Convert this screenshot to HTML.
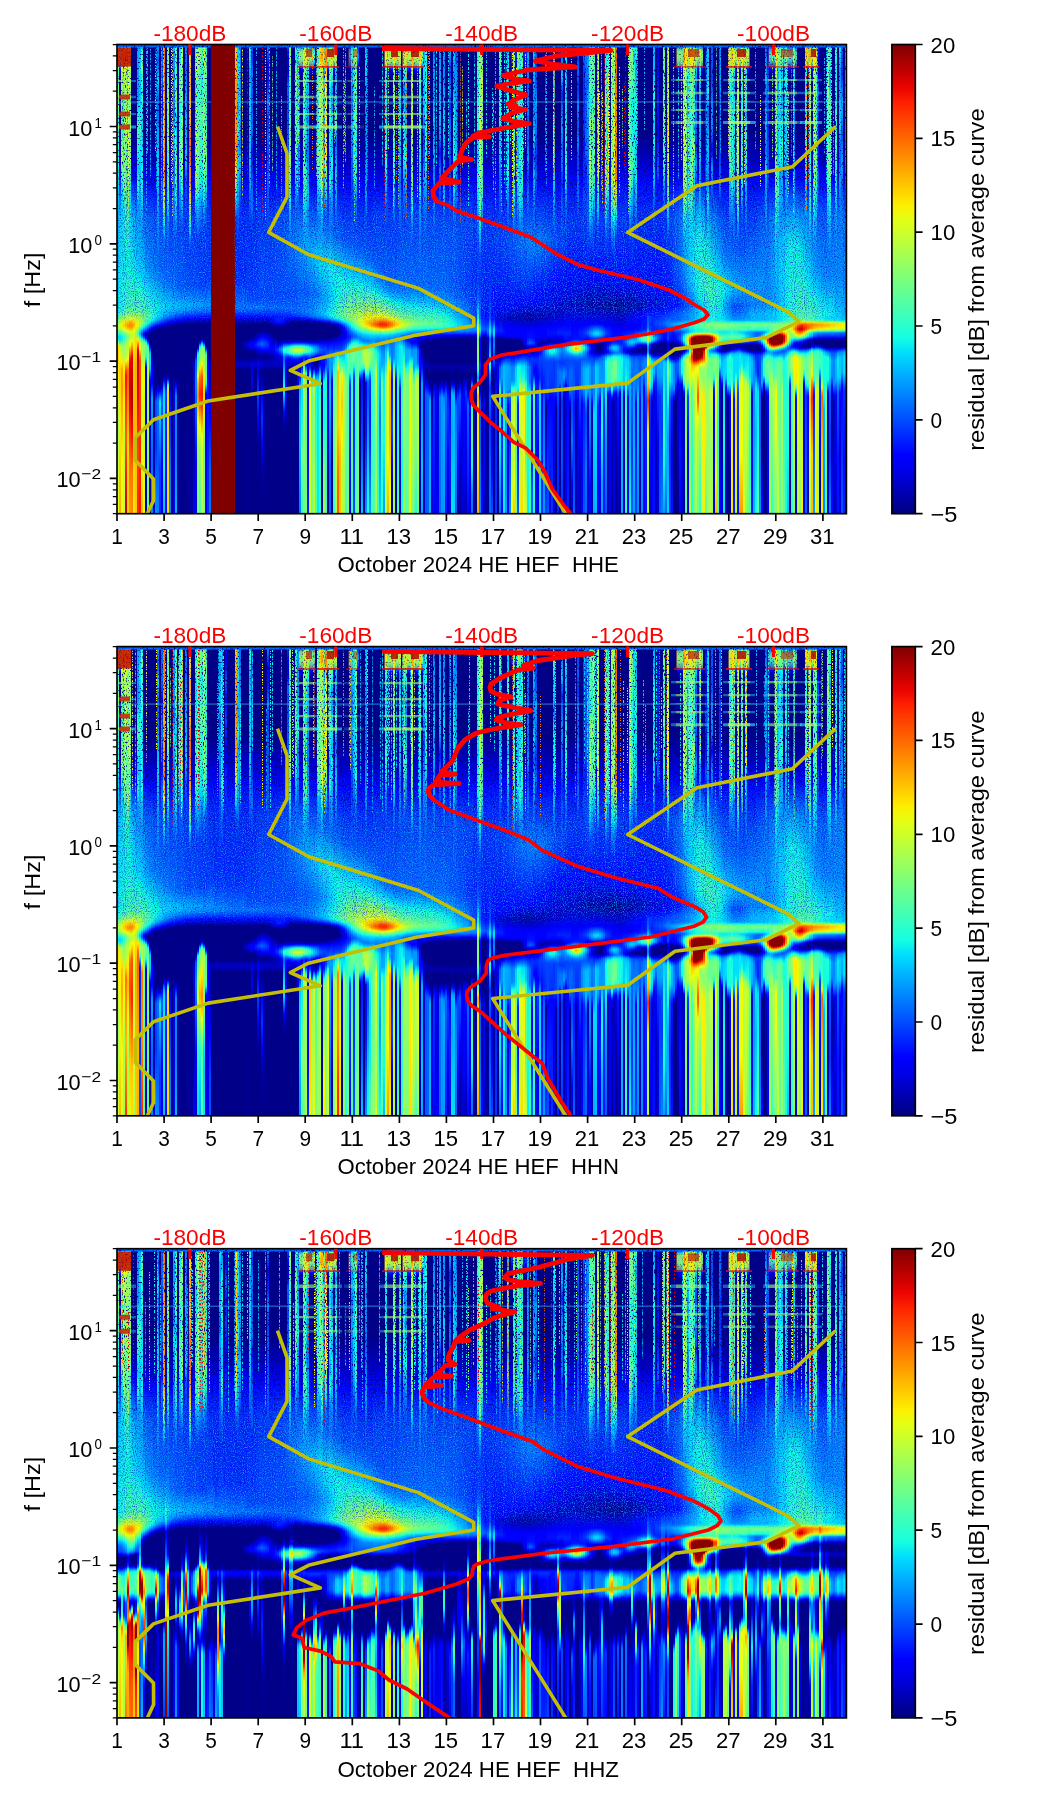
<!DOCTYPE html><html><head><meta charset="utf-8"><title>spectrogram</title><style>html,body{margin:0;padding:0;background:#fff}body{width:1052px;height:1806px;position:relative;overflow:hidden;font-family:"Liberation Sans",sans-serif}.p{position:absolute;left:117px;width:730px;height:469px;display:flex;overflow:hidden}.p i{display:block;flex:1 1 0;height:100%}</style></head><body><div class="p" style="top:45px"><i style="background:linear-gradient(#06f,#06f 2px,#ef1 3px,#fe0 5px,#fc0 10px,#ef0 15px,#6f8 24px,#4fb 32px,#8f6 55px,#4fb 73px,#1fd 122px,#0df 143px,#0bf 174px,#0ee 262px,#2fc 268px,#bf4 280px,#9f6 284px,#2fd 289px,#0df 291px,#0df 294px,#1fd 295px,#df2 300px,#fd0 302px,#fc0 312px,#fe0 328px,#af5 384px,#ef1)"></i><i style="background:linear-gradient(#06f,#06f 2px,#0bf 3px,#2fc 5px,#7f8 8px,#8f6 11px,#7f8 14px,#2fc 17px,#0bf 19px,#00f 25px,#00a 29px,#008 35px,#008 80px,#009 102px,#00f 131px,#0df 175px,#1fd 261px,#3fb 268px,#df1 280px,#af4 284px,#0ee 291px,#0df 294px,#cf2 302px,#fe0 316px,#fc0 324px,#fe0 376px,#fa0)"></i><i style="background:linear-gradient(#06f,#06f 2px,#bf3 3px,#fe0 6px,#fa0 13px,#ef1 21px,#af4 28px,#3fb 70px,#3fb 88px,#8f6 106px,#8f7 118px,#1fd 137px,#0df 142px,#2fc 262px,#4fa 268px,#df1 277px,#fe0 280px,#df1 283px,#2fc 290px,#0ee 293px,#9f6 301px,#af5 308px,#fe0 317px,#fa0 324px,#f90 343px,#ef0 416px,#df2)"></i><i style="background:linear-gradient(#06f,#06f 2px,#df2 3px,#fe0 5px,#fa0 12px,#ef1 21px,#bf4 28px,#bf3 38px,#5fa 56px,#8f7 74px,#8f7 144px,#1fd 164px,#1ee 219px,#3fc 263px,#6f9 269px,#fe0 277px,#fc0 281px,#ef1 284px,#4fb 290px,#2fd 293px,#8f6 300px,#af5 309px,#fe0 323px,#fc0 340px,#fe0 357px,#bf3 394px,#cf3)"></i><i style="background:linear-gradient(#06f,#06f 2px,#fd0 3px,#f90 10px,#ef0 20px,#9f5 31px,#bf3 87px,#5fa 105px,#6f8 141px,#1fd 219px,#4fb 263px,#7f8 269px,#fe0 276px,#fa0 280px,#fd0 284px,#ef1 285px,#7f7 289px,#5fa 292px,#af5 299px,#bf4 311px,#ef1 316px,#f40 326px,#f10 331px,#f60 393px,#f10 434px,#b00)"></i><i style="background:linear-gradient(#06f,#06f 2px,#ef1 3px,#fe0 5px,#fc0 11px,#fe0 16px,#7f8 28px,#af5 45px,#5fa 63px,#af4 99px,#6f9 135px,#bf3 153px,#3fc 179px,#1fd 217px,#4fa 263px,#7f8 268px,#df1 274px,#fd0 276px,#f80 281px,#ef1 286px,#9f5 289px,#8f7 292px,#bf3 298px,#ef1 314px,#f70 325px,#f60 332px,#fd0 402px,#fc0)"></i><i style="background:linear-gradient(#06f,#06f 2px,#ee0 3px,#fe0 4px,#fa0 11px,#df1 20px,#9f5 28px,#7f8 52px,#9f5 70px,#6f9 88px,#9f5 106px,#4fb 124px,#0df 167px,#1fd 223px,#4fa 261px,#7f7 268px,#ef1 274px,#f90 278px,#f80 281px,#df1 287px,#af4 291px,#ef1 300px,#f20 313px,#e00 317px,#c00 342px,#e00 363px,#f60 415px,#f90)"></i><i style="background:linear-gradient(#06f,#06f 2px,#008 3px,#008 7px,#008 88px,#00f 132px,#0cf 174px,#1fd 228px,#5fa 263px,#7f7 268px,#ef1 274px,#f80 280px,#f90 282px,#df1 287px,#bf3 291px,#ef1 296px,#f20 309px,#e00 312px,#a00 351px,#f10 390px,#f70 428px,#f80)"></i><i style="background:linear-gradient(#06f,#06f 2px,#008 3px,#008 88px,#00f 133px,#0bf 174px,#1fd 231px,#5f9 264px,#df1 274px,#fd0 276px,#fa0 280px,#ef0 285px,#bf4 289px,#fe0 296px,#fc0 319px,#fb0 379px,#fe0)"></i><i style="background:linear-gradient(#06f,#06f 2px,#008 3px,#008 13px,#008 89px,#00f 134px,#09f 173px,#0df 217px,#1fd 234px,#5f9 264px,#fe0 277px,#fe0 282px,#8f6 288px,#fd0 296px,#fa0 322px,#fc0)"></i><i style="background:linear-gradient(#06f,#06f 2px,#0af 3px,#09f 52px,#1fd 71px,#4fa 89px,#1fd 105px,#0cf 124px,#1fd 132px,#3fb 142px,#1fd 146px,#09f 161px,#0df 225px,#1fd 236px,#5fa 263px,#df1 278px,#cf2 281px,#4fb 287px,#3fb 289px,#6f9 291px,#df2 294px,#fe0 295px,#f20 303px,#d00 306px,#b00 312px,#e00 352px,#f40 404px,#f20)"></i><i style="background:linear-gradient(#06f,#06f 2px,#0af 3px,#1ee 27px,#0bf 45px,#0df 65px,#4fb 81px,#0df 110px,#09f 177px,#0df 229px,#1fd 239px,#5fa 263px,#bf3 277px,#9f6 281px,#0ee 286px,#0bf 288px,#0df 291px,#1fd 292px,#9f6 296px,#ef1 304px,#f70 311px,#f40 316px,#f10)"></i><i style="background:linear-gradient(#06f,#06f 2px,#2fd 3px,#7f8 21px,#1fe 39px,#3fc 58px,#0df 75px,#1fe 142px,#09f 183px,#0df 233px,#1fd 242px,#4fa 263px,#9f5 275px,#8f7 279px,#2fd 283px,#0bf 285px,#04f 289px,#06f 291px,#0cf 293px,#1fe 294px,#9f6 298px,#9f5 310px,#df1 326px,#cf2 390px,#ef1 418px,#fb0)"></i><i style="background:linear-gradient(#06f,#06f 2px,#008 3px,#008 30px,#008 90px,#00f 137px,#06f 171px,#0df 236px,#1fd 245px,#7f7 274px,#6f9 278px,#2fc 281px,#0cf 283px,#00f 288px,#00f 290px,#03f 292px,#0df 295px,#2fc 296px,#8f7 299px,#8f6 308px,#ef0 325px,#cf2 396px,#ef1)"></i><i style="background:linear-gradient(#06f,#06f 2px,#008 3px,#008 39px,#008 91px,#00f 138px,#06f 170px,#09f 221px,#0df 239px,#1fd 248px,#6f8 273px,#2fc 279px,#0df 281px,#00f 287px,#00a 290px,#00c 292px,#00f 293px,#0ee 297px,#3fc 298px,#6f9 300px,#6f9 306px,#2fc 312px,#0df 314px,#00f 322px,#00c 326px,#00d 379px,#00b 431px,#00b)"></i><i style="background:linear-gradient(#06f,#06f 2px,#008 3px,#008 39px,#008 91px,#00f 138px,#05f 172px,#09f 223px,#0df 242px,#1fd 252px,#5fa 272px,#1fd 278px,#0cf 280px,#01f 285px,#008 290px,#008 293px,#00f 296px,#0cf 300px,#1fd 301px,#4fb 303px,#bf4 324px,#7f7)"></i><i style="background:linear-gradient(#06f,#06f 2px,#008 3px,#008 11px,#008 88px,#00f 139px,#05f 171px,#08f 224px,#1fd 255px,#4fb 271px,#2fd 276px,#0df 278px,#00f 284px,#00e 285px,#008 288px,#008 298px,#008 299px,#00f 302px,#0cf 308px,#0df 319px,#0bf 324px,#00f 335px,#00d 339px,#00e 383px,#008)"></i><i style="background:linear-gradient(#06f,#06f 2px,#008 3px,#008 11px,#008 88px,#00f 139px,#05f 171px,#08f 225px,#1fd 257px,#3fc 270px,#1fd 275px,#00f 283px,#009 286px,#008 288px,#008 310px,#00f 319px,#00f 339px,#08f 350px,#0af 355px,#06f 411px,#08f)"></i><i style="background:linear-gradient(#06f,#06f 2px,#008 3px,#008 11px,#008 88px,#00f 139px,#04f 171px,#07f 224px,#0df 251px,#1fd 259px,#2fd 272px,#0cf 276px,#00f 282px,#008 286px,#008 317px,#00a 322px,#008 367px,#00d)"></i><i style="background:linear-gradient(#06f,#06f 2px,#008 3px,#008 10px,#008 88px,#00f 140px,#04f 170px,#07f 225px,#1fd 260px,#1fd 269px,#0bf 275px,#00f 281px,#008 285px,#008 295px,#008 340px,#00f 349px,#05f 357px,#03f 401px,#09f)"></i><i style="background:linear-gradient(#06f,#06f 2px,#09f 3px,#05f 17px,#0df 35px,#06f 53px,#06f 71px,#0af 89px,#0df 125px,#06f 214px,#08f 234px,#1fd 263px,#0cf 273px,#00e 281px,#008 284px,#008 285px,#008 338px,#00f 346px,#07f 355px,#05f 420px,#08f)"></i><i style="background:linear-gradient(#06f,#06f 2px,#008 3px,#008 10px,#008 88px,#00f 140px,#04f 170px,#06f 227px,#1ee 263px,#0cf 272px,#00f 280px,#008 284px,#008 341px,#00f 346px,#0bf 354px,#0ee 358px,#03f 426px,#02f)"></i><i style="background:linear-gradient(#06f,#06f 35px,#00f 55px,#07f 89px,#02f 107px,#01f 125px,#07f 143px,#04f 169px,#06f 226px,#0ee 263px,#0bf 272px,#00f 279px,#008 283px,#008 337px,#00f 344px,#06f 353px,#00f 418px,#00e)"></i><i style="background:linear-gradient(#06f,#06f 2px,#f70 3px,#f70 6px,#fa0 77px,#f80 131px,#fe0 150px,#bf3 161px,#1fd 180px,#0df 184px,#07f 196px,#05f 207px,#07f 239px,#0ee 262px,#0af 271px,#00e 279px,#008 283px,#008 330px,#00f 336px,#0af 343px,#0df 348px,#1fd 421px,#0bf)"></i><i style="background:linear-gradient(#06f,#06f 2px,#008 3px,#008 7px,#008 88px,#00f 141px,#03f 170px,#06f 232px,#0df 262px,#09f 271px,#00f 278px,#008 282px,#008 331px,#00f 341px,#03f 349px,#00f 406px,#00f)"></i><i style="background:linear-gradient(#06f,#06f 2px,#7f7 3px,#5fa 23px,#5f9 40px,#9f6 59px,#4fa 77px,#8f7 95px,#3fc 113px,#5f9 137px,#2fd 157px,#0df 163px,#07f 184px,#05f 202px,#07f 241px,#0df 262px,#09f 271px,#00f 277px,#008 282px,#008 330px,#00f 334px,#0bf 338px,#1ee 339px,#3fb 340px,#cf3 344px,#fd0 347px,#fd0)"></i><i style="background:linear-gradient(#06f,#06f 2px,#008 3px,#008 6px,#008 88px,#00f 141px,#03f 170px,#06f 237px,#0df 261px,#09f 269px,#00f 277px,#008 281px,#008 338px,#00f 348px,#07f 426px,#08f)"></i><i style="background:linear-gradient(#06f,#06f 2px,#008 3px,#008 7px,#008 88px,#00f 141px,#03f 170px,#06f 239px,#0cf 261px,#09f 269px,#00f 276px,#008 281px,#008)"></i><i style="background:linear-gradient(#06f,#06f 2px,#0cf 3px,#09f 17px,#0af 35px,#07f 70px,#0ee 89px,#07f 124px,#0af 151px,#05f 193px,#05f 219px,#07f 245px,#0cf 261px,#0af 267px,#00f 276px,#008 281px,#008 332px,#00e 347px,#00f)"></i><i style="background:linear-gradient(#06f,#06f 2px,#5fa 3px,#3fc 35px,#8f6 52px,#2fd 67px,#0df 71px,#0df 90px,#4fa 107px,#5f9 124px,#1fd 153px,#0df 162px,#05f 196px,#06f 242px,#0cf 261px,#09f 267px,#00f 275px,#008 280px,#008 334px,#00f 341px,#08f 351px,#08f 410px,#0bf)"></i><i style="background:linear-gradient(#06f,#06f 2px,#008 3px,#008 7px,#008 88px,#00f 141px,#03f 170px,#05f 241px,#0cf 261px,#09f 267px,#00f 275px,#008 280px,#009)"></i><i style="background:linear-gradient(#06f,#06f 2px,#0ee 3px,#1fd 15px,#6f9 29px,#6f8 47px,#1fd 65px,#2fc 83px,#6f9 101px,#1fd 130px,#0df 137px,#08f 155px,#04f 185px,#05f 242px,#0cf 261px,#09f 266px,#00f 275px,#008 280px,#009)"></i><i style="background:linear-gradient(#06f,#06f 2px,#af5 3px,#af4 14px,#7f8 32px,#5f9 68px,#8f6 86px,#6f9 104px,#af5 122px,#1fd 150px,#0df 156px,#06f 174px,#04f 189px,#05f 242px,#0bf 261px,#09f 266px,#00f 274px,#008 280px,#008)"></i><i style="background:linear-gradient(#06f,#06f 2px,#008 3px,#008 7px,#008 88px,#00f 141px,#03f 170px,#05f 241px,#0bf 260px,#09f 265px,#00f 274px,#008 280px,#008)"></i><i style="background:linear-gradient(#06f,#06f 2px,#08f 3px,#06f 26px,#09f 44px,#0cf 111px,#0cf 116px,#05f 135px,#03f 170px,#04f 230px,#05f 245px,#0bf 260px,#09f 265px,#00f 273px,#008 280px,#008)"></i><i style="background:linear-gradient(#06f,#06f 2px,#008 3px,#008 7px,#008 88px,#00f 141px,#03f 170px,#04f 241px,#0bf 260px,#09f 265px,#00f 273px,#008 279px,#00a)"></i><i style="background:linear-gradient(#06f,#06f 2px,#fb0 3px,#fd0 16px,#fa0 34px,#fb0 70px,#f70 88px,#f60 106px,#f90 137px,#fe0 155px,#2fd 181px,#0df 185px,#06f 197px,#03f 210px,#04f 242px,#0bf 261px,#09f 265px,#00f 273px,#008 279px,#008 317px,#009 321px,#008 325px,#009)"></i><i style="background:linear-gradient(#06f,#06f 2px,#008 3px,#008 7px,#008 88px,#00f 141px,#03f 170px,#04f 240px,#0af 260px,#08f 265px,#00f 273px,#008 279px,#008 316px,#00a 320px,#008 326px,#009)"></i><i style="background:linear-gradient(#06f,#06f 2px,#008 3px,#008 7px,#008 88px,#00f 141px,#03f 170px,#04f 240px,#0af 260px,#08f 265px,#00f 273px,#008 279px,#008 313px,#00d 319px,#00e 334px,#00a 401px,#00f)"></i><i style="background:linear-gradient(#06f,#06f 2px,#1fd 3px,#5fa 24px,#0df 42px,#3fb 78px,#4fa 140px,#1fd 154px,#0df 159px,#08f 171px,#03f 195px,#04f 241px,#0af 260px,#08f 265px,#00f 272px,#008 279px,#008 292px,#008 306px,#00f 311px,#05f 316px,#08f 338px,#00f 416px,#00d)"></i><i style="background:linear-gradient(#06f,#06f 2px,#8f7 3px,#af4 13px,#3fc 46px,#7f8 100px,#6f9 135px,#1fd 152px,#0df 159px,#03f 197px,#04f 241px,#0af 260px,#08f 265px,#00f 272px,#008 279px,#008 300px,#00e 303px,#01f 304px,#0df 308px,#2fc 310px,#6f8 321px,#ef0 331px,#fd0 333px,#fa0 340px,#f80 351px,#ef1 377px,#9f6 405px,#7f8)"></i><i style="background:linear-gradient(#06f,#06f 2px,#7f8 3px,#7f7 13px,#3fc 30px,#5fa 66px,#1fd 138px,#0df 146px,#03f 192px,#03f 240px,#0af 260px,#08f 265px,#00f 272px,#008 279px,#008 294px,#00d 297px,#01f 298px,#0cf 301px,#1fd 302px,#6f8 305px,#9f5 315px,#fe0 323px,#f60 333px,#f20 349px,#f50 360px,#ef1 382px,#9f5 403px,#4fb)"></i><i style="background:linear-gradient(#06f,#06f 2px,#5fa 3px,#5f9 11px,#1fd 24px,#1ee 34px,#6f8 72px,#2fd 90px,#3fb 108px,#1fd 122px,#0ee 143px,#07f 162px,#03f 191px,#03f 240px,#0af 260px,#07f 265px,#00f 272px,#008 279px,#008 292px,#008 293px,#00d 295px,#01f 296px,#0df 299px,#2fc 300px,#8f6 303px,#af4 313px,#ef0 319px,#f50 331px,#f10 349px,#f30 360px,#ef1 390px,#af5)"></i><i style="background:linear-gradient(#06f,#06f 2px,#af5 3px,#cf2 12px,#5fa 39px,#8f6 58px,#7f8 76px,#9f5 94px,#7f7 130px,#1fd 153px,#0df 158px,#06f 176px,#03f 195px,#03f 240px,#09f 260px,#07f 265px,#00f 272px,#008 279px,#008 295px,#00d 297px,#01f 298px,#0cf 301px,#2fd 302px,#6f8 304px,#8f6 306px,#fe0 338px,#fd0 350px,#fe0 362px,#8f6 388px,#6f8 407px,#8f7)"></i><i style="background:linear-gradient(#06f,#06f 2px,#1fe 3px,#1fd 5px,#5fa 22px,#1fd 76px,#5f9 112px,#1fd 139px,#06f 165px,#03f 188px,#03f 240px,#09f 260px,#07f 265px,#00f 272px,#008 279px,#008 300px,#00e 303px,#0bf 307px,#2fc 309px,#4fa 311px,#6f9 333px,#1fd 339px,#0cf 341px,#00f 349px,#00d 394px,#00f)"></i><i style="background:linear-gradient(#06f,#06f 2px,#008 3px,#008 6px,#008 88px,#00f 136px,#03f 169px,#03f 235px,#09f 260px,#07f 265px,#00f 272px,#008 278px,#008 286px,#008 310px,#00f 317px,#03f)"></i><i style="background:linear-gradient(#06f,#06f 2px,#008 3px,#008 6px,#008 88px,#00f 136px,#02f 169px,#03f 234px,#09f 260px,#07f 265px,#00f 272px,#008 278px,#008 281px,#008 313px,#00b 319px,#00a 340px,#00f 357px,#00f 373px,#06f 424px,#07f)"></i><i style="background:#800"></i><i style="background:#800"></i><i style="background:#800"></i><i style="background:#800"></i><i style="background:#800"></i><i style="background:#800"></i><i style="background:#800"></i><i style="background:#800"></i><i style="background:#800"></i><i style="background:#800"></i><i style="background:#800"></i><i style="background:#800"></i><i style="background:linear-gradient(#06f,#06f 2px,#fc0 3px,#f90 39px,#f90 108px,#fe0 125px,#1fd 152px,#0df 156px,#05f 170px,#02f 182px,#02f 236px,#07f 263px,#00f 272px,#008 279px,#008 313px,#00c 319px,#008 325px,#008)"></i><i style="background:linear-gradient(#06f,#06f 2px,#0cf 3px,#0ee 29px,#0af 64px,#1fd 84px,#0af 101px,#0df 119px,#0af 151px,#05f 172px,#02f 194px,#02f 237px,#07f 263px,#00f 272px,#008 279px,#008 313px,#00c 319px,#008 325px,#008)"></i><i style="background:linear-gradient(#06f,#08f 24px,#08f 42px,#0bf 60px,#06f 96px,#0cf 114px,#02f 168px,#02f 235px,#07f 263px,#00f 272px,#008 279px,#008 313px,#00c 319px,#008 325px,#008)"></i><i style="background:linear-gradient(#06f,#06f 2px,#008 3px,#008 88px,#00f 137px,#02f 167px,#02f 235px,#07f 263px,#00f 272px,#008 279px,#008 296px,#009 300px,#008 313px,#00c 319px,#008 325px,#008)"></i><i style="background:linear-gradient(#06f,#06f 2px,#008 3px,#008 88px,#00f 137px,#02f 167px,#02f 235px,#07f 263px,#00f 272px,#008 279px,#008 295px,#00b 300px,#008 305px,#008 313px,#00c 319px,#008 325px,#008)"></i><i style="background:linear-gradient(#06f,#06f 2px,#008 3px,#008 88px,#00f 137px,#02f 167px,#02f 235px,#05f 256px,#07f 263px,#00f 272px,#008 279px,#008 294px,#00d 300px,#008 306px,#008 313px,#00c 319px,#008 325px,#009)"></i><i style="background:linear-gradient(#06f,#06f 2px,#008 3px,#008 88px,#00f 137px,#02f 168px,#03f 236px,#04f 256px,#07f 263px,#00f 272px,#008 279px,#008 294px,#00e 300px,#008 306px,#008 313px,#00c 319px,#008 325px,#008)"></i><i style="background:linear-gradient(#06f,#06f 2px,#2fc 3px,#1fd 16px,#09f 30px,#0df 48px,#0cf 116px,#02f 181px,#03f 236px,#04f 255px,#07f 263px,#00f 272px,#008 279px,#008 293px,#00f 299px,#00f 301px,#008 307px,#008 313px,#00c 319px,#008 325px,#008)"></i><i style="background:linear-gradient(#06f,#03f 13px,#08f 31px,#05f 49px,#07f 85px,#01f 104px,#07f 157px,#02f 186px,#02f 233px,#04f 255px,#07f 263px,#00f 272px,#008 279px,#008 292px,#00f 298px,#00f 302px,#008 307px,#008 312px,#00e 319px,#00d 326px,#00f 338px,#009 351px,#008 359px,#008)"></i><i style="background:linear-gradient(#06f,#06f 2px,#008 3px,#008 88px,#00f 140px,#02f 168px,#03f 237px,#04f 255px,#07f 263px,#00f 272px,#008 279px,#008 290px,#00f 298px,#00f 302px,#009 306px,#008 309px,#008 313px,#00d 319px,#008 327px,#008)"></i><i style="background:linear-gradient(#06f,#06f 2px,#008 3px,#008 88px,#00f 136px,#02f 169px,#03f 238px,#04f 255px,#07f 263px,#00f 272px,#008 279px,#008 288px,#00f 297px,#02f 300px,#00f 303px,#00a 306px,#008 310px,#008 313px,#00c 319px,#008 325px,#008)"></i><i style="background:linear-gradient(#06f,#06f 2px,#008 3px,#008 88px,#00f 136px,#03f 169px,#03f 239px,#04f 255px,#07f 263px,#00f 272px,#008 279px,#008 286px,#00f 295px,#04f 299px,#00f 304px,#00b 308px,#009 312px,#00f 318px,#00d 326px,#00f 331px,#04f 350px,#00f 373px,#009 400px,#008)"></i><i style="background:linear-gradient(#06f,#06f 2px,#008 3px,#008 88px,#00f 136px,#03f 169px,#04f 253px,#07f 263px,#00f 272px,#008 279px,#008 286px,#00f 293px,#05f 299px,#00f 304px,#008 312px,#00d 319px,#008 327px,#00b 362px,#008 399px,#008)"></i><i style="background:linear-gradient(#06f,#06f 2px,#008 3px,#008 88px,#00f 136px,#03f 169px,#04f 253px,#07f 263px,#00f 272px,#008 278px,#008 285px,#00f 292px,#06f 299px,#00f 305px,#008 312px,#00d 319px,#008 327px,#00f 351px,#03f 375px,#00f 399px,#009 428px,#008)"></i><i style="background:linear-gradient(#06f,#06f 2px,#008 3px,#008 88px,#00f 136px,#03f 170px,#04f 253px,#06f 263px,#00f 272px,#008 278px,#008 285px,#00f 292px,#05f 299px,#00f 305px,#008 311px,#00c 319px,#008 325px,#00b 375px,#008)"></i><i style="background:linear-gradient(#06f,#06f 2px,#008 3px,#008 88px,#00f 136px,#03f 170px,#04f 253px,#06f 263px,#00f 272px,#008 279px,#008 286px,#00f 293px,#04f 299px,#00f 305px,#008 311px,#00c 319px,#008 325px,#008)"></i><i style="background:linear-gradient(#06f,#07f 4px,#00f 21px,#02f 39px,#08f 57px,#03f 75px,#06f 93px,#04f 111px,#06f 129px,#03f 189px,#04f 253px,#06f 263px,#00f 272px,#008 279px,#008 286px,#00f 294px,#03f 300px,#00f 305px,#008 312px,#00c 319px,#008 325px,#008)"></i><i style="background:linear-gradient(#06f,#06f 2px,#008 3px,#008 88px,#00f 140px,#03f 171px,#04f 254px,#06f 263px,#00f 273px,#008 281px,#008 287px,#00f 297px,#00f 305px,#009 311px,#00c 319px,#008 325px,#008)"></i><i style="background:linear-gradient(#06f,#06f 2px,#008 3px,#008 88px,#00f 136px,#03f 172px,#04f 253px,#06f 263px,#00f 274px,#008 282px,#008 288px,#00f 301px,#00f 306px,#009 312px,#00c 319px,#008 325px,#008)"></i><i style="background:linear-gradient(#06f,#06f 2px,#008 3px,#008 88px,#00f 136px,#03f 172px,#04f 254px,#06f 263px,#00f 272px,#00f 276px,#008 282px,#008 291px,#00f 302px,#00f 307px,#00a 312px,#00c 319px,#008 325px,#008)"></i><i style="background:linear-gradient(#06f,#06f 2px,#008 3px,#008 88px,#00f 140px,#04f 171px,#04f 253px,#06f 263px,#01f 272px,#00f 278px,#008 282px,#008 293px,#01f 302px,#02f 305px,#00f 308px,#00b 313px,#00c 319px,#008 325px,#008)"></i><i style="background:linear-gradient(#06f,#06f 2px,#008 3px,#008 88px,#00f 136px,#04f 172px,#04f 253px,#06f 263px,#01f 272px,#02f 276px,#00f 278px,#008 282px,#008 283px,#008 294px,#00f 301px,#04f 305px,#00f 309px,#00b 313px,#00c 320px,#008 325px,#008)"></i><i style="background:linear-gradient(#06f,#06f 2px,#008 3px,#008 88px,#00f 140px,#04f 173px,#04f 252px,#06f 263px,#01f 272px,#02f 276px,#00f 278px,#008 282px,#008 283px,#008 295px,#00f 300px,#06f 303px,#07f 305px,#00e 311px,#00c 314px,#00c 320px,#008 325px,#008)"></i><i style="background:linear-gradient(#06f,#06f 2px,#008 3px,#008 6px,#008 88px,#00f 135px,#04f 174px,#04f 252px,#06f 263px,#01f 272px,#00f 278px,#008 282px,#008 294px,#009 296px,#00f 299px,#08f 303px,#0af 305px,#00f 312px,#00c 320px,#008 325px,#008)"></i><i style="background:linear-gradient(#06f,#06f 2px,#008 3px,#008 8px,#008 88px,#01f 144px,#05f 175px,#04f 252px,#06f 263px,#00f 276px,#00e 278px,#008 282px,#008 292px,#009 295px,#00f 298px,#0bf 302px,#2fd 304px,#2fd 307px,#08f 311px,#06f 314px,#1fe 342px,#0cf 350px,#00f 367px,#00a 379px,#008 391px,#008)"></i><i style="background:linear-gradient(#06f,#06f 2px,#008 3px,#008 8px,#008 88px,#00f 135px,#05f 176px,#04f 251px,#06f 263px,#00f 274px,#008 281px,#008 293px,#00a 296px,#00f 298px,#1fd 303px,#3fb 305px,#2fd 307px,#0df 308px,#03f 312px,#00f 315px,#00f 322px,#00c 326px,#00e 343px,#008 385px,#008)"></i><i style="background:linear-gradient(#06f,#06f 2px,#03f 3px,#00f 13px,#00d 23px,#00f 29px,#06f 41px,#04f 59px,#07f 131px,#04f 167px,#06f 197px,#04f 252px,#06f 264px,#00f 273px,#008 281px,#008 294px,#00f 298px,#0ee 302px,#5fa 305px,#3fb 307px,#1fe 308px,#0bf 309px,#02f 312px,#00f 314px,#00c 320px,#008 325px,#008)"></i><i style="background:linear-gradient(#06f,#06f 2px,#7f8 3px,#8f6 9px,#2fd 45px,#8f7 116px,#1fd 154px,#0af 170px,#07f 192px,#04f 248px,#06f 264px,#00f 273px,#008 277px,#008 293px,#009 295px,#00d 297px,#00f 298px,#0cf 301px,#2fc 302px,#7f7 305px,#3fc 308px,#0ee 309px,#03f 312px,#00f 314px,#00d 319px,#008 325px,#008)"></i><i style="background:linear-gradient(#06f,#06f 2px,#008 3px,#008 88px,#00f 140px,#05f 172px,#07f 197px,#04f 248px,#06f 264px,#05f 268px,#00f 273px,#008 277px,#008 293px,#009 295px,#00e 297px,#01f 298px,#0ee 301px,#7f8 303px,#9f5 305px,#7f7 307px,#2fd 309px,#0bf 310px,#04f 312px,#00f 315px,#008 325px,#008)"></i><i style="background:linear-gradient(#06f,#06f 2px,#008 3px,#008 88px,#00f 140px,#06f 173px,#07f 197px,#04f 247px,#06f 264px,#04f 269px,#00f 273px,#008 277px,#008 293px,#009 295px,#00e 297px,#01f 298px,#1fd 301px,#8f6 303px,#bf4 305px,#9f6 307px,#3fc 309px,#0df 310px,#03f 313px,#00f 315px,#008 326px,#008)"></i><i style="background:linear-gradient(#06f,#06f 2px,#4fb 3px,#0ee 13px,#8f6 32px,#5fa 50px,#5f9 103px,#1fd 120px,#0df 132px,#06f 167px,#08f 202px,#04f 249px,#06f 265px,#04f 269px,#00f 273px,#008 277px,#008 293px,#009 295px,#00e 297px,#02f 298px,#0bf 300px,#2fc 301px,#9f6 303px,#cf3 305px,#9f5 307px,#3fb 309px,#0df 310px,#03f 313px,#00f 315px,#00a 323px,#008 354px,#008)"></i><i style="background:linear-gradient(#06f,#06f 2px,#09f 3px,#09f 49px,#0df 68px,#1fe 85px,#07f 104px,#0af 122px,#05f 157px,#08f 198px,#05f 246px,#06f 264px,#05f 269px,#00f 273px,#008 277px,#008 293px,#009 295px,#00e 297px,#02f 298px,#0bf 300px,#2fc 301px,#9f5 303px,#cf2 305px,#af5 307px,#4fb 309px,#0df 310px,#03f 313px,#00f 316px,#00f 335px,#009 353px,#009)"></i><i style="background:linear-gradient(#06f,#06f 2px,#1fe 7px,#3fb 11px,#2fd 14px,#0df 16px,#00f 24px,#00a 29px,#008 35px,#008 80px,#00f 140px,#07f 176px,#09f 200px,#05f 246px,#06f 265px,#04f 270px,#00f 273px,#008 277px,#008 293px,#009 295px,#00e 297px,#02f 298px,#0bf 300px,#2fc 301px,#9f6 303px,#cf3 305px,#9f5 307px,#3fb 309px,#0df 310px,#05f 312px,#00f 314px,#00b 318px,#00b 323px,#00f 331px,#0af 342px,#0cf 360px,#0cf 398px,#07f)"></i><i style="background:linear-gradient(#06f,#06f 2px,#1fe 7px,#3fb 11px,#2fd 14px,#0df 16px,#00f 24px,#00a 29px,#008 35px,#008 80px,#00f 140px,#07f 177px,#09f 201px,#05f 246px,#07f 266px,#05f 270px,#01f 273px,#00f 274px,#008 277px,#008 293px,#009 295px,#00e 297px,#02f 298px,#0bf 300px,#2fd 301px,#8f6 303px,#bf4 305px,#af4 306px,#5fa 308px,#1fe 309px,#0af 310px,#00f 313px,#00c 317px,#00f 321px,#0af 330px,#0df 335px,#0ee 355px,#6f9 410px,#3fb)"></i><i style="background:linear-gradient(#06f,#06f 2px,#7f8 3px,#bf4 13px,#7f7 26px,#7f7 46px,#2fd 64px,#4fa 82px,#5f9 136px,#1fd 160px,#0af 182px,#0af 210px,#05f 243px,#07f 266px,#05f 270px,#00f 274px,#008 277px,#008 293px,#009 295px,#00d 297px,#02f 298px,#0af 300px,#1fe 301px,#4fa 302px,#9f6 305px,#2fc 308px,#0cf 309px,#04f 311px,#02f 313px,#04f 316px,#0df 320px,#1fd 321px,#7f7 325px,#af5 329px,#6f8)"></i><i style="background:linear-gradient(#06f,#06f 2px,#6f9 3px,#bf3 12px,#af5 18px,#2fc 30px,#0df 47px,#0cf 55px,#0ee 91px,#08f 109px,#1fd 125px,#3fb 145px,#1fd 153px,#0df 160px,#0af 178px,#0af 210px,#05f 248px,#07f 266px,#06f 270px,#00f 274px,#008 277px,#008 293px,#009 295px,#00d 297px,#01f 298px,#09f 300px,#0df 301px,#3fc 302px,#7f7 305px,#4fb 307px,#1fd 308px,#0bf 309px,#04f 311px,#00f 313px,#00d 316px,#00f 319px,#02f 321px,#1fd 328px,#7f7 335px,#5f9 376px,#7f7)"></i><i style="background:linear-gradient(#06f,#06f 2px,#3fb 3px,#7f7 9px,#8f7 13px,#1fd 26px,#0bf 40px,#07f 112px,#0cf 148px,#08f 172px,#0bf 209px,#05f 247px,#07f 267px,#05f 271px,#00f 274px,#008 277px,#008 294px,#00a 296px,#00d 297px,#01f 298px,#0cf 301px,#1fd 302px,#5f9 305px,#3fc 307px,#0bf 309px,#03f 312px,#00f 316px,#00f 420px,#02f)"></i><i style="background:linear-gradient(#06f,#06f 2px,#1fe 7px,#3fb 11px,#2fd 14px,#0df 16px,#00f 24px,#00a 29px,#008 35px,#008 80px,#00f 140px,#0bf 208px,#06f 247px,#08f 267px,#06f 271px,#01f 274px,#00e 275px,#008 277px,#008 278px,#008 294px,#00a 296px,#00d 297px,#00f 298px,#0af 301px,#2fd 303px,#3fb 305px,#1fd 307px,#0df 308px,#02f 313px,#00f 320px,#03f 323px,#0cf 327px,#2fc 329px,#bf4 334px,#ef1 338px,#cf2)"></i><i style="background:linear-gradient(#06f,#06f 2px,#1fe 7px,#3fb 11px,#2fd 14px,#0df 16px,#00f 24px,#00a 29px,#008 35px,#008 80px,#00f 141px,#0cf 210px,#06f 248px,#08f 268px,#07f 271px,#00f 275px,#009 277px,#008 278px,#008 295px,#00d 297px,#00f 298px,#0bf 302px,#1fd 305px,#0df 307px,#03f 311px,#00f 313px,#00c 316px,#00b 323px,#00f 328px,#0df 336px,#2fd 338px,#6f9 344px,#8f6 420px,#7f7)"></i><i style="background:linear-gradient(#06f,#06f 2px,#1fe 7px,#3fb 11px,#2fd 14px,#0df 16px,#00f 24px,#00a 29px,#008 35px,#008 79px,#00f 141px,#0cf 212px,#06f 248px,#09f 268px,#06f 272px,#00f 275px,#008 278px,#008 295px,#00f 298px,#09f 302px,#0cf 305px,#0bf 307px,#00f 312px,#00a 315px,#008 319px,#00f 324px,#0df 330px,#2fd 331px,#8f7 335px,#af4 338px,#8f7 383px,#bf3)"></i><i style="background:linear-gradient(#06f,#06f 2px,#008 3px,#008 7px,#008 88px,#00f 141px,#0df 214px,#07f 249px,#0af 268px,#07f 272px,#00f 275px,#00d 276px,#008 278px,#008 294px,#008 295px,#00f 298px,#08f 302px,#0af 305px,#09f 307px,#00f 311px,#009 315px,#008 319px,#009 322px,#00e 326px,#00f 327px,#0cf 335px,#1fd 339px,#5f9)"></i><i style="background:linear-gradient(#06f,#06f 2px,#3fc 3px,#4fb 51px,#0df 70px,#1fd 82px,#5fa 120px,#1fd 137px,#0df 145px,#07f 175px,#0df 213px,#07f 250px,#0af 268px,#08f 272px,#00e 276px,#008 278px,#008 294px,#008 295px,#00f 298px,#06f 302px,#08f 305px,#07f 307px,#00f 311px,#00b 315px,#00a 319px,#00f 325px,#0cf 334px,#0ee 338px,#0ee)"></i><i style="background:linear-gradient(#06f,#06f 2px,#ef1 3px,#fd0 5px,#fa0 12px,#ef0 19px,#8f6 31px,#bf4 62px,#6f9 80px,#6f8 133px,#2fd 142px,#0af 152px,#08f 179px,#0ee 219px,#08f 250px,#0bf 268px,#08f 272px,#00f 276px,#008 278px,#008 294px,#00f 298px,#06f 305px,#00f 311px,#00d 316px,#00f 320px,#0cf 329px,#1fd 332px,#4fb 368px,#1fd)"></i><i style="background:linear-gradient(#06f,#06f 2px,#fc0 3px,#f70 11px,#f90 15px,#ef0 21px,#af4 29px,#bf4 42px,#8f7 60px,#af4 78px,#9f5 96px,#ef1 132px,#2fd 161px,#0df 166px,#09f 187px,#0ee 217px,#09f 251px,#0cf 268px,#09f 272px,#00f 276px,#009 278px,#008 279px,#008 294px,#00f 298px,#05f 305px,#01f 312px,#00f 326px,#00a 340px,#008 361px,#008)"></i><i style="background:linear-gradient(#06f,#06f 2px,#2fc 3px,#6f8 12px,#1fd 20px,#09f 28px,#1fd 45px,#0af 82px,#1fd 118px,#0df 126px,#06f 152px,#05f 173px,#1ee 222px,#0af 251px,#0cf 269px,#0af 272px,#01f 276px,#00d 277px,#008 279px,#008 294px,#00f 298px,#04f 304px,#01f 313px,#00f 321px,#02f 325px,#0cf 334px,#1fd 337px,#1fd 377px,#8f7 430px,#9f5)"></i><i style="background:linear-gradient(#06f,#06f 2px,#f70 3px,#f20 11px,#fc0 26px,#ef0 43px,#df2 52px,#fd0 105px,#fe0 110px,#8f6 124px,#1fd 147px,#0df 151px,#08f 161px,#05f 176px,#1ee 219px,#0af 252px,#0df 268px,#0bf 272px,#00e 277px,#008 279px,#008 293px,#00f 298px,#04f 304px,#03f 319px,#0df 330px,#1fd 333px,#4fb)"></i><i style="background:linear-gradient(#06f,#06f 2px,#0bf 3px,#2fc 5px,#7f8 8px,#8f6 11px,#7f8 14px,#2fc 17px,#0bf 19px,#00f 25px,#00a 29px,#008 35px,#008 80px,#00f 141px,#06f 184px,#1ee 220px,#0bf 252px,#1ee 268px,#0cf 272px,#00f 277px,#008 279px,#008 280px,#008 293px,#00f 298px,#07f 314px,#06f 322px,#00f 332px,#00d 338px,#00e 380px,#009 433px,#008)"></i><i style="background:linear-gradient(#06f,#06f 2px,#7f8 3px,#bf3 11px,#1fd 39px,#0df 45px,#0cf 48px,#0df 53px,#4fa 66px,#1ee 84px,#1ee 102px,#0af 120px,#1fd 131px,#3fb 138px,#1fd 142px,#08f 156px,#07f 185px,#1fe 223px,#0cf 252px,#1fd 270px,#0cf 273px,#00f 277px,#00d 278px,#008 280px,#008 293px,#00f 298px,#09f 313px,#0bf 350px,#06f 421px,#06f)"></i><i style="background:linear-gradient(#06f,#06f 2px,#6f8 3px,#bf4 12px,#2fd 29px,#0df 35px,#0af 44px,#09f 62px,#1fe 80px,#0bf 98px,#1fe 116px,#06f 184px,#1fe 225px,#0df 251px,#2fd 271px,#0bf 274px,#00e 278px,#008 280px,#008 292px,#00f 297px,#09f 315px,#08f 324px,#00f 336px,#008 418px,#008)"></i><i style="background:linear-gradient(#06f,#06f 2px,#0bf 3px,#2fc 5px,#7f8 8px,#8f6 11px,#7f8 14px,#2fc 17px,#0bf 19px,#00f 25px,#00a 29px,#008 35px,#008 80px,#00f 141px,#06f 189px,#1fd 227px,#0ee 253px,#3fb 268px,#2fd 272px,#0cf 274px,#00f 278px,#008 281px,#008 283px,#008 292px,#00f 297px,#03f 305px,#0bf 313px,#2fd 325px,#5fa 334px,#6f9 393px,#3fc)"></i><i style="background:linear-gradient(#06f,#06f 2px,#6f8 3px,#af5 10px,#8f6 14px,#1fd 21px,#0df 23px,#09f 34px,#0df 61px,#1fd 67px,#5fa 77px,#2fd 82px,#0df 86px,#06f 96px,#0df 132px,#05f 181px,#07f 195px,#1fd 229px,#1fd 253px,#4fa 268px,#2fd 273px,#0bf 275px,#01f 278px,#00e 279px,#008 282px,#008 290px,#00f 297px,#04f 305px,#0cf 311px,#1fd 314px,#7f7 336px,#cf3 415px,#bf4)"></i><i style="background:linear-gradient(#06f,#06f 2px,#008 3px,#008 7px,#008 88px,#00f 141px,#06f 192px,#1fd 231px,#2fd 252px,#5fa 268px,#3fc 273px,#0cf 275px,#00f 279px,#009 282px,#008 286px,#008 290px,#00f 296px,#04f 305px,#0cf 310px,#3fc 312px,#fe0 323px,#fb0 327px,#fc0 380px,#f60 435px,#f50)"></i><i style="background:linear-gradient(#06f,#06f 2px,#008 3px,#008 7px,#008 88px,#00f 141px,#06f 193px,#1fd 232px,#2fc 252px,#6f9 268px,#2fc 274px,#0bf 276px,#00f 280px,#00b 283px,#009 288px,#00f 296px,#04f 305px,#0df 312px,#1fd 314px,#cf3 333px,#fe0 375px,#fb0 415px,#fc0)"></i><i style="background:linear-gradient(#06f,#06f 2px,#008 3px,#008 7px,#008 88px,#00f 141px,#05f 194px,#0df 223px,#1fd 234px,#3fc 252px,#7f8 269px,#6f9 272px,#2fd 275px,#0df 276px,#00f 281px,#00b 289px,#00f 295px,#04f 304px,#0df 312px,#2fd 318px,#df2 329px,#fe0 333px,#fc0 359px,#ef0 392px,#bf3 426px,#bf3)"></i><i style="background:linear-gradient(#06f,#06f 2px,#008 3px,#008 7px,#008 88px,#00f 141px,#05f 195px,#0df 225px,#1fd 236px,#3fc 252px,#7f7 269px,#6f9 273px,#1fd 276px,#0df 277px,#05f 280px,#00f 283px,#00d 289px,#00f 294px,#05f 303px,#0cf 311px,#2fd 319px,#af5 333px,#af5)"></i><i style="background:linear-gradient(#06f,#06f 2px,#008 3px,#008 7px,#008 88px,#00f 141px,#05f 196px,#0df 226px,#1fd 237px,#8f6 269px,#7f8 273px,#3fc 276px,#0cf 278px,#03f 283px,#00f 287px,#00f 292px,#04f 299px,#0df 307px,#1fd 310px,#1fd 320px,#8f7 337px,#4fb)"></i><i style="background:linear-gradient(#06f,#06f 2px,#008 3px,#008 7px,#008 88px,#00f 141px,#05f 198px,#0df 228px,#1fd 238px,#9f6 270px,#7f7 274px,#3fc 277px,#0df 279px,#05f 284px,#01f 291px,#03f 296px,#0df 302px,#2fd 304px,#4fb 307px,#5fa 325px,#4fb 368px,#8f6)"></i><i style="background:linear-gradient(#06f,#06f 2px,#02f 3px,#07f 8px,#08f 12px,#00f 21px,#00a 27px,#008 33px,#008 79px,#00f 141px,#05f 199px,#0df 229px,#1fd 238px,#9f5 270px,#8f6 274px,#1fd 279px,#0cf 281px,#06f 286px,#02f 292px,#04f 295px,#0cf 299px,#2fc 301px,#5f9 305px,#5f9 321px,#2fd 328px,#0df 330px,#06f 336px,#03f 341px,#00e)"></i><i style="background:linear-gradient(#06f,#06f 2px,#0cf 3px,#1fd 10px,#0af 25px,#0af 40px,#05f 57px,#0af 76px,#03f 147px,#05f 196px,#0df 230px,#1fd 239px,#af5 271px,#8f6 275px,#1fe 281px,#06f 288px,#04f 292px,#0cf 297px,#2fc 299px,#6f9 303px,#6f9 315px,#2fd 332px,#6f8 393px,#3fc)"></i><i style="background:linear-gradient(#06f,#06f 2px,#0ee 3px,#1fd 6px,#0bf 53px,#0df 71px,#0cf 123px,#05f 152px,#03f 171px,#05f 202px,#0df 231px,#1fd 239px,#af4 272px,#9f6 276px,#2fc 282px,#0cf 285px,#05f 291px,#07f 293px,#0cf 296px,#2fc 298px,#6f9 302px,#6f9 315px,#1fd 322px,#0cf 324px,#05f 330px,#02f 335px,#04f)"></i><i style="background:linear-gradient(#06f,#06f 2px,#8f6 3px,#9f5 8px,#5f9 22px,#6f8 34px,#3fc 52px,#5f9 70px,#1fe 88px,#1ee 106px,#3fb 124px,#1fd 134px,#06f 163px,#04f 183px,#06f 207px,#0ee 234px,#bf3 273px,#9f6 278px,#2fd 284px,#0cf 286px,#06f 291px,#07f 293px,#0cf 296px,#2fc 298px,#6f9 302px,#3fb 330px,#3fc 397px,#6f9)"></i><i style="background:linear-gradient(#06f,#06f 2px,#02f 3px,#07f 8px,#08f 12px,#00f 21px,#00a 27px,#008 33px,#008 79px,#00f 141px,#05f 204px,#0df 232px,#1fd 240px,#cf3 274px,#af5 279px,#2fc 285px,#0df 287px,#07f 292px,#0df 297px,#2fd 299px,#5fa 303px,#6f9 324px,#7f8)"></i><i style="background:linear-gradient(#06f,#06f 2px,#008 3px,#008 7px,#008 88px,#00f 141px,#05f 204px,#0df 233px,#1fd 241px,#df2 276px,#af5 281px,#2fc 286px,#0cf 288px,#07f 293px,#0cf 298px,#2fd 300px,#5fa 304px,#5fa 321px,#2fc 325px,#0df 327px,#00f 334px,#00e 335px,#009 340px,#008)"></i><i style="background:linear-gradient(#06f,#06f 2px,#008 3px,#008 7px,#008 88px,#00f 141px,#05f 205px,#0df 234px,#1fd 241px,#ef1 277px,#bf3 281px,#2fd 287px,#0cf 289px,#07f 295px,#1fd 300px,#6f9 303px,#7f7 306px,#7f8 318px,#1fd 324px,#04f 331px,#01f 336px,#05f 403px,#0cf)"></i><i style="background:linear-gradient(#06f,#06f 2px,#008 3px,#008 7px,#008 88px,#00f 141px,#05f 207px,#0df 237px,#1fd 242px,#fe0 277px,#df1 281px,#2fc 287px,#0df 289px,#07f 295px,#08f 297px,#0ee 300px,#8f6 304px,#bf4 307px,#af5 317px,#1fe 323px,#00f 329px,#00e 330px,#009 333px,#008 335px,#008)"></i><i style="background:linear-gradient(#06f,#06f 2px,#0bf 3px,#0df 24px,#09f 42px,#08f 78px,#06f 96px,#0af 149px,#04f 175px,#04f 193px,#06f 215px,#0df 236px,#1fd 243px,#fe0 274px,#fc0 278px,#fe0 281px,#1fd 288px,#0cf 290px,#07f 296px,#0df 300px,#1fd 301px,#9f5 305px,#bf3 308px,#bf4 322px,#2fd 329px,#0cf 331px,#00f 338px,#01f 390px,#09f)"></i><i style="background:linear-gradient(#06f,#06f 2px,#008 3px,#008 7px,#008 88px,#00f 141px,#05f 210px,#0df 239px,#2fd 244px,#ef1 272px,#fe0 274px,#fb0 278px,#fe0 282px,#2fd 288px,#0cf 290px,#07f 296px,#0cf 300px,#3fc 302px,#8f7 305px,#af5 308px,#af5 321px,#2fd 329px,#0df 331px,#06f 337px,#05f 347px,#1ee 437px,#2fd)"></i><i style="background:linear-gradient(#06f,#06f 2px,#008 3px,#008 7px,#008 88px,#00f 141px,#05f 211px,#0df 239px,#1fd 244px,#fe0 273px,#f90 279px,#ef1 283px,#2fc 288px,#0df 290px,#08f 296px,#09f 298px,#1fe 301px,#7f7 305px,#9f6 308px,#8f6 318px,#1fd 325px,#0cf 327px,#06f 331px,#03f 335px,#01f 373px,#02f 401px,#0af)"></i><i style="background:linear-gradient(#06f,#06f 2px,#008 3px,#008 7px,#008 88px,#00f 141px,#05f 214px,#0df 242px,#2fd 246px,#df1 271px,#fe0 273px,#f80 279px,#f90 281px,#fe0 283px,#3fc 288px,#0df 290px,#08f 296px,#0cf 300px,#2fd 302px,#7f8 307px,#6f8 315px,#2fd 331px,#4fb)"></i><i style="background:linear-gradient(#06f,#06f 2px,#008 3px,#008 7px,#008 88px,#00f 141px,#03f 167px,#05f 215px,#0df 243px,#2fd 247px,#ef1 271px,#fd0 273px,#f60 279px,#f80 281px,#fd0 283px,#ef1 284px,#1fd 289px,#0df 290px,#08f 296px,#1fd 303px,#4fa 307px,#5fa 326px,#4fb 410px,#5f9)"></i><i style="background:linear-gradient(#06f,#06f 2px,#008 3px,#008 7px,#008 88px,#00f 141px,#03f 167px,#05f 218px,#08f 233px,#0ee 245px,#1fd 248px,#ef1 271px,#fd0 273px,#f50 279px,#f60 281px,#ef0 284px,#3fb 288px,#0cf 291px,#07f 297px,#1fd 306px,#3fb 313px,#df2 328px,#8f7 406px,#bf4)"></i><i style="background:linear-gradient(#06f,#06f 2px,#008 3px,#008 7px,#008 88px,#00f 141px,#03f 168px,#05f 220px,#08f 234px,#0df 246px,#1fd 249px,#ef1 271px,#fd0 273px,#f40 279px,#f50 281px,#fe0 284px,#2fd 289px,#0df 290px,#09f 293px,#07f 298px,#1ee 309px,#3fb)"></i><i style="background:linear-gradient(#06f,#06f 2px,#008 3px,#008 7px,#008 88px,#00f 141px,#03f 168px,#05f 222px,#08f 236px,#0df 247px,#1fd 250px,#ef1 271px,#fd0 273px,#f30 278px,#f20 280px,#f60 282px,#fd0 284px,#cf2 285px,#0df 290px,#09f 294px,#07f 299px,#0cf 310px,#07f 375px,#0df)"></i><i style="background:linear-gradient(#06f,#06f 2px,#008 3px,#008 7px,#008 88px,#00f 141px,#03f 168px,#05f 225px,#08f 239px,#0ee 249px,#1fd 251px,#df1 271px,#fd0 273px,#f30 278px,#f20 280px,#f50 282px,#fc0 284px,#df2 285px,#4fb 288px,#0df 290px,#09f 294px,#06f 300px,#09f 309px,#0af 320px,#1fd 329px,#5f9 336px,#6f9 347px,#2fd 423px,#3fc)"></i><i style="background:linear-gradient(#06f,#06f 2px,#008 3px,#008 7px,#008 88px,#00f 141px,#03f 169px,#05f 227px,#08f 240px,#0df 250px,#1fd 252px,#ef0 272px,#fd0 273px,#f30 278px,#f20 280px,#f50 282px,#fc0 284px,#df2 285px,#2fd 289px,#0df 290px,#08f 294px,#06f 299px,#1ee 334px,#1fd 365px,#1fd 397px,#09f)"></i><i style="background:linear-gradient(#06f,#06f 2px,#5fa 3px,#cf3 9px,#ef1 13px,#4fb 25px,#1ee 32px,#0ee 85px,#3fc 104px,#1fd 125px,#0df 133px,#05f 167px,#04f 184px,#06f 231px,#08f 242px,#0df 250px,#1fd 253px,#ef1 272px,#f40 278px,#f20 280px,#f60 282px,#fd0 284px,#cf2 285px,#1fd 289px,#0bf 291px,#07f 298px,#0cf 307px,#0df 316px,#9f6 332px,#cf2 406px,#bf4)"></i><i style="background:linear-gradient(#06f,#06f 2px,#0bf 3px,#2fc 5px,#7f8 8px,#8f6 11px,#7f8 14px,#2fc 17px,#0bf 19px,#00f 25px,#00a 29px,#008 35px,#008 80px,#00f 141px,#03f 169px,#05f 232px,#08f 243px,#0df 252px,#2fd 255px,#df2 272px,#fd0 274px,#f50 278px,#f40 280px,#f70 282px,#fe0 284px,#cf3 285px,#1fd 289px,#0df 290px,#09f 293px,#07f 297px,#0df 305px,#2fd 308px,#cf3 317px,#ef0 322px,#df2 370px,#ef1 414px,#fa0)"></i><i style="background:linear-gradient(#06f,#06f 2px,#0bf 3px,#2fc 5px,#7f8 8px,#8f6 11px,#7f8 14px,#2fc 17px,#0bf 19px,#01f 24px,#00b 28px,#008 37px,#008 84px,#00f 141px,#03f 170px,#05f 233px,#07f 243px,#0cf 252px,#1fd 255px,#9f5 269px,#fe0 274px,#f60 278px,#f60 280px,#f90 282px,#ef0 284px,#3fc 288px,#0cf 290px,#08f 293px,#07f 297px,#09f 309px,#0df 313px,#2fd 315px,#fe0 324px,#fb0 328px,#fa0 383px,#ef1 442px,#df2)"></i><i style="background:linear-gradient(#06f,#06f 2px,#0bf 3px,#2fc 5px,#7f8 8px,#8f6 11px,#7f8 14px,#2fc 17px,#0bf 19px,#00f 25px,#00a 29px,#008 35px,#008 80px,#00f 141px,#03f 170px,#05f 235px,#08f 245px,#0df 254px,#1fd 256px,#9f6 269px,#ef0 274px,#fd0 275px,#f70 279px,#f80 281px,#fd0 283px,#df2 284px,#2fc 288px,#0cf 290px,#07f 295px,#07f 318px,#01f 336px,#04f 383px,#00f 418px,#008 443px,#008)"></i><i style="background:linear-gradient(#06f,#06f 2px,#cf3 3px,#fe0 7px,#fc0 11px,#fe0 16px,#9f6 24px,#7f7 30px,#6f8 89px,#2fc 107px,#3fc 130px,#1fd 141px,#0df 147px,#07f 165px,#04f 187px,#06f 238px,#08f 247px,#0df 255px,#1fd 257px,#9f6 270px,#df1 274px,#fc0 276px,#f90 280px,#ef0 283px,#2fd 288px,#0bf 290px,#07f 295px,#09f 313px,#0df 318px,#1fd 320px,#9f6 327px,#bf4 332px,#af5 361px,#cf2 412px,#9f5)"></i><i style="background:linear-gradient(#06f,#06f 2px,#0bf 3px,#2fc 5px,#7f8 8px,#8f6 11px,#7f8 14px,#2fc 17px,#0bf 19px,#00f 25px,#00a 29px,#008 35px,#008 80px,#00f 141px,#03f 171px,#05f 237px,#08f 246px,#0df 255px,#1fd 258px,#8f7 270px,#fe0 276px,#fb0 279px,#fe0 282px,#3fc 287px,#0cf 289px,#08f 293px,#0bf 300px,#0bf 319px,#00f 337px,#00d 410px,#008)"></i><i style="background:linear-gradient(#06f,#06f 2px,#0bf 3px,#2fc 5px,#7f8 8px,#8f6 11px,#7f8 14px,#2fc 17px,#0bf 19px,#00f 25px,#00a 29px,#008 35px,#008 80px,#00f 141px,#03f 171px,#06f 238px,#08f 247px,#0df 256px,#2fd 259px,#7f7 270px,#fe0 277px,#fc0 279px,#ef1 282px,#2fc 287px,#0bf 289px,#08f 293px,#0cf 300px,#0df 318px,#1fd 323px,#4fa 333px,#2fd 382px,#5fa)"></i><i style="background:linear-gradient(#06f,#06f 2px,#7f7 3px,#bf4 10px,#9f6 14px,#1fd 21px,#0df 23px,#08f 28px,#0df 46px,#0df 82px,#0bf 118px,#07f 136px,#08f 154px,#04f 188px,#06f 240px,#08f 248px,#0df 256px,#1fd 259px,#6f8 270px,#fe0 279px,#cf2 282px,#1fd 287px,#0df 288px,#07f 292px,#0ee 301px,#0ee 327px,#0bf 332px,#01f 344px,#00f 353px,#00c)"></i><i style="background:linear-gradient(#06f,#06f 2px,#008 3px,#008 7px,#008 88px,#00f 141px,#04f 172px,#06f 239px,#08f 248px,#0cf 256px,#1fd 260px,#6f9 270px,#df1 279px,#bf3 282px,#3fc 286px,#0cf 288px,#07f 291px,#06f 293px,#1ee 302px,#4fa 364px,#1fd 425px,#2fc)"></i><i style="background:linear-gradient(#06f,#06f 2px,#6f9 3px,#bf4 11px,#1fd 29px,#0df 34px,#07f 48px,#0df 66px,#1fd 112px,#07f 146px,#04f 180px,#06f 240px,#08f 248px,#0df 257px,#1fd 260px,#6f8 271px,#cf2 279px,#af5 282px,#2fd 286px,#0df 287px,#06f 291px,#04f 294px,#0cf 302px,#1fd 313px,#9f5 326px,#8f7 413px,#9f5)"></i><i style="background:linear-gradient(#06f,#06f 2px,#6f8 3px,#bf3 11px,#1fd 28px,#0df 36px,#08f 60px,#1fe 115px,#05f 161px,#04f 181px,#06f 240px,#08f 248px,#0df 257px,#1fd 261px,#bf3 279px,#9f6 282px,#3fb 285px,#0cf 287px,#05f 291px,#02f 295px,#0af 304px,#0af 316px,#0df 321px,#2fd 324px,#7f8 334px,#5fa)"></i><i style="background:linear-gradient(#06f,#06f 2px,#0bf 3px,#2fc 5px,#7f8 8px,#8f6 11px,#7f8 14px,#2fc 17px,#0bf 19px,#00f 25px,#00a 29px,#008 35px,#008 80px,#00f 141px,#04f 172px,#06f 240px,#08f 248px,#0cf 257px,#1fd 261px,#af4 279px,#8f7 282px,#2fc 285px,#0bf 287px,#04f 291px,#01f 296px,#0af 305px,#0bf 315px,#1fd 322px,#7f7 333px,#7f7)"></i><i style="background:linear-gradient(#06f,#06f 2px,#0bf 3px,#2fc 5px,#7f8 8px,#8f6 11px,#7f8 14px,#2fc 17px,#0bf 19px,#00f 25px,#00a 29px,#008 35px,#008 80px,#00f 141px,#04f 172px,#06f 241px,#08f 249px,#0df 258px,#2fd 262px,#9f5 279px,#7f7 282px,#2fd 285px,#0df 286px,#05f 290px,#00f 296px,#0af 305px,#0bf 312px,#1fd 317px,#af4 325px,#df1 330px,#ef0)"></i><i style="background:linear-gradient(#06f,#06f 2px,#fc0 3px,#f70 8px,#f60 12px,#ef1 23px,#af4 31px,#bf3 85px,#7f8 121px,#8f6 139px,#1fd 163px,#0df 168px,#07f 183px,#05f 200px,#06f 242px,#0df 258px,#1fd 262px,#9f6 279px,#3fc 284px,#0cf 286px,#02f 292px,#00f 298px,#08f 305px,#09f 311px,#1fd 317px,#9f6 327px,#bf3 385px,#7f8)"></i><i style="background:linear-gradient(#06f,#06f 2px,#0bf 3px,#2fc 5px,#7f8 8px,#8f6 11px,#7f8 14px,#2fc 17px,#0bf 19px,#00f 25px,#00a 29px,#008 35px,#008 80px,#00f 141px,#04f 173px,#06f 241px,#0df 258px,#1fd 262px,#8f7 279px,#2fc 284px,#0cf 286px,#01f 292px,#00f 298px,#09f 305px,#0af 323px,#1fd 330px,#8f6 341px,#8f7 418px,#5fa)"></i><i style="background:linear-gradient(#06f,#06f 2px,#0bf 3px,#2fc 5px,#7f8 8px,#8f6 11px,#7f8 14px,#2fc 17px,#0bf 19px,#00f 25px,#00a 29px,#008 35px,#008 80px,#00f 141px,#04f 173px,#06f 241px,#0df 258px,#1fd 262px,#8f7 279px,#2fc 284px,#0bf 286px,#01f 292px,#00f 298px,#09f 305px,#0af 318px,#0cf 322px,#2fc 325px,#af5 332px,#cf3 337px,#2fc)"></i><i style="background:linear-gradient(#06f,#06f 2px,#0bf 3px,#2fc 5px,#7f8 8px,#8f6 11px,#7f8 14px,#2fc 17px,#0bf 19px,#00f 25px,#00a 29px,#008 35px,#008 80px,#00f 141px,#04f 173px,#06f 242px,#0cf 258px,#1fd 262px,#7f7 279px,#2fd 284px,#0bf 286px,#00f 292px,#00c 296px,#00f 300px,#05f 305px,#06f 318px,#0df 324px,#2fc 326px,#af5 335px,#bf3 368px,#bf3 400px,#6f8)"></i><i style="background:linear-gradient(#06f,#06f 2px,#bf3 3px,#fe0 7px,#fb0 12px,#fe0 18px,#7f8 26px,#3fb 34px,#1fd 53px,#4fa 89px,#1ee 107px,#0df 125px,#1fd 145px,#0af 161px,#06f 206px,#06f 243px,#0df 259px,#1fd 263px,#7f8 279px,#2fd 284px,#0df 285px,#04f 289px,#00f 292px,#009 299px,#00f 307px,#00f 321px,#00a 336px,#00e 391px,#00a)"></i><i style="background:linear-gradient(#06f,#06f 2px,#0bf 3px,#2fc 5px,#7f8 8px,#8f6 11px,#7f8 14px,#2fc 17px,#0bf 19px,#00f 25px,#00a 29px,#008 35px,#008 80px,#009 102px,#00f 136px,#04f 174px,#06f 240px,#08f 250px,#1fd 263px,#7f8 279px,#1fd 284px,#0df 285px,#04f 289px,#00f 292px,#008 299px,#008 308px,#00f 316px,#01f 323px,#0af 339px,#0af 367px,#0cf 419px,#0af)"></i><i style="background:linear-gradient(#06f,#06f 2px,#0cf 3px,#0bf 10px,#0ee 28px,#0bf 46px,#0bf 64px,#06f 82px,#04f 99px,#0af 136px,#05f 181px,#06f 238px,#08f 249px,#0df 259px,#1fd 263px,#7f8 279px,#1fd 284px,#0df 285px,#03f 289px,#00f 292px,#008 299px,#008 313px,#00b 320px,#00a)"></i><i style="background:linear-gradient(#06f,#06f 2px,#2fd 3px,#1fd 116px,#09f 148px,#05f 193px,#07f 243px,#09f 252px,#1fd 263px,#7f8 278px,#3fc 283px,#0cf 285px,#00f 291px,#008 297px,#008 300px,#008 314px,#00a 321px,#008 330px,#00f 340px,#05f 349px,#05f)"></i><i style="background:linear-gradient(#06f,#06f 2px,#008 3px,#008 7px,#008 88px,#00f 141px,#04f 173px,#06f 243px,#0df 260px,#1fd 264px,#6f8 279px,#1fe 284px,#05f 288px,#00f 291px,#008 296px,#008 300px,#008 315px,#00b 321px,#008 327px,#008 334px,#00f 342px,#06f 351px,#06f)"></i><i style="background:linear-gradient(#06f,#06f 2px,#008 3px,#008 7px,#008 88px,#00f 141px,#04f 173px,#06f 243px,#09f 253px,#1fd 264px,#6f8 278px,#3fc 283px,#0cf 285px,#00f 291px,#008 296px,#008 316px,#00a 321px,#008 327px,#008 340px,#00f 346px,#08f 353px,#0af 357px,#0bf)"></i><i style="background:linear-gradient(#06f,#06f 2px,#008 3px,#008 7px,#008 88px,#00f 141px,#04f 173px,#06f 243px,#0df 261px,#2fd 265px,#6f8 278px,#3fc 283px,#0cf 285px,#03f 289px,#00f 291px,#008 296px,#008 316px,#00a 322px,#008 327px,#008 341px,#00f 409px,#00c)"></i><i style="background:linear-gradient(#06f,#09f 19px,#09f 55px,#0cf 73px,#09f 91px,#0bf 109px,#08f 127px,#0af 145px,#05f 187px,#06f 239px,#08f 250px,#0df 261px,#1fd 265px,#6f9 278px,#2fc 283px,#0cf 285px,#02f 289px,#00f 291px,#008 295px,#008 317px,#00a 322px,#008 327px,#008 336px,#00f 345px,#03f 356px,#00f)"></i><i style="background:linear-gradient(#06f,#06f 2px,#008 3px,#008 7px,#008 88px,#00f 141px,#04f 173px,#06f 244px,#09f 254px,#1fd 265px,#6f9 278px,#2fc 283px,#0cf 285px,#00f 290px,#00e 291px,#008 295px,#008 317px,#00a 322px,#008 327px,#008 335px,#00f 348px,#00d 406px,#00f)"></i><i style="background:linear-gradient(#06f,#06f 2px,#008 3px,#008 7px,#008 88px,#00f 141px,#04f 173px,#06f 244px,#09f 254px,#1fd 266px,#5f9 279px,#2fc 283px,#0cf 285px,#00f 290px,#00e 291px,#008 295px,#008 317px,#00a 322px,#008 327px,#008 337px,#00d 351px,#00f)"></i><i style="background:linear-gradient(#06f,#06f 2px,#09f 3px,#0bf 72px,#09f 90px,#01f 108px,#07f 126px,#03f 162px,#06f 240px,#08f 253px,#1fd 267px,#5fa 279px,#2fd 283px,#0bf 285px,#00f 290px,#00e 291px,#008 295px,#008 318px,#00a 322px,#008 327px,#008 336px,#00f 344px,#07f 353px,#06f)"></i><i style="background:linear-gradient(#06f,#06f 2px,#008 3px,#008 7px,#008 88px,#00f 141px,#04f 174px,#06f 244px,#08f 254px,#1fd 268px,#5fa 279px,#2fd 283px,#0bf 285px,#00f 290px,#008 295px,#008 318px,#00a 322px,#008 327px,#008 336px,#00f 342px,#09f 352px,#09f)"></i><i style="background:linear-gradient(#06f,#06f 2px,#0af 3px,#08f 27px,#0df 81px,#09f 117px,#09f 135px,#0cf 153px,#06f 168px,#05f 178px,#06f 240px,#08f 253px,#1fd 269px,#4fa 279px,#1fd 283px,#0bf 285px,#00f 290px,#008 294px,#008 303px,#008 318px,#00a 322px,#008 327px,#008 338px,#00f 345px,#08f 353px,#0af 369px,#09f)"></i><i style="background:linear-gradient(#06f,#06f 2px,#008 3px,#008 7px,#008 88px,#00f 141px,#04f 174px,#06f 245px,#08f 255px,#1fd 270px,#4fb 279px,#2fc 282px,#0df 284px,#00f 290px,#008 294px,#008 295px,#008 318px,#00a 322px,#008 327px,#008 334px,#00f 341px,#06f 350px,#01f)"></i><i style="background:linear-gradient(#06f,#06f 2px,#008 3px,#008 7px,#008 88px,#00f 141px,#04f 174px,#06f 245px,#0df 266px,#1fd 272px,#3fc 279px,#2fd 282px,#0df 284px,#00f 290px,#008 294px,#008 318px,#00a 322px,#008 327px,#008 338px,#00f 348px,#02f 354px,#03f 367px,#00f 407px,#00c)"></i><i style="background:linear-gradient(#06f,#06f 2px,#09f 3px,#0af 8px,#02f 27px,#08f 45px,#02f 63px,#07f 81px,#04f 117px,#05f 241px,#07f 254px,#1fd 274px,#1fd 282px,#0df 284px,#00f 290px,#008 294px,#008 318px,#00a 322px,#008 327px,#008 345px,#00f 356px,#02f 398px,#00f)"></i><i style="background:linear-gradient(#06f,#06f 2px,#008 3px,#008 7px,#008 88px,#00f 141px,#04f 174px,#05f 246px,#0df 269px,#2fd 281px,#0cf 284px,#00f 290px,#008 294px,#008 318px,#00a 322px,#008 334px,#00f 340px,#09f 347px,#0bf 351px,#0af 387px,#0ee)"></i><i style="background:linear-gradient(#06f,#06f 2px,#0bf 3px,#0cf 12px,#08f 30px,#0ee 66px,#1fd 141px,#0df 150px,#06f 174px,#05f 242px,#07f 254px,#1fd 280px,#0cf 284px,#00f 290px,#008 294px,#008 318px,#00a 322px,#008 327px,#008 335px,#00f 341px,#09f 348px,#0bf 352px,#0bf 400px,#0df)"></i><i style="background:linear-gradient(#06f,#06f 2px,#09f 3px,#05f 9px,#09f 27px,#0bf 98px,#1ee 116px,#08f 135px,#05f 166px,#05f 242px,#06f 254px,#1ee 280px,#0cf 284px,#00f 290px,#008 294px,#008 318px,#00a 322px,#008 327px,#008 336px,#008 344px,#00f 352px,#06f 361px,#08f 413px,#05f)"></i><i style="background:linear-gradient(#06f,#06f 2px,#008 3px,#008 7px,#008 88px,#00f 141px,#04f 174px,#05f 247px,#0df 281px,#0af 285px,#00f 290px,#008 294px,#008 318px,#00a 322px,#008 327px,#008 337px,#00f 346px,#04f 353px,#04f 371px,#00f 423px,#009)"></i><i style="background:linear-gradient(#06f,#06f 2px,#008 3px,#008 7px,#008 88px,#00f 141px,#04f 174px,#04f 247px,#0df 281px,#0af 285px,#00f 290px,#008 293px,#008 294px,#008 318px,#00a 322px,#008 334px,#00f 342px,#05f 351px,#00f 397px,#00a 437px,#009)"></i><i style="background:linear-gradient(#06f,#06f 2px,#008 3px,#008 7px,#008 88px,#00f 141px,#04f 174px,#04f 247px,#0cf 281px,#0af 285px,#00f 290px,#008 293px,#008 294px,#008 318px,#00a 322px,#008 327px,#008 338px,#00f 350px,#00c)"></i><i style="background:linear-gradient(#06f,#06f 2px,#008 3px,#008 7px,#008 88px,#00f 141px,#04f 175px,#04f 247px,#0bf 282px,#09f 285px,#00f 290px,#008 293px,#008 294px,#008 318px,#00a 322px,#008 331px,#00f 342px,#00f 429px,#00b)"></i><i style="background:linear-gradient(#06f,#06f 2px,#008 3px,#008 7px,#008 88px,#00f 141px,#04f 175px,#03f 247px,#0bf 282px,#09f 285px,#00f 290px,#008 293px,#008 294px,#008 318px,#00a 322px,#008 332px,#00f 341px,#03f 348px,#00f 368px,#00b)"></i><i style="background:linear-gradient(#06f,#06f 2px,#008 3px,#008 7px,#008 88px,#00f 141px,#04f 175px,#03f 248px,#0af 283px,#08f 286px,#00f 290px,#008 293px,#008 318px,#00a 322px,#008 327px,#008 336px,#008 344px,#00f 351px,#06f 360px,#00f)"></i><i style="background:linear-gradient(#06f,#06f 2px,#008 3px,#008 88px,#00f 136px,#04f 175px,#03f 245px,#06f 274px,#0af 283px,#07f 286px,#00f 290px,#008 293px,#008 318px,#00a 322px,#008 327px,#008 341px,#00f 352px,#00f 436px,#00d)"></i><i style="background:linear-gradient(#06f,#06f 2px,#008 3px,#008 25px,#008 90px,#00f 136px,#04f 175px,#02f 245px,#05f 274px,#09f 283px,#07f 286px,#00f 290px,#008 293px,#008 302px,#008 317px,#00a 322px,#008 329px,#00f 335px,#0df 343px,#1fd 345px,#5f9 386px,#1fd 421px,#08f 449px,#06f)"></i><i style="background:linear-gradient(#06f,#06f 2px,#008 3px,#008 88px,#00f 136px,#03f 175px,#02f 245px,#04f 274px,#09f 283px,#07f 286px,#00f 290px,#008 293px,#008 317px,#00a 322px,#008 327px,#009 357px,#009)"></i><i style="background:linear-gradient(#06f,#06f 2px,#008 3px,#008 88px,#00f 136px,#03f 175px,#02f 245px,#04f 274px,#09f 283px,#07f 286px,#00f 290px,#008 294px,#008 316px,#00b 322px,#008 328px,#008)"></i><i style="background:linear-gradient(#06f,#06f 2px,#2fc 3px,#5fa 20px,#1fd 39px,#4fb 74px,#0df 110px,#3fc 133px,#1fd 151px,#0df 158px,#04f 197px,#03f 234px,#05f 250px,#0df 267px,#4fa 275px,#ef0 285px,#df2 288px,#6f8 294px,#9f6 304px,#7f8 320px,#2fd 326px,#0df 328px,#09f 333px,#0cf 337px,#2fd 339px,#fe0 347px,#fa0 351px,#fd0 368px,#fe0 408px,#fa0)"></i><i style="background:linear-gradient(#06f,#06f 2px,#8f7 3px,#9f6 53px,#cf2 71px,#cf3 89px,#9f6 107px,#af4 125px,#7f8 143px,#8f7 161px,#1fd 181px,#0df 187px,#04f 211px,#02f 237px,#06f 272px,#0ee 284px,#0bf 288px,#00f 294px,#00f 314px,#03f 321px,#00f 326px,#00b 339px,#00f 348px,#05f 357px,#08f)"></i><i style="background:linear-gradient(#06f,#06f 2px,#9f6 3px,#8f6 19px,#cf3 37px,#6f9 73px,#4fb 126px,#5fa 144px,#1fd 153px,#0df 158px,#06f 176px,#03f 192px,#01f 272px,#06f 284px,#00f 290px,#008 293px,#008 294px,#008 316px,#00b 321px,#008 327px,#008 345px,#00b 358px,#009 409px,#00f 451px,#00f)"></i><i style="background:linear-gradient(#06f,#06f 2px,#008 3px,#008 88px,#00f 136px,#03f 177px,#01f 272px,#06f 284px,#00f 290px,#008 293px,#008 294px,#008 315px,#00b 321px,#008 327px,#008 343px,#00f 358px,#00f 421px,#00b)"></i><i style="background:linear-gradient(#06f,#06f 2px,#008 3px,#008 88px,#00f 136px,#03f 183px,#00f 272px,#05f 284px,#00f 290px,#008 294px,#008 314px,#00b 321px,#008 327px,#009)"></i><i style="background:linear-gradient(#06f,#06f 2px,#008 3px,#008 88px,#00f 136px,#03f 177px,#01f 271px,#02f 276px,#07f 285px,#06f 288px,#00f 292px,#00b 294px,#00f 316px,#02f 320px,#00f 325px,#00c 329px,#00a 344px,#009)"></i><i style="background:linear-gradient(#06f,#06f 2px,#008 3px,#008 9px,#008 88px,#00f 136px,#03f 175px,#02f 243px,#04f 272px,#1ee 286px,#0cf 290px,#06f 294px,#0df 312px,#1fd 316px,#1fd 323px,#09f 329px,#03f 343px,#06f 356px,#03f 380px,#06f 426px,#06f)"></i><i style="background:linear-gradient(#06f,#06f 2px,#008 3px,#008 6px,#008 88px,#00f 136px,#03f 186px,#00f 274px,#07f 285px,#06f 288px,#00e 293px,#00c 294px,#00b 310px,#00f 319px,#008 328px,#008 332px,#008 339px,#00f 350px,#00d 396px,#00f 427px,#05f)"></i><i style="background:linear-gradient(#06f,#06f 2px,#008 3px,#008 11px,#008 88px,#00f 136px,#03f 187px,#00f 268px,#02f 275px,#0cf 284px,#0ee 287px,#0df 290px,#07f 294px,#08f 301px,#05f 310px,#05f 317px,#00f 324px,#00b 328px,#009 336px,#009)"></i><i style="background:linear-gradient(#06f,#06f 2px,#008 3px,#008 6px,#008 88px,#00f 136px,#04f 190px,#00f 262px,#00d 272px,#00f 279px,#03f 285px,#00f 290px,#008 294px,#008 310px,#00d 319px,#00b 328px,#00f 338px,#02f 361px,#03f)"></i><i style="background:linear-gradient(#06f,#06f 2px,#008 3px,#008 88px,#00f 136px,#04f 192px,#00f 263px,#00d 272px,#00f 280px,#02f 285px,#00f 290px,#008 294px,#008 309px,#00f 320px,#00f 335px,#008 350px,#008)"></i><i style="background:linear-gradient(#06f,#06f 2px,#4fb 3px,#5f9 17px,#1fd 27px,#0bf 35px,#1fd 46px,#3fc 53px,#1fd 76px,#0bf 88px,#0df 107px,#08f 125px,#04f 168px,#00f 261px,#00c 272px,#02f 286px,#00f 290px,#008 295px,#008 309px,#00f 317px,#06f 323px,#07f 332px,#1fd 345px,#0ee 403px,#06f)"></i><i style="background:linear-gradient(#06f,#06f 2px,#008 3px,#008 12px,#008 88px,#00f 136px,#04f 195px,#00f 262px,#00c 273px,#02f 286px,#00f 290px,#008 295px,#008 308px,#00f 314px,#09f 322px,#09f 334px,#01f 353px,#03f 402px,#00f)"></i><i style="background:linear-gradient(#06f,#06f 2px,#008 3px,#008 5px,#008 87px,#00f 136px,#01f 148px,#04f 198px,#00f 262px,#00c 273px,#00f 281px,#01f 287px,#00f 290px,#008 295px,#008 308px,#00f 313px,#0bf 321px,#0bf 337px,#0ee 353px,#2fc 412px,#0ee)"></i><i style="background:linear-gradient(#06f,#06f 2px,#008 3px,#008 87px,#00f 136px,#01f 149px,#04f 198px,#00f 261px,#00b 273px,#00f 282px,#00f 290px,#00f 291px,#008 295px,#008 308px,#00f 312px,#08f 318px,#0af 322px,#08f 416px,#09f)"></i><i style="background:linear-gradient(#06f,#06f 2px,#0df 3px,#0bf 15px,#1fd 27px,#3fc 33px,#1fd 91px,#0af 105px,#1fd 116px,#4fb 123px,#1fd 131px,#0df 137px,#08f 155px,#05f 179px,#00f 259px,#00b 273px,#00f 282px,#00f 291px,#008 295px,#008 308px,#00f 312px,#08f 319px,#0af 322px,#09f 345px,#00f 359px,#00d 391px,#00f)"></i><i style="background:linear-gradient(#06f,#06f 2px,#008 3px,#008 4px,#008 87px,#00f 136px,#01f 147px,#05f 199px,#00f 261px,#00b 273px,#00f 282px,#00f 291px,#008 295px,#008 307px,#00f 312px,#07f 319px,#09f 323px,#09f 343px,#03f 360px,#02f 394px,#09f)"></i><i style="background:linear-gradient(#06f,#06f 2px,#00f 3px,#03f 11px,#00f 19px,#00a 26px,#008 33px,#008 80px,#00f 140px,#05f 198px,#00f 260px,#00a 273px,#00f 283px,#00f 291px,#008 295px,#008 307px,#00f 312px,#07f 321px,#08f 335px,#0cf 340px,#2fd 343px,#8f6 351px,#af5 363px,#af4 419px,#ef1)"></i><i style="background:linear-gradient(#06f,#06f 2px,#6f8 3px,#8f6 31px,#1fd 49px,#2fd 84px,#5fa 103px,#5f9 128px,#1fd 152px,#0df 160px,#06f 188px,#00f 260px,#00a 272px,#00f 283px,#00f 291px,#008 296px,#008 307px,#00f 312px,#08f 322px,#09f 335px,#0cf 340px,#1fd 342px,#bf4 350px,#df1 354px,#cf2 411px,#ef1 435px,#fc0)"></i><i style="background:linear-gradient(#06f,#06f 2px,#00f 3px,#03f 11px,#00f 19px,#00a 26px,#008 33px,#008 80px,#009 102px,#00f 136px,#02f 152px,#06f 199px,#00f 259px,#00a 272px,#00f 283px,#00f 291px,#008 296px,#008 306px,#008 307px,#00f 311px,#0cf 323px,#0df 337px,#2fd 344px,#6f9 353px,#7f8 362px,#4fa 420px,#8f7)"></i><i style="background:linear-gradient(#06f,#06f 2px,#af5 3px,#af4 4px,#9f5 11px,#4fb 22px,#3fc 27px,#4fb 58px,#1fd 73px,#0bf 112px,#1fd 127px,#1fd 139px,#06f 173px,#06f 204px,#00f 257px,#00a 272px,#00f 284px,#00f 291px,#008 296px,#008 307px,#00f 311px,#03f 314px,#0df 320px,#1fd 322px,#1fd 344px,#05f 355px,#02f 360px,#01f 406px,#06f)"></i><i style="background:linear-gradient(#06f,#06f 2px,#4fa 3px,#5fa 11px,#0ee 22px,#0df 29px,#1fe 58px,#0df 94px,#3fc 112px,#1fd 118px,#0bf 130px,#1fd 140px,#3fb 148px,#1fd 154px,#0df 161px,#08f 180px,#00f 259px,#00a 272px,#00f 284px,#00f 291px,#008 296px,#008 306px,#00f 311px,#0df 320px,#1fd 323px,#2fc 331px,#cf3 342px,#ef1 347px,#bf3 402px,#fe0)"></i><i style="background:linear-gradient(#06f,#06f 2px,#4fb 3px,#5f9 11px,#1fd 53px,#3fb 71px,#1fd 89px,#4fa 107px,#4fa 125px,#1fd 146px,#08f 178px,#07f 205px,#00f 258px,#009 272px,#00f 284px,#00f 292px,#00a 296px,#008 306px,#00f 310px,#0df 321px,#2fd 335px,#bf4 345px,#ef1 350px,#cf3 398px,#fd0)"></i><i style="background:linear-gradient(#06f,#06f 2px,#00f 3px,#03f 11px,#00f 19px,#008 30px,#008 47px,#008 92px,#00f 141px,#07f 198px,#00f 258px,#009 272px,#00f 284px,#00f 292px,#00d 299px,#008 303px,#008 306px,#00f 310px,#0df 321px,#1fd 333px,#df2 345px,#fe0 349px,#df2)"></i><i style="background:linear-gradient(#06f,#06f 2px,#00f 3px,#03f 11px,#00f 19px,#00a 26px,#008 33px,#008 80px,#009 102px,#00f 136px,#07f 198px,#00f 257px,#009 272px,#00f 284px,#00f 299px,#008 305px,#008 306px,#00f 310px,#0bf 321px,#0cf 332px,#2fd 339px,#6f8 350px,#4fa 405px,#cf3)"></i><i style="background:linear-gradient(#06f,#06f 2px,#09f 3px,#0bf 13px,#06f 42px,#08f 60px,#06f 96px,#0af 114px,#03f 132px,#07f 149px,#05f 172px,#08f 199px,#00f 257px,#009 272px,#00f 284px,#01f 293px,#04f 298px,#02f 300px,#00f 301px,#00a 303px,#008 305px,#00f 310px,#08f 321px,#09f 335px,#1fd 352px,#2fc 398px,#0ef)"></i><i style="background:linear-gradient(#06f,#06f 2px,#008 3px,#008 5px,#008 88px,#00f 141px,#08f 198px,#00f 256px,#009 272px,#00f 284px,#01f 293px,#06f 298px,#00f 301px,#008 305px,#00f 310px,#06f 322px,#06f 337px,#0cf 345px,#2fd 349px,#3fb 354px,#4fa)"></i><i style="background:linear-gradient(#06f,#06f 2px,#008 3px,#008 6px,#008 88px,#00f 141px,#08f 198px,#00f 256px,#009 272px,#00f 284px,#01f 293px,#05f 298px,#00f 301px,#008 305px,#00f 310px,#03f 313px,#03f 319px,#03f 344px,#00f 364px,#00f 405px,#06f 445px,#07f)"></i><i style="background:linear-gradient(#06f,#06f 2px,#0df 3px,#08f 59px,#09f 76px,#0df 94px,#05f 112px,#0bf 130px,#0bf 141px,#06f 167px,#08f 202px,#02f 231px,#00f 255px,#00a 272px,#00f 284px,#01f 294px,#03f 298px,#01f 300px,#008 305px,#00f 310px,#03f 315px,#00f 328px,#03f 332px,#0cf 339px,#2fc 342px,#5fa 347px,#2fd)"></i><i style="background:linear-gradient(#06f,#07f 5px,#04f 22px,#05f 40px,#0af 59px,#03f 112px,#06f 131px,#02f 149px,#03f 174px,#07f 203px,#00f 248px,#00f 255px,#00a 272px,#00f 284px,#00f 299px,#009 305px,#00f 309px,#03f 315px,#00f 324px,#01f 350px,#00d)"></i><i style="background:linear-gradient(#06f,#06f 2px,#008 3px,#008 88px,#00f 141px,#08f 198px,#00f 246px,#00f 255px,#00a 271px,#00f 284px,#00f 292px,#00c 297px,#00b 305px,#00f 309px,#03f 314px,#00f 334px,#04f 352px,#00f 401px,#00e)"></i><i style="background:linear-gradient(#06f,#06f 2px,#008 3px,#008 56px,#008 93px,#00f 141px,#08f 198px,#00f 252px,#00a 271px,#00f 283px,#00f 292px,#00a 297px,#00f 307px,#04f 313px,#02f 333px,#0df 351px,#0df)"></i><i style="background:linear-gradient(#06f,#06f 2px,#008 3px,#008 6px,#008 88px,#00f 141px,#07f 197px,#00f 243px,#00f 254px,#00a 271px,#00f 283px,#00f 292px,#009 297px,#00f 303px,#04f 311px,#00f 344px,#03f)"></i><i style="background:linear-gradient(#06f,#06f 2px,#008 3px,#008 19px,#008 89px,#00f 141px,#07f 197px,#00f 249px,#00a 271px,#00f 283px,#00f 292px,#009 297px,#00f 301px,#05f 304px,#06f 308px,#04f 316px,#02f 338px,#06f 357px,#09f 428px,#09f)"></i><i style="background:linear-gradient(#06f,#06f 2px,#008 3px,#008 6px,#008 88px,#00f 141px,#07f 197px,#00f 247px,#00b 271px,#00f 283px,#00f 292px,#009 297px,#00f 300px,#09f 304px,#0af 307px,#04f 316px,#03f 346px,#00f 353px,#009 361px,#008 365px,#00f 417px,#04f)"></i><i style="background:linear-gradient(#06f,#06f 2px,#008 3px,#008 88px,#00f 141px,#06f 196px,#00f 246px,#00b 270px,#00f 282px,#01f 289px,#00f 292px,#00a 296px,#00a 297px,#00e 299px,#01f 300px,#0af 303px,#0df 306px,#04f 316px,#04f 344px,#00f 357px,#05f)"></i><i style="background:linear-gradient(#06f,#06f 2px,#008 3px,#008 6px,#008 88px,#00f 141px,#06f 196px,#00f 244px,#00b 270px,#00f 282px,#01f 289px,#00f 292px,#00a 296px,#00a 297px,#00f 299px,#1ee 304px,#2fd 307px,#0cf 309px,#06f 313px,#04f 316px,#03f 341px,#00f 353px,#02f 403px,#00d)"></i><i style="background:linear-gradient(#06f,#06f 2px,#008 3px,#008 6px,#008 88px,#00f 141px,#05f 195px,#00f 243px,#00b 270px,#00f 282px,#01f 288px,#00f 292px,#00a 296px,#00b 297px,#00f 299px,#0df 303px,#2fc 307px,#0df 309px,#06f 313px,#04f 316px,#03f 339px,#00f 354px,#03f)"></i><i style="background:linear-gradient(#06f,#06f 2px,#4fb 3px,#5fa 11px,#0ee 29px,#0df 46px,#07f 65px,#0ee 83px,#1fd 110px,#0cf 151px,#06f 180px,#00f 236px,#00b 269px,#00f 281px,#01f 288px,#00f 292px,#00a 296px,#00f 299px,#1fe 304px,#1fd 307px,#06f 313px,#03f 318px,#03f 343px,#00f 355px,#00d)"></i><i style="background:linear-gradient(#06f,#06f 2px,#008 3px,#008 6px,#008 88px,#00f 141px,#05f 193px,#00f 241px,#00b 268px,#00f 281px,#01f 288px,#00f 292px,#00b 296px,#00f 299px,#0bf 303px,#0ee 306px,#04f 316px,#04f 344px,#00f 353px,#009 363px,#008 385px,#008)"></i><i style="background:linear-gradient(#06f,#06f 2px,#008 3px,#008 6px,#008 88px,#00f 141px,#04f 192px,#00f 240px,#00b 268px,#00f 281px,#02f 288px,#00f 292px,#00b 296px,#00f 299px,#09f 303px,#0bf 306px,#04f 317px,#06f 326px,#06f 339px,#03f 363px,#02f)"></i><i style="background:linear-gradient(#06f,#06f 2px,#008 3px,#008 88px,#00f 136px,#04f 191px,#00f 239px,#00b 267px,#00f 281px,#02f 288px,#00f 292px,#00b 296px,#00f 299px,#08f 303px,#09f 306px,#03f 317px,#07f 328px,#07f 337px,#00f 346px,#009 356px,#009)"></i><i style="background:linear-gradient(#06f,#05f 3px,#0cf 31px,#02f 49px,#07f 67px,#09f 85px,#06f 103px,#07f 121px,#02f 139px,#05f 157px,#04f 198px,#00f 232px,#00b 265px,#00f 280px,#02f 288px,#00f 292px,#00c 296px,#00e 298px,#08f 304px,#03f 318px,#07f 329px,#07f 339px,#03f 358px,#05f 405px,#03f)"></i><i style="background:linear-gradient(#06f,#06f 2px,#008 3px,#008 88px,#00f 136px,#04f 187px,#00f 237px,#00b 265px,#00f 280px,#02f 288px,#00d 296px,#00f 298px,#08f 302px,#09f 304px,#03f 318px,#08f 328px,#09f 333px,#00f 344px,#00a 352px,#00a)"></i><i style="background:linear-gradient(#06f,#06f 2px,#0ee 3px,#1fe 11px,#0bf 30px,#1fd 97px,#1fd 131px,#06f 164px,#00f 230px,#00b 264px,#00f 280px,#02f 289px,#00f 297px,#0af 301px,#0cf 303px,#04f 315px,#04f 320px,#07f 329px,#00f 340px,#00d 370px,#00f 412px,#00e)"></i><i style="background:linear-gradient(#06f,#06f 2px,#008 3px,#008 8px,#008 88px,#00f 136px,#03f 182px,#00f 236px,#00b 263px,#00f 280px,#02f 289px,#00f 296px,#0df 301px,#2fd 304px,#0df 306px,#07f 310px,#04f 315px,#05f 336px,#00f 349px,#02f)"></i><i style="background:linear-gradient(#06f,#06f 2px,#008 3px,#008 19px,#008 89px,#00f 136px,#03f 178px,#00f 235px,#00b 262px,#00f 279px,#02f 289px,#00f 294px,#03f 297px,#0ee 300px,#6f9 303px,#2fd 306px,#0cf 308px,#07f 311px,#04f 317px,#06f 327px,#06f 347px,#00f 357px,#009 363px,#008 367px,#008)"></i><i style="background:linear-gradient(#06f,#06f 2px,#008 3px,#008 13px,#008 89px,#00f 136px,#03f 177px,#00f 234px,#00b 261px,#00f 281px,#01f 295px,#05f 297px,#0df 299px,#3fb 300px,#af4 303px,#af5 304px,#3fc 307px,#0bf 309px,#06f 312px,#04f 316px,#06f 326px,#04f 363px,#07f 396px,#00f 438px,#00c)"></i><i style="background:linear-gradient(#06f,#06f 2px,#008 3px,#008 13px,#008 89px,#00f 136px,#03f 176px,#00f 234px,#00b 260px,#00f 281px,#01f 294px,#04f 296px,#0af 298px,#1fd 299px,#df2 302px,#fe0 303px,#cf2 305px,#2fd 308px,#0cf 309px,#07f 312px,#04f 316px,#05f 341px,#01f 359px,#06f)"></i><i style="background:linear-gradient(#06f,#06f 2px,#008 3px,#008 13px,#008 89px,#00f 136px,#03f 176px,#00f 233px,#00b 260px,#00f 281px,#01f 294px,#04f 296px,#0bf 298px,#2fd 299px,#fe0 302px,#fb0 303px,#fa0 304px,#fe0 305px,#2fc 308px,#0df 309px,#07f 312px,#04f 316px,#03f 342px,#00f 349px,#00a 361px,#00a)"></i><i style="background:linear-gradient(#06f,#04f 8px,#06f 26px,#03f 44px,#08f 62px,#05f 80px,#08f 98px,#04f 116px,#07f 149px,#03f 170px,#00f 233px,#00a 260px,#00f 281px,#01f 294px,#04f 296px,#0bf 298px,#2fd 299px,#ef0 302px,#fc0 303px,#fc0 304px,#ef0 305px,#2fd 308px,#0df 309px,#07f 312px,#04f 316px,#03f 341px,#00f 355px,#00d)"></i><i style="background:linear-gradient(#06f,#06f 2px,#008 3px,#008 13px,#008 89px,#00f 136px,#03f 176px,#00f 233px,#00a 261px,#00f 281px,#02f 288px,#01f 294px,#03f 296px,#09f 298px,#0ee 299px,#8f7 301px,#cf2 303px,#af5 305px,#3fb 307px,#0bf 309px,#06f 313px,#04f 316px,#05f 345px,#00f 391px,#00b 423px,#00a)"></i><i style="background:linear-gradient(#06f,#06f 2px,#008 3px,#008 13px,#008 89px,#00f 136px,#03f 176px,#00f 232px,#00a 260px,#00f 281px,#02f 288px,#01f 295px,#05f 297px,#0cf 299px,#2fd 300px,#7f7 303px,#2fc 306px,#0cf 308px,#05f 314px,#08f 324px,#08f 341px,#00f 357px,#00f)"></i><i style="background:linear-gradient(#06f,#06f 11px,#03f 29px,#03f 82px,#01f 100px,#03f 118px,#02f 136px,#05f 154px,#00f 232px,#00a 259px,#00f 280px,#03f 288px,#01f 295px,#05f 298px,#1ee 301px,#2fc 304px,#0cf 306px,#08f 309px,#05f 314px,#0af 324px,#0af 341px,#02f 360px,#05f)"></i><i style="background:linear-gradient(#06f,#06f 2px,#08f 3px,#05f 51px,#07f 105px,#02f 123px,#04f 170px,#00f 232px,#00a 259px,#00f 280px,#04f 288px,#00f 295px,#03f 298px,#0af 301px,#0cf 303px,#07f 307px,#05f 314px,#0bf 325px,#0bf 350px,#05f 365px,#04f 372px,#07f 425px,#06f)"></i><i style="background:linear-gradient(#06f,#0af 19px,#06f 38px,#0cf 56px,#09f 74px,#07f 127px,#04f 145px,#06f 163px,#00f 232px,#009 259px,#00f 280px,#06f 288px,#00f 294px,#00f 297px,#07f 303px,#03f 308px,#05f 315px,#0bf 323px,#0bf 342px,#09f 347px,#00f 356px,#00a 363px,#00d 413px,#00d)"></i><i style="background:linear-gradient(#06f,#06f 2px,#7f7 3px,#3fb 23px,#6f9 41px,#0ee 59px,#9f5 77px,#5f9 95px,#bf4 113px,#1fd 164px,#0df 170px,#04f 194px,#00f 223px,#00f 233px,#009 259px,#00f 279px,#08f 288px,#07f 290px,#00f 295px,#00f 299px,#03f 303px,#00f 307px,#09f 322px,#09f 334px,#08f 380px,#00f 440px,#00f)"></i><i style="background:linear-gradient(#06f,#06f 2px,#6f8 3px,#6f8 29px,#2fc 48px,#4fa 66px,#af4 84px,#3fb 102px,#6f9 137px,#1fd 154px,#0df 162px,#04f 192px,#00f 223px,#00f 233px,#009 260px,#00f 279px,#0af 288px,#09f 290px,#00f 295px,#00c 298px,#00f 302px,#00d 307px,#00f 309px,#04f 313px,#07f 324px,#06f 348px,#00f 358px,#00a 367px,#00a)"></i><i style="background:linear-gradient(#06f,#06f 2px,#5fa 3px,#4fb 36px,#6f8 54px,#2fc 90px,#6f8 108px,#5f9 126px,#1fd 145px,#05f 180px,#00f 224px,#00f 233px,#009 260px,#00f 279px,#0cf 288px,#0bf 290px,#00f 295px,#00a 298px,#00c 303px,#00b 307px,#00e 309px,#08f 322px,#08f 351px,#0df 369px,#0af)"></i><i style="background:linear-gradient(#06f,#06f 2px,#008 3px,#008 15px,#008 89px,#00f 136px,#03f 176px,#00f 232px,#009 260px,#00f 279px,#0df 288px,#0cf 290px,#00f 295px,#009 298px,#009 307px,#00f 310px,#0af 319px,#0cf 323px,#0df 388px,#0bf)"></i><i style="background:linear-gradient(#06f,#06f 2px,#bf4 3px,#9f5 24px,#fe0 58px,#bf4 78px,#cf3 126px,#3fc 149px,#0df 165px,#04f 185px,#00f 224px,#00f 234px,#009 260px,#00f 279px,#0df 288px,#0bf 290px,#00f 295px,#009 298px,#008 307px,#00f 310px,#08f 317px,#0bf 322px,#0bf 342px,#02f 360px,#00f 400px,#00f)"></i><i style="background:linear-gradient(#06f,#06f 2px,#008 3px,#008 15px,#008 89px,#00f 136px,#03f 176px,#00f 233px,#009 260px,#00f 279px,#0bf 288px,#0af 290px,#00f 295px,#009 298px,#008 307px,#00f 310px,#06f 314px,#09f 321px,#09f 339px,#00f 357px,#02f 402px,#00f 438px,#00c)"></i><i style="background:linear-gradient(#06f,#06f 2px,#008 3px,#008 15px,#008 89px,#00f 136px,#03f 176px,#00f 233px,#009 261px,#00f 279px,#09f 288px,#08f 290px,#00e 295px,#009 299px,#008 307px,#00e 309px,#05f 312px,#08f 317px,#09f 337px,#1ee 355px,#1fe 388px,#0af 436px,#09f)"></i><i style="background:linear-gradient(#06f,#06f 2px,#008 3px,#008 6px,#008 88px,#00f 136px,#03f 176px,#00f 233px,#008 261px,#00f 280px,#07f 288px,#05f 291px,#00f 294px,#00a 299px,#00c 303px,#00b 307px,#00f 309px,#07f 312px,#09f 318px,#09f 341px,#04f 357px,#03f 370px,#01f)"></i><i style="background:linear-gradient(#06f,#06f 2px,#4fa 3px,#1ee 14px,#5f9 32px,#6f9 68px,#3fc 86px,#6f8 104px,#8f7 140px,#1fd 164px,#0df 171px,#04f 195px,#00f 226px,#00f 235px,#008 260px,#00f 281px,#04f 288px,#00f 294px,#00c 298px,#00f 302px,#00d 307px,#00f 308px,#0af 312px,#1fe 317px,#1ee 346px,#09f 396px,#05f)"></i><i style="background:linear-gradient(#06f,#06f 2px,#0ee 3px,#1fd 6px,#5f9 36px,#3fc 54px,#4fb 72px,#0ee 107px,#4fb 137px,#2fd 148px,#0df 153px,#09f 162px,#03f 194px,#00f 235px,#008 260px,#00f 280px,#03f 289px,#00f 294px,#00f 299px,#03f 303px,#00f 307px,#01f 308px,#0df 312px,#2fc 314px,#4fa 317px,#4fa 334px,#2fd 339px,#0df 341px,#00f 349px,#00a 355px,#00a)"></i><i style="background:linear-gradient(#06f,#06f 2px,#008 3px,#008 11px,#008 88px,#00f 136px,#03f 175px,#00f 235px,#008 261px,#00f 281px,#02f 289px,#00f 297px,#01f 299px,#08f 303px,#02f 308px,#0df 312px,#2fc 314px,#4fa 317px,#4fa 332px,#2fd 337px,#0cf 340px,#03f 347px,#00f 351px,#00e)"></i><i style="background:linear-gradient(#06f,#06f 2px,#bf4 3px,#8f7 25px,#7f8 62px,#9f5 97px,#8f7 115px,#cf2 133px,#4fa 151px,#1fd 172px,#0df 178px,#04f 199px,#01f 212px,#00f 236px,#008 260px,#00f 281px,#01f 289px,#00f 294px,#02f 298px,#09f 301px,#0bf 303px,#04f 308px,#0cf 311px,#2fd 313px,#5f9 317px,#6f9 339px,#1fd 345px,#0cf 347px,#00f 353px,#00f 354px,#00a 359px,#00b 391px,#008)"></i><i style="background:linear-gradient(#06f,#06f 2px,#af4 3px,#8f6 29px,#bf4 65px,#9f6 83px,#af4 144px,#9f6 155px,#2fd 173px,#0df 179px,#02f 209px,#00f 236px,#008 260px,#00f 284px,#01f 296px,#04f 299px,#0af 301px,#0df 303px,#06f 308px,#0ef 311px,#2fd 312px,#7f8 317px,#7f8 334px,#2fc 339px,#0df 341px,#02f 347px,#00f 349px,#00b 353px,#00b 372px,#00e 427px,#00e)"></i><i style="background:linear-gradient(#06f,#06f 2px,#f50 3px,#f90 79px,#f70 129px,#fe0 145px,#1fd 169px,#0df 173px,#06f 185px,#02f 196px,#00f 236px,#008 260px,#00f 284px,#01f 296px,#04f 299px,#0af 301px,#0cf 303px,#07f 308px,#2fc 312px,#6f9 317px,#6f9 332px,#2fc 337px,#0df 339px,#00f 348px,#00d 351px,#00c 381px,#008 417px,#008)"></i><i style="background:linear-gradient(#06f,#06f 2px,#008 3px,#008 6px,#008 88px,#00f 136px,#03f 175px,#00f 237px,#008 261px,#00f 284px,#01f 296px,#03f 299px,#08f 301px,#0af 303px,#07f 308px,#1fd 312px,#3fb 316px,#2fd 338px,#0df 341px,#04f 349px,#01f 354px,#00f 387px,#00a)"></i><i style="background:linear-gradient(#06f,#06f 2px,#008 3px,#008 6px,#008 88px,#00f 136px,#03f 175px,#00f 237px,#008 261px,#00f 285px,#02f 299px,#06f 302px,#05f 307px,#0df 311px,#1fd 313px,#2fd 335px,#0df 338px,#00f 348px,#00b 353px,#00a 374px,#00a)"></i><i style="background:linear-gradient(#06f,#06f 2px,#008 3px,#008 6px,#008 88px,#00f 137px,#03f 175px,#00f 238px,#008 261px,#00f 285px,#02f 299px,#04f 302px,#03f 306px,#05f 308px,#0cf 311px,#1fe 315px,#1ee 335px,#0bf 352px,#0af)"></i><i style="background:linear-gradient(#06f,#06f 2px,#008 3px,#008 4px,#008 88px,#00f 137px,#03f 174px,#00f 238px,#009 261px,#00f 285px,#04f 297px,#00f 306px,#02f 308px,#0af 311px,#0cf 314px,#0cf 335px,#0af 339px,#00f 348px,#00a 355px,#00a)"></i><i style="background:linear-gradient(#06f,#06f 2px,#008 3px,#008 88px,#00f 137px,#03f 174px,#00f 239px,#009 260px,#00e 276px,#00f 285px,#02f 292px,#07f 297px,#01f 303px,#00e 307px,#00f 308px,#09f 311px,#0cf 314px,#1fd 336px,#5fa 389px,#3fc)"></i><i style="background:linear-gradient(#06f,#06f 2px,#008 3px,#008 6px,#008 88px,#00f 137px,#02f 173px,#00f 239px,#009 260px,#00e 275px,#00f 285px,#03f 292px,#0af 297px,#06f 301px,#01f 303px,#00b 306px,#00e 308px,#08f 311px,#0cf 315px,#0df 334px,#0bf 339px,#00f 353px,#00c 406px,#00f)"></i><i style="background:linear-gradient(#06f,#06f 2px,#7f8 3px,#7f8 33px,#3fb 51px,#4fa 105px,#8f7 136px,#1fd 155px,#0df 160px,#02f 199px,#00f 235px,#009 260px,#00e 275px,#00f 285px,#04f 292px,#0cf 297px,#0af 299px,#01f 303px,#00a 307px,#00f 309px,#07f 312px,#0af 317px,#0af 380px,#1fd)"></i><i style="background:linear-gradient(#06f,#06f 2px,#6f9 3px,#8f7 9px,#1fd 63px,#2fd 98px,#5f9 117px,#1fd 140px,#0df 148px,#03f 188px,#00f 236px,#009 260px,#00e 274px,#00f 285px,#04f 291px,#0df 297px,#0af 299px,#00f 303px,#00d 304px,#008 307px,#01f 310px,#05f 312px,#07f 317px,#03f 407px,#06f)"></i><i style="background:linear-gradient(#06f,#06f 2px,#2fd 3px,#0cf 13px,#1fd 21px,#4fa 31px,#0ee 66px,#1fd 120px,#09f 138px,#07f 156px,#03f 174px,#00f 236px,#009 260px,#00f 274px,#00f 284px,#03f 289px,#0cf 297px,#00e 303px,#00a 305px,#008 307px,#01f 310px,#04f 312px,#06f 316px,#09f 351px,#0bf 412px,#09f)"></i><i style="background:linear-gradient(#06f,#06f 2px,#3fc 3px,#1fd 10px,#0af 23px,#1fd 53px,#1fd 68px,#0cf 113px,#1fd 131px,#02f 193px,#00f 237px,#009 260px,#00f 273px,#00f 284px,#0bf 296px,#09f 298px,#02f 300px,#00e 302px,#009 305px,#008 307px,#01f 310px,#06f 313px,#07f 318px,#07f 342px,#00f 358px,#04f)"></i><i style="background:linear-gradient(#06f,#06f 2px,#008 3px,#008 6px,#008 88px,#00f 137px,#02f 170px,#00f 241px,#00a 260px,#00f 272px,#00f 282px,#01f 286px,#0bf 292px,#0df 295px,#0af 297px,#00f 300px,#008 306px,#008 307px,#01f 310px,#04f 312px,#06f 315px,#07f 337px,#0cf 354px,#08f)"></i><i style="background:linear-gradient(#06f,#06f 2px,#008 3px,#008 5px,#008 88px,#00f 137px,#02f 170px,#00f 242px,#00a 260px,#00f 271px,#00f 282px,#02f 286px,#0df 292px,#1fd 294px,#0df 296px,#00e 300px,#008 305px,#008 307px,#01f 310px,#04f 312px,#05f 315px,#05f 338px,#00f 356px,#00b 401px,#009)"></i><i style="background:linear-gradient(#06f,#06f 2px,#008 3px,#008 39px,#008 91px,#00f 137px,#02f 169px,#00f 242px,#00a 260px,#00f 272px,#02f 285px,#04f 287px,#0bf 290px,#2fc 292px,#4fb 294px,#2fd 296px,#0cf 297px,#03f 299px,#00e 300px,#008 303px,#008 306px,#00a 308px,#01f 310px,#04f 312px,#06f 316px,#09f 353px,#08f)"></i><i style="background:linear-gradient(#06f,#06f 2px,#008 3px,#008 5px,#008 88px,#00f 137px,#02f 169px,#00f 243px,#00a 260px,#00f 271px,#01f 284px,#05f 287px,#0df 290px,#2fc 291px,#6f9 294px,#3fc 296px,#0df 297px,#03f 299px,#00e 300px,#008 303px,#008 306px,#009 308px,#01f 310px,#05f 312px,#07f 315px,#08f 327px,#00f 343px,#00e)"></i><i style="background:linear-gradient(#06f,#06f 2px,#008 3px,#008 5px,#008 88px,#00f 137px,#02f 168px,#00f 243px,#00b 260px,#00f 269px,#02f 284px,#05f 287px,#0ee 290px,#7f8 293px,#4fb 296px,#0ee 297px,#03f 299px,#00f 300px,#009 303px,#008 306px,#00a 308px,#01f 310px,#05f 312px,#08f 315px,#09f 327px,#09f 339px,#04f 355px,#02f 373px,#01f)"></i><i style="background:linear-gradient(#06f,#06f 2px,#008 3px,#008 6px,#008 88px,#00f 137px,#02f 168px,#00f 245px,#00c 258px,#00f 266px,#04f 272px,#07f 283px,#0cf 287px,#4fb 289px,#cf3 292px,#ef0 294px,#cf3 296px,#0ee 299px,#09f 301px,#07f 304px,#08f 307px,#0cf 309px,#3fc 310px,#af5 313px,#ef0 318px,#fb0 340px,#f20 356px,#ef1 387px,#bf4 411px,#bf3)"></i><i style="background:linear-gradient(#06f,#06f 2px,#008 3px,#008 68px,#008 97px,#00f 136px,#02f 168px,#00f 245px,#00b 259px,#00f 267px,#03f 273px,#03f 284px,#07f 287px,#1fe 290px,#7f8 293px,#4fb 296px,#1ee 297px,#04f 299px,#01f 300px,#00c 305px,#00e 308px,#00f 309px,#0bf 312px,#2fd 314px,#5f9 318px,#6f9 334px,#2fd 342px,#0df 344px,#06f 350px,#03f 355px,#00f 430px,#00b)"></i><i style="background:linear-gradient(#06f,#06f 2px,#008 3px,#008 68px,#008 97px,#00f 136px,#02f 168px,#00f 245px,#00b 259px,#00f 267px,#02f 273px,#02f 285px,#06f 288px,#1fe 292px,#2fd 294px,#0cf 296px,#00e 299px,#009 302px,#008 304px,#008 308px,#01f 311px,#09f 314px,#0ef 317px,#0ee 335px,#0cf 341px,#00f 351px,#00b 357px,#00e 406px,#00f)"></i><i style="background:linear-gradient(#06f,#06f 2px,#0bf 3px,#0bf 26px,#1fe 44px,#1fd 66px,#0cf 80px,#1fd 98px,#0bf 116px,#0cf 134px,#07f 152px,#01f 198px,#00f 246px,#00c 259px,#00f 266px,#03f 278px,#02f 285px,#03f 287px,#0cf 293px,#0bf 295px,#01f 298px,#00c 299px,#008 302px,#008 307px,#00a 309px,#00f 311px,#09f 315px,#0bf 318px,#0af 329px,#00f 341px,#00d 346px,#00f 372px,#01f)"></i><i style="background:linear-gradient(#06f,#06f 2px,#008 3px,#008 6px,#008 88px,#00f 136px,#02f 168px,#00f 246px,#00c 259px,#00f 266px,#04f 278px,#02f 287px,#09f 293px,#07f 295px,#00e 298px,#00b 299px,#008 302px,#008 308px,#00e 311px,#08f 315px,#09f 319px,#02f 338px,#00f 351px,#00a 404px,#00b)"></i><i style="background:linear-gradient(#06f,#06f 2px,#00e 3px,#02f 55px,#00f 87px,#06f 127px,#00f 140px,#02f 171px,#00f 247px,#00c 259px,#00f 266px,#04f 278px,#02f 287px,#06f 293px,#04f 295px,#00f 297px,#009 299px,#008 302px,#008 307px,#00f 311px,#09f 316px,#0af 329px,#03f 349px,#00f 394px,#00d)"></i><i style="background:linear-gradient(#06f,#06f 2px,#008 3px,#008 6px,#008 88px,#00f 136px,#02f 169px,#00f 248px,#00c 259px,#00f 265px,#05f 279px,#02f 287px,#04f 293px,#00f 296px,#009 298px,#008 300px,#008 307px,#00f 311px,#07f 314px,#0af 317px,#09f 334px,#03f 352px,#06f)"></i><i style="background:linear-gradient(#06f,#06f 2px,#008 3px,#008 6px,#008 88px,#00f 136px,#02f 169px,#00f 248px,#00d 259px,#00f 265px,#05f 279px,#01f 287px,#02f 292px,#01f 295px,#00f 296px,#008 298px,#008 299px,#008 307px,#00f 311px,#07f 314px,#0af 317px,#0af 330px,#05f 346px,#03f 382px,#08f)"></i><i style="background:linear-gradient(#06f,#06f 2px,#6f9 3px,#6f8 19px,#4fb 38px,#6f9 73px,#3fc 91px,#3fb 119px,#1fd 130px,#08f 145px,#03f 173px,#00f 246px,#00d 259px,#00f 265px,#06f 279px,#01f 287px,#00f 295px,#00e 296px,#008 298px,#008 299px,#008 308px,#00f 311px,#09f 315px,#0cf 317px,#1fd 353px,#3fc 392px,#1fd 420px,#09f)"></i><i style="background:linear-gradient(#06f,#06f 2px,#008 3px,#008 6px,#008 88px,#00f 140px,#03f 171px,#00f 251px,#00d 259px,#00f 264px,#07f 279px,#01f 287px,#00f 295px,#008 298px,#008 308px,#008 309px,#00f 312px,#09f 316px,#0cf 319px,#0af 353px,#0cf 399px,#06f)"></i><i style="background:linear-gradient(#06f,#06f 2px,#bf4 3px,#bf4 66px,#fe0 82px,#bf4 126px,#5f9 153px,#1fd 164px,#0df 169px,#03f 194px,#00f 249px,#00f 264px,#08f 279px,#03f 287px,#04f 294px,#00f 297px,#00c 299px,#00f 308px,#03f 311px,#0bf 314px,#3fc 316px,#6f8 319px,#7f8 327px,#1fd 356px,#0df 363px,#09f 393px,#0df)"></i><i style="background:linear-gradient(#06f,#06f 2px,#008 3px,#008 13px,#008 89px,#00f 134px,#04f 172px,#00f 263px,#08f 279px,#06f 284px,#02f 288px,#00f 296px,#008 299px,#00a 310px,#00f 313px,#0bf 317px,#0ee 319px,#1fe 326px,#0ee 337px,#04f 354px,#02f 402px,#03f)"></i><i style="background:linear-gradient(#06f,#06f 2px,#008 3px,#008 13px,#008 86px,#00f 133px,#04f 173px,#00f 263px,#04f 269px,#05f 275px,#09f 279px,#06f 284px,#01f 288px,#00f 295px,#008 298px,#008 299px,#008 311px,#00f 314px,#07f 317px,#0bf 320px,#0bf 336px,#01f 356px,#00d 410px,#01f)"></i><i style="background:linear-gradient(#06f,#06f 2px,#008 3px,#008 88px,#00f 137px,#05f 175px,#03f 235px,#00f 262px,#05f 269px,#05f 275px,#0af 279px,#07f 284px,#01f 288px,#00f 295px,#008 299px,#008 303px,#008 311px,#00e 314px,#07f 319px,#08f 325px,#08f 344px,#00f 352px,#008 359px,#008)"></i><i style="background:linear-gradient(#06f,#06f 2px,#008 3px,#008 88px,#00f 136px,#06f 176px,#04f 235px,#00f 261px,#05f 269px,#06f 275px,#0af 279px,#08f 284px,#02f 288px,#00f 296px,#008 299px,#008 311px,#01f 315px,#05f 319px,#05f 335px,#00f 345px,#00a 351px,#008 355px,#008)"></i><i style="background:linear-gradient(#06f,#06f 2px,#1fe 7px,#3fb 11px,#2fd 14px,#0df 16px,#00f 24px,#00a 29px,#008 35px,#008 80px,#009 101px,#00f 136px,#06f 177px,#04f 235px,#00f 260px,#05f 269px,#06f 275px,#0bf 279px,#08f 284px,#02f 288px,#03f 293px,#00f 297px,#008 299px,#008 303px,#008 310px,#01f 314px,#06f 318px,#06f 326px,#00f 338px,#00c 346px,#00c 397px,#008)"></i><i style="background:linear-gradient(#06f,#06f 2px,#1fe 7px,#3fb 11px,#2fd 14px,#0df 16px,#00f 24px,#00a 29px,#008 35px,#008 80px,#009 101px,#00f 135px,#06f 163px,#07f 181px,#05f 235px,#01f 260px,#06f 269px,#06f 275px,#0cf 279px,#09f 284px,#03f 287px,#05f 294px,#00f 298px,#00b 300px,#008 305px,#008 308px,#00e 311px,#09f 316px,#0af 319px,#09f 329px,#00f 340px,#00d 350px,#00f 377px,#01f 409px,#00f)"></i><i style="background:linear-gradient(#06f,#06f 2px,#1fe 7px,#3fb 11px,#2fd 14px,#0df 16px,#00f 24px,#00a 29px,#008 35px,#008 80px,#009 102px,#00f 134px,#07f 165px,#08f 185px,#06f 236px,#02f 260px,#06f 269px,#07f 275px,#0df 279px,#0af 284px,#05f 287px,#09f 292px,#09f 295px,#00f 300px,#008 305px,#009 307px,#00f 309px,#0bf 313px,#1fd 315px,#1fd 328px,#00f 339px,#00a 345px,#00d 403px,#00c)"></i><i style="background:linear-gradient(#06f,#06f 2px,#fa0 3px,#f60 10px,#f80 15px,#ef0 22px,#af4 30px,#8f7 64px,#bf4 83px,#af5 150px,#1fd 178px,#0af 200px,#07f 239px,#03f 260px,#07f 269px,#07f 275px,#0ee 279px,#0bf 284px,#06f 287px,#1fd 292px,#1fd 296px,#01f 302px,#00b 305px,#00e 307px,#01f 308px,#0df 311px,#2fc 312px,#7f8 315px,#7f8 332px,#6f9 335px,#1fd 339px,#0bf 341px,#00f 347px,#00f 348px,#00b 352px,#00c 399px,#008)"></i><i style="background:linear-gradient(#06f,#06f 2px,#df2 3px,#fe0 6px,#fc0 11px,#fe0 16px,#8f7 25px,#5fa 32px,#8f6 67px,#6f9 86px,#8f6 103px,#6f9 121px,#7f8 143px,#1fd 170px,#0df 182px,#08f 239px,#04f 260px,#08f 269px,#08f 275px,#1fe 279px,#0cf 283px,#08f 287px,#0df 289px,#2fc 290px,#7f8 292px,#9f6 294px,#7f7 297px,#3fb 299px,#0ee 300px,#02f 303px,#00f 305px,#03f 307px,#1fd 310px,#8f6 313px,#af5 315px,#9f5 336px,#6f8 353px,#9f5 403px,#4fb)"></i><i style="background:linear-gradient(#06f,#06f 2px,#3fb 3px,#8f6 12px,#1fd 29px,#0df 35px,#09f 63px,#1ee 82px,#07f 117px,#0df 136px,#0bf 168px,#0cf 207px,#0af 240px,#05f 260px,#08f 269px,#08f 275px,#2fd 279px,#0af 286px,#0af 287px,#0cf 288px,#3fc 289px,#af4 291px,#fe0 293px,#fc0 295px,#ef0 298px,#9f5 300px,#2fd 302px,#0bf 303px,#06f 305px,#06f 306px,#0cf 308px,#2fc 309px,#af5 312px,#cf3 314px,#af4 334px,#1fe 343px,#0bf 345px,#04f 352px,#00f 401px,#00c)"></i><i style="background:linear-gradient(#06f,#06f 2px,#cf2 3px,#fe0 7px,#fd0 11px,#ef0 16px,#6f8 30px,#3fc 44px,#2fd 98px,#4fa 136px,#0ee 178px,#0df 206px,#0bf 240px,#06f 260px,#09f 268px,#09f 275px,#1fd 278px,#2fc 280px,#0cf 287px,#1fd 288px,#bf3 290px,#fd0 291px,#f40 294px,#f20 297px,#f40 299px,#ef0 302px,#af5 303px,#4fa 305px,#4fa 306px,#df2 310px,#fc0 312px,#fb0 314px,#ef1 320px,#cf2 339px,#8f6 356px,#7f8 411px,#bf3)"></i><i style="background:linear-gradient(#06f,#06f 2px,#bf4 3px,#fe0 10px,#fe0 15px,#7f7 30px,#8f6 54px,#4fb 72px,#9f5 109px,#8f6 144px,#0ee 175px,#0df 233px,#07f 261px,#0af 268px,#0af 275px,#0df 277px,#2fd 278px,#3fc 280px,#0df 286px,#0ee 287px,#9f5 289px,#fe0 290px,#f20 292px,#b00 293px,#800 294px,#800 295px,#800 301px,#900 302px,#f10 303px,#f90 305px,#fa0 306px,#f20 311px,#f20 313px,#fc0 321px,#ef0 330px,#5fa 346px,#2fc 412px,#2fc)"></i><i style="background:linear-gradient(#06f,#06f 2px,#9f5 3px,#cf3 10px,#5f9 26px,#0ee 47px,#4fb 65px,#1fd 73px,#0bf 83px,#0df 86px,#1fd 89px,#9f6 102px,#0ee 120px,#0bf 161px,#1fd 198px,#1ee 227px,#0df 244px,#09f 261px,#0bf 276px,#0ee 277px,#4fb 279px,#0ee 286px,#1fd 287px,#bf3 289px,#fa0 290px,#f30 291px,#a00 292px,#800 293px,#800 313px,#b00 315px,#f30 317px,#fc0 321px,#ef1 328px,#bf3 340px,#8f6 391px,#7f7)"></i><i style="background:linear-gradient(#06f,#06f 2px,#0ee 3px,#1fd 4px,#6f9 12px,#1fd 20px,#0df 23px,#03f 47px,#09f 65px,#03f 101px,#0af 119px,#04f 135px,#04f 143px,#1fd 193px,#1fd 239px,#0af 261px,#0cf 276px,#1fd 277px,#5fa 279px,#1fe 286px,#2fc 287px,#df1 289px,#f80 290px,#e00 291px,#800 292px,#800 314px,#a00 315px,#e00 316px,#f30 317px,#fb0 320px,#ef1 323px,#bf4 334px,#ef1 355px,#9f5)"></i><i style="background:linear-gradient(#06f,#06f 2px,#1fe 7px,#3fb 11px,#2fd 14px,#0df 16px,#00f 24px,#00a 29px,#008 35px,#008 80px,#009 102px,#00f 133px,#0cf 171px,#1fd 190px,#1fd 247px,#0bf 261px,#0df 276px,#2fd 277px,#5f9 279px,#1fd 286px,#3fc 287px,#7f7 288px,#ef0 289px,#f60 290px,#b00 291px,#800 292px,#800 313px,#d00 315px,#f20 316px,#fd0 320px,#ef1 322px,#ef0 328px,#f50 351px,#f60 357px,#ef1 372px,#af4 386px,#6f9)"></i><i style="background:linear-gradient(#06f,#06f 2px,#6f9 3px,#8f7 11px,#1fd 23px,#0df 30px,#0df 36px,#09f 54px,#0cf 72px,#0af 90px,#0df 108px,#09f 126px,#08f 140px,#0df 178px,#1fd 191px,#3fc 237px,#1fd 252px,#0cf 261px,#0ee 276px,#6f9 279px,#2fd 286px,#3fb 287px,#fe0 289px,#f60 290px,#b00 291px,#800 292px,#800 312px,#c00 314px,#f20 315px,#fe0 319px,#df2 320px,#9f5 323px,#9f6 326px,#cf3 355px,#4fb 436px,#3fc)"></i><i style="background:linear-gradient(#06f,#06f 2px,#1fe 7px,#3fb 11px,#2fd 14px,#0df 16px,#00f 24px,#00a 29px,#008 35px,#008 80px,#009 102px,#00f 133px,#0bf 172px,#1fd 192px,#3fb 240px,#0ee 259px,#1fe 268px,#0df 275px,#7f8 279px,#2fc 286px,#4fb 287px,#8f6 288px,#fe0 289px,#f50 290px,#a00 291px,#800 292px,#800 310px,#d00 313px,#f20 314px,#ef1 319px,#9f6 323px,#8f7 328px,#9f6 336px,#fe0 349px,#cf3)"></i><i style="background:linear-gradient(#06f,#06f 2px,#008 3px,#008 13px,#008 89px,#00f 134px,#0bf 172px,#1fd 195px,#4fb 241px,#0ee 261px,#1fd 270px,#0df 275px,#7f7 279px,#3fc 286px,#4fa 287px,#9f6 288px,#fd0 289px,#f50 290px,#a00 291px,#800 292px,#800 304px,#b00 305px,#f10 306px,#f50 313px,#fc0 317px,#df2 319px,#9f6 324px,#8f6 334px,#fe0 354px,#fe0)"></i><i style="background:linear-gradient(#06f,#06f 2px,#00e 3px,#04f 18px,#00f 30px,#00c 37px,#00f 47px,#04f 72px,#01f 91px,#01f 108px,#05f 127px,#01f 145px,#04f 162px,#1fd 203px,#4fa 243px,#0ee 275px,#8f7 279px,#3fb 286px,#4fa 287px,#9f6 288px,#fd0 289px,#f50 290px,#a00 291px,#800 292px,#800 302px,#f20 303px,#fe0 305px,#cf2 306px,#fe0 314px,#9f6 321px,#8f7 326px,#bf4 383px,#6f8)"></i><i style="background:linear-gradient(#06f,#06f 2px,#0cf 3px,#0cf 28px,#1fe 46px,#06f 65px,#0cf 101px,#08f 137px,#1fd 154px,#0bf 173px,#1fd 207px,#4fa 243px,#1ee 275px,#8f7 279px,#3fb 286px,#4fa 287px,#8f6 288px,#fe0 289px,#f60 290px,#c00 291px,#800 292px,#800 300px,#f10 301px,#df1 303px,#3fb 305px,#1fd 306px,#9f6 314px,#6f8 326px,#9f6 346px,#9f6)"></i><i style="background:linear-gradient(#06f,#06f 2px,#008 3px,#008 28px,#008 90px,#00f 136px,#09f 174px,#1fd 215px,#4fa 245px,#1ee 275px,#8f6 279px,#4fb 287px,#ef1 289px,#f10 291px,#800 292px,#800 293px,#800 298px,#b00 299px,#f30 300px,#df2 302px,#1fd 304px,#0af 305px,#0af 307px,#0ee 309px,#6f8 314px,#6f9 330px,#cf3 347px,#9f6 405px,#bf3)"></i><i style="background:linear-gradient(#06f,#04f 33px,#09f 69px,#07f 87px,#00f 105px,#09f 123px,#04f 156px,#1fd 222px,#4fa 246px,#1fe 275px,#8f6 279px,#3fb 287px,#cf3 289px,#fb0 290px,#e00 292px,#800 294px,#b00 297px,#e10 298px,#ef1 301px,#2fc 303px,#0bf 304px,#07f 305px,#07f 306px,#0ee 309px,#2fc 310px,#6f8 314px,#6f8 333px,#cf3 350px,#9f6 407px,#9f6)"></i><i style="background:linear-gradient(#06f,#06f 2px,#008 3px,#008 30px,#008 90px,#00f 137px,#08f 173px,#1fd 227px,#4fb 247px,#1fe 275px,#8f6 279px,#3fc 287px,#5f9 288px,#ef0 290px,#fa0 291px,#f30 293px,#f30 295px,#f50 297px,#fc0 299px,#cf2 300px,#3fb 302px,#0cf 303px,#05f 305px,#05f 306px,#0bf 308px,#2fc 310px,#7f7 314px,#7f7 326px,#1fd 334px,#0cf 336px,#02f 344px,#00f 353px,#00c)"></i><i style="background:linear-gradient(#06f,#06f 2px,#008 3px,#008 39px,#008 91px,#00f 138px,#07f 171px,#0df 221px,#1fd 231px,#3fb 248px,#1ee 275px,#8f6 279px,#6f9 284px,#2fd 287px,#4fb 288px,#ef0 291px,#fc0 292px,#f90 294px,#fd0 297px,#df2 298px,#2fd 301px,#0bf 302px,#03f 304px,#02f 305px,#03f 306px,#0df 309px,#2fd 310px,#7f8 314px,#7f7 328px,#ef1 344px,#bf4 401px,#ef1 433px,#fb0)"></i><i style="background:linear-gradient(#06f,#06f 2px,#008 3px,#008 39px,#008 91px,#00f 138px,#0df 225px,#1fd 235px,#3fc 248px,#0ee 275px,#7f8 278px,#8f6 280px,#6f9 284px,#1fe 287px,#cf2 292px,#df1 294px,#9f5 297px,#3fc 299px,#0df 300px,#02f 303px,#00f 305px,#00f 306px,#0df 310px,#1fd 311px,#5f9 315px,#6f8 333px,#1fd 380px,#4fa 430px,#5fa)"></i><i style="background:linear-gradient(#06f,#07f 33px,#03f 51px,#03f 105px,#07f 141px,#02f 159px,#05f 173px,#0df 229px,#1fd 238px,#2fc 249px,#0ee 275px,#7f8 278px,#8f6 280px,#6f9 284px,#0ee 287px,#9f6 293px,#4fb 297px,#1ee 298px,#0af 299px,#00f 302px,#00b 305px,#00f 307px,#07f 309px,#0bf 311px,#1fe 316px,#0df 322px,#00f 334px,#00d 338px,#00a 384px,#00f 443px,#00f)"></i><i style="background:linear-gradient(#06f,#06f 2px,#008 3px,#008 11px,#008 88px,#00f 139px,#09f 214px,#1fd 242px,#0df 274px,#1fe 276px,#6f8 278px,#8f6 280px,#6f9 284px,#0ee 287px,#6f8 292px,#3fc 296px,#09f 298px,#01f 300px,#00e 301px,#00a 303px,#009 305px,#00e 307px,#02f 308px,#08f 311px,#0bf 317px,#0bf 329px,#00f 339px,#008 345px,#008 390px,#00c 431px,#00d)"></i><i style="background:linear-gradient(#06f,#06f 2px,#008 3px,#008 10px,#008 88px,#00f 140px,#08f 213px,#1fe 245px,#0bf 261px,#0df 275px,#1ee 276px,#6f8 278px,#8f7 280px,#6f9 284px,#0ee 287px,#5f9 292px,#3fc 295px,#0bf 297px,#02f 299px,#00e 300px,#00a 301px,#008 304px,#008 305px,#00e 307px,#09f 311px,#0cf 316px,#1fe 389px,#0ee)"></i><i style="background:linear-gradient(#06f,#06f 2px,#008 3px,#008 10px,#008 88px,#00f 140px,#07f 212px,#0ee 244px,#0af 261px,#0cf 275px,#0ee 276px,#3fc 277px,#7f7 279px,#8f7 280px,#6f9 284px,#0ee 287px,#5fa 292px,#2fd 295px,#09f 297px,#00f 299px,#009 301px,#008 303px,#008 305px,#00f 307px,#09f 310px,#0df 314px,#0df 328px,#0bf 333px,#00f 342px,#00a 349px,#00a)"></i><i style="background:linear-gradient(#06f,#06f 2px,#008 3px,#008 10px,#008 88px,#00f 140px,#07f 211px,#0df 244px,#0cf 251px,#08f 262px,#0bf 274px,#0df 276px,#5f9 278px,#7f7 280px,#6f9 284px,#1ee 287px,#5f9 292px,#2fd 295px,#0df 296px,#00f 299px,#00a 300px,#008 302px,#008 304px,#00d 306px,#02f 307px,#0bf 310px,#1fd 313px,#1fd 339px,#00f 350px,#00a 354px,#008 357px,#008)"></i><i style="background:linear-gradient(#06f,#06f 2px,#7f7 3px,#bf4 10px,#2fc 26px,#1fd 42px,#0df 52px,#5fa 72px,#2fd 90px,#3fb 108px,#1fd 119px,#0df 130px,#05f 188px,#07f 214px,#0cf 245px,#07f 262px,#0af 274px,#0cf 276px,#2fd 277px,#7f8 279px,#7f8 280px,#5f9 284px,#1ee 287px,#6f9 292px,#2fc 295px,#0df 296px,#00f 299px,#00a 300px,#008 302px,#00a 304px,#00f 306px,#0cf 309px,#2fd 311px,#2fd 338px,#0df 341px,#00f 352px,#00e 398px,#008 434px,#008)"></i><i style="background:linear-gradient(#06f,#06f 2px,#df2 3px,#fe0 5px,#fa0 11px,#df1 19px,#6f9 31px,#1fd 47px,#1fd 65px,#5fa 83px,#1fd 101px,#5f9 127px,#5fa 136px,#1fd 144px,#0df 149px,#04f 186px,#06f 212px,#0cf 245px,#05f 262px,#09f 274px,#0cf 276px,#2fd 277px,#6f8 279px,#7f8 280px,#5f9 284px,#1fe 287px,#6f9 292px,#2fc 295px,#0df 296px,#00e 299px,#00a 300px,#008 301px,#009 303px,#00e 305px,#0cf 309px,#1fd 313px,#2fd 335px,#cf3 348px,#ef1 353px,#fd0)"></i><i style="background:linear-gradient(#06f,#06f 2px,#6f9 3px,#cf3 12px,#bf4 16px,#1fd 26px,#0df 29px,#0bf 39px,#1ee 70px,#0df 139px,#07f 159px,#08f 173px,#05f 196px,#0bf 245px,#04f 262px,#09f 275px,#1fd 277px,#6f8 279px,#7f8 280px,#5f9 284px,#1ee 287px,#6f9 292px,#2fc 295px,#0df 296px,#00e 299px,#009 300px,#008 301px,#00f 305px,#0bf 309px,#0df 312px,#0df 336px,#01f 354px,#00f 415px,#02f)"></i><i style="background:linear-gradient(#06f,#06f 2px,#0bf 3px,#2fc 5px,#7f8 8px,#8f6 11px,#7f8 14px,#2fc 17px,#0bf 19px,#00f 25px,#00a 29px,#008 35px,#008 80px,#00f 141px,#05f 209px,#0bf 243px,#0af 250px,#04f 262px,#09f 275px,#1fd 277px,#6f9 279px,#6f8 280px,#5f9 284px,#1ee 287px,#6f9 292px,#2fc 295px,#0df 296px,#00e 299px,#009 300px,#009 301px,#00e 304px,#01f 305px,#0af 308px,#0df 310px,#0df 327px,#2fd 331px,#fe0 344px,#fc0 373px,#fe0 417px,#bf3)"></i><i style="background:linear-gradient(#06f,#06f 2px,#fd0 3px,#fb0 6px,#f90 11px,#ef1 20px,#af4 29px,#bf4 106px,#7f8 124px,#9f5 142px,#6f9 158px,#1fd 168px,#0af 179px,#05f 197px,#0af 245px,#04f 261px,#09f 275px,#1fd 277px,#6f9 279px,#6f8 280px,#5fa 284px,#0ee 287px,#5fa 292px,#2fd 295px,#0cf 296px,#00e 299px,#009 300px,#009 301px,#00f 304px,#0bf 308px,#0df 312px,#0df 332px,#04f 349px,#01f)"></i><i style="background:linear-gradient(#06f,#06f 2px,#0bf 3px,#2fc 5px,#7f8 8px,#8f6 11px,#7f8 14px,#2fc 17px,#0bf 19px,#00f 25px,#00a 29px,#008 35px,#008 80px,#00f 141px,#05f 208px,#0af 243px,#09f 250px,#04f 262px,#09f 275px,#1fd 277px,#6f9 279px,#6f8 280px,#5fa 284px,#0df 287px,#4fb 291px,#3fc 294px,#0cf 296px,#00e 299px,#009 300px,#009 301px,#00f 304px,#0bf 308px,#0ef 310px,#0ee 320px,#df2 339px,#ef0 410px,#f90)"></i><i style="background:linear-gradient(#06f,#06f 2px,#af4 3px,#fe0 9px,#ef0 15px,#5fa 28px,#2fc 39px,#1fe 57px,#5fa 76px,#2fc 94px,#5fa 112px,#1fd 139px,#0df 148px,#06f 165px,#04f 181px,#05f 207px,#0af 244px,#05f 261px,#09f 274px,#0bf 276px,#1fd 277px,#6f9 279px,#6f8 280px,#5fa 284px,#1fe 286px,#0cf 287px,#3fc 291px,#1fd 294px,#0bf 296px,#00d 299px,#009 300px,#008 301px,#00f 305px,#09f 308px,#0cf 310px,#2fd 322px,#cf3 332px,#ef0 337px,#ef0 410px,#f90)"></i><i style="background:linear-gradient(#06f,#06f 2px,#0bf 3px,#2fc 5px,#7f8 8px,#8f6 11px,#7f8 14px,#2fc 17px,#0bf 19px,#00f 25px,#00a 29px,#008 35px,#008 80px,#00f 141px,#05f 207px,#0af 242px,#06f 262px,#09f 274px,#0bf 276px,#1fd 277px,#6f8 279px,#6f8 280px,#3fc 285px,#0cf 287px,#2fd 292px,#0cf 295px,#02f 298px,#00d 299px,#008 300px,#008 301px,#009 303px,#00e 305px,#01f 306px,#0af 309px,#0cf 311px,#0df 322px,#2fd 326px,#9f6 335px,#bf4 340px,#af5 407px,#df1)"></i><i style="background:linear-gradient(#06f,#06f 2px,#4fa 3px,#af5 11px,#2fd 25px,#0df 31px,#3fc 53px,#1fd 59px,#0af 72px,#1fd 89px,#3fc 107px,#1fd 115px,#0df 125px,#04f 193px,#09f 243px,#06f 261px,#0af 274px,#0cf 276px,#1fd 277px,#6f8 279px,#6f8 280px,#3fc 285px,#0ee 286px,#0af 288px,#0df 291px,#0cf 294px,#09f 296px,#01f 298px,#008 300px,#008 302px,#009 304px,#00f 306px,#09f 309px,#0cf 311px,#1fd 327px,#af5 337px,#cf2 342px,#cf2 407px,#8f6)"></i><i style="background:linear-gradient(#06f,#06f 2px,#0bf 3px,#2fc 5px,#7f8 8px,#8f6 11px,#7f8 14px,#2fc 17px,#0bf 19px,#00f 25px,#00a 29px,#008 35px,#008 80px,#00f 140px,#09f 242px,#07f 261px,#0af 275px,#0cf 276px,#2fd 277px,#6f8 279px,#6f8 280px,#2fc 285px,#0df 286px,#09f 288px,#0cf 291px,#0bf 294px,#08f 296px,#01f 298px,#00c 299px,#008 300px,#008 303px,#008 304px,#00c 306px,#01f 307px,#08f 309px,#0df 312px,#2fd 330px,#9f5 340px,#bf3 345px,#6f8)"></i><i style="background:linear-gradient(#06f,#06f 2px,#008 3px,#008 10px,#008 88px,#00f 140px,#09f 241px,#07f 261px,#0af 268px,#0af 275px,#0cf 276px,#2fd 277px,#6f8 279px,#6f8 280px,#2fc 285px,#0cf 286px,#09f 288px,#0af 292px,#08f 295px,#00f 298px,#008 300px,#008 304px,#00a 306px,#00f 307px,#08f 310px,#0cf 314px,#0df 331px,#1fd 337px,#6f9 349px,#2fc 410px,#4fb)"></i><i style="background:linear-gradient(#06f,#06f 2px,#008 3px,#008 10px,#008 88px,#00f 140px,#09f 240px,#08f 261px,#0bf 268px,#0bf 275px,#0cf 276px,#2fd 277px,#6f8 279px,#7f8 280px,#2fd 285px,#0cf 286px,#08f 288px,#09f 292px,#07f 295px,#00f 298px,#008 300px,#008 303px,#008 306px,#01f 308px,#08f 311px,#0bf 317px,#0af 336px,#00f 348px,#00c 354px,#00f 435px,#02f)"></i><i style="background:linear-gradient(#06f,#06f 2px,#008 3px,#008 10px,#008 88px,#00f 140px,#09f 239px,#08f 261px,#0bf 268px,#0bf 275px,#0cf 276px,#2fd 277px,#6f8 279px,#7f8 280px,#2fd 285px,#0cf 286px,#07f 288px,#07f 294px,#05f 296px,#00f 298px,#008 300px,#008 306px,#00f 308px,#05f 311px,#08f 317px,#0bf)"></i><i style="background:linear-gradient(#06f,#06f 2px,#008 3px,#008 11px,#008 88px,#00f 139px,#09f 238px,#08f 261px,#0bf 268px,#0bf 275px,#0cf 276px,#2fd 277px,#6f8 279px,#7f8 280px,#1fd 285px,#08f 287px,#06f 288px,#06f 295px,#00f 298px,#008 300px,#008 306px,#00e 308px,#03f 311px,#05f 327px,#0ee 343px,#0bf 389px,#1fe)"></i><i style="background:linear-gradient(#06f,#06f 2px,#008 3px,#008 11px,#008 88px,#00f 139px,#04f 170px,#09f 241px,#08f 260px,#0bf 268px,#0bf 275px,#0cf 276px,#2fd 277px,#6f8 279px,#7f8 280px,#1fd 285px,#08f 287px,#06f 288px,#07f 295px,#01f 298px,#008 301px,#008 306px,#00f 308px,#03f 311px,#02f 330px,#0df 347px,#1fd 392px,#6f9)"></i><i style="background:linear-gradient(#06f,#06f 2px,#008 3px,#008 11px,#008 88px,#00f 139px,#04f 171px,#09f 240px,#08f 260px,#0bf 268px,#0bf 275px,#0cf 276px,#2fd 277px,#6f8 279px,#7f8 280px,#1fd 285px,#08f 287px,#06f 288px,#0af 295px,#06f 297px,#00f 299px,#00a 301px,#008 305px,#00f 308px,#04f 311px,#04f 316px,#05f 396px,#09f)"></i><i style="background:linear-gradient(#06f,#06f 2px,#008 3px,#008 39px,#008 91px,#00f 138px,#05f 172px,#09f 240px,#08f 261px,#0bf 268px,#0bf 275px,#2fd 277px,#6f8 279px,#7f8 280px,#1fd 285px,#08f 287px,#07f 288px,#1fe 293px,#1fd 295px,#0cf 297px,#02f 300px,#00f 301px,#00b 305px,#01f 308px,#06f 311px,#0af 318px,#0af 338px,#00f 347px,#008 352px,#008 410px,#00d 441px,#00f)"></i><i style="background:linear-gradient(#06f,#06f 2px,#008 3px,#008 39px,#008 91px,#00f 138px,#05f 173px,#09f 239px,#08f 260px,#0bf 268px,#0bf 275px,#0df 276px,#5fa 278px,#7f8 280px,#1fd 285px,#09f 287px,#0bf 289px,#3fb 291px,#7f7 293px,#9f6 295px,#3fb 298px,#0df 299px,#05f 302px,#01f 304px,#00f 306px,#09f 310px,#2fd 314px,#3fb 326px,#2fd 330px,#0df 332px,#00f 339px,#008 344px,#008)"></i><i style="background:linear-gradient(#06f,#0bf 34px,#06f 52px,#0af 70px,#0af 88px,#07f 106px,#0df 124px,#09f 142px,#0af 160px,#07f 178px,#08f 260px,#0cf 268px,#0bf 275px,#0df 276px,#5fa 278px,#7f8 280px,#2fd 285px,#0df 286px,#0bf 287px,#0cf 288px,#2fd 289px,#df2 292px,#fd0 293px,#fb0 295px,#fe0 297px,#3fc 301px,#0bf 303px,#05f 305px,#05f 306px,#0cf 310px,#2fc 312px,#5f9 316px,#5f9 331px,#1fd 337px,#0cf 339px,#00f 347px,#00c 351px,#009 390px,#009)"></i><i style="background:linear-gradient(#06f,#06f 2px,#00f 3px,#00f 14px,#06f 41px,#01f 76px,#05f 113px,#02f 148px,#07f 197px,#09f 260px,#0cf 268px,#0bf 275px,#0df 276px,#5f9 278px,#7f8 280px,#0ee 287px,#2fc 288px,#bf3 290px,#fc0 291px,#f40 293px,#f10 295px,#f40 297px,#fe0 300px,#1fe 304px,#0bf 305px,#09f 307px,#1fd 311px,#6f9 316px,#6f9 332px,#2fc 337px,#0cf 340px,#03f 346px,#00f 351px,#00f)"></i><i style="background:linear-gradient(#06f,#06f 3px,#0df 8px,#1ee 11px,#0cf 15px,#00f 23px,#00a 28px,#008 34px,#008 80px,#009 101px,#00f 136px,#07f 174px,#09f 260px,#0cf 268px,#0cf 275px,#2fc 277px,#7f8 279px,#3fc 287px,#bf3 289px,#fc0 290px,#d00 292px,#800 293px,#800 294px,#800 297px,#b00 298px,#f10 299px,#fe0 302px,#1fe 305px,#0bf 306px,#0af 308px,#0df 310px,#2fc 312px,#5f9 315px,#6f9 324px,#af4 339px,#7f7 374px,#af5)"></i><i style="background:linear-gradient(#06f,#06f 3px,#0df 8px,#1ee 11px,#0cf 15px,#00f 23px,#00a 28px,#008 34px,#008 80px,#009 101px,#00f 136px,#07f 174px,#0af 225px,#09f 260px,#0df 276px,#7f8 279px,#4fa 286px,#6f9 287px,#fd0 289px,#d00 291px,#800 292px,#800 298px,#800 299px,#d00 300px,#fa0 302px,#df1 303px,#2fd 305px,#0bf 306px,#09f 308px,#2fd 313px,#af5 336px,#3fb)"></i><i style="background:linear-gradient(#06f,#06f 3px,#0df 8px,#1ee 11px,#0cf 15px,#00f 23px,#00a 28px,#008 34px,#008 80px,#009 101px,#00f 135px,#08f 176px,#0af 220px,#0af 260px,#0df 268px,#0cf 275px,#0ee 276px,#7f8 279px,#7f8 286px,#9f6 287px,#df1 288px,#f10 290px,#800 291px,#800 299px,#a00 300px,#f30 301px,#df1 303px,#1fd 305px,#0af 306px,#07f 308px,#0cf 312px,#2fd 314px,#4fb 329px,#bf3 345px,#bf4 389px,#6f9)"></i><i style="background:linear-gradient(#06f,#06f 2px,#cf2 3px,#fe0 12px,#7f7 45px,#8f6 64px,#6f9 148px,#1fd 180px,#0df 191px,#0af 260px,#0df 268px,#0cf 275px,#0ee 276px,#7f8 279px,#7f8 283px,#9f5 286px,#cf3 287px,#fc0 288px,#f50 289px,#b00 290px,#800 291px,#800 299px,#b00 300px,#f40 301px,#fb0 302px,#cf3 303px,#0df 305px,#09f 306px,#06f 308px,#0df 312px,#2fc 314px,#4fa 317px,#5fa 330px,#df2 344px,#ef0 352px,#ef1 377px,#9f6 428px,#8f6)"></i><i style="background:linear-gradient(#06f,#06f 2px,#4fa 3px,#7f8 12px,#0df 25px,#09f 38px,#0df 73px,#0bf 110px,#1fd 125px,#3fb 146px,#0df 166px,#0bf 188px,#0bf 260px,#0ee 268px,#0df 275px,#7f7 279px,#7f7 283px,#cf3 286px,#fe0 287px,#f10 289px,#800 290px,#800 299px,#e00 300px,#fe0 302px,#3fc 304px,#0bf 305px,#05f 307px,#07f 309px,#1fd 313px,#6f9 317px,#cf3)"></i><i style="background:linear-gradient(#06f,#06f 2px,#4fb 3px,#6f8 12px,#1fd 22px,#0df 26px,#1fd 44px,#0cf 62px,#1fd 108px,#1ee 117px,#08f 134px,#0bf 152px,#09f 170px,#0df 209px,#0cf 260px,#1ee 268px,#0df 274px,#1fd 276px,#7f7 279px,#8f6 283px,#ef1 286px,#f60 288px,#d00 289px,#800 290px,#800 298px,#a00 299px,#f30 300px,#fa0 301px,#cf3 302px,#0ee 304px,#09f 305px,#05f 307px,#0cf 311px,#2fd 313px,#6f8 318px,#6f9)"></i><i style="background:linear-gradient(#06f,#06f 2px,#2fd 3px,#5f9 12px,#1fd 22px,#0df 28px,#0af 56px,#1fd 86px,#3fb 109px,#1fd 114px,#0af 128px,#0bf 144px,#09f 168px,#0df 213px,#0df 262px,#1fd 267px,#0ee 275px,#8f7 279px,#8f6 282px,#df2 285px,#fb0 287px,#f10 289px,#900 290px,#800 291px,#800 297px,#a00 298px,#f20 299px,#ef0 301px,#2fc 303px,#0bf 304px,#05f 306px,#05f 307px,#0df 312px,#2fd 314px,#4fb 317px,#4fa 330px,#9f6 344px,#af5 357px,#8f7)"></i><i style="background:linear-gradient(#06f,#06f 3px,#0df 8px,#1ee 11px,#0cf 15px,#00f 23px,#00a 28px,#008 34px,#008 80px,#009 102px,#00f 134px,#09f 170px,#0df 194px,#0df 261px,#2fd 267px,#1fe 275px,#8f6 279px,#9f6 282px,#ef0 286px,#fd0 287px,#f20 290px,#d00 291px,#b00 294px,#f10 297px,#f40 298px,#ef0 300px,#4fb 302px,#0cf 303px,#06f 305px,#05f 306px,#1fd 316px,#6f9)"></i><i style="background:linear-gradient(#06f,#06f 2px,#3fc 3px,#6f8 12px,#1fe 29px,#0df 51px,#1fd 69px,#0cf 87px,#0df 105px,#09f 123px,#0bf 141px,#09f 159px,#1fd 212px,#1ee 261px,#2fc 267px,#1fd 275px,#9f6 279px,#df1 287px,#fb0 289px,#f70 291px,#f70 293px,#f80 296px,#fd0 298px,#3fc 301px,#0cf 302px,#06f 304px,#05f 305px,#0df 311px,#2fd 313px,#1fd)"></i><i style="background:linear-gradient(#06f,#06f 3px,#0df 8px,#1ee 11px,#0cf 15px,#00f 23px,#00a 28px,#008 34px,#008 80px,#009 102px,#00f 134px,#0af 171px,#0ee 196px,#1fd 261px,#3fc 267px,#2fc 275px,#af5 279px,#cf3 284px,#af4 287px,#ef0 291px,#bf4 296px,#4fb 299px,#0ee 300px,#0af 301px,#05f 303px,#05f 304px,#0ee 309px,#5fa 312px,#6f9 315px,#6f9 328px,#2fc 345px,#3fb 379px,#1fd 408px,#0bf)"></i><i style="background:linear-gradient(#06f,#06f 3px,#0df 8px,#1ee 11px,#0cf 15px,#00f 23px,#00a 28px,#008 34px,#008 79px,#009 101px,#00f 134px,#0af 172px,#1fd 201px,#3fc 274px,#4fa 276px,#bf3 279px,#df2 284px,#9f5 287px,#9f6 292px,#1fd 297px,#03f 302px,#05f 304px,#0df 307px,#1fd 308px,#7f7 312px,#8f7 321px,#7f8 325px,#1fd 330px,#0cf 332px,#05f 337px,#02f 341px,#00f 387px,#009 427px,#009)"></i><i style="background:linear-gradient(#06f,#06f 3px,#0df 8px,#1ee 11px,#0cf 15px,#00f 23px,#00a 28px,#008 34px,#008 80px,#009 102px,#00f 134px,#0af 172px,#1fd 200px,#2fc 261px,#4fb 275px,#df2 279px,#fd0 283px,#fe0 285px,#bf4 287px,#8f6 291px,#2fd 294px,#0df 295px,#00f 301px,#03f 303px,#0df 306px,#2fd 307px,#8f6 310px,#bf4 313px,#6f8 335px,#5fa 356px,#3fc)"></i><i style="background:linear-gradient(#06f,#06f 2px,#0ee 3px,#1fd 4px,#6f8 13px,#0df 30px,#07f 86px,#0bf 120px,#09f 162px,#1fd 202px,#3fc 261px,#5fa 275px,#fe0 279px,#f90 284px,#ef0 287px,#9f5 291px,#4fb 293px,#0ee 294px,#06f 296px,#00f 299px,#00f 302px,#02f 303px,#0af 305px,#0ee 306px,#3fb 307px,#bf4 310px,#fe0 313px,#fe0 332px,#bf3 346px,#df1 382px,#9f6 434px,#8f7)"></i><i style="background:linear-gradient(#06f,#06f 3px,#0df 8px,#1ee 11px,#0cf 15px,#00f 23px,#00a 28px,#008 34px,#008 80px,#009 102px,#00f 134px,#0af 173px,#1fd 203px,#3fb 261px,#5f9 274px,#8f7 276px,#bf3 277px,#fe0 278px,#fb0 279px,#f40 284px,#ef1 290px,#4fa 293px,#0ee 294px,#09f 295px,#00f 298px,#00c 301px,#00f 303px,#0cf 306px,#2fc 307px,#df2 311px,#fe0 313px,#fe0 336px,#bf3 339px,#3fc 344px,#0cf 346px,#04f 350px,#01f 354px,#00f 382px,#00a 422px,#00c)"></i><i style="background:linear-gradient(#06f,#06f 2px,#008 3px,#008 5px,#008 88px,#00f 135px,#0af 173px,#1fe 203px,#3fb 261px,#6f9 274px,#9f6 276px,#df2 277px,#fc0 278px,#f60 280px,#e00 284px,#fd0 290px,#df1 291px,#5f9 293px,#0ee 294px,#01f 297px,#00b 301px,#00f 303px,#0df 307px,#2fc 308px,#bf3 312px,#df1 314px,#ef0 360px,#bf4 418px,#bf4)"></i><i style="background:linear-gradient(#06f,#06f 2px,#008 3px,#008 5px,#008 88px,#00f 135px,#0ee 199px,#5f9 272px,#7f7 275px,#ef1 277px,#fa0 278px,#f40 280px,#e10 282px,#c00 284px,#d00 285px,#f20 286px,#fd0 290px,#df1 291px,#5fa 293px,#0df 294px,#03f 296px,#00f 297px,#00a 300px,#00e 303px,#01f 304px,#0bf 307px,#3fc 309px,#9f5 312px,#bf3 315px,#bf3 335px,#7f7 351px,#bf4 395px,#8f6)"></i><i style="background:linear-gradient(#06f,#06f 2px,#008 3px,#008 28px,#008 90px,#00f 136px,#09f 172px,#0ee 204px,#5f9 272px,#7f7 275px,#ef0 277px,#fa0 278px,#f30 280px,#e00 282px,#c00 284px,#e00 285px,#f70 287px,#ef0 290px,#3fc 293px,#0bf 294px,#01f 296px,#009 301px,#00d 303px,#01f 304px,#0bf 307px,#2fd 309px,#7f7 312px,#9f5 315px,#fe0)"></i><i style="background:linear-gradient(#06f,#06f 2px,#008 3px,#008 28px,#008 90px,#00f 136px,#09f 176px,#1fe 227px,#5f9 273px,#7f8 275px,#ef0 277px,#f90 278px,#f40 280px,#f10 284px,#f30 285px,#fe0 288px,#bf4 290px,#5fa 292px,#0ee 293px,#08f 294px,#03f 295px,#00f 296px,#008 301px,#00c 303px,#01f 304px,#08f 306px,#1fe 309px,#5f9 312px,#7f8 315px,#7f8 324px,#2fd 329px,#0cf 331px,#02f 337px,#00f 339px,#00d 343px,#00e)"></i><i style="background:linear-gradient(#06f,#06f 2px,#df2 3px,#fd0 6px,#fc0 10px,#fe0 14px,#2fc 26px,#1fd 32px,#2fd 62px,#5fa 81px,#5fa 114px,#0df 141px,#09f 174px,#0ee 224px,#5f9 274px,#9f6 276px,#ef1 277px,#f60 279px,#f30 283px,#f60 285px,#fb0 286px,#df1 287px,#1fd 292px,#0af 293px,#00f 295px,#00b 297px,#008 301px,#008 302px,#01f 304px,#08f 306px,#1fd 309px,#6f9 314px,#6f9 331px,#1fd 339px,#06f 346px,#03f 351px,#06f)"></i><i style="background:linear-gradient(#06f,#06f 2px,#0bf 3px,#2fc 5px,#7f8 8px,#8f6 11px,#7f8 14px,#2fc 17px,#0bf 19px,#00f 25px,#00a 29px,#008 35px,#008 80px,#00f 137px,#08f 175px,#0ee 233px,#5fa 274px,#8f6 276px,#df1 277px,#fb0 278px,#f60 280px,#f60 283px,#f70 284px,#ef1 286px,#6f9 288px,#1fe 291px,#0bf 292px,#01f 294px,#00c 295px,#008 298px,#008 301px,#008 302px,#00d 303px,#02f 304px,#0af 306px,#1fd 308px,#7f8 313px,#7f8 333px,#5f9 337px,#1fe 341px,#03f 348px,#00f 352px,#00e 405px,#008)"></i><i style="background:linear-gradient(#06f,#06f 2px,#fb0 3px,#f80 10px,#ef1 19px,#9f6 25px,#6f8 33px,#9f5 57px,#8f6 75px,#3fb 93px,#1fd 129px,#3fb 161px,#0df 174px,#0af 199px,#0df 234px,#1fd 245px,#5fa 267px,#4fb 274px,#8f7 276px,#df2 277px,#fb0 278px,#f80 279px,#f70 281px,#f80 283px,#fd0 285px,#bf4 286px,#2fc 288px,#0bf 291px,#00f 294px,#00a 295px,#008 300px,#00a 302px,#00f 303px,#0af 305px,#2fc 307px,#8f6 312px,#af5 333px,#fe0 344px,#fb0 353px,#ef1 391px,#af5)"></i><i style="background:linear-gradient(#06f,#06f 2px,#0bf 3px,#2fc 5px,#7f8 8px,#8f6 11px,#7f8 14px,#2fc 17px,#0bf 19px,#00f 25px,#00a 29px,#008 35px,#008 80px,#00f 138px,#06f 172px,#0df 241px,#4fa 267px,#4fb 274px,#7f7 276px,#df2 277px,#fb0 278px,#f80 279px,#f70 281px,#fa0 284px,#fe0 285px,#4fb 287px,#0ee 288px,#0af 291px,#00f 294px,#00b 295px,#00a 299px,#00f 302px,#0af 304px,#1ee 305px,#5f9 307px,#9f6 310px,#fe0 330px,#f40 344px,#f20 354px,#fc0 410px,#fb0)"></i><i style="background:linear-gradient(#06f,#06f 2px,#7f7 3px,#fe0 11px,#ef0 15px,#7f7 25px,#6f9 32px,#7f8 69px,#4fb 88px,#2fc 123px,#5fa 148px,#1fd 166px,#0df 173px,#09f 201px,#0bf 231px,#1fd 250px,#4fb 267px,#3fc 274px,#6f8 276px,#cf3 277px,#fc0 278px,#f80 280px,#fc0 284px,#df2 285px,#7f7 286px,#1fd 287px,#0af 288px,#06f 291px,#00f 293px,#008 295px,#008 299px,#00e 302px,#0cf 305px,#2fc 307px,#4fa 310px,#5fa 330px,#1fd 336px,#0cf 338px,#04f 345px,#01f 350px,#0af)"></i><i style="background:linear-gradient(#06f,#06f 2px,#af4 3px,#ef0 11px,#6f9 24px,#4fb 31px,#4fa 59px,#2fd 77px,#7f8 96px,#5fa 131px,#1fd 149px,#0df 160px,#08f 201px,#0af 229px,#0df 244px,#1fd 254px,#3fb 267px,#2fc 274px,#6f9 276px,#bf3 277px,#fc0 278px,#f80 280px,#fd0 284px,#cf2 285px,#0ee 287px,#09f 288px,#05f 291px,#00f 293px,#008 295px,#008 298px,#008 299px,#01f 302px,#0af 304px,#2fc 306px,#4fa 309px,#5fa 330px,#df2 347px,#fe0)"></i><i style="background:linear-gradient(#06f,#06f 2px,#02f 3px,#00f 13px,#00c 24px,#00f 33px,#05f 43px,#01f 78px,#03f 97px,#00f 116px,#05f 132px,#03f 150px,#09f 225px,#0df 249px,#3fb 267px,#2fd 274px,#6f9 276px,#bf3 277px,#fc0 278px,#f90 280px,#fd0 284px,#cf3 285px,#0df 287px,#08f 288px,#00e 293px,#008 295px,#008 299px,#00d 301px,#01f 302px,#0af 304px,#2fd 306px,#4fb 309px,#4fb 328px,#cf3 346px,#9f6 418px,#bf4)"></i><i style="background:linear-gradient(#06f,#06f 2px,#008 3px,#008 11px,#008 88px,#00f 139px,#05f 172px,#09f 230px,#0df 252px,#3fc 267px,#1fd 274px,#5f9 276px,#fd0 278px,#f90 280px,#fe0 284px,#bf3 285px,#5f9 286px,#0df 287px,#08f 288px,#00e 293px,#008 295px,#008 299px,#00f 302px,#0cf 305px,#2fc 307px,#4fb 318px,#1fd 323px,#0cf 326px,#05f 333px,#04f 337px,#00f 398px,#009 436px,#008)"></i><i style="background:linear-gradient(#06f,#06f 2px,#008 3px,#008 39px,#008 91px,#00f 138px,#05f 172px,#08f 230px,#1fd 264px,#1fe 274px,#5fa 276px,#fd0 278px,#f90 280px,#fe0 284px,#bf3 285px,#5f9 286px,#0cf 287px,#08f 288px,#00e 293px,#008 295px,#008 300px,#00c 302px,#01f 303px,#0af 305px,#2fd 308px,#4fb 333px,#df1 342px,#fd0 344px,#f80 348px,#f60 352px,#fb0 400px,#fe0)"></i><i style="background:linear-gradient(#06f,#06f 2px,#008 3px,#008 39px,#008 91px,#00f 138px,#05f 172px,#08f 230px,#1fd 265px,#1ee 274px,#5fa 276px,#fd0 278px,#fa0 280px,#fe0 284px,#5fa 286px,#0cf 287px,#07f 288px,#00e 293px,#008 295px,#008 301px,#009 302px,#00e 303px,#0bf 307px,#1fd 311px,#1fd 349px,#0bf 365px,#08f)"></i><i style="background:linear-gradient(#06f,#06f 2px,#008 3px,#008 39px,#008 91px,#00f 138px,#05f 170px,#08f 229px,#0df 260px,#1fd 266px,#0ee 274px,#4fa 276px,#fe0 278px,#fa0 280px,#ef0 284px,#5fa 286px,#0cf 287px,#07f 288px,#00e 293px,#008 295px,#008 302px,#00b 303px,#00f 304px,#09f 307px,#1fd 312px,#1fd 334px,#6f9 352px,#4fb)"></i><i style="background:linear-gradient(#06f,#06f 2px,#5f9 3px,#6f9 25px,#9f6 43px,#4fb 79px,#7f8 123px,#1fd 153px,#0df 161px,#07f 195px,#08f 231px,#0df 261px,#1fd 267px,#0ee 274px,#4fa 276px,#fe0 278px,#fb0 279px,#fb0 281px,#ef1 284px,#5fa 286px,#0cf 287px,#07f 288px,#00e 293px,#008 295px,#008 302px,#00a 303px,#00e 304px,#09f 308px,#2fd 313px,#1fd 334px,#0df 337px,#00f 347px,#00c 352px,#008 388px,#008 410px,#00d)"></i><i style="background:linear-gradient(#06f,#06f 2px,#2fc 3px,#1fd 20px,#0af 39px,#1fd 49px,#5fa 57px,#3fc 75px,#6f9 129px,#1fd 160px,#0df 170px,#07f 208px,#08f 235px,#1fe 267px,#0df 274px,#1ee 275px,#4fb 276px,#ef0 278px,#fc0 279px,#fc0 281px,#ef1 284px,#4fa 286px,#0bf 287px,#07f 288px,#00e 293px,#008 295px,#008 302px,#01f 305px,#07f 308px,#0df 315px,#0cf 332px,#05f 350px,#03f 411px,#08f)"></i><i style="background:linear-gradient(#06f,#06f 2px,#008 3px,#008 28px,#008 90px,#00f 136px,#06f 172px,#08f 231px,#1ee 267px,#0df 274px,#0ee 275px,#4fb 276px,#ef1 278px,#fc0 279px,#df1 284px,#4fa 286px,#0bf 287px,#07f 288px,#00e 293px,#008 295px,#008 302px,#01f 305px,#05f 308px,#09f 316px,#08f 331px,#00f 342px,#00b 349px,#009 384px,#00f 447px,#00f)"></i><i style="background:linear-gradient(#06f,#06f 2px,#008 3px,#008 28px,#008 90px,#00f 136px,#07f 173px,#08f 231px,#0ee 267px,#0df 274px,#0ee 275px,#3fb 276px,#ef1 278px,#fc0 279px,#df1 284px,#4fb 286px,#0bf 287px,#07f 288px,#00e 293px,#008 295px,#008 302px,#01f 305px,#05f 308px,#08f 316px,#08f 339px,#00f 350px,#00b 358px,#00d 415px,#00b)"></i><i style="background:linear-gradient(#06f,#06f 2px,#3fc 3px,#1ee 26px,#3fc 98px,#1fe 131px,#08f 194px,#08f 233px,#0df 275px,#3fc 276px,#df1 278px,#fd0 279px,#df2 284px,#4fb 286px,#0bf 287px,#07f 288px,#00e 293px,#008 295px,#008 302px,#01f 305px,#07f 309px,#0bf 316px,#0af 335px,#00f 350px,#00d)"></i><i style="background:linear-gradient(#06f,#06f 2px,#008 3px,#008 28px,#008 90px,#00f 136px,#07f 173px,#08f 234px,#0df 275px,#3fc 276px,#df1 278px,#fd0 279px,#fe0 282px,#df2 284px,#4fb 286px,#0bf 287px,#06f 288px,#00e 293px,#008 295px,#008 302px,#00f 304px,#09f 308px,#0ee 314px,#0df 331px,#06f 348px,#01f 415px,#01f)"></i><i style="background:linear-gradient(#06f,#06f 2px,#0ef 3px,#08f 28px,#0df 82px,#06f 100px,#06f 118px,#0af 136px,#07f 154px,#08f 230px,#0df 275px,#2fc 276px,#df2 278px,#fe0 279px,#fe0 282px,#cf2 284px,#4fb 286px,#0bf 287px,#06f 288px,#00e 293px,#008 295px,#008 302px,#00f 304px,#08f 307px,#0cf 313px,#0cf 333px,#00f 348px,#00d 411px,#00d)"></i><i style="background:linear-gradient(#06f,#03f 32px,#09f 50px,#0af 68px,#05f 87px,#0af 122px,#05f 141px,#08f 171px,#08f 234px,#0cf 275px,#2fc 276px,#cf2 278px,#fe0 279px,#ef0 282px,#cf2 284px,#3fb 286px,#0af 287px,#06f 288px,#00e 293px,#008 295px,#008 301px,#009 302px,#01f 304px,#08f 307px,#0bf 312px,#0af 327px,#00f 341px,#05f)"></i><i style="background:linear-gradient(#06f,#06f 2px,#008 3px,#008 28px,#008 90px,#00f 136px,#06f 173px,#07f 235px,#0cf 275px,#2fd 276px,#cf3 278px,#fe0 280px,#cf3 284px,#3fb 286px,#0af 287px,#06f 288px,#00e 293px,#008 295px,#008 301px,#00e 303px,#0af 307px,#0df 312px,#0df 328px,#03f 345px,#00f 417px,#02f)"></i><i style="background:linear-gradient(#06f,#06f 2px,#7f7 3px,#4fb 19px,#1fe 55px,#1fd 111px,#0bf 127px,#06f 171px,#07f 235px,#0bf 275px,#1fd 276px,#bf3 278px,#ef0 280px,#bf3 284px,#3fc 286px,#0af 287px,#06f 288px,#00e 293px,#008 295px,#008 301px,#00f 303px,#0bf 307px,#1ee 312px,#0ee 329px,#04f 342px,#02f 347px,#00d 402px,#00f)"></i></div>
<div class="p" style="top:647px"><i style="background:linear-gradient(#06f,#06f 2px,#ef1 3px,#fe0 5px,#fc0 10px,#ef0 15px,#6f8 24px,#4fb 32px,#8f6 55px,#4fb 73px,#1fd 122px,#0df 142px,#0bf 173px,#0ee 262px,#2fc 268px,#bf4 280px,#9f6 284px,#2fd 289px,#0df 291px,#0df 294px,#1fd 295px,#df2 300px,#fd0 302px,#fe0 321px,#9f6 383px,#df2)"></i><i style="background:linear-gradient(#06f,#06f 2px,#0bf 3px,#2fc 5px,#7f8 8px,#8f6 11px,#7f8 14px,#2fc 17px,#0bf 19px,#00f 25px,#00a 29px,#008 35px,#008 80px,#009 102px,#00f 131px,#0df 175px,#1fd 261px,#3fb 268px,#df1 280px,#af4 284px,#0ee 291px,#0df 294px,#cf2 302px,#fe0 319px,#ef1 386px,#fb0)"></i><i style="background:linear-gradient(#06f,#06f 2px,#bf3 3px,#fe0 6px,#fa0 13px,#ef1 21px,#af4 28px,#3fb 70px,#3fb 88px,#8f6 106px,#8f7 118px,#1fd 137px,#0df 142px,#2fc 262px,#4fa 268px,#df1 277px,#fe0 280px,#df1 283px,#2fc 290px,#0ee 293px,#9f6 301px,#af5 309px,#fd0 319px,#fb0 325px,#fa0 344px,#ef0 403px,#cf3)"></i><i style="background:linear-gradient(#06f,#06f 2px,#df2 3px,#fe0 5px,#fa0 12px,#ef1 21px,#bf4 28px,#bf3 38px,#5fa 56px,#8f7 74px,#8f7 145px,#2fc 160px,#1fd 172px,#1ee 223px,#3fc 262px,#6f9 269px,#fe0 277px,#fc0 281px,#ef1 284px,#4fb 290px,#2fd 293px,#8f6 300px,#fe0 332px,#ef0 351px,#af5 393px,#af4)"></i><i style="background:linear-gradient(#06f,#06f 2px,#fd0 3px,#f90 10px,#ef0 20px,#9f5 31px,#bf3 87px,#5fa 105px,#6f8 141px,#1fd 219px,#4fb 263px,#7f8 269px,#fe0 276px,#fa0 280px,#fd0 284px,#ef1 285px,#7f7 289px,#5fa 292px,#af5 299px,#bf3 312px,#fd0 320px,#f70 331px,#fb0 396px,#f30)"></i><i style="background:linear-gradient(#06f,#06f 2px,#ef1 3px,#fe0 5px,#fc0 11px,#fe0 16px,#7f8 28px,#af5 45px,#5fa 63px,#af4 99px,#6f9 135px,#bf3 153px,#3fb 178px,#1fd 216px,#4fa 263px,#7f8 268px,#df1 274px,#fd0 276px,#f80 281px,#ef1 286px,#9f5 289px,#8f7 292px,#bf3 298px,#fe0 320px,#fb0 336px,#ef1 368px,#af4 408px,#cf2)"></i><i style="background:linear-gradient(#06f,#06f 2px,#ee0 3px,#fe0 4px,#fa0 11px,#df1 20px,#9f5 28px,#7f8 52px,#9f5 70px,#6f9 88px,#9f5 106px,#4fb 124px,#0df 167px,#1fd 223px,#4fa 261px,#7f7 268px,#ef1 274px,#f90 278px,#f80 281px,#df1 287px,#af4 291px,#ef1 301px,#f60 316px,#f40 342px,#fc0 416px,#ef0)"></i><i style="background:linear-gradient(#06f,#06f 2px,#008 3px,#008 7px,#008 88px,#00f 132px,#0af 165px,#0df 182px,#1ee 222px,#4fa 261px,#7f7 268px,#ef1 274px,#f80 280px,#f90 282px,#df1 287px,#bf3 291px,#ef1 297px,#f50 312px,#f20 352px,#fc0 426px,#fd0)"></i><i style="background:linear-gradient(#06f,#06f 2px,#008 3px,#008 88px,#00f 133px,#0bf 173px,#0ee 220px,#5fa 263px,#7f7 268px,#df1 274px,#fd0 276px,#fa0 280px,#ef0 285px,#bf4 289px,#ef0 295px,#fe0 303px,#cf3 322px,#df2 387px,#af5)"></i><i style="background:linear-gradient(#06f,#06f 2px,#008 3px,#008 13px,#008 89px,#00f 134px,#09f 173px,#0df 217px,#1fd 234px,#5f9 264px,#fe0 277px,#fe0 282px,#8f6 288px,#fd0 296px,#fa0 323px,#fc0)"></i><i style="background:linear-gradient(#06f,#06f 2px,#0af 3px,#09f 52px,#1fd 71px,#4fa 89px,#1fd 105px,#0cf 124px,#1fd 132px,#3fb 142px,#1fd 146px,#09f 161px,#0df 225px,#1fd 236px,#5fa 263px,#df1 278px,#cf2 281px,#3fb 288px,#4fa 290px,#fe0 296px,#f70 304px,#f50 309px,#fb0 401px,#fa0)"></i><i style="background:linear-gradient(#06f,#06f 2px,#0af 3px,#1ee 27px,#0bf 45px,#0df 65px,#4fb 81px,#0df 110px,#09f 177px,#0df 229px,#1fd 239px,#5fa 263px,#bf3 277px,#9f6 281px,#2fd 285px,#0cf 287px,#0bf 289px,#0df 291px,#1fd 292px,#9f6 296px,#af5 301px,#8f7 305px,#2fd 310px,#0cf 312px,#05f 317px,#02f 321px,#05f)"></i><i style="background:linear-gradient(#06f,#06f 2px,#2fd 3px,#7f8 21px,#1fe 39px,#3fc 58px,#0df 75px,#1fe 142px,#09f 183px,#0df 233px,#1fd 242px,#4fa 263px,#9f5 275px,#8f7 279px,#2fd 283px,#0bf 285px,#04f 289px,#06f 291px,#0cf 293px,#1fe 294px,#9f6 298px,#9f5 308px,#ef1 315px,#f70 326px,#f80 396px,#f20)"></i><i style="background:linear-gradient(#06f,#06f 2px,#008 3px,#008 30px,#008 90px,#00f 137px,#06f 171px,#0df 236px,#1fd 245px,#7f7 274px,#6f9 278px,#2fc 281px,#0cf 283px,#00f 288px,#00f 290px,#03f 292px,#0df 295px,#2fc 296px,#6f8 298px,#8f7 300px,#4fb 393px,#5f9)"></i><i style="background:linear-gradient(#06f,#06f 2px,#008 3px,#008 39px,#008 91px,#00f 138px,#06f 170px,#09f 221px,#0df 239px,#1fd 248px,#6f8 273px,#2fc 279px,#0df 281px,#00f 287px,#00a 290px,#00c 292px,#00f 293px,#0ee 297px,#3fc 298px,#6f9 300px,#6f9 306px,#2fc 312px,#0df 314px,#00f 322px,#00c 326px,#00d 379px,#00a 431px,#00a)"></i><i style="background:linear-gradient(#06f,#06f 2px,#008 3px,#008 39px,#008 91px,#00f 138px,#05f 172px,#09f 223px,#0df 242px,#1fd 252px,#5fa 272px,#1fd 278px,#0cf 280px,#01f 285px,#008 290px,#008 293px,#00f 296px,#0cf 300px,#1fd 301px,#4fb 303px,#9f6 324px,#5f9)"></i><i style="background:linear-gradient(#06f,#06f 2px,#008 3px,#008 11px,#008 88px,#00f 139px,#05f 171px,#08f 224px,#1fd 255px,#4fb 271px,#2fd 276px,#0df 278px,#00f 284px,#00e 285px,#008 288px,#008 298px,#008 299px,#00f 302px,#0cf 308px,#0df 319px,#0bf 324px,#00f 335px,#00d 339px,#00e 383px,#008)"></i><i style="background:linear-gradient(#06f,#06f 2px,#008 3px,#008 11px,#008 88px,#00f 139px,#05f 171px,#08f 225px,#1fd 257px,#3fc 270px,#1fd 275px,#00f 283px,#009 286px,#008 288px,#008 310px,#00f 319px,#00f 339px,#08f 350px,#0af 355px,#06f 411px,#08f)"></i><i style="background:linear-gradient(#06f,#06f 2px,#008 3px,#008 11px,#008 88px,#00f 139px,#04f 171px,#07f 224px,#0df 251px,#1fd 259px,#2fd 272px,#0cf 276px,#00f 282px,#008 286px,#008 317px,#00a 322px,#008 367px,#00d)"></i><i style="background:linear-gradient(#06f,#06f 2px,#008 3px,#008 10px,#008 88px,#00f 140px,#04f 170px,#07f 225px,#1fd 260px,#1fd 269px,#0bf 275px,#00f 281px,#008 285px,#008 295px,#008 340px,#00f 349px,#05f 357px,#03f 401px,#09f)"></i><i style="background:linear-gradient(#06f,#06f 2px,#09f 3px,#05f 17px,#0df 35px,#06f 53px,#06f 71px,#0af 89px,#0df 125px,#06f 214px,#08f 234px,#1fd 263px,#0cf 273px,#00e 281px,#008 284px,#008 285px,#008 338px,#00f 346px,#07f 355px,#05f 420px,#08f)"></i><i style="background:linear-gradient(#06f,#06f 2px,#008 3px,#008 10px,#008 88px,#00f 140px,#04f 170px,#06f 227px,#1ee 263px,#0cf 272px,#00f 280px,#008 284px,#008 341px,#00f 346px,#0bf 354px,#0ee 358px,#03f 426px,#02f)"></i><i style="background:linear-gradient(#06f,#06f 35px,#00f 55px,#07f 89px,#02f 107px,#01f 125px,#07f 143px,#04f 169px,#06f 226px,#0ee 263px,#0bf 272px,#00f 279px,#008 283px,#008 337px,#00f 344px,#06f 353px,#00f 418px,#00e)"></i><i style="background:linear-gradient(#06f,#06f 2px,#f70 3px,#f70 6px,#fa0 77px,#f80 131px,#fe0 150px,#bf3 161px,#1fd 180px,#0df 184px,#07f 196px,#05f 207px,#07f 239px,#0ee 262px,#0af 271px,#00e 279px,#008 283px,#008 330px,#00f 336px,#0af 343px,#0df 348px,#1fd 421px,#0bf)"></i><i style="background:linear-gradient(#06f,#06f 2px,#008 3px,#008 7px,#008 88px,#00f 141px,#03f 170px,#06f 232px,#0df 262px,#09f 271px,#00f 278px,#008 282px,#008 331px,#00f 341px,#03f 349px,#00f 406px,#00f)"></i><i style="background:linear-gradient(#06f,#06f 2px,#7f7 3px,#5fa 23px,#5f9 40px,#9f6 59px,#4fa 77px,#8f7 95px,#3fc 113px,#5f9 137px,#2fd 157px,#0df 163px,#07f 184px,#05f 202px,#07f 241px,#0df 262px,#09f 271px,#00f 277px,#008 282px,#008 330px,#00f 334px,#0bf 338px,#1ee 339px,#3fb 340px,#cf3 344px,#fd0 347px,#fd0)"></i><i style="background:linear-gradient(#06f,#06f 2px,#008 3px,#008 6px,#008 88px,#00f 141px,#03f 170px,#06f 237px,#0df 261px,#09f 269px,#00f 277px,#008 281px,#008 338px,#00f 348px,#07f 426px,#08f)"></i><i style="background:linear-gradient(#06f,#06f 2px,#008 3px,#008 7px,#008 88px,#00f 141px,#03f 170px,#06f 239px,#0cf 261px,#09f 269px,#00f 276px,#008 281px,#008)"></i><i style="background:linear-gradient(#06f,#06f 2px,#0cf 3px,#09f 17px,#0af 35px,#07f 70px,#0ee 89px,#07f 124px,#0af 151px,#05f 193px,#05f 219px,#07f 245px,#0cf 261px,#0af 267px,#00f 276px,#008 281px,#008 332px,#00e 347px,#00f)"></i><i style="background:linear-gradient(#06f,#06f 2px,#5fa 3px,#3fc 35px,#8f6 52px,#2fd 67px,#0df 71px,#0df 90px,#4fa 107px,#5f9 124px,#1fd 153px,#0df 162px,#05f 196px,#06f 242px,#0cf 261px,#09f 267px,#00f 275px,#008 280px,#008 334px,#00f 341px,#08f 351px,#08f 410px,#0bf)"></i><i style="background:linear-gradient(#06f,#06f 2px,#008 3px,#008 7px,#008 88px,#00f 141px,#03f 170px,#05f 241px,#0cf 261px,#09f 267px,#00f 275px,#008 280px,#009)"></i><i style="background:linear-gradient(#06f,#06f 2px,#0ee 3px,#1fd 15px,#6f9 29px,#6f8 47px,#1fd 65px,#2fc 83px,#6f9 101px,#1fd 130px,#0df 137px,#08f 155px,#04f 185px,#05f 242px,#0cf 261px,#09f 266px,#00f 275px,#008 280px,#009)"></i><i style="background:linear-gradient(#06f,#06f 2px,#af5 3px,#af4 14px,#7f8 32px,#5f9 68px,#8f6 86px,#6f9 104px,#af5 122px,#1fd 150px,#0df 156px,#06f 174px,#04f 189px,#05f 242px,#0bf 261px,#09f 266px,#00f 274px,#008 280px,#008)"></i><i style="background:linear-gradient(#06f,#06f 2px,#008 3px,#008 7px,#008 88px,#00f 141px,#03f 170px,#05f 241px,#0bf 260px,#09f 265px,#00f 274px,#008 280px,#008)"></i><i style="background:linear-gradient(#06f,#06f 2px,#08f 3px,#06f 26px,#09f 44px,#0cf 111px,#0cf 116px,#05f 135px,#03f 170px,#04f 230px,#05f 245px,#0bf 260px,#09f 265px,#00f 273px,#008 280px,#008)"></i><i style="background:linear-gradient(#06f,#06f 2px,#008 3px,#008 7px,#008 88px,#00f 141px,#03f 170px,#04f 241px,#0bf 260px,#09f 265px,#00f 273px,#008 279px,#00a)"></i><i style="background:linear-gradient(#06f,#06f 2px,#fb0 3px,#fd0 16px,#fa0 34px,#fb0 70px,#f70 88px,#f60 106px,#f90 137px,#fe0 155px,#2fd 181px,#0df 185px,#06f 197px,#03f 210px,#04f 242px,#0bf 261px,#09f 265px,#00f 273px,#008 279px,#008 317px,#009 321px,#008 325px,#009)"></i><i style="background:linear-gradient(#06f,#06f 2px,#008 3px,#008 7px,#008 88px,#00f 141px,#03f 170px,#04f 240px,#0af 260px,#08f 265px,#00f 273px,#008 279px,#008 316px,#00a 320px,#008 326px,#009)"></i><i style="background:linear-gradient(#06f,#06f 2px,#008 3px,#008 7px,#008 88px,#00f 141px,#03f 170px,#04f 240px,#0af 260px,#08f 265px,#00f 273px,#008 279px,#008 313px,#00d 319px,#00e 334px,#00a 401px,#00f)"></i><i style="background:linear-gradient(#06f,#06f 2px,#1fd 3px,#5fa 24px,#0df 42px,#3fb 78px,#4fa 140px,#1fd 154px,#0df 159px,#08f 171px,#03f 195px,#04f 241px,#0af 260px,#08f 265px,#00f 272px,#008 280px,#008 306px,#00f 311px,#05f 316px,#08f 337px,#00f 408px,#00c)"></i><i style="background:linear-gradient(#06f,#06f 2px,#8f7 3px,#af4 13px,#3fc 46px,#7f8 100px,#6f9 135px,#1fd 152px,#0df 159px,#03f 197px,#04f 241px,#0af 260px,#08f 265px,#00f 272px,#008 279px,#008 300px,#00e 303px,#01f 304px,#1fd 309px,#3fb 311px,#bf3 338px,#df2 350px,#3fc 399px,#0df)"></i><i style="background:linear-gradient(#06f,#06f 2px,#7f8 3px,#7f7 13px,#3fc 30px,#5fa 66px,#1fd 138px,#0df 146px,#03f 192px,#03f 240px,#0af 260px,#08f 265px,#00f 272px,#008 279px,#008 294px,#00d 297px,#01f 298px,#0cf 301px,#1fd 302px,#6f8 305px,#fe0 332px,#fa0 348px,#fe0 364px,#6f9 386px,#2fc 404px,#0df 434px,#0af)"></i><i style="background:linear-gradient(#06f,#06f 2px,#5fa 3px,#5f9 11px,#1fd 24px,#1ee 34px,#6f8 72px,#2fd 90px,#3fb 108px,#1fd 122px,#0ee 143px,#07f 162px,#03f 191px,#03f 240px,#0af 260px,#07f 265px,#00f 272px,#008 279px,#008 292px,#008 293px,#00d 295px,#01f 296px,#0df 299px,#2fc 300px,#8f6 303px,#fe0 327px,#f80 349px,#ef1 372px,#6f8 400px,#4fb)"></i><i style="background:linear-gradient(#06f,#06f 2px,#af5 3px,#cf2 13px,#5fa 39px,#8f6 58px,#7f8 76px,#9f5 94px,#7f7 130px,#1fd 153px,#0df 158px,#06f 176px,#03f 195px,#03f 240px,#09f 260px,#07f 265px,#00f 272px,#008 279px,#008 295px,#00d 297px,#01f 298px,#0cf 301px,#2fd 302px,#8f7 305px,#af5 318px,#7f7 333px,#8f6 356px,#1fd 388px,#0df 401px,#0cf 424px,#1ee)"></i><i style="background:linear-gradient(#06f,#06f 2px,#1fe 3px,#1fd 5px,#5fa 22px,#1fd 76px,#5f9 112px,#1fd 139px,#06f 165px,#03f 188px,#03f 240px,#09f 260px,#07f 265px,#00f 272px,#008 279px,#008 300px,#00e 303px,#0bf 307px,#2fc 309px,#4fa 311px,#6f9 333px,#2fd 339px,#0cf 341px,#00f 348px,#00c 353px,#00b 391px,#00e)"></i><i style="background:linear-gradient(#06f,#06f 2px,#008 3px,#008 6px,#008 88px,#00f 136px,#03f 169px,#03f 235px,#09f 260px,#07f 265px,#00f 272px,#008 278px,#008 286px,#008 310px,#00f 317px,#00f)"></i><i style="background:linear-gradient(#06f,#06f 2px,#008 3px,#008 6px,#008 88px,#00f 136px,#02f 169px,#03f 234px,#09f 260px,#07f 265px,#00f 272px,#008 278px,#008 286px,#008 313px,#00b 319px,#00a 341px,#00f 387px,#04f 430px,#05f)"></i><i style="background:linear-gradient(#06f,#06f 2px,#008 3px,#008 88px,#00f 136px,#02f 168px,#03f 233px,#09f 260px,#07f 265px,#00f 272px,#008 279px,#008 313px,#00b 319px,#008 325px,#008)"></i><i style="background:linear-gradient(#06f,#06f 2px,#008 3px,#008 88px,#00f 136px,#02f 168px,#02f 232px,#08f 261px,#07f 265px,#00f 272px,#008 279px,#008 313px,#00c 319px,#008 325px,#008)"></i><i style="background:linear-gradient(#06f,#06f 2px,#008 3px,#008 88px,#00f 136px,#02f 168px,#02f 231px,#03f 242px,#08f 261px,#07f 265px,#00f 272px,#008 279px,#008 313px,#00c 319px,#008 325px,#008)"></i><i style="background:linear-gradient(#06f,#06f 2px,#008 3px,#008 88px,#00f 136px,#02f 168px,#02f 229px,#03f 242px,#08f 261px,#07f 265px,#00f 272px,#008 279px,#008 313px,#00c 319px,#008 325px,#008)"></i><i style="background:linear-gradient(#06f,#06f 2px,#0ee 3px,#09f 21px,#0cf 57px,#05f 75px,#0af 93px,#07f 111px,#08f 129px,#05f 147px,#02f 214px,#03f 240px,#08f 262px,#00f 272px,#008 279px,#008 313px,#00c 319px,#008 325px,#008)"></i><i style="background:linear-gradient(#06f,#06f 2px,#0bf 3px,#09f 9px,#1fd 32px,#3fb 63px,#0ef 84px,#0cf 116px,#1fd 125px,#4fb 135px,#1fd 144px,#0df 150px,#06f 171px,#02f 199px,#03f 238px,#08f 262px,#00f 272px,#008 279px,#008 313px,#00c 319px,#008 325px,#008)"></i><i style="background:linear-gradient(#06f,#06f 2px,#008 3px,#008 88px,#00f 137px,#02f 168px,#02f 224px,#03f 241px,#08f 262px,#07f 265px,#00f 272px,#008 279px,#008 313px,#00c 319px,#008 325px,#008)"></i><i style="background:linear-gradient(#06f,#06f 2px,#00f 3px,#00f 17px,#06f 35px,#00f 53px,#04f 72px,#00f 100px,#00d 107px,#00f 116px,#02f 126px,#02f 234px,#08f 262px,#07f 265px,#00f 272px,#008 279px,#008 313px,#00c 319px,#008 325px,#008)"></i><i style="background:linear-gradient(#06f,#06f 2px,#008 3px,#008 88px,#00f 137px,#02f 167px,#02f 222px,#03f 241px,#07f 262px,#07f 265px,#00f 272px,#008 279px,#008 313px,#00c 319px,#008 325px,#008)"></i><i style="background:linear-gradient(#06f,#06f 2px,#008 3px,#008 88px,#00f 140px,#02f 167px,#02f 235px,#07f 262px,#07f 265px,#00f 272px,#008 279px,#008 313px,#00c 319px,#008 325px,#008)"></i><i style="background:linear-gradient(#06f,#06f 2px,#008 3px,#008 88px,#00f 140px,#02f 167px,#02f 235px,#07f 263px,#00f 272px,#008 279px,#008 313px,#00c 319px,#008 325px,#008)"></i><i style="background:linear-gradient(#06f,#06f 2px,#008 3px,#008 88px,#00f 137px,#02f 167px,#02f 221px,#03f 241px,#07f 263px,#00f 272px,#008 279px,#008 313px,#00c 319px,#008 325px,#008)"></i><i style="background:linear-gradient(#06f,#06f 2px,#fc0 3px,#f90 39px,#f90 108px,#fe0 125px,#1fd 152px,#0df 156px,#05f 170px,#02f 182px,#02f 236px,#07f 263px,#00f 272px,#008 279px,#008 313px,#00c 319px,#008 325px,#008)"></i><i style="background:linear-gradient(#06f,#06f 2px,#0cf 3px,#0ee 29px,#0af 64px,#1fd 84px,#0af 101px,#0df 119px,#0af 151px,#05f 172px,#02f 194px,#02f 237px,#07f 263px,#00f 272px,#008 279px,#008 313px,#00c 319px,#008 325px,#008)"></i><i style="background:linear-gradient(#06f,#08f 24px,#08f 42px,#0bf 60px,#06f 96px,#0cf 114px,#02f 168px,#02f 235px,#07f 263px,#00f 272px,#008 279px,#008 313px,#00c 319px,#008 325px,#008)"></i><i style="background:linear-gradient(#06f,#06f 2px,#008 3px,#008 88px,#00f 137px,#02f 167px,#02f 235px,#07f 263px,#00f 272px,#008 279px,#008 296px,#009 300px,#008 313px,#00c 319px,#008 325px,#008)"></i><i style="background:linear-gradient(#06f,#06f 2px,#008 3px,#008 88px,#00f 137px,#02f 167px,#02f 235px,#07f 263px,#00f 272px,#008 279px,#008 295px,#00b 300px,#008 305px,#008 313px,#00c 319px,#008 325px,#008)"></i><i style="background:linear-gradient(#06f,#06f 2px,#008 3px,#008 88px,#00f 137px,#02f 167px,#02f 235px,#05f 256px,#07f 263px,#00f 272px,#008 279px,#008 294px,#00d 300px,#008 306px,#008 313px,#00c 319px,#008 325px,#009)"></i><i style="background:linear-gradient(#06f,#06f 2px,#008 3px,#008 88px,#00f 137px,#02f 168px,#03f 236px,#04f 256px,#07f 263px,#00f 272px,#008 279px,#008 294px,#00e 300px,#008 306px,#008 313px,#00c 319px,#008 325px,#008)"></i><i style="background:linear-gradient(#06f,#06f 2px,#2fc 3px,#1fd 16px,#09f 30px,#0df 48px,#0cf 116px,#02f 181px,#03f 236px,#04f 255px,#07f 263px,#00f 272px,#008 279px,#008 293px,#00f 299px,#00f 301px,#008 307px,#008 313px,#00c 319px,#008 325px,#008)"></i><i style="background:linear-gradient(#06f,#03f 13px,#08f 31px,#05f 49px,#07f 85px,#01f 104px,#07f 157px,#02f 186px,#02f 233px,#04f 255px,#07f 263px,#00f 272px,#008 279px,#008 292px,#00f 298px,#00f 302px,#008 307px,#008 312px,#00e 319px,#00d 326px,#00f 338px,#009 351px,#008 359px,#008)"></i><i style="background:linear-gradient(#06f,#06f 2px,#008 3px,#008 88px,#00f 140px,#02f 168px,#03f 237px,#04f 255px,#07f 263px,#00f 272px,#008 279px,#008 290px,#00f 298px,#00f 302px,#009 306px,#008 309px,#008 313px,#00d 319px,#008 327px,#008)"></i><i style="background:linear-gradient(#06f,#06f 2px,#008 3px,#008 88px,#00f 136px,#02f 169px,#03f 238px,#04f 255px,#07f 263px,#00f 272px,#008 279px,#008 288px,#00f 297px,#02f 300px,#00f 303px,#00a 306px,#008 310px,#008 313px,#00c 319px,#008 325px,#008)"></i><i style="background:linear-gradient(#06f,#06f 2px,#008 3px,#008 88px,#00f 136px,#03f 169px,#03f 239px,#04f 255px,#07f 263px,#00f 272px,#008 279px,#008 286px,#00f 295px,#04f 299px,#00f 304px,#00b 308px,#009 312px,#00f 318px,#00d 326px,#00f 331px,#04f 350px,#00f 373px,#009 400px,#008)"></i><i style="background:linear-gradient(#06f,#06f 2px,#008 3px,#008 88px,#00f 136px,#03f 169px,#04f 253px,#07f 263px,#00f 272px,#008 279px,#008 286px,#00f 293px,#05f 299px,#00f 304px,#008 312px,#00d 319px,#008 327px,#00b 362px,#008 399px,#008)"></i><i style="background:linear-gradient(#06f,#06f 2px,#008 3px,#008 88px,#00f 136px,#03f 169px,#04f 253px,#07f 263px,#00f 272px,#008 278px,#008 285px,#00f 292px,#06f 299px,#00f 305px,#008 312px,#00d 319px,#008 327px,#00f 351px,#03f 375px,#00f 399px,#009 428px,#008)"></i><i style="background:linear-gradient(#06f,#06f 2px,#008 3px,#008 88px,#00f 136px,#03f 170px,#04f 253px,#06f 263px,#00f 272px,#008 278px,#008 285px,#00f 292px,#05f 299px,#00f 305px,#008 311px,#00c 319px,#008 325px,#00b 375px,#008)"></i><i style="background:linear-gradient(#06f,#06f 2px,#008 3px,#008 88px,#00f 136px,#03f 170px,#04f 253px,#06f 263px,#00f 272px,#008 279px,#008 286px,#00f 293px,#04f 299px,#00f 305px,#008 311px,#00c 319px,#008 325px,#008)"></i><i style="background:linear-gradient(#06f,#07f 4px,#00f 21px,#02f 39px,#08f 57px,#03f 75px,#06f 93px,#04f 111px,#06f 129px,#03f 189px,#04f 253px,#06f 263px,#00f 272px,#008 279px,#008 286px,#00f 294px,#03f 300px,#00f 305px,#008 312px,#00c 319px,#008 325px,#008)"></i><i style="background:linear-gradient(#06f,#06f 2px,#008 3px,#008 88px,#00f 140px,#03f 171px,#04f 254px,#06f 263px,#00f 273px,#008 281px,#008 287px,#00f 297px,#00f 305px,#009 311px,#00c 319px,#008 325px,#008)"></i><i style="background:linear-gradient(#06f,#06f 2px,#008 3px,#008 88px,#00f 136px,#03f 172px,#04f 253px,#06f 263px,#00f 274px,#008 282px,#008 288px,#00f 301px,#00f 306px,#009 312px,#00c 319px,#008 325px,#008)"></i><i style="background:linear-gradient(#06f,#06f 2px,#008 3px,#008 88px,#00f 136px,#03f 172px,#04f 254px,#06f 263px,#00f 272px,#00f 276px,#008 282px,#008 291px,#00f 302px,#00f 307px,#00a 312px,#00c 319px,#008 325px,#008)"></i><i style="background:linear-gradient(#06f,#06f 2px,#008 3px,#008 88px,#00f 140px,#04f 171px,#04f 253px,#06f 263px,#01f 272px,#00f 278px,#008 282px,#008 293px,#01f 302px,#02f 305px,#00f 308px,#00b 313px,#00c 319px,#008 325px,#008)"></i><i style="background:linear-gradient(#06f,#06f 2px,#008 3px,#008 88px,#00f 136px,#04f 172px,#04f 253px,#06f 263px,#01f 272px,#02f 276px,#00f 278px,#008 282px,#008 283px,#008 294px,#00f 301px,#04f 305px,#00f 309px,#00b 313px,#00c 320px,#008 325px,#008)"></i><i style="background:linear-gradient(#06f,#06f 2px,#008 3px,#008 88px,#00f 140px,#04f 173px,#04f 252px,#06f 263px,#01f 272px,#02f 276px,#00f 278px,#008 282px,#008 283px,#008 295px,#00f 300px,#06f 303px,#07f 305px,#00e 311px,#00c 314px,#00c 320px,#008 325px,#008)"></i><i style="background:linear-gradient(#06f,#06f 2px,#008 3px,#008 6px,#008 88px,#00f 135px,#04f 174px,#04f 252px,#06f 263px,#01f 272px,#00f 278px,#008 282px,#008 294px,#009 296px,#00f 299px,#08f 303px,#0af 305px,#00f 312px,#00c 320px,#008 325px,#008)"></i><i style="background:linear-gradient(#06f,#06f 2px,#008 3px,#008 8px,#008 88px,#01f 144px,#05f 175px,#04f 252px,#06f 263px,#00f 276px,#00e 278px,#008 282px,#008 292px,#009 295px,#00f 298px,#0bf 302px,#2fd 304px,#2fd 307px,#08f 311px,#06f 314px,#1fe 342px,#0cf 350px,#00f 367px,#00a 379px,#008 391px,#008)"></i><i style="background:linear-gradient(#06f,#06f 2px,#008 3px,#008 8px,#008 88px,#00f 135px,#05f 176px,#04f 251px,#06f 263px,#00f 274px,#008 281px,#008 293px,#00a 296px,#00f 298px,#1fd 303px,#3fb 305px,#2fd 307px,#0df 308px,#03f 312px,#00f 315px,#00f 322px,#00c 326px,#00e 343px,#008 385px,#008)"></i><i style="background:linear-gradient(#06f,#06f 2px,#03f 3px,#00f 13px,#00d 23px,#00f 29px,#06f 41px,#04f 59px,#07f 131px,#04f 167px,#06f 197px,#04f 252px,#06f 264px,#00f 273px,#008 281px,#008 294px,#00f 298px,#0ee 302px,#5fa 305px,#3fb 307px,#1fe 308px,#0bf 309px,#02f 312px,#00f 314px,#00c 320px,#008 325px,#008)"></i><i style="background:linear-gradient(#06f,#06f 2px,#7f8 3px,#8f6 9px,#2fd 45px,#8f7 116px,#1fd 154px,#0af 170px,#07f 192px,#04f 248px,#06f 264px,#00f 273px,#008 277px,#008 293px,#009 295px,#00d 297px,#00f 298px,#0cf 301px,#2fc 302px,#7f7 305px,#3fc 308px,#0ee 309px,#03f 312px,#00f 314px,#00d 319px,#008 325px,#008)"></i><i style="background:linear-gradient(#06f,#06f 2px,#008 3px,#008 88px,#00f 140px,#05f 172px,#07f 197px,#04f 248px,#06f 264px,#05f 268px,#00f 273px,#008 277px,#008 293px,#009 295px,#00e 297px,#01f 298px,#0ee 301px,#7f8 303px,#9f5 305px,#7f7 307px,#2fd 309px,#0bf 310px,#04f 312px,#00f 315px,#008 325px,#008)"></i><i style="background:linear-gradient(#06f,#06f 2px,#008 3px,#008 88px,#00f 140px,#06f 173px,#07f 197px,#04f 247px,#06f 264px,#04f 269px,#00f 273px,#008 277px,#008 293px,#009 295px,#00e 297px,#01f 298px,#1fd 301px,#8f6 303px,#bf4 305px,#9f6 307px,#3fc 309px,#0df 310px,#03f 313px,#00f 315px,#008 326px,#008)"></i><i style="background:linear-gradient(#06f,#06f 2px,#4fb 3px,#0ee 13px,#8f6 32px,#5fa 50px,#5f9 103px,#1fd 120px,#0df 132px,#06f 167px,#08f 202px,#04f 249px,#06f 265px,#04f 269px,#00f 273px,#008 277px,#008 293px,#009 295px,#00e 297px,#02f 298px,#0bf 300px,#2fc 301px,#9f6 303px,#cf3 305px,#9f5 307px,#3fb 309px,#0df 310px,#03f 313px,#00f 315px,#00a 323px,#008 354px,#008)"></i><i style="background:linear-gradient(#06f,#06f 2px,#09f 3px,#09f 49px,#0df 68px,#1fe 85px,#07f 104px,#0af 122px,#05f 157px,#08f 198px,#05f 246px,#06f 264px,#05f 269px,#00f 273px,#008 277px,#008 293px,#009 295px,#00e 297px,#02f 298px,#0bf 300px,#2fc 301px,#9f5 303px,#cf2 305px,#af5 307px,#4fb 309px,#0df 310px,#03f 313px,#00f 316px,#00f 335px,#009 353px,#009)"></i><i style="background:linear-gradient(#06f,#06f 2px,#1fe 7px,#3fb 11px,#2fd 14px,#0df 16px,#00f 24px,#00a 29px,#008 35px,#008 80px,#00f 140px,#07f 176px,#09f 200px,#05f 246px,#06f 265px,#04f 270px,#00f 273px,#008 277px,#008 293px,#009 295px,#00e 297px,#02f 298px,#0bf 300px,#2fc 301px,#9f6 303px,#cf3 305px,#9f5 307px,#3fb 309px,#0df 310px,#05f 312px,#00f 314px,#00b 318px,#00b 323px,#00f 330px,#0cf 342px,#0df 357px,#0df 397px,#08f)"></i><i style="background:linear-gradient(#06f,#06f 2px,#1fe 7px,#3fb 11px,#2fd 14px,#0df 16px,#00f 24px,#00a 29px,#008 35px,#008 80px,#00f 140px,#07f 177px,#09f 201px,#05f 246px,#07f 266px,#05f 270px,#01f 273px,#00f 274px,#008 277px,#008 293px,#009 295px,#00e 297px,#02f 298px,#0bf 300px,#2fd 301px,#8f6 303px,#bf4 305px,#af4 306px,#5fa 308px,#1fe 309px,#0af 310px,#00f 313px,#00c 317px,#00f 321px,#0bf 330px,#0ee 335px,#7f8 410px,#4fa)"></i><i style="background:linear-gradient(#06f,#06f 2px,#7f8 3px,#bf4 13px,#7f7 26px,#7f7 46px,#2fd 64px,#4fa 82px,#5f9 136px,#1fd 160px,#0af 182px,#0af 210px,#05f 243px,#07f 266px,#05f 270px,#00f 274px,#008 277px,#008 293px,#009 295px,#00d 297px,#02f 298px,#0af 300px,#1fe 301px,#4fa 302px,#9f6 305px,#2fc 308px,#0cf 309px,#05f 311px,#02f 313px,#03f 315px,#0cf 319px,#2fc 321px,#8f6 325px,#af4 328px,#7f7)"></i><i style="background:linear-gradient(#06f,#06f 2px,#6f9 3px,#bf3 12px,#af5 18px,#2fc 30px,#0df 47px,#0cf 55px,#0ee 91px,#08f 109px,#1fd 125px,#3fb 145px,#1fd 153px,#0df 160px,#0af 178px,#0af 210px,#05f 248px,#07f 266px,#06f 270px,#00f 274px,#008 277px,#008 293px,#009 295px,#00d 297px,#01f 298px,#09f 300px,#0df 301px,#3fc 302px,#7f7 305px,#4fb 307px,#1fd 308px,#0bf 309px,#04f 311px,#00f 313px,#00d 316px,#00f 318px,#02f 320px,#0cf 325px,#2fc 327px,#8f6 331px,#af5 334px,#8f7 376px,#af5)"></i><i style="background:linear-gradient(#06f,#06f 2px,#3fb 3px,#7f7 9px,#8f7 13px,#1fd 26px,#0bf 40px,#07f 112px,#0cf 148px,#08f 172px,#0bf 209px,#05f 247px,#07f 267px,#05f 271px,#00f 274px,#008 277px,#008 294px,#00a 296px,#00d 297px,#01f 298px,#0cf 301px,#1fd 302px,#5f9 305px,#3fc 307px,#0bf 309px,#03f 312px,#00f 316px,#00f 411px,#03f)"></i><i style="background:linear-gradient(#06f,#06f 2px,#1fe 7px,#3fb 11px,#2fd 14px,#0df 16px,#00f 24px,#00a 29px,#008 35px,#008 80px,#00f 140px,#0bf 208px,#06f 247px,#08f 267px,#06f 271px,#01f 274px,#00e 275px,#008 277px,#008 278px,#008 294px,#00a 296px,#00d 297px,#00f 298px,#0af 301px,#2fd 303px,#3fb 305px,#1fd 307px,#0df 308px,#02f 313px,#00f 319px,#03f 322px,#0cf 326px,#3fc 328px,#bf4 332px,#fe0 335px,#fc0 338px,#fc0 406px,#fe0)"></i><i style="background:linear-gradient(#06f,#06f 2px,#1fe 7px,#3fb 11px,#2fd 14px,#0df 16px,#00f 24px,#00a 29px,#008 35px,#008 80px,#00f 141px,#0cf 210px,#06f 248px,#08f 268px,#07f 271px,#00f 275px,#009 277px,#008 278px,#008 295px,#00d 297px,#00f 298px,#0bf 302px,#1fd 305px,#0df 307px,#03f 311px,#00f 313px,#00c 316px,#00b 321px,#00c 324px,#00f 327px,#02f 329px,#0cf 334px,#2fc 336px,#7f7 340px,#8f6 343px,#bf3 420px,#af5)"></i><i style="background:linear-gradient(#06f,#06f 2px,#1fe 7px,#3fb 11px,#2fd 14px,#0df 16px,#00f 24px,#00a 29px,#008 35px,#008 79px,#00f 141px,#0cf 212px,#06f 248px,#09f 268px,#06f 272px,#00f 275px,#008 278px,#008 295px,#00f 298px,#09f 302px,#0cf 305px,#0bf 307px,#00f 312px,#00a 315px,#008 318px,#009 320px,#00e 323px,#01f 324px,#0bf 328px,#3fc 330px,#af5 334px,#df2 338px,#af4 383px,#ef1)"></i><i style="background:linear-gradient(#06f,#06f 2px,#008 3px,#008 7px,#008 88px,#00f 141px,#0df 214px,#07f 249px,#0af 268px,#07f 272px,#00f 275px,#00d 276px,#008 278px,#008 294px,#008 295px,#00f 298px,#08f 302px,#0af 305px,#09f 307px,#00f 311px,#009 315px,#008 319px,#00a 322px,#00f 325px,#0cf 332px,#1fd 334px,#4fa 339px,#8f6)"></i><i style="background:linear-gradient(#06f,#06f 2px,#3fc 3px,#4fb 51px,#0df 70px,#1fd 82px,#5fa 120px,#1fd 137px,#0df 145px,#07f 175px,#0df 213px,#07f 250px,#0af 268px,#08f 272px,#00e 276px,#008 278px,#008 294px,#008 295px,#00f 298px,#06f 302px,#08f 305px,#07f 307px,#00f 311px,#00a 317px,#00f 322px,#0df 328px,#3fc 330px,#8f7 334px,#9f5 337px,#9f6)"></i><i style="background:linear-gradient(#06f,#06f 2px,#ef1 3px,#fe0 4px,#fa0 11px,#ef0 19px,#8f6 31px,#bf4 62px,#6f9 80px,#6f8 133px,#2fd 142px,#0af 152px,#08f 179px,#0ee 219px,#08f 250px,#0bf 268px,#08f 272px,#00f 276px,#008 278px,#008 294px,#00f 298px,#06f 305px,#00f 311px,#00f 317px,#0cf 324px,#2fc 326px,#9f5 333px,#bf4 353px,#8f6)"></i><i style="background:linear-gradient(#06f,#06f 2px,#fc0 3px,#f70 11px,#f90 15px,#ef0 21px,#af4 29px,#bf4 42px,#8f7 60px,#af4 78px,#9f5 96px,#ef1 132px,#2fd 161px,#0df 166px,#09f 187px,#0ee 217px,#09f 251px,#0cf 268px,#09f 272px,#00f 276px,#009 278px,#008 279px,#008 294px,#00f 298px,#05f 305px,#00f 314px,#00f 326px,#00b 340px,#008 374px,#008)"></i><i style="background:linear-gradient(#06f,#06f 2px,#2fc 3px,#6f8 12px,#1fd 20px,#09f 28px,#1fd 45px,#0af 82px,#1fd 118px,#0df 126px,#06f 152px,#05f 173px,#1ee 222px,#0af 251px,#0cf 269px,#0af 272px,#01f 276px,#00d 277px,#008 279px,#008 294px,#00f 298px,#04f 304px,#01f 313px,#01f 321px,#05f 325px,#0df 330px,#2fc 332px,#8f6 339px,#7f7 376px,#ef1 432px,#fe0)"></i><i style="background:linear-gradient(#06f,#06f 2px,#f70 3px,#f20 11px,#fc0 26px,#ef0 43px,#df2 52px,#fd0 105px,#fe0 110px,#8f6 124px,#1fd 147px,#0df 151px,#08f 161px,#05f 176px,#1ee 219px,#0af 252px,#0df 268px,#0bf 272px,#00e 277px,#008 279px,#008 293px,#00f 298px,#04f 304px,#03f 317px,#0df 325px,#2fd 327px,#8f7 335px,#9f5)"></i><i style="background:linear-gradient(#06f,#06f 2px,#0bf 3px,#2fc 5px,#7f8 8px,#8f6 11px,#7f8 14px,#2fc 17px,#0bf 19px,#00f 25px,#00a 29px,#008 35px,#008 80px,#00f 141px,#06f 184px,#1ee 220px,#0bf 252px,#1ee 268px,#0cf 272px,#00f 277px,#008 279px,#008 284px,#008 293px,#00f 298px,#08f 316px,#0cf 320px,#2fd 322px,#df2 331px,#ef0 339px,#fe0 377px,#bf4)"></i><i style="background:linear-gradient(#06f,#06f 2px,#7f8 3px,#bf3 11px,#1fd 39px,#0df 45px,#0cf 48px,#0df 53px,#4fa 66px,#1ee 84px,#1ee 102px,#0af 120px,#1fd 131px,#3fb 138px,#1fd 142px,#08f 156px,#07f 185px,#1fe 223px,#0cf 252px,#1fd 270px,#0cf 273px,#00f 277px,#00d 278px,#008 280px,#008 293px,#00f 298px,#09f 313px,#0bf 348px,#07f 422px,#07f)"></i><i style="background:linear-gradient(#06f,#06f 2px,#6f8 3px,#bf4 12px,#2fd 29px,#0df 35px,#0af 44px,#09f 62px,#1fe 80px,#0bf 98px,#1fe 116px,#06f 184px,#1fe 225px,#0df 251px,#2fd 271px,#0bf 274px,#00e 278px,#008 280px,#008 292px,#00f 297px,#09f 315px,#09f 323px,#01f 337px,#00f 347px,#00c 399px,#008 437px,#008)"></i><i style="background:linear-gradient(#06f,#06f 2px,#0bf 3px,#2fc 5px,#7f8 8px,#8f6 11px,#7f8 14px,#2fc 17px,#0bf 19px,#00f 25px,#00a 29px,#008 35px,#008 80px,#00f 141px,#06f 189px,#1fd 227px,#0ee 253px,#3fb 268px,#2fd 272px,#0cf 274px,#00f 278px,#008 281px,#008 283px,#008 292px,#00f 297px,#03f 305px,#0bf 313px,#1fd 321px,#9f5 334px,#af5 404px,#7f8)"></i><i style="background:linear-gradient(#06f,#06f 2px,#6f8 3px,#af5 10px,#8f6 14px,#1fd 21px,#0df 23px,#09f 34px,#0df 61px,#1fd 67px,#5fa 77px,#2fd 82px,#0df 86px,#06f 96px,#0df 132px,#05f 181px,#07f 195px,#1fd 229px,#1fd 253px,#4fa 268px,#2fd 273px,#0bf 275px,#01f 278px,#00e 279px,#008 282px,#008 290px,#00f 297px,#04f 305px,#0cf 311px,#1fd 314px,#af4 335px,#ef0 415px,#ef1)"></i><i style="background:linear-gradient(#06f,#06f 2px,#008 3px,#008 7px,#008 88px,#00f 141px,#06f 192px,#1fd 231px,#2fd 252px,#5fa 268px,#3fc 273px,#0cf 275px,#00f 279px,#009 282px,#008 286px,#008 290px,#00f 296px,#04f 305px,#0cf 310px,#1fd 311px,#df2 319px,#fd0 321px,#f80 327px,#f90 380px,#f30 435px,#f20)"></i><i style="background:linear-gradient(#06f,#06f 2px,#008 3px,#008 7px,#008 88px,#00f 141px,#06f 193px,#1fd 232px,#2fc 252px,#6f9 268px,#2fc 274px,#0bf 276px,#00f 280px,#00b 283px,#009 288px,#00f 296px,#04f 305px,#1fd 314px,#af5 333px,#fe0 397px,#fe0)"></i><i style="background:linear-gradient(#06f,#06f 2px,#008 3px,#008 7px,#008 88px,#00f 141px,#05f 194px,#0df 223px,#1fd 234px,#3fc 252px,#7f8 269px,#6f9 272px,#2fd 275px,#0df 276px,#02f 280px,#00f 282px,#00b 289px,#00f 295px,#04f 304px,#0df 312px,#0ef 315px,#0cf 323px,#00f 335px,#00e 370px,#008 425px,#008)"></i><i style="background:linear-gradient(#06f,#06f 2px,#008 3px,#008 7px,#008 88px,#00f 141px,#05f 195px,#0df 225px,#1fd 236px,#3fc 252px,#7f7 269px,#6f9 273px,#1fd 276px,#0df 277px,#05f 280px,#00f 283px,#00d 289px,#00f 294px,#05f 303px,#0cf 311px,#1fd 320px,#8f7 333px,#8f7)"></i><i style="background:linear-gradient(#06f,#06f 2px,#008 3px,#008 7px,#008 88px,#00f 141px,#05f 196px,#0df 226px,#1fd 237px,#8f6 269px,#7f8 273px,#3fc 276px,#0cf 278px,#03f 283px,#00f 287px,#00f 292px,#04f 299px,#0df 307px,#1fd 310px,#1fd 320px,#6f8 338px,#2fd)"></i><i style="background:linear-gradient(#06f,#06f 2px,#008 3px,#008 7px,#008 88px,#00f 141px,#05f 198px,#0df 228px,#1fd 238px,#9f6 270px,#7f7 274px,#3fc 277px,#0df 279px,#05f 284px,#01f 291px,#03f 296px,#0df 302px,#2fd 304px,#4fb 307px,#2fc 366px,#7f8)"></i><i style="background:linear-gradient(#06f,#06f 2px,#02f 3px,#07f 8px,#08f 12px,#00f 21px,#00a 27px,#008 33px,#008 79px,#00f 141px,#05f 199px,#0df 229px,#1fd 238px,#9f5 270px,#8f6 274px,#1fd 279px,#0cf 281px,#06f 286px,#02f 292px,#04f 295px,#0cf 299px,#2fc 301px,#5f9 305px,#5f9 321px,#2fd 328px,#0df 330px,#06f 336px,#04f 340px,#00e)"></i><i style="background:linear-gradient(#06f,#06f 2px,#0cf 3px,#1fd 10px,#0af 25px,#0af 40px,#05f 57px,#0af 76px,#03f 147px,#05f 196px,#0df 230px,#1fd 239px,#af5 271px,#8f6 275px,#1fe 281px,#06f 288px,#04f 292px,#0cf 297px,#2fc 299px,#6f9 303px,#6f9 315px,#2fc 331px,#7f7 391px,#4fb)"></i><i style="background:linear-gradient(#06f,#06f 2px,#0ee 3px,#1fd 6px,#0bf 53px,#0df 71px,#0cf 123px,#05f 152px,#03f 171px,#05f 202px,#0df 231px,#1fd 239px,#af4 272px,#9f6 276px,#2fc 282px,#0cf 285px,#05f 291px,#07f 293px,#0cf 296px,#2fc 298px,#6f9 302px,#6f9 315px,#1fd 322px,#0cf 324px,#05f 330px,#02f 335px,#05f)"></i><i style="background:linear-gradient(#06f,#06f 2px,#8f6 3px,#9f5 8px,#5f9 22px,#6f8 34px,#3fc 52px,#5f9 70px,#1fe 88px,#1ee 106px,#3fb 124px,#1fd 134px,#06f 163px,#04f 183px,#06f 207px,#0ee 234px,#bf3 273px,#9f6 278px,#2fd 284px,#0cf 286px,#06f 291px,#07f 293px,#0cf 296px,#2fc 298px,#6f9 302px,#4fb 399px,#7f8)"></i><i style="background:linear-gradient(#06f,#06f 2px,#02f 3px,#07f 8px,#08f 12px,#00f 21px,#00a 27px,#008 33px,#008 79px,#00f 141px,#05f 204px,#0df 232px,#1fd 240px,#cf3 274px,#af5 279px,#2fc 285px,#0df 287px,#07f 292px,#0df 297px,#2fd 299px,#5fa 303px,#7f8 326px,#8f7)"></i><i style="background:linear-gradient(#06f,#06f 2px,#008 3px,#008 7px,#008 88px,#00f 141px,#05f 204px,#0df 233px,#1fd 241px,#df2 276px,#af5 281px,#2fc 286px,#0cf 288px,#07f 293px,#0cf 298px,#2fd 300px,#5fa 304px,#5fa 321px,#2fc 325px,#0df 327px,#00f 334px,#00e 335px,#009 340px,#008)"></i><i style="background:linear-gradient(#06f,#06f 2px,#008 3px,#008 7px,#008 88px,#00f 141px,#05f 205px,#0df 234px,#1fd 241px,#ef1 277px,#bf3 281px,#2fd 287px,#0cf 289px,#07f 295px,#1fd 300px,#6f9 303px,#7f7 306px,#7f8 318px,#1fd 324px,#04f 331px,#01f 336px,#05f 403px,#0cf)"></i><i style="background:linear-gradient(#06f,#06f 2px,#008 3px,#008 7px,#008 88px,#00f 141px,#05f 207px,#0df 237px,#1fd 242px,#fe0 277px,#df1 281px,#2fc 287px,#0df 289px,#07f 295px,#08f 297px,#0ee 300px,#8f6 304px,#bf4 307px,#af5 317px,#1fe 323px,#00f 329px,#00e 330px,#009 333px,#008 335px,#008)"></i><i style="background:linear-gradient(#06f,#06f 2px,#0bf 3px,#0df 24px,#09f 42px,#08f 78px,#06f 96px,#0af 149px,#04f 175px,#04f 193px,#06f 215px,#0df 236px,#1fd 243px,#fe0 274px,#fc0 278px,#fe0 281px,#1fd 288px,#0cf 290px,#07f 296px,#0df 300px,#1fd 301px,#9f5 305px,#bf3 308px,#bf4 322px,#2fd 329px,#0cf 331px,#00f 338px,#01f 390px,#09f)"></i><i style="background:linear-gradient(#06f,#06f 2px,#008 3px,#008 7px,#008 88px,#00f 141px,#05f 210px,#0df 239px,#2fd 244px,#ef1 272px,#fe0 274px,#fb0 278px,#fe0 282px,#2fd 288px,#0cf 290px,#07f 296px,#0cf 300px,#3fc 302px,#8f7 305px,#af5 308px,#af5 321px,#2fd 329px,#0df 331px,#06f 337px,#05f 347px,#1ee 437px,#2fd)"></i><i style="background:linear-gradient(#06f,#06f 2px,#008 3px,#008 7px,#008 88px,#00f 141px,#05f 212px,#0df 240px,#1fd 244px,#ef1 272px,#fd0 274px,#f90 279px,#ef1 283px,#2fc 288px,#0df 290px,#08f 296px,#09f 298px,#1fe 301px,#9f6 307px,#8f6 317px,#1fe 332px,#0df 360px,#0ee 402px,#6f8)"></i><i style="background:linear-gradient(#06f,#06f 2px,#008 3px,#008 7px,#008 88px,#00f 141px,#05f 214px,#0df 242px,#2fd 246px,#df1 271px,#fe0 273px,#f80 279px,#f90 281px,#fe0 283px,#3fc 288px,#0df 290px,#08f 296px,#0cf 300px,#2fd 302px,#7f8 307px,#5f9 331px,#8f7)"></i><i style="background:linear-gradient(#06f,#06f 2px,#008 3px,#008 7px,#008 88px,#00f 141px,#03f 167px,#05f 215px,#0df 243px,#2fd 247px,#ef1 271px,#fd0 273px,#f60 279px,#f80 281px,#fd0 283px,#ef1 284px,#1fd 289px,#0cf 291px,#08f 296px,#1fd 303px,#4fa 307px,#8f6 330px,#7f8 410px,#9f6)"></i><i style="background:linear-gradient(#06f,#06f 2px,#008 3px,#008 7px,#008 88px,#00f 141px,#03f 168px,#05f 217px,#0cf 243px,#1fd 248px,#fe0 272px,#f50 279px,#f60 281px,#ef0 284px,#bf3 285px,#1fd 289px,#0df 290px,#09f 293px,#07f 297px,#0cf 303px,#1fd 306px,#3fb 312px,#ef0 326px,#af5 406px,#df2)"></i><i style="background:linear-gradient(#06f,#06f 2px,#008 3px,#008 7px,#008 88px,#00f 141px,#03f 168px,#05f 220px,#08f 234px,#0df 246px,#1fd 249px,#ef1 271px,#fd0 273px,#f40 279px,#f50 281px,#fe0 284px,#2fd 289px,#0df 290px,#09f 293px,#07f 298px,#1ee 308px,#1fd 318px,#3fc 331px,#5fa)"></i><i style="background:linear-gradient(#06f,#06f 2px,#008 3px,#008 7px,#008 88px,#00f 141px,#03f 168px,#05f 222px,#08f 236px,#0df 247px,#1fd 250px,#ef1 271px,#fd0 273px,#f30 278px,#f20 280px,#f60 282px,#fd0 284px,#cf2 285px,#0df 290px,#09f 294px,#07f 299px,#0cf 310px,#09f 378px,#2fd)"></i><i style="background:linear-gradient(#06f,#06f 2px,#008 3px,#008 7px,#008 88px,#00f 141px,#03f 168px,#05f 225px,#08f 239px,#0ee 249px,#1fd 251px,#df1 271px,#fd0 273px,#f30 278px,#f20 280px,#f50 282px,#fc0 284px,#df2 285px,#4fb 288px,#0df 290px,#09f 294px,#06f 300px,#09f 309px,#0af 320px,#0df 325px,#2fd 328px,#6f8 335px,#7f7 342px,#4fb 423px,#5fa)"></i><i style="background:linear-gradient(#06f,#06f 2px,#008 3px,#008 7px,#008 88px,#00f 141px,#03f 169px,#05f 227px,#08f 240px,#0df 250px,#1fd 252px,#ef0 272px,#fd0 273px,#f30 278px,#f20 280px,#f50 282px,#fc0 284px,#df2 285px,#2fd 289px,#0df 290px,#08f 294px,#06f 300px,#0af 309px,#0af 319px,#1fd 330px,#3fb 385px,#1fd 420px,#0bf)"></i><i style="background:linear-gradient(#06f,#06f 2px,#5fa 3px,#cf3 9px,#ef1 13px,#4fb 25px,#1ee 32px,#0ee 85px,#3fc 104px,#1fd 125px,#0df 133px,#05f 167px,#04f 184px,#06f 231px,#08f 242px,#0df 250px,#1fd 253px,#ef1 272px,#f40 278px,#f20 280px,#f60 282px,#fd0 284px,#cf2 285px,#1fd 289px,#0bf 291px,#07f 298px,#0cf 307px,#0ee 316px,#af5 332px,#df1 406px,#cf3)"></i><i style="background:linear-gradient(#06f,#06f 2px,#0bf 3px,#2fc 5px,#7f8 8px,#8f6 11px,#7f8 14px,#2fc 17px,#0bf 19px,#00f 25px,#00a 29px,#008 35px,#008 80px,#00f 141px,#03f 169px,#05f 232px,#08f 243px,#0df 252px,#2fd 255px,#df2 272px,#fd0 274px,#f50 278px,#f40 280px,#f70 282px,#fe0 284px,#cf3 285px,#1fd 289px,#0df 290px,#09f 293px,#07f 297px,#0df 305px,#1fd 307px,#fe0 320px,#ef0 401px,#f90)"></i><i style="background:linear-gradient(#06f,#06f 2px,#0bf 3px,#2fc 5px,#7f8 8px,#8f6 11px,#7f8 14px,#2fc 17px,#0bf 19px,#00f 25px,#00a 29px,#008 35px,#008 80px,#00f 141px,#03f 170px,#06f 234px,#08f 244px,#0df 253px,#1fd 255px,#9f5 269px,#fe0 274px,#f60 278px,#f60 280px,#f90 282px,#ef0 284px,#3fc 288px,#0cf 290px,#08f 293px,#07f 297px,#0af 309px,#0cf 312px,#2fc 315px,#ee0 323px,#fa0 328px,#f90 383px,#ef1)"></i><i style="background:linear-gradient(#06f,#06f 2px,#0bf 3px,#2fc 5px,#7f8 8px,#8f6 11px,#7f8 14px,#2fc 17px,#0bf 19px,#00f 25px,#00a 29px,#008 35px,#008 80px,#00f 141px,#03f 170px,#05f 235px,#08f 245px,#0df 254px,#1fd 256px,#9f6 269px,#ef0 274px,#fd0 275px,#f70 279px,#f80 281px,#fd0 283px,#df2 284px,#2fc 288px,#0cf 290px,#07f 295px,#07f 318px,#01f 336px,#04f 384px,#00f 418px,#008 444px,#008)"></i><i style="background:linear-gradient(#06f,#06f 2px,#cf3 3px,#fe0 7px,#fc0 11px,#fe0 16px,#9f6 24px,#7f7 30px,#6f8 89px,#2fc 107px,#3fc 130px,#1fd 141px,#0df 147px,#07f 165px,#04f 187px,#06f 238px,#08f 247px,#0df 255px,#1fd 257px,#9f6 270px,#df1 274px,#fc0 276px,#f90 280px,#ef0 283px,#2fd 288px,#0bf 290px,#07f 295px,#09f 313px,#0df 318px,#2fd 320px,#af5 327px,#cf3 332px,#bf4 361px,#df1 412px,#af4)"></i><i style="background:linear-gradient(#06f,#06f 2px,#0bf 3px,#2fc 5px,#7f8 8px,#8f6 11px,#7f8 14px,#2fc 17px,#0bf 19px,#00f 25px,#00a 29px,#008 35px,#008 80px,#00f 141px,#03f 171px,#05f 237px,#08f 246px,#0df 255px,#1fd 258px,#8f7 270px,#fe0 276px,#fb0 279px,#fe0 282px,#3fc 287px,#0cf 289px,#08f 293px,#0bf 300px,#0bf 319px,#00f 337px,#00d 409px,#008)"></i><i style="background:linear-gradient(#06f,#06f 2px,#0bf 3px,#2fc 5px,#7f8 8px,#8f6 11px,#7f8 14px,#2fc 17px,#0bf 19px,#00f 25px,#00a 29px,#008 35px,#008 80px,#00f 141px,#03f 171px,#06f 238px,#08f 247px,#0df 256px,#2fd 259px,#7f7 270px,#fe0 277px,#fc0 279px,#ef1 282px,#2fc 287px,#0bf 289px,#08f 293px,#0cf 300px,#0df 318px,#1fd 322px,#5f9 333px,#2fc 382px,#5f9)"></i><i style="background:linear-gradient(#06f,#06f 2px,#7f7 3px,#bf4 10px,#9f6 14px,#1fd 21px,#0df 23px,#08f 28px,#0df 46px,#0df 82px,#0bf 118px,#07f 136px,#08f 154px,#04f 188px,#06f 240px,#08f 248px,#0df 256px,#1fd 259px,#6f8 270px,#fe0 279px,#cf2 282px,#1fd 287px,#0df 288px,#07f 292px,#0ee 301px,#0ee 327px,#0bf 332px,#01f 344px,#00f 355px,#00c)"></i><i style="background:linear-gradient(#06f,#06f 2px,#008 3px,#008 7px,#008 88px,#00f 141px,#04f 172px,#06f 239px,#08f 248px,#0cf 256px,#1fd 260px,#6f9 270px,#df1 279px,#bf3 282px,#3fc 286px,#0cf 288px,#07f 291px,#06f 293px,#1ee 302px,#1fe 316px,#4fa 333px,#5f9 362px,#2fc 425px,#3fc)"></i><i style="background:linear-gradient(#06f,#06f 2px,#6f9 3px,#bf4 11px,#1fd 29px,#0df 34px,#07f 48px,#0df 66px,#1fd 112px,#07f 146px,#04f 180px,#06f 240px,#08f 248px,#0df 257px,#1fd 260px,#6f8 271px,#cf2 279px,#af5 282px,#2fd 286px,#0df 287px,#06f 291px,#04f 294px,#0cf 302px,#0df 309px,#2fd 313px,#af4 326px,#9f6 412px,#af4)"></i><i style="background:linear-gradient(#06f,#06f 2px,#6f8 3px,#bf3 11px,#1fd 28px,#0df 36px,#08f 60px,#1fe 115px,#05f 161px,#04f 181px,#06f 240px,#08f 248px,#0df 257px,#1fd 261px,#bf3 279px,#9f6 282px,#3fb 285px,#0cf 287px,#05f 291px,#02f 295px,#0af 304px,#0af 315px,#1fd 322px,#9f6 333px,#7f8)"></i><i style="background:linear-gradient(#06f,#06f 2px,#0bf 3px,#2fc 5px,#7f8 8px,#8f6 11px,#7f8 14px,#2fc 17px,#0bf 19px,#00f 25px,#00a 29px,#008 35px,#008 80px,#00f 141px,#04f 172px,#06f 240px,#08f 248px,#0cf 257px,#1fd 261px,#af4 279px,#8f7 282px,#2fc 285px,#0bf 287px,#04f 291px,#01f 296px,#0af 305px,#0bf 315px,#2fd 321px,#7f7 328px,#9f5 333px,#9f5)"></i><i style="background:linear-gradient(#06f,#06f 2px,#0bf 3px,#2fc 5px,#7f8 8px,#8f6 11px,#7f8 14px,#2fc 17px,#0bf 19px,#00f 25px,#00a 29px,#008 35px,#008 80px,#00f 141px,#04f 172px,#06f 241px,#08f 249px,#0df 258px,#2fd 262px,#9f5 279px,#7f7 282px,#2fd 285px,#0df 286px,#05f 290px,#00f 296px,#0af 305px,#0bf 312px,#1fd 316px,#cf2 325px,#fe0 329px,#fd0)"></i><i style="background:linear-gradient(#06f,#06f 2px,#fc0 3px,#f70 8px,#f60 12px,#ef1 23px,#af4 31px,#bf3 85px,#7f8 121px,#8f6 139px,#1fd 163px,#0df 168px,#07f 183px,#05f 200px,#06f 242px,#0df 258px,#1fd 262px,#9f6 279px,#3fc 284px,#0cf 286px,#02f 292px,#00f 298px,#07f 304px,#09f 310px,#1fd 316px,#9f6 323px,#bf4 328px,#ef1 399px,#9f6)"></i><i style="background:linear-gradient(#06f,#06f 2px,#0bf 3px,#2fc 5px,#7f8 8px,#8f6 11px,#7f8 14px,#2fc 17px,#0bf 19px,#00f 25px,#00a 29px,#008 35px,#008 80px,#00f 141px,#04f 173px,#06f 241px,#0df 258px,#1fd 262px,#8f7 279px,#2fc 284px,#0cf 286px,#01f 292px,#00f 298px,#09f 305px,#09f 322px,#0df 327px,#2fd 329px,#8f6 336px,#af4 341px,#af5 419px,#7f8)"></i><i style="background:linear-gradient(#06f,#06f 2px,#0bf 3px,#2fc 5px,#7f8 8px,#8f6 11px,#7f8 14px,#2fc 17px,#0bf 19px,#00f 25px,#00a 29px,#008 35px,#008 80px,#00f 141px,#04f 173px,#06f 241px,#0df 258px,#1fd 262px,#8f7 279px,#2fc 284px,#0bf 286px,#01f 292px,#00f 298px,#09f 305px,#09f 317px,#0df 322px,#2fc 324px,#bf4 331px,#ef1 336px,#4fb)"></i><i style="background:linear-gradient(#06f,#06f 2px,#0bf 3px,#2fc 5px,#7f8 8px,#8f6 11px,#7f8 14px,#2fc 17px,#0bf 19px,#00f 25px,#00a 29px,#008 35px,#008 80px,#00f 141px,#04f 173px,#06f 242px,#0cf 258px,#1fd 262px,#7f7 279px,#2fd 284px,#0bf 286px,#00f 292px,#00c 296px,#00f 300px,#05f 305px,#06f 317px,#0df 323px,#2fc 325px,#bf3 334px,#df2 360px,#df1 398px,#8f7)"></i><i style="background:linear-gradient(#06f,#06f 2px,#bf3 3px,#fe0 7px,#fb0 12px,#fe0 18px,#7f8 26px,#3fb 34px,#1fd 53px,#4fa 89px,#1ee 107px,#0df 125px,#1fd 145px,#0af 161px,#06f 206px,#06f 243px,#0df 259px,#1fd 263px,#7f8 279px,#2fd 284px,#0df 285px,#04f 289px,#00f 292px,#009 299px,#00f 307px,#00f 322px,#00b 336px,#00e 391px,#00a)"></i><i style="background:linear-gradient(#06f,#06f 2px,#0bf 3px,#2fc 5px,#7f8 8px,#8f6 11px,#7f8 14px,#2fc 17px,#0bf 19px,#00f 25px,#00a 29px,#008 35px,#008 80px,#009 102px,#00f 136px,#04f 174px,#06f 240px,#08f 250px,#1fd 263px,#7f8 279px,#1fd 284px,#0df 285px,#04f 289px,#00f 292px,#008 299px,#008 308px,#00f 316px,#01f 323px,#0bf 339px,#0af 367px,#0cf 419px,#0af)"></i><i style="background:linear-gradient(#06f,#06f 2px,#0cf 3px,#0bf 10px,#0ee 28px,#0bf 46px,#0bf 64px,#06f 82px,#04f 99px,#0af 136px,#05f 181px,#06f 238px,#08f 249px,#0df 259px,#1fd 263px,#7f8 279px,#1fd 284px,#0df 285px,#03f 289px,#00f 292px,#008 299px,#008 313px,#00b 320px,#00a)"></i><i style="background:linear-gradient(#06f,#06f 2px,#2fd 3px,#1fd 116px,#09f 148px,#05f 193px,#07f 243px,#09f 252px,#1fd 263px,#7f8 278px,#3fc 283px,#0cf 285px,#00f 291px,#008 297px,#008 300px,#008 314px,#00a 321px,#008 330px,#00f 340px,#05f 349px,#05f)"></i><i style="background:linear-gradient(#06f,#06f 2px,#008 3px,#008 7px,#008 88px,#00f 141px,#04f 173px,#06f 243px,#0df 260px,#1fd 264px,#6f8 279px,#1fe 284px,#05f 288px,#00f 291px,#008 296px,#008 300px,#008 315px,#00b 321px,#008 327px,#008 334px,#00f 342px,#06f 351px,#06f)"></i><i style="background:linear-gradient(#06f,#06f 2px,#008 3px,#008 7px,#008 88px,#00f 141px,#04f 173px,#06f 243px,#09f 253px,#1fd 264px,#6f8 278px,#3fc 283px,#0cf 285px,#00f 291px,#008 296px,#008 316px,#00a 321px,#008 327px,#008 340px,#00f 346px,#08f 353px,#0af 357px,#0bf)"></i><i style="background:linear-gradient(#06f,#06f 2px,#008 3px,#008 7px,#008 88px,#00f 141px,#04f 173px,#06f 243px,#0df 261px,#2fd 265px,#6f8 278px,#3fc 283px,#0cf 285px,#03f 289px,#00f 291px,#008 296px,#008 316px,#00a 322px,#008 327px,#008 341px,#00f 409px,#00c)"></i><i style="background:linear-gradient(#06f,#09f 19px,#09f 55px,#0cf 73px,#09f 91px,#0bf 109px,#08f 127px,#0af 145px,#05f 187px,#06f 239px,#08f 250px,#0df 261px,#1fd 265px,#6f9 278px,#2fc 283px,#0cf 285px,#02f 289px,#00f 291px,#008 295px,#008 317px,#00a 322px,#008 327px,#008 336px,#00f 345px,#03f 356px,#00f)"></i><i style="background:linear-gradient(#06f,#06f 2px,#008 3px,#008 7px,#008 88px,#00f 141px,#04f 173px,#06f 244px,#09f 254px,#1fd 265px,#6f9 278px,#2fc 283px,#0cf 285px,#00f 290px,#00e 291px,#008 295px,#008 317px,#00a 322px,#008 327px,#008 335px,#00f 348px,#00d 406px,#00f)"></i><i style="background:linear-gradient(#06f,#06f 2px,#008 3px,#008 7px,#008 88px,#00f 141px,#04f 173px,#06f 244px,#09f 254px,#1fd 266px,#5f9 279px,#2fc 283px,#0cf 285px,#00f 290px,#00e 291px,#008 295px,#008 317px,#00a 322px,#008 327px,#008 337px,#00d 351px,#00f)"></i><i style="background:linear-gradient(#06f,#06f 2px,#09f 3px,#0bf 72px,#09f 90px,#01f 108px,#07f 126px,#03f 162px,#06f 240px,#08f 253px,#1fd 267px,#5fa 279px,#2fd 283px,#0bf 285px,#00f 290px,#00e 291px,#008 295px,#008 318px,#00a 322px,#008 327px,#008 336px,#00f 344px,#07f 353px,#06f)"></i><i style="background:linear-gradient(#06f,#06f 2px,#008 3px,#008 7px,#008 88px,#00f 141px,#04f 174px,#06f 244px,#08f 254px,#1fd 268px,#5fa 279px,#2fd 283px,#0bf 285px,#00f 290px,#008 295px,#008 318px,#00a 322px,#008 327px,#008 336px,#00f 342px,#09f 352px,#09f)"></i><i style="background:linear-gradient(#06f,#06f 2px,#0af 3px,#08f 27px,#0df 81px,#09f 117px,#09f 135px,#0cf 153px,#06f 168px,#05f 178px,#06f 240px,#08f 253px,#1fd 269px,#4fa 279px,#1fd 283px,#0bf 285px,#00f 290px,#008 294px,#008 303px,#008 318px,#00a 322px,#008 327px,#008 338px,#00f 345px,#08f 353px,#0af 369px,#09f)"></i><i style="background:linear-gradient(#06f,#06f 2px,#008 3px,#008 7px,#008 88px,#00f 141px,#04f 174px,#06f 245px,#08f 255px,#1fd 270px,#4fb 279px,#2fc 282px,#0df 284px,#00f 290px,#008 294px,#008 295px,#008 318px,#00a 322px,#008 327px,#008 334px,#00f 341px,#06f 350px,#01f)"></i><i style="background:linear-gradient(#06f,#06f 2px,#008 3px,#008 7px,#008 88px,#00f 141px,#04f 174px,#06f 245px,#0df 266px,#1fd 272px,#3fc 279px,#2fd 282px,#0df 284px,#00f 290px,#008 294px,#008 318px,#00a 322px,#008 327px,#008 338px,#00f 348px,#02f 354px,#03f 367px,#00f 407px,#00c)"></i><i style="background:linear-gradient(#06f,#06f 2px,#09f 3px,#0af 8px,#02f 27px,#08f 45px,#02f 63px,#07f 81px,#04f 117px,#05f 241px,#07f 254px,#1fd 274px,#1fd 282px,#0df 284px,#00f 290px,#008 294px,#008 318px,#00a 322px,#008 327px,#008 345px,#00f 356px,#02f 398px,#00f)"></i><i style="background:linear-gradient(#06f,#06f 2px,#008 3px,#008 7px,#008 88px,#00f 141px,#04f 174px,#05f 246px,#0df 269px,#2fd 281px,#0cf 284px,#00f 290px,#008 294px,#008 318px,#00a 322px,#008 334px,#00f 340px,#09f 347px,#0bf 351px,#0af 387px,#0ee)"></i><i style="background:linear-gradient(#06f,#06f 2px,#0bf 3px,#0cf 12px,#08f 30px,#0ee 66px,#1fd 141px,#0df 150px,#06f 174px,#05f 242px,#07f 254px,#1fd 280px,#0cf 284px,#00f 290px,#008 294px,#008 318px,#00a 322px,#008 327px,#008 335px,#00f 341px,#09f 348px,#0bf 352px,#0bf 400px,#0df)"></i><i style="background:linear-gradient(#06f,#06f 2px,#09f 3px,#05f 9px,#09f 27px,#0bf 98px,#1ee 116px,#08f 135px,#05f 166px,#05f 242px,#06f 254px,#1ee 280px,#0cf 284px,#00f 290px,#008 294px,#008 318px,#00a 322px,#008 327px,#008 336px,#008 344px,#00f 352px,#06f 361px,#08f 413px,#05f)"></i><i style="background:linear-gradient(#06f,#06f 2px,#008 3px,#008 7px,#008 88px,#00f 141px,#04f 174px,#05f 247px,#0df 281px,#0af 285px,#00f 290px,#008 294px,#008 318px,#00a 322px,#008 327px,#008 337px,#00f 346px,#04f 353px,#04f 371px,#00f 423px,#009)"></i><i style="background:linear-gradient(#06f,#06f 2px,#008 3px,#008 7px,#008 88px,#00f 141px,#04f 174px,#04f 247px,#0df 281px,#0af 285px,#00f 290px,#008 293px,#008 294px,#008 318px,#00a 322px,#008 334px,#00f 342px,#05f 351px,#00f 397px,#00a 437px,#009)"></i><i style="background:linear-gradient(#06f,#06f 2px,#008 3px,#008 7px,#008 88px,#00f 141px,#04f 174px,#04f 247px,#0cf 281px,#0af 285px,#00f 290px,#008 293px,#008 294px,#008 318px,#00a 322px,#008 327px,#008 338px,#00f 350px,#00c)"></i><i style="background:linear-gradient(#06f,#06f 2px,#008 3px,#008 7px,#008 88px,#00f 141px,#04f 175px,#04f 247px,#0bf 282px,#09f 285px,#00f 290px,#008 293px,#008 294px,#008 318px,#00a 322px,#008 331px,#00f 342px,#00f 429px,#00b)"></i><i style="background:linear-gradient(#06f,#06f 2px,#008 3px,#008 7px,#008 88px,#00f 141px,#04f 175px,#03f 247px,#0bf 282px,#09f 285px,#00f 290px,#008 293px,#008 294px,#008 318px,#00a 322px,#008 332px,#00f 341px,#03f 348px,#00f 368px,#00b)"></i><i style="background:linear-gradient(#06f,#06f 2px,#008 3px,#008 7px,#008 88px,#00f 141px,#04f 175px,#03f 248px,#0af 283px,#08f 286px,#00f 290px,#008 293px,#008 318px,#00a 322px,#008 327px,#008 336px,#008 344px,#00f 351px,#06f 360px,#00f)"></i><i style="background:linear-gradient(#06f,#06f 2px,#008 3px,#008 88px,#00f 136px,#04f 175px,#03f 245px,#06f 274px,#0af 283px,#07f 286px,#00f 290px,#008 293px,#008 318px,#00a 322px,#008 327px,#008 341px,#00f 352px,#00f 436px,#00d)"></i><i style="background:linear-gradient(#06f,#06f 2px,#008 3px,#008 25px,#008 90px,#00f 136px,#04f 175px,#02f 245px,#05f 274px,#09f 283px,#07f 286px,#00f 290px,#008 293px,#008 302px,#008 317px,#00a 322px,#008 329px,#00f 335px,#0df 343px,#1fd 345px,#5f9 386px,#1fd 421px,#08f 449px,#06f)"></i><i style="background:linear-gradient(#06f,#06f 2px,#008 3px,#008 88px,#00f 136px,#03f 175px,#02f 245px,#04f 274px,#09f 283px,#07f 286px,#00f 290px,#008 293px,#008 317px,#00a 322px,#008 327px,#009 357px,#009)"></i><i style="background:linear-gradient(#06f,#06f 2px,#008 3px,#008 88px,#00f 136px,#03f 175px,#02f 245px,#04f 274px,#09f 283px,#07f 286px,#00f 290px,#008 294px,#008 316px,#00b 322px,#008 328px,#008)"></i><i style="background:linear-gradient(#06f,#06f 2px,#2fc 3px,#5fa 20px,#1fd 39px,#4fb 74px,#0df 110px,#3fc 133px,#1fd 151px,#0df 158px,#04f 197px,#03f 234px,#05f 250px,#0df 267px,#4fa 275px,#ef0 285px,#df2 288px,#6f8 294px,#9f6 304px,#7f8 320px,#2fd 326px,#0df 328px,#09f 333px,#0cf 337px,#2fd 339px,#fe0 347px,#fa0 351px,#fd0 368px,#fe0 408px,#fa0)"></i><i style="background:linear-gradient(#06f,#06f 2px,#8f7 3px,#9f6 53px,#cf2 71px,#cf3 89px,#9f6 107px,#af4 125px,#7f8 143px,#8f7 161px,#1fd 181px,#0df 187px,#04f 211px,#02f 237px,#06f 272px,#0ee 284px,#0bf 288px,#00f 294px,#00f 314px,#03f 321px,#00f 326px,#00b 339px,#00f 348px,#05f 357px,#08f)"></i><i style="background:linear-gradient(#06f,#06f 2px,#9f6 3px,#8f6 19px,#cf3 37px,#6f9 73px,#4fb 126px,#5fa 144px,#1fd 153px,#0df 158px,#06f 176px,#03f 192px,#01f 272px,#06f 284px,#00f 290px,#008 293px,#008 294px,#008 316px,#00b 321px,#008 327px,#008 345px,#00b 358px,#009 409px,#00f 451px,#00f)"></i><i style="background:linear-gradient(#06f,#06f 2px,#008 3px,#008 88px,#00f 136px,#03f 177px,#01f 272px,#06f 284px,#00f 290px,#008 293px,#008 294px,#008 315px,#00b 321px,#008 327px,#008 343px,#00f 358px,#00f 421px,#00b)"></i><i style="background:linear-gradient(#06f,#06f 2px,#008 3px,#008 88px,#00f 136px,#03f 183px,#00f 272px,#05f 284px,#00f 290px,#008 294px,#008 314px,#00b 321px,#008 327px,#009)"></i><i style="background:linear-gradient(#06f,#06f 2px,#008 3px,#008 88px,#00f 136px,#03f 177px,#01f 271px,#02f 276px,#07f 285px,#06f 288px,#00f 292px,#00b 294px,#00f 316px,#02f 320px,#00f 325px,#00c 329px,#00a 344px,#009)"></i><i style="background:linear-gradient(#06f,#06f 2px,#008 3px,#008 9px,#008 88px,#00f 136px,#03f 175px,#02f 243px,#04f 272px,#1ee 286px,#0cf 290px,#06f 294px,#0df 312px,#1fd 316px,#1fd 323px,#09f 329px,#03f 343px,#06f 356px,#03f 380px,#06f 426px,#06f)"></i><i style="background:linear-gradient(#06f,#06f 2px,#008 3px,#008 6px,#008 88px,#00f 136px,#03f 186px,#00f 274px,#07f 285px,#06f 288px,#00e 293px,#00c 294px,#00b 310px,#00f 319px,#008 328px,#008 332px,#008 339px,#00f 350px,#00d 396px,#00f 427px,#05f)"></i><i style="background:linear-gradient(#06f,#06f 2px,#008 3px,#008 11px,#008 88px,#00f 136px,#03f 187px,#00f 268px,#02f 275px,#0cf 284px,#0ee 287px,#0df 290px,#07f 294px,#08f 301px,#05f 310px,#05f 317px,#00f 324px,#00b 328px,#009 336px,#009)"></i><i style="background:linear-gradient(#06f,#06f 2px,#008 3px,#008 6px,#008 88px,#00f 136px,#04f 190px,#00f 262px,#00d 272px,#00f 279px,#03f 285px,#00f 290px,#008 294px,#008 310px,#00d 319px,#00b 328px,#00f 338px,#02f 361px,#03f)"></i><i style="background:linear-gradient(#06f,#06f 2px,#008 3px,#008 88px,#00f 136px,#04f 192px,#00f 263px,#00d 272px,#00f 280px,#02f 285px,#00f 290px,#008 294px,#008 309px,#00f 320px,#00f 335px,#008 350px,#008)"></i><i style="background:linear-gradient(#06f,#06f 2px,#4fb 3px,#5f9 17px,#1fd 27px,#0bf 35px,#1fd 46px,#3fc 53px,#1fd 76px,#0bf 88px,#0df 107px,#08f 125px,#04f 168px,#00f 261px,#00c 272px,#02f 286px,#00f 290px,#008 295px,#008 309px,#00f 317px,#06f 323px,#07f 332px,#1fd 345px,#0ee 403px,#06f)"></i><i style="background:linear-gradient(#06f,#06f 2px,#008 3px,#008 12px,#008 88px,#00f 136px,#04f 195px,#00f 262px,#00c 273px,#02f 286px,#00f 290px,#008 295px,#008 308px,#00f 314px,#09f 322px,#09f 334px,#01f 353px,#03f 402px,#00f)"></i><i style="background:linear-gradient(#06f,#06f 2px,#008 3px,#008 5px,#008 87px,#00f 136px,#01f 148px,#04f 198px,#00f 262px,#00c 273px,#00f 281px,#01f 287px,#00f 290px,#008 295px,#008 308px,#00f 313px,#0bf 321px,#0bf 337px,#0ee 353px,#2fc 412px,#0ee)"></i><i style="background:linear-gradient(#06f,#06f 2px,#008 3px,#008 87px,#00f 136px,#01f 149px,#04f 198px,#00f 261px,#00b 273px,#00f 282px,#00f 290px,#00f 291px,#008 295px,#008 308px,#00f 312px,#08f 318px,#0af 322px,#08f 416px,#09f)"></i><i style="background:linear-gradient(#06f,#06f 2px,#0df 3px,#0bf 15px,#1fd 27px,#3fc 33px,#1fd 91px,#0af 105px,#1fd 116px,#4fb 123px,#1fd 131px,#0df 137px,#08f 155px,#05f 179px,#00f 259px,#00b 273px,#00f 282px,#00f 291px,#008 295px,#008 308px,#00f 312px,#08f 319px,#0af 322px,#09f 345px,#00f 359px,#00d 391px,#00f)"></i><i style="background:linear-gradient(#06f,#06f 2px,#008 3px,#008 4px,#008 87px,#00f 136px,#01f 147px,#05f 199px,#00f 261px,#00b 273px,#00f 282px,#00f 291px,#008 295px,#008 307px,#00f 312px,#07f 319px,#09f 323px,#09f 343px,#03f 360px,#02f 394px,#09f)"></i><i style="background:linear-gradient(#06f,#06f 2px,#00f 3px,#03f 11px,#00f 19px,#00a 26px,#008 33px,#008 80px,#00f 140px,#05f 198px,#00f 260px,#00a 273px,#00f 283px,#00f 291px,#008 295px,#008 307px,#00f 312px,#07f 321px,#08f 335px,#0cf 340px,#2fd 343px,#8f6 351px,#af5 363px,#af4 419px,#ef1)"></i><i style="background:linear-gradient(#06f,#06f 2px,#6f8 3px,#8f6 31px,#1fd 49px,#2fd 84px,#5fa 103px,#5f9 128px,#1fd 152px,#0df 160px,#06f 188px,#00f 260px,#00a 272px,#00f 283px,#00f 291px,#008 296px,#008 307px,#00f 312px,#08f 322px,#09f 335px,#0cf 340px,#1fd 342px,#bf4 350px,#df1 354px,#cf2 411px,#ef1 435px,#fc0)"></i><i style="background:linear-gradient(#06f,#06f 2px,#00f 3px,#03f 11px,#00f 19px,#00a 26px,#008 33px,#008 80px,#009 102px,#00f 136px,#02f 152px,#06f 199px,#00f 259px,#00a 272px,#00f 283px,#00f 291px,#008 296px,#008 306px,#008 307px,#00f 311px,#0cf 323px,#0df 337px,#2fd 344px,#6f9 353px,#7f8 362px,#4fa 420px,#8f7)"></i><i style="background:linear-gradient(#06f,#06f 2px,#af5 3px,#af4 4px,#9f5 11px,#4fb 22px,#3fc 27px,#4fb 58px,#1fd 73px,#0bf 112px,#1fd 127px,#1fd 139px,#06f 173px,#06f 204px,#00f 257px,#00a 272px,#00f 284px,#00f 291px,#008 296px,#008 307px,#00f 311px,#03f 314px,#0df 320px,#1fd 322px,#1fd 344px,#05f 355px,#02f 360px,#01f 406px,#06f)"></i><i style="background:linear-gradient(#06f,#06f 2px,#4fa 3px,#5fa 11px,#0ee 22px,#0df 29px,#1fe 58px,#0df 94px,#3fc 112px,#1fd 118px,#0bf 130px,#1fd 140px,#3fb 148px,#1fd 154px,#0df 161px,#08f 180px,#00f 259px,#00a 272px,#00f 284px,#00f 291px,#008 296px,#008 306px,#00f 311px,#0df 320px,#1fd 323px,#2fc 331px,#cf3 342px,#ef1 347px,#bf3 402px,#fe0)"></i><i style="background:linear-gradient(#06f,#06f 2px,#4fb 3px,#5f9 11px,#1fd 53px,#3fb 71px,#1fd 89px,#4fa 107px,#4fa 125px,#1fd 146px,#08f 178px,#07f 205px,#00f 258px,#009 272px,#00f 284px,#00f 292px,#00a 296px,#008 306px,#00f 310px,#0df 321px,#2fd 335px,#bf4 345px,#ef1 350px,#cf3 398px,#fd0)"></i><i style="background:linear-gradient(#06f,#06f 2px,#00f 3px,#03f 11px,#00f 19px,#008 30px,#008 47px,#008 92px,#00f 141px,#07f 198px,#00f 258px,#009 272px,#00f 284px,#00f 292px,#00d 299px,#008 303px,#008 306px,#00f 310px,#0df 321px,#1fd 333px,#df2 345px,#fe0 349px,#df2)"></i><i style="background:linear-gradient(#06f,#06f 2px,#00f 3px,#03f 11px,#00f 19px,#00a 26px,#008 33px,#008 80px,#009 102px,#00f 136px,#07f 198px,#00f 257px,#009 272px,#00f 284px,#00f 299px,#008 305px,#008 306px,#00f 310px,#0bf 321px,#0cf 332px,#2fd 339px,#6f8 350px,#4fa 405px,#cf3)"></i><i style="background:linear-gradient(#06f,#06f 2px,#09f 3px,#0bf 13px,#06f 42px,#08f 60px,#06f 96px,#0af 114px,#03f 132px,#07f 149px,#05f 172px,#08f 199px,#00f 257px,#009 272px,#00f 284px,#01f 293px,#04f 298px,#02f 300px,#00f 301px,#00a 303px,#008 305px,#00f 310px,#08f 321px,#09f 335px,#1fd 352px,#2fc 398px,#0ef)"></i><i style="background:linear-gradient(#06f,#06f 2px,#008 3px,#008 5px,#008 88px,#00f 141px,#08f 198px,#00f 256px,#009 272px,#00f 284px,#01f 293px,#06f 298px,#00f 301px,#008 305px,#00f 310px,#06f 322px,#06f 337px,#0cf 345px,#2fd 349px,#3fb 354px,#4fa)"></i><i style="background:linear-gradient(#06f,#06f 2px,#008 3px,#008 6px,#008 88px,#00f 141px,#08f 198px,#00f 256px,#009 272px,#00f 284px,#01f 293px,#05f 298px,#00f 301px,#008 305px,#00f 310px,#03f 313px,#03f 319px,#03f 344px,#00f 364px,#00f 405px,#06f 445px,#07f)"></i><i style="background:linear-gradient(#06f,#06f 2px,#0df 3px,#08f 59px,#09f 76px,#0df 94px,#05f 112px,#0bf 130px,#0bf 141px,#06f 167px,#08f 202px,#02f 231px,#00f 255px,#00a 272px,#00f 284px,#01f 294px,#03f 298px,#01f 300px,#008 305px,#00f 310px,#03f 315px,#00f 328px,#03f 332px,#0cf 339px,#2fc 342px,#5fa 347px,#2fd)"></i><i style="background:linear-gradient(#06f,#07f 5px,#04f 22px,#05f 40px,#0af 59px,#03f 112px,#06f 131px,#02f 149px,#03f 174px,#07f 203px,#00f 248px,#00f 255px,#00a 272px,#00f 284px,#00f 299px,#009 305px,#00f 309px,#03f 315px,#00f 324px,#01f 350px,#00d)"></i><i style="background:linear-gradient(#06f,#06f 2px,#008 3px,#008 88px,#00f 141px,#08f 198px,#00f 246px,#00f 255px,#00a 271px,#00f 284px,#00f 292px,#00c 297px,#00b 305px,#00f 309px,#03f 314px,#00f 334px,#04f 352px,#00f 401px,#00e)"></i><i style="background:linear-gradient(#06f,#06f 2px,#008 3px,#008 56px,#008 93px,#00f 141px,#08f 198px,#00f 252px,#00a 271px,#00f 283px,#00f 292px,#00a 297px,#00f 307px,#04f 313px,#02f 333px,#0df 351px,#0df)"></i><i style="background:linear-gradient(#06f,#06f 2px,#008 3px,#008 6px,#008 88px,#00f 141px,#07f 197px,#00f 243px,#00f 254px,#00a 271px,#00f 283px,#00f 292px,#009 297px,#00f 303px,#04f 311px,#00f 344px,#03f)"></i><i style="background:linear-gradient(#06f,#06f 2px,#008 3px,#008 19px,#008 89px,#00f 141px,#07f 197px,#00f 249px,#00a 271px,#00f 283px,#00f 292px,#009 297px,#00f 301px,#05f 304px,#06f 308px,#04f 316px,#02f 338px,#06f 357px,#09f 428px,#09f)"></i><i style="background:linear-gradient(#06f,#06f 2px,#008 3px,#008 6px,#008 88px,#00f 141px,#07f 197px,#00f 247px,#00b 271px,#00f 283px,#00f 292px,#009 297px,#00f 300px,#09f 304px,#0af 307px,#04f 316px,#03f 346px,#00f 353px,#009 361px,#008 365px,#00f 417px,#04f)"></i><i style="background:linear-gradient(#06f,#06f 2px,#008 3px,#008 88px,#00f 141px,#06f 196px,#00f 246px,#00b 270px,#00f 282px,#01f 289px,#00f 292px,#00a 296px,#00a 297px,#00e 299px,#01f 300px,#0af 303px,#0df 306px,#04f 316px,#04f 344px,#00f 357px,#05f)"></i><i style="background:linear-gradient(#06f,#06f 2px,#008 3px,#008 6px,#008 88px,#00f 141px,#06f 196px,#00f 244px,#00b 270px,#00f 282px,#01f 289px,#00f 292px,#00a 296px,#00a 297px,#00f 299px,#1ee 304px,#2fd 307px,#0cf 309px,#06f 313px,#04f 316px,#03f 341px,#00f 353px,#02f 403px,#00d)"></i><i style="background:linear-gradient(#06f,#06f 2px,#008 3px,#008 6px,#008 88px,#00f 141px,#05f 195px,#00f 243px,#00b 270px,#00f 282px,#01f 288px,#00f 292px,#00a 296px,#00b 297px,#00f 299px,#0df 303px,#2fc 307px,#0df 309px,#06f 313px,#04f 316px,#03f 339px,#00f 354px,#03f)"></i><i style="background:linear-gradient(#06f,#06f 2px,#4fb 3px,#5fa 11px,#0ee 29px,#0df 46px,#07f 65px,#0ee 83px,#1fd 110px,#0cf 151px,#06f 180px,#00f 236px,#00b 269px,#00f 281px,#01f 288px,#00f 292px,#00a 296px,#00f 299px,#1fe 304px,#1fd 307px,#06f 313px,#03f 318px,#03f 343px,#00f 355px,#00d)"></i><i style="background:linear-gradient(#06f,#06f 2px,#008 3px,#008 6px,#008 88px,#00f 141px,#05f 193px,#00f 241px,#00b 268px,#00f 281px,#01f 288px,#00f 292px,#00b 296px,#00f 299px,#0bf 303px,#0ee 306px,#04f 316px,#04f 344px,#00f 353px,#009 363px,#008 385px,#008)"></i><i style="background:linear-gradient(#06f,#06f 2px,#008 3px,#008 6px,#008 88px,#00f 141px,#04f 192px,#00f 240px,#00b 268px,#00f 281px,#02f 288px,#00f 292px,#00b 296px,#00f 299px,#09f 303px,#0bf 306px,#04f 317px,#06f 326px,#06f 339px,#03f 363px,#02f)"></i><i style="background:linear-gradient(#06f,#06f 2px,#008 3px,#008 88px,#00f 136px,#04f 191px,#00f 239px,#00b 267px,#00f 281px,#02f 288px,#00f 292px,#00b 296px,#00f 299px,#08f 303px,#09f 306px,#03f 317px,#07f 328px,#07f 337px,#00f 346px,#009 356px,#009)"></i><i style="background:linear-gradient(#06f,#05f 3px,#0cf 31px,#02f 49px,#07f 67px,#09f 85px,#06f 103px,#07f 121px,#02f 139px,#05f 157px,#04f 198px,#00f 232px,#00b 265px,#00f 280px,#02f 288px,#00f 292px,#00c 296px,#00e 298px,#08f 304px,#03f 318px,#07f 329px,#07f 339px,#03f 358px,#05f 405px,#03f)"></i><i style="background:linear-gradient(#06f,#06f 2px,#008 3px,#008 88px,#00f 136px,#04f 187px,#00f 237px,#00b 265px,#00f 280px,#02f 288px,#00d 296px,#00f 298px,#08f 302px,#09f 304px,#03f 318px,#08f 328px,#09f 333px,#00f 344px,#00a 352px,#00a)"></i><i style="background:linear-gradient(#06f,#06f 2px,#0ee 3px,#1fe 11px,#0bf 30px,#1fd 97px,#1fd 131px,#06f 164px,#00f 230px,#00b 264px,#00f 280px,#02f 289px,#00f 297px,#0af 301px,#0cf 303px,#04f 315px,#04f 320px,#07f 329px,#00f 340px,#00d 370px,#00f 412px,#00e)"></i><i style="background:linear-gradient(#06f,#06f 2px,#008 3px,#008 8px,#008 88px,#00f 136px,#03f 182px,#00f 236px,#00b 263px,#00f 280px,#02f 289px,#00f 296px,#0df 301px,#2fd 304px,#0df 306px,#07f 310px,#04f 315px,#05f 336px,#00f 349px,#02f)"></i><i style="background:linear-gradient(#06f,#06f 2px,#008 3px,#008 19px,#008 89px,#00f 136px,#03f 178px,#00f 235px,#00b 262px,#00f 279px,#02f 289px,#00f 294px,#03f 297px,#0ee 300px,#6f9 303px,#2fd 306px,#0cf 308px,#07f 311px,#04f 317px,#06f 327px,#06f 347px,#00f 357px,#009 363px,#008 367px,#008)"></i><i style="background:linear-gradient(#06f,#06f 2px,#008 3px,#008 13px,#008 89px,#00f 136px,#03f 177px,#00f 234px,#00b 261px,#00f 281px,#01f 295px,#05f 297px,#0df 299px,#3fb 300px,#af4 303px,#af5 304px,#3fc 307px,#0bf 309px,#06f 312px,#04f 316px,#06f 326px,#04f 363px,#07f 396px,#00f 438px,#00c)"></i><i style="background:linear-gradient(#06f,#06f 2px,#008 3px,#008 13px,#008 89px,#00f 136px,#03f 176px,#00f 234px,#00b 260px,#00f 281px,#01f 294px,#04f 296px,#0af 298px,#1fd 299px,#df2 302px,#fe0 303px,#cf2 305px,#2fd 308px,#0cf 309px,#07f 312px,#04f 316px,#05f 341px,#01f 359px,#06f)"></i><i style="background:linear-gradient(#06f,#06f 2px,#008 3px,#008 13px,#008 89px,#00f 136px,#03f 176px,#00f 233px,#00b 260px,#00f 281px,#01f 294px,#04f 296px,#0bf 298px,#2fd 299px,#fe0 302px,#fb0 303px,#fa0 304px,#fe0 305px,#2fc 308px,#0df 309px,#07f 312px,#04f 316px,#03f 342px,#00f 349px,#00a 361px,#00a)"></i><i style="background:linear-gradient(#06f,#04f 8px,#06f 26px,#03f 44px,#08f 62px,#05f 80px,#08f 98px,#04f 116px,#07f 149px,#03f 170px,#00f 233px,#00a 260px,#00f 281px,#01f 294px,#04f 296px,#0bf 298px,#2fd 299px,#ef0 302px,#fc0 303px,#fc0 304px,#ef0 305px,#2fd 308px,#0df 309px,#07f 312px,#04f 316px,#03f 341px,#00f 355px,#00d)"></i><i style="background:linear-gradient(#06f,#06f 2px,#008 3px,#008 13px,#008 89px,#00f 136px,#03f 176px,#00f 233px,#00a 261px,#00f 281px,#02f 288px,#01f 294px,#03f 296px,#09f 298px,#0ee 299px,#8f7 301px,#cf2 303px,#af5 305px,#3fb 307px,#0bf 309px,#06f 313px,#04f 316px,#05f 345px,#00f 391px,#00b 423px,#00a)"></i><i style="background:linear-gradient(#06f,#06f 2px,#008 3px,#008 13px,#008 89px,#00f 136px,#03f 176px,#00f 232px,#00a 260px,#00f 281px,#02f 288px,#01f 295px,#05f 297px,#0cf 299px,#2fd 300px,#7f7 303px,#2fc 306px,#0cf 308px,#05f 314px,#08f 324px,#08f 341px,#00f 357px,#00f)"></i><i style="background:linear-gradient(#06f,#06f 11px,#03f 29px,#03f 82px,#01f 100px,#03f 118px,#02f 136px,#05f 154px,#00f 232px,#00a 259px,#00f 280px,#03f 288px,#01f 295px,#05f 298px,#1ee 301px,#2fc 304px,#0cf 306px,#08f 309px,#05f 314px,#0af 324px,#0af 341px,#02f 360px,#05f)"></i><i style="background:linear-gradient(#06f,#06f 2px,#08f 3px,#05f 51px,#07f 105px,#02f 123px,#04f 170px,#00f 232px,#00a 259px,#00f 280px,#04f 288px,#00f 295px,#03f 298px,#0af 301px,#0cf 303px,#07f 307px,#05f 314px,#0bf 325px,#0bf 350px,#05f 365px,#04f 372px,#07f 425px,#06f)"></i><i style="background:linear-gradient(#06f,#0af 19px,#06f 38px,#0cf 56px,#09f 74px,#07f 127px,#04f 145px,#06f 163px,#00f 232px,#009 259px,#00f 280px,#06f 288px,#00f 294px,#00f 297px,#07f 303px,#03f 308px,#05f 315px,#0bf 323px,#0bf 342px,#09f 347px,#00f 356px,#00a 363px,#00d 413px,#00d)"></i><i style="background:linear-gradient(#06f,#06f 2px,#7f7 3px,#3fb 23px,#6f9 41px,#0ee 59px,#9f5 77px,#5f9 95px,#bf4 113px,#1fd 164px,#0df 170px,#04f 194px,#00f 223px,#00f 233px,#009 259px,#00f 279px,#08f 288px,#07f 290px,#00f 295px,#00f 299px,#03f 303px,#00f 307px,#09f 322px,#09f 334px,#08f 380px,#00f 440px,#00f)"></i><i style="background:linear-gradient(#06f,#06f 2px,#6f8 3px,#6f8 29px,#2fc 48px,#4fa 66px,#af4 84px,#3fb 102px,#6f9 137px,#1fd 154px,#0df 162px,#04f 192px,#00f 223px,#00f 233px,#009 260px,#00f 279px,#0af 288px,#09f 290px,#00f 295px,#00c 298px,#00f 302px,#00d 307px,#00f 309px,#04f 313px,#07f 324px,#06f 348px,#00f 358px,#00a 367px,#00a)"></i><i style="background:linear-gradient(#06f,#06f 2px,#5fa 3px,#4fb 36px,#6f8 54px,#2fc 90px,#6f8 108px,#5f9 126px,#1fd 145px,#05f 180px,#00f 224px,#00f 233px,#009 260px,#00f 279px,#0cf 288px,#0bf 290px,#00f 295px,#00a 298px,#00c 303px,#00b 307px,#00e 309px,#08f 322px,#08f 351px,#0df 369px,#0af)"></i><i style="background:linear-gradient(#06f,#06f 2px,#008 3px,#008 15px,#008 89px,#00f 136px,#03f 176px,#00f 232px,#009 260px,#00f 279px,#0df 288px,#0cf 290px,#00f 295px,#009 298px,#009 307px,#00f 310px,#0af 319px,#0cf 323px,#0df 388px,#0bf)"></i><i style="background:linear-gradient(#06f,#06f 2px,#bf4 3px,#9f5 24px,#fe0 58px,#bf4 78px,#cf3 126px,#3fc 149px,#0df 165px,#04f 185px,#00f 224px,#00f 234px,#009 260px,#00f 279px,#0df 288px,#0bf 290px,#00f 295px,#009 298px,#008 307px,#00f 310px,#08f 317px,#0bf 322px,#0bf 342px,#02f 360px,#00f 400px,#00f)"></i><i style="background:linear-gradient(#06f,#06f 2px,#008 3px,#008 15px,#008 89px,#00f 136px,#03f 176px,#00f 233px,#009 260px,#00f 279px,#0bf 288px,#0af 290px,#00f 295px,#009 298px,#008 307px,#00f 310px,#06f 314px,#09f 321px,#09f 339px,#00f 357px,#02f 402px,#00f 438px,#00c)"></i><i style="background:linear-gradient(#06f,#06f 2px,#008 3px,#008 15px,#008 89px,#00f 136px,#03f 176px,#00f 233px,#009 261px,#00f 279px,#09f 288px,#08f 290px,#00e 295px,#009 299px,#008 307px,#00e 309px,#05f 312px,#08f 317px,#09f 337px,#1ee 355px,#1fe 388px,#0af 436px,#09f)"></i><i style="background:linear-gradient(#06f,#06f 2px,#008 3px,#008 6px,#008 88px,#00f 136px,#03f 176px,#00f 233px,#008 261px,#00f 280px,#07f 288px,#05f 291px,#00f 294px,#00a 299px,#00c 303px,#00b 307px,#00f 309px,#07f 312px,#09f 318px,#09f 341px,#04f 357px,#03f 370px,#01f)"></i><i style="background:linear-gradient(#06f,#06f 2px,#4fa 3px,#1ee 14px,#5f9 32px,#6f9 68px,#3fc 86px,#6f8 104px,#8f7 140px,#1fd 164px,#0df 171px,#04f 195px,#00f 226px,#00f 235px,#008 260px,#00f 281px,#04f 288px,#00f 294px,#00c 298px,#00f 302px,#00d 307px,#00f 308px,#0af 312px,#1fe 317px,#1ee 346px,#09f 396px,#05f)"></i><i style="background:linear-gradient(#06f,#06f 2px,#0ee 3px,#1fd 6px,#5f9 36px,#3fc 54px,#4fb 72px,#0ee 107px,#4fb 137px,#2fd 148px,#0df 153px,#09f 162px,#03f 194px,#00f 235px,#008 260px,#00f 280px,#03f 289px,#00f 294px,#00f 299px,#03f 303px,#00f 307px,#01f 308px,#0df 312px,#2fc 314px,#4fa 317px,#4fa 334px,#2fd 339px,#0df 341px,#00f 349px,#00a 355px,#00a)"></i><i style="background:linear-gradient(#06f,#06f 2px,#008 3px,#008 11px,#008 88px,#00f 136px,#03f 175px,#00f 235px,#008 261px,#00f 281px,#02f 289px,#00f 297px,#01f 299px,#08f 303px,#02f 308px,#0df 312px,#2fc 314px,#4fa 317px,#4fa 332px,#2fd 337px,#0cf 340px,#03f 347px,#00f 351px,#00e)"></i><i style="background:linear-gradient(#06f,#06f 2px,#bf4 3px,#8f7 25px,#7f8 62px,#9f5 97px,#8f7 115px,#cf2 133px,#4fa 151px,#1fd 172px,#0df 178px,#04f 199px,#01f 212px,#00f 236px,#008 260px,#00f 281px,#01f 289px,#00f 294px,#02f 298px,#09f 301px,#0bf 303px,#04f 308px,#0cf 311px,#2fd 313px,#5f9 317px,#6f9 339px,#1fd 345px,#0cf 347px,#00f 353px,#00f 354px,#00a 359px,#00b 391px,#008)"></i><i style="background:linear-gradient(#06f,#06f 2px,#af4 3px,#8f6 29px,#bf4 65px,#9f6 83px,#af4 144px,#9f6 155px,#2fd 173px,#0df 179px,#02f 209px,#00f 236px,#008 260px,#00f 284px,#01f 296px,#04f 299px,#0af 301px,#0df 303px,#06f 308px,#0ef 311px,#2fd 312px,#7f8 317px,#7f8 334px,#2fc 339px,#0df 341px,#02f 347px,#00f 349px,#00b 353px,#00b 372px,#00e 427px,#00e)"></i><i style="background:linear-gradient(#06f,#06f 2px,#f50 3px,#f90 79px,#f70 129px,#fe0 145px,#1fd 169px,#0df 173px,#06f 185px,#02f 196px,#00f 236px,#008 260px,#00f 284px,#01f 296px,#04f 299px,#0af 301px,#0cf 303px,#07f 308px,#2fc 312px,#6f9 317px,#6f9 332px,#2fc 337px,#0df 339px,#00f 348px,#00d 351px,#00c 381px,#008 417px,#008)"></i><i style="background:linear-gradient(#06f,#06f 2px,#008 3px,#008 6px,#008 88px,#00f 136px,#03f 175px,#00f 237px,#008 261px,#00f 284px,#01f 296px,#03f 299px,#08f 301px,#0af 303px,#07f 308px,#1fd 312px,#3fb 316px,#2fd 338px,#0df 341px,#04f 349px,#01f 354px,#00f 387px,#00a)"></i><i style="background:linear-gradient(#06f,#06f 2px,#008 3px,#008 6px,#008 88px,#00f 136px,#03f 175px,#00f 237px,#008 261px,#00f 285px,#02f 299px,#06f 302px,#05f 307px,#0df 311px,#1fd 313px,#2fd 335px,#0df 338px,#00f 348px,#00b 353px,#00a 374px,#00a)"></i><i style="background:linear-gradient(#06f,#06f 2px,#008 3px,#008 6px,#008 88px,#00f 137px,#03f 175px,#00f 238px,#008 261px,#00f 285px,#02f 299px,#04f 302px,#03f 306px,#05f 308px,#0cf 311px,#1fe 315px,#1ee 335px,#0bf 352px,#0af)"></i><i style="background:linear-gradient(#06f,#06f 2px,#008 3px,#008 4px,#008 88px,#00f 137px,#03f 174px,#00f 238px,#009 261px,#00f 285px,#04f 297px,#00f 306px,#02f 308px,#0af 311px,#0cf 314px,#0cf 335px,#0af 339px,#00f 348px,#00a 355px,#00a)"></i><i style="background:linear-gradient(#06f,#06f 2px,#008 3px,#008 88px,#00f 137px,#03f 174px,#00f 239px,#009 260px,#00e 276px,#00f 285px,#02f 292px,#07f 297px,#01f 303px,#00e 307px,#00f 308px,#09f 311px,#0cf 314px,#1fd 336px,#5fa 389px,#3fc)"></i><i style="background:linear-gradient(#06f,#06f 2px,#008 3px,#008 6px,#008 88px,#00f 137px,#02f 173px,#00f 239px,#009 260px,#00e 275px,#00f 285px,#03f 292px,#0af 297px,#06f 301px,#01f 303px,#00b 306px,#00e 308px,#08f 311px,#0cf 315px,#0df 334px,#0bf 339px,#00f 353px,#00c 406px,#00f)"></i><i style="background:linear-gradient(#06f,#06f 2px,#7f8 3px,#7f8 33px,#3fb 51px,#4fa 105px,#8f7 136px,#1fd 155px,#0df 160px,#02f 199px,#00f 235px,#009 260px,#00e 275px,#00f 285px,#04f 292px,#0cf 297px,#0af 299px,#01f 303px,#00a 307px,#00f 309px,#07f 312px,#0af 317px,#0af 380px,#1fd)"></i><i style="background:linear-gradient(#06f,#06f 2px,#6f9 3px,#8f7 9px,#1fd 63px,#2fd 98px,#5f9 117px,#1fd 140px,#0df 148px,#03f 188px,#00f 236px,#009 260px,#00e 274px,#00f 285px,#04f 291px,#0df 297px,#0af 299px,#00f 303px,#00d 304px,#008 307px,#01f 310px,#05f 312px,#07f 317px,#03f 407px,#06f)"></i><i style="background:linear-gradient(#06f,#06f 2px,#2fd 3px,#0cf 13px,#1fd 21px,#4fa 31px,#0ee 66px,#1fd 120px,#09f 138px,#07f 156px,#03f 174px,#00f 236px,#009 260px,#00f 274px,#00f 284px,#03f 289px,#0cf 297px,#00e 303px,#00a 305px,#008 307px,#01f 310px,#04f 312px,#06f 316px,#09f 351px,#0bf 412px,#09f)"></i><i style="background:linear-gradient(#06f,#06f 2px,#3fc 3px,#1fd 10px,#0af 23px,#1fd 53px,#1fd 68px,#0cf 113px,#1fd 131px,#02f 193px,#00f 237px,#009 260px,#00f 273px,#00f 284px,#0bf 296px,#09f 298px,#02f 300px,#00e 302px,#009 305px,#008 307px,#01f 310px,#06f 313px,#07f 318px,#07f 342px,#00f 358px,#04f)"></i><i style="background:linear-gradient(#06f,#06f 2px,#008 3px,#008 6px,#008 88px,#00f 137px,#02f 170px,#00f 241px,#00a 260px,#00f 272px,#00f 282px,#01f 286px,#0bf 292px,#0df 295px,#0af 297px,#00f 300px,#008 306px,#008 307px,#01f 310px,#04f 312px,#06f 315px,#07f 337px,#0cf 354px,#08f)"></i><i style="background:linear-gradient(#06f,#06f 2px,#008 3px,#008 5px,#008 88px,#00f 137px,#02f 170px,#00f 242px,#00a 260px,#00f 271px,#00f 282px,#02f 286px,#0df 292px,#1fd 294px,#0df 296px,#00e 300px,#008 305px,#008 307px,#01f 310px,#04f 312px,#05f 315px,#05f 338px,#00f 356px,#00b 401px,#009)"></i><i style="background:linear-gradient(#06f,#06f 2px,#008 3px,#008 39px,#008 91px,#00f 137px,#02f 169px,#00f 242px,#00a 260px,#00f 272px,#02f 285px,#04f 287px,#0bf 290px,#2fc 292px,#4fb 294px,#2fd 296px,#0cf 297px,#03f 299px,#00e 300px,#008 303px,#008 306px,#00a 308px,#01f 310px,#04f 312px,#06f 316px,#09f 353px,#08f)"></i><i style="background:linear-gradient(#06f,#06f 2px,#008 3px,#008 5px,#008 88px,#00f 137px,#02f 169px,#00f 243px,#00a 260px,#00f 271px,#01f 284px,#05f 287px,#0df 290px,#2fc 291px,#6f9 294px,#3fc 296px,#0df 297px,#03f 299px,#00e 300px,#008 303px,#008 306px,#009 308px,#01f 310px,#05f 312px,#07f 315px,#08f 327px,#00f 343px,#00e)"></i><i style="background:linear-gradient(#06f,#06f 2px,#008 3px,#008 5px,#008 88px,#00f 137px,#02f 168px,#00f 243px,#00b 260px,#00f 269px,#02f 284px,#05f 287px,#0ee 290px,#7f8 293px,#4fb 296px,#0ee 297px,#03f 299px,#00f 300px,#009 303px,#008 306px,#00a 308px,#01f 310px,#05f 312px,#08f 315px,#09f 327px,#09f 339px,#04f 355px,#02f 373px,#01f)"></i><i style="background:linear-gradient(#06f,#06f 2px,#008 3px,#008 6px,#008 88px,#00f 137px,#02f 168px,#00f 245px,#00c 258px,#00f 266px,#04f 272px,#07f 283px,#0cf 287px,#4fb 289px,#cf3 292px,#ef0 294px,#cf3 296px,#0ee 299px,#09f 301px,#07f 304px,#08f 307px,#0cf 309px,#3fc 310px,#af5 313px,#ef0 318px,#fb0 340px,#f20 356px,#ef1 387px,#bf4 411px,#bf3)"></i><i style="background:linear-gradient(#06f,#06f 2px,#008 3px,#008 68px,#008 97px,#00f 136px,#02f 168px,#00f 245px,#00b 259px,#00f 267px,#03f 273px,#03f 284px,#07f 287px,#1fe 290px,#7f8 293px,#4fb 296px,#1ee 297px,#04f 299px,#01f 300px,#00c 305px,#00e 308px,#00f 309px,#0bf 312px,#2fd 314px,#5f9 318px,#6f9 334px,#2fd 342px,#0df 344px,#06f 350px,#03f 355px,#00f 430px,#00b)"></i><i style="background:linear-gradient(#06f,#06f 2px,#008 3px,#008 68px,#008 97px,#00f 136px,#02f 168px,#00f 245px,#00b 259px,#00f 267px,#02f 273px,#02f 285px,#06f 288px,#1fe 292px,#2fd 294px,#0cf 296px,#00e 299px,#009 302px,#008 304px,#008 308px,#01f 311px,#09f 314px,#0ef 317px,#0ee 335px,#0cf 341px,#00f 351px,#00b 357px,#00e 406px,#00f)"></i><i style="background:linear-gradient(#06f,#06f 2px,#0bf 3px,#0bf 26px,#1fe 44px,#1fd 66px,#0cf 80px,#1fd 98px,#0bf 116px,#0cf 134px,#07f 152px,#01f 198px,#00f 246px,#00c 259px,#00f 266px,#03f 278px,#02f 285px,#03f 287px,#0cf 293px,#0bf 295px,#01f 298px,#00c 299px,#008 302px,#008 307px,#00a 309px,#00f 311px,#09f 315px,#0bf 318px,#0af 329px,#00f 341px,#00d 346px,#00f 372px,#01f)"></i><i style="background:linear-gradient(#06f,#06f 2px,#008 3px,#008 6px,#008 88px,#00f 136px,#02f 168px,#00f 246px,#00c 259px,#00f 266px,#04f 278px,#02f 287px,#09f 293px,#07f 295px,#00e 298px,#00b 299px,#008 302px,#008 308px,#00e 311px,#08f 315px,#09f 319px,#02f 338px,#00f 351px,#00a 404px,#00b)"></i><i style="background:linear-gradient(#06f,#06f 2px,#00e 3px,#02f 55px,#00f 87px,#06f 127px,#00f 140px,#02f 171px,#00f 247px,#00c 259px,#00f 266px,#04f 278px,#02f 287px,#06f 293px,#04f 295px,#00f 297px,#009 299px,#008 302px,#008 307px,#00f 311px,#09f 316px,#0af 329px,#03f 349px,#00f 394px,#00d)"></i><i style="background:linear-gradient(#06f,#06f 2px,#008 3px,#008 6px,#008 88px,#00f 136px,#02f 169px,#00f 248px,#00c 259px,#00f 265px,#05f 279px,#02f 287px,#04f 293px,#00f 296px,#009 298px,#008 300px,#008 307px,#00f 311px,#07f 314px,#0af 317px,#09f 334px,#03f 352px,#06f)"></i><i style="background:linear-gradient(#06f,#06f 2px,#008 3px,#008 6px,#008 88px,#00f 136px,#02f 169px,#00f 248px,#00d 259px,#00f 265px,#05f 279px,#01f 287px,#02f 292px,#01f 295px,#00f 296px,#008 298px,#008 299px,#008 307px,#00f 311px,#07f 314px,#0af 317px,#0af 330px,#05f 346px,#03f 382px,#08f)"></i><i style="background:linear-gradient(#06f,#06f 2px,#6f9 3px,#6f8 19px,#4fb 38px,#6f9 73px,#3fc 91px,#3fb 119px,#1fd 130px,#08f 145px,#03f 173px,#00f 246px,#00d 259px,#00f 265px,#06f 279px,#01f 287px,#00f 295px,#00e 296px,#008 298px,#008 299px,#008 308px,#00f 311px,#09f 315px,#0cf 317px,#1fd 353px,#3fc 392px,#1fd 420px,#09f)"></i><i style="background:linear-gradient(#06f,#06f 2px,#008 3px,#008 6px,#008 88px,#00f 140px,#03f 171px,#00f 251px,#00d 259px,#00f 264px,#07f 279px,#01f 287px,#00f 295px,#008 298px,#008 308px,#008 309px,#00f 312px,#09f 316px,#0cf 319px,#0af 353px,#0cf 399px,#06f)"></i><i style="background:linear-gradient(#06f,#06f 2px,#bf4 3px,#bf4 66px,#fe0 82px,#bf4 126px,#5f9 153px,#1fd 164px,#0df 169px,#03f 194px,#00f 249px,#00f 264px,#08f 279px,#03f 287px,#04f 294px,#00f 297px,#00c 299px,#00f 308px,#03f 311px,#0bf 314px,#3fc 316px,#6f8 319px,#7f8 327px,#1fd 356px,#0df 363px,#09f 393px,#0df)"></i><i style="background:linear-gradient(#06f,#06f 2px,#008 3px,#008 13px,#008 89px,#00f 134px,#04f 172px,#00f 263px,#08f 279px,#06f 284px,#02f 288px,#00f 296px,#008 299px,#00a 310px,#00f 313px,#0bf 317px,#0ee 319px,#1fe 326px,#0ee 337px,#04f 354px,#02f 402px,#03f)"></i><i style="background:linear-gradient(#06f,#06f 2px,#008 3px,#008 13px,#008 86px,#00f 133px,#04f 173px,#00f 263px,#04f 269px,#05f 275px,#09f 279px,#06f 284px,#01f 288px,#00f 295px,#008 298px,#008 299px,#008 311px,#00f 314px,#07f 317px,#0bf 320px,#0bf 336px,#01f 356px,#00d 410px,#01f)"></i><i style="background:linear-gradient(#06f,#06f 2px,#008 3px,#008 88px,#00f 137px,#05f 175px,#03f 235px,#00f 262px,#05f 269px,#05f 275px,#0af 279px,#07f 284px,#01f 288px,#00f 295px,#008 299px,#008 303px,#008 311px,#00e 314px,#07f 319px,#08f 325px,#08f 344px,#00f 352px,#008 359px,#008)"></i><i style="background:linear-gradient(#06f,#06f 2px,#008 3px,#008 88px,#00f 136px,#06f 176px,#04f 235px,#00f 261px,#05f 269px,#06f 275px,#0af 279px,#08f 284px,#02f 288px,#00f 296px,#008 299px,#008 311px,#01f 315px,#05f 319px,#05f 335px,#00f 345px,#00a 351px,#008 355px,#008)"></i><i style="background:linear-gradient(#06f,#06f 2px,#1fe 7px,#3fb 11px,#2fd 14px,#0df 16px,#00f 24px,#00a 29px,#008 35px,#008 80px,#009 101px,#00f 136px,#06f 177px,#04f 235px,#00f 260px,#05f 269px,#06f 275px,#0bf 279px,#08f 284px,#02f 288px,#03f 293px,#00f 297px,#008 299px,#008 303px,#008 310px,#01f 314px,#06f 318px,#06f 326px,#00f 338px,#00c 346px,#00c 397px,#008)"></i><i style="background:linear-gradient(#06f,#06f 2px,#1fe 7px,#3fb 11px,#2fd 14px,#0df 16px,#00f 24px,#00a 29px,#008 35px,#008 80px,#009 101px,#00f 135px,#06f 163px,#07f 181px,#05f 235px,#01f 260px,#06f 269px,#06f 275px,#0cf 279px,#09f 284px,#03f 287px,#05f 294px,#00f 298px,#00b 300px,#008 305px,#008 308px,#00e 311px,#09f 316px,#0af 319px,#09f 329px,#00f 340px,#00d 350px,#00f 377px,#01f 409px,#00f)"></i><i style="background:linear-gradient(#06f,#06f 2px,#1fe 7px,#3fb 11px,#2fd 14px,#0df 16px,#00f 24px,#00a 29px,#008 35px,#008 80px,#009 102px,#00f 134px,#07f 165px,#08f 185px,#06f 236px,#02f 260px,#06f 269px,#07f 275px,#0df 279px,#0af 284px,#05f 287px,#09f 292px,#09f 295px,#00f 300px,#008 305px,#009 307px,#00f 309px,#0bf 313px,#1fd 315px,#1fd 328px,#00f 339px,#00a 345px,#00d 403px,#00c)"></i><i style="background:linear-gradient(#06f,#06f 2px,#fa0 3px,#f60 10px,#f80 15px,#ef0 22px,#af4 30px,#8f7 64px,#bf4 83px,#af5 150px,#1fd 178px,#0af 200px,#07f 239px,#03f 260px,#07f 269px,#07f 275px,#0ee 279px,#0bf 284px,#06f 287px,#1fd 292px,#1fd 296px,#01f 302px,#00b 305px,#00e 307px,#01f 308px,#0df 311px,#2fc 312px,#7f8 315px,#7f8 332px,#6f9 335px,#1fd 339px,#0bf 341px,#00f 347px,#00f 348px,#00b 352px,#00c 399px,#008)"></i><i style="background:linear-gradient(#06f,#06f 2px,#df2 3px,#fe0 6px,#fc0 11px,#fe0 16px,#8f7 25px,#5fa 32px,#8f6 67px,#6f9 86px,#8f6 103px,#6f9 121px,#7f8 143px,#1fd 170px,#0df 182px,#08f 239px,#04f 260px,#08f 269px,#08f 275px,#1fe 279px,#0cf 283px,#08f 287px,#0df 289px,#2fc 290px,#7f8 292px,#9f6 294px,#7f7 297px,#3fb 299px,#0ee 300px,#02f 303px,#00f 305px,#03f 307px,#1fd 310px,#8f6 313px,#af5 315px,#9f5 336px,#6f8 353px,#9f5 403px,#4fb)"></i><i style="background:linear-gradient(#06f,#06f 2px,#3fb 3px,#8f6 12px,#1fd 29px,#0df 35px,#09f 63px,#1ee 82px,#07f 117px,#0df 136px,#0bf 168px,#0cf 207px,#0af 240px,#05f 260px,#08f 269px,#08f 275px,#2fd 279px,#0af 286px,#0af 287px,#0cf 288px,#3fc 289px,#af4 291px,#fe0 293px,#fc0 295px,#ef0 298px,#9f5 300px,#2fd 302px,#0bf 303px,#06f 305px,#06f 306px,#0cf 308px,#2fc 309px,#af5 312px,#cf3 314px,#af4 334px,#1fe 343px,#0bf 345px,#04f 352px,#00f 401px,#00c)"></i><i style="background:linear-gradient(#06f,#06f 2px,#cf2 3px,#fe0 7px,#fd0 11px,#ef0 16px,#6f8 30px,#3fc 44px,#2fd 98px,#4fa 136px,#0ee 178px,#0df 206px,#0bf 240px,#06f 260px,#09f 268px,#09f 275px,#1fd 278px,#2fc 280px,#0cf 287px,#1fd 288px,#bf3 290px,#fd0 291px,#f40 294px,#f20 297px,#f40 299px,#ef0 302px,#af5 303px,#4fa 305px,#4fa 306px,#df2 310px,#fc0 312px,#fb0 314px,#ef1 320px,#cf2 339px,#8f6 356px,#7f8 411px,#bf3)"></i><i style="background:linear-gradient(#06f,#06f 2px,#bf4 3px,#fe0 10px,#fe0 15px,#7f7 30px,#8f6 54px,#4fb 72px,#9f5 109px,#8f6 144px,#0ee 175px,#0df 233px,#07f 261px,#0af 268px,#0af 275px,#0df 277px,#2fd 278px,#3fc 280px,#0df 286px,#0ee 287px,#9f5 289px,#fe0 290px,#f20 292px,#b00 293px,#800 294px,#800 295px,#800 301px,#900 302px,#f10 303px,#f90 305px,#fa0 306px,#f20 311px,#f20 313px,#fc0 321px,#ef0 330px,#5fa 346px,#2fc 412px,#2fc)"></i><i style="background:linear-gradient(#06f,#06f 2px,#9f5 3px,#cf3 10px,#5f9 26px,#0ee 47px,#4fb 65px,#1fd 73px,#0bf 83px,#0df 86px,#1fd 89px,#9f6 102px,#0ee 120px,#0bf 161px,#1fd 198px,#1ee 227px,#0df 244px,#09f 261px,#0bf 276px,#0ee 277px,#4fb 279px,#0ee 286px,#1fd 287px,#bf3 289px,#fa0 290px,#f30 291px,#a00 292px,#800 293px,#800 313px,#b00 315px,#f30 317px,#fc0 321px,#ef1 328px,#bf3 340px,#8f6 391px,#7f7)"></i><i style="background:linear-gradient(#06f,#06f 2px,#0ee 3px,#1fd 4px,#6f9 12px,#1fd 20px,#0df 23px,#03f 47px,#09f 65px,#03f 101px,#0af 119px,#04f 135px,#04f 143px,#1fd 193px,#1fd 239px,#0af 261px,#0cf 276px,#1fd 277px,#5fa 279px,#1fe 286px,#2fc 287px,#df1 289px,#f80 290px,#e00 291px,#800 292px,#800 314px,#a00 315px,#e00 316px,#f30 317px,#fb0 320px,#ef1 323px,#bf4 334px,#ef1 355px,#9f5)"></i><i style="background:linear-gradient(#06f,#06f 2px,#1fe 7px,#3fb 11px,#2fd 14px,#0df 16px,#00f 24px,#00a 29px,#008 35px,#008 80px,#009 102px,#00f 133px,#0cf 171px,#1fd 190px,#1fd 247px,#0bf 261px,#0df 276px,#2fd 277px,#5f9 279px,#1fd 286px,#3fc 287px,#7f7 288px,#ef0 289px,#f60 290px,#b00 291px,#800 292px,#800 313px,#d00 315px,#f20 316px,#fd0 320px,#ef1 322px,#ef0 328px,#f50 351px,#f60 357px,#ef1 372px,#af4 386px,#6f9)"></i><i style="background:linear-gradient(#06f,#06f 2px,#6f9 3px,#8f7 11px,#1fd 23px,#0df 30px,#0df 36px,#09f 54px,#0cf 72px,#0af 90px,#0df 108px,#09f 126px,#08f 140px,#0df 178px,#1fd 191px,#3fc 237px,#1fd 252px,#0cf 261px,#0ee 276px,#6f9 279px,#2fd 286px,#3fb 287px,#fe0 289px,#f60 290px,#b00 291px,#800 292px,#800 312px,#c00 314px,#f20 315px,#fe0 319px,#df2 320px,#9f5 323px,#9f6 326px,#cf3 355px,#4fb 436px,#3fc)"></i><i style="background:linear-gradient(#06f,#06f 2px,#1fe 7px,#3fb 11px,#2fd 14px,#0df 16px,#00f 24px,#00a 29px,#008 35px,#008 80px,#009 102px,#00f 133px,#0bf 172px,#1fd 192px,#3fb 240px,#0ee 259px,#1fe 268px,#0df 275px,#7f8 279px,#2fc 286px,#4fb 287px,#8f6 288px,#fe0 289px,#f50 290px,#a00 291px,#800 292px,#800 310px,#d00 313px,#f20 314px,#ef1 319px,#9f6 323px,#8f7 328px,#9f6 336px,#fe0 349px,#cf3)"></i><i style="background:linear-gradient(#06f,#06f 2px,#008 3px,#008 13px,#008 89px,#00f 134px,#0bf 172px,#1fd 195px,#4fb 241px,#0ee 261px,#1fd 270px,#0df 275px,#7f7 279px,#3fc 286px,#4fa 287px,#9f6 288px,#fd0 289px,#f50 290px,#a00 291px,#800 292px,#800 304px,#b00 305px,#f10 306px,#f50 313px,#fc0 317px,#df2 319px,#9f6 324px,#8f6 334px,#fe0 354px,#fe0)"></i><i style="background:linear-gradient(#06f,#06f 2px,#00e 3px,#04f 18px,#00f 30px,#00c 37px,#00f 47px,#04f 72px,#01f 91px,#01f 108px,#05f 127px,#01f 145px,#04f 162px,#1fd 203px,#4fa 243px,#0ee 275px,#8f7 279px,#3fb 286px,#4fa 287px,#9f6 288px,#fd0 289px,#f50 290px,#a00 291px,#800 292px,#800 302px,#f20 303px,#fe0 305px,#cf2 306px,#fe0 314px,#9f6 321px,#8f7 326px,#bf4 383px,#6f8)"></i><i style="background:linear-gradient(#06f,#06f 2px,#0cf 3px,#0cf 28px,#1fe 46px,#06f 65px,#0cf 101px,#08f 137px,#1fd 154px,#0bf 173px,#1fd 207px,#4fa 243px,#1ee 275px,#8f7 279px,#3fb 286px,#4fa 287px,#8f6 288px,#fe0 289px,#f60 290px,#c00 291px,#800 292px,#800 300px,#f10 301px,#df1 303px,#3fb 305px,#1fd 306px,#9f6 314px,#6f8 326px,#9f6 346px,#9f6)"></i><i style="background:linear-gradient(#06f,#06f 2px,#008 3px,#008 28px,#008 90px,#00f 136px,#09f 174px,#1fd 215px,#4fa 245px,#1ee 275px,#8f6 279px,#4fb 287px,#ef1 289px,#f10 291px,#800 292px,#800 293px,#800 298px,#b00 299px,#f30 300px,#df2 302px,#1fd 304px,#0af 305px,#0af 307px,#0ee 309px,#6f8 314px,#6f9 330px,#cf3 347px,#9f6 405px,#bf3)"></i><i style="background:linear-gradient(#06f,#04f 33px,#09f 69px,#07f 87px,#00f 105px,#09f 123px,#04f 156px,#1fd 222px,#4fa 246px,#1fe 275px,#8f6 279px,#3fb 287px,#cf3 289px,#fb0 290px,#e00 292px,#800 294px,#b00 297px,#e10 298px,#ef1 301px,#2fc 303px,#0bf 304px,#07f 305px,#07f 306px,#0ee 309px,#2fc 310px,#6f8 314px,#6f8 333px,#cf3 350px,#9f6 407px,#9f6)"></i><i style="background:linear-gradient(#06f,#06f 2px,#008 3px,#008 30px,#008 90px,#00f 137px,#08f 173px,#1fd 227px,#4fb 247px,#1fe 275px,#8f6 279px,#3fc 287px,#5f9 288px,#ef0 290px,#fa0 291px,#f30 293px,#f30 295px,#f50 297px,#fc0 299px,#cf2 300px,#3fb 302px,#0cf 303px,#05f 305px,#05f 306px,#0bf 308px,#2fc 310px,#7f7 314px,#7f7 326px,#1fd 334px,#0cf 336px,#02f 344px,#00f 353px,#00c)"></i><i style="background:linear-gradient(#06f,#06f 2px,#008 3px,#008 39px,#008 91px,#00f 138px,#07f 171px,#0df 221px,#1fd 231px,#3fb 248px,#1ee 275px,#8f6 279px,#6f9 284px,#2fd 287px,#4fb 288px,#ef0 291px,#fc0 292px,#f90 294px,#fd0 297px,#df2 298px,#2fd 301px,#0bf 302px,#03f 304px,#02f 305px,#03f 306px,#0df 309px,#2fd 310px,#7f8 314px,#7f7 328px,#ef1 344px,#bf4 401px,#ef1 433px,#fb0)"></i><i style="background:linear-gradient(#06f,#06f 2px,#008 3px,#008 39px,#008 91px,#00f 138px,#0df 225px,#1fd 235px,#3fc 248px,#0ee 275px,#7f8 278px,#8f6 280px,#6f9 284px,#1fe 287px,#cf2 292px,#df1 294px,#9f5 297px,#3fc 299px,#0df 300px,#02f 303px,#00f 305px,#00f 306px,#0df 310px,#1fd 311px,#5f9 315px,#6f8 333px,#1fd 380px,#4fa 430px,#5fa)"></i><i style="background:linear-gradient(#06f,#07f 33px,#03f 51px,#03f 105px,#07f 141px,#02f 159px,#05f 173px,#0df 229px,#1fd 238px,#2fc 249px,#0ee 275px,#7f8 278px,#8f6 280px,#6f9 284px,#0ee 287px,#9f6 293px,#4fb 297px,#1ee 298px,#0af 299px,#00f 302px,#00b 305px,#00f 307px,#07f 309px,#0bf 311px,#1fe 316px,#0df 322px,#00f 334px,#00d 338px,#00a 384px,#00f 443px,#00f)"></i><i style="background:linear-gradient(#06f,#06f 2px,#008 3px,#008 11px,#008 88px,#00f 139px,#09f 214px,#1fd 242px,#0df 274px,#1fe 276px,#6f8 278px,#8f6 280px,#6f9 284px,#0ee 287px,#6f8 292px,#3fc 296px,#09f 298px,#01f 300px,#00e 301px,#00a 303px,#009 305px,#00e 307px,#02f 308px,#08f 311px,#0bf 317px,#0bf 329px,#00f 339px,#008 345px,#008 390px,#00c 431px,#00d)"></i><i style="background:linear-gradient(#06f,#06f 2px,#008 3px,#008 10px,#008 88px,#00f 140px,#08f 213px,#1fe 245px,#0bf 261px,#0df 275px,#1ee 276px,#6f8 278px,#8f7 280px,#6f9 284px,#0ee 287px,#5f9 292px,#3fc 295px,#0bf 297px,#02f 299px,#00e 300px,#00a 301px,#008 304px,#008 305px,#00e 307px,#09f 311px,#0cf 316px,#1fe 389px,#0ee)"></i><i style="background:linear-gradient(#06f,#06f 2px,#008 3px,#008 10px,#008 88px,#00f 140px,#07f 212px,#0ee 244px,#0af 261px,#0cf 275px,#0ee 276px,#3fc 277px,#7f7 279px,#8f7 280px,#6f9 284px,#0ee 287px,#5fa 292px,#2fd 295px,#09f 297px,#00f 299px,#009 301px,#008 303px,#008 305px,#00f 307px,#09f 310px,#0df 314px,#0df 328px,#0bf 333px,#00f 342px,#00a 349px,#00a)"></i><i style="background:linear-gradient(#06f,#06f 2px,#008 3px,#008 10px,#008 88px,#00f 140px,#07f 211px,#0df 244px,#0cf 251px,#08f 262px,#0bf 274px,#0df 276px,#5f9 278px,#7f7 280px,#6f9 284px,#1ee 287px,#5f9 292px,#2fd 295px,#0df 296px,#00f 299px,#00a 300px,#008 302px,#008 304px,#00d 306px,#02f 307px,#0bf 310px,#1fd 313px,#1fd 339px,#00f 350px,#00a 354px,#008 357px,#008)"></i><i style="background:linear-gradient(#06f,#06f 2px,#7f7 3px,#bf4 10px,#2fc 26px,#1fd 42px,#0df 52px,#5fa 72px,#2fd 90px,#3fb 108px,#1fd 119px,#0df 130px,#05f 188px,#07f 214px,#0cf 245px,#07f 262px,#0af 274px,#0cf 276px,#2fd 277px,#7f8 279px,#7f8 280px,#5f9 284px,#1ee 287px,#6f9 292px,#2fc 295px,#0df 296px,#00f 299px,#00a 300px,#008 302px,#00a 304px,#00f 306px,#0cf 309px,#2fd 311px,#2fd 338px,#0df 341px,#00f 352px,#00e 398px,#008 434px,#008)"></i><i style="background:linear-gradient(#06f,#06f 2px,#df2 3px,#fe0 5px,#fa0 11px,#df1 19px,#6f9 31px,#1fd 47px,#1fd 65px,#5fa 83px,#1fd 101px,#5f9 127px,#5fa 136px,#1fd 144px,#0df 149px,#04f 186px,#06f 212px,#0cf 245px,#05f 262px,#09f 274px,#0cf 276px,#2fd 277px,#6f8 279px,#7f8 280px,#5f9 284px,#1fe 287px,#6f9 292px,#2fc 295px,#0df 296px,#00e 299px,#00a 300px,#008 301px,#009 303px,#00e 305px,#0cf 309px,#1fd 313px,#2fd 335px,#cf3 348px,#ef1 353px,#fd0)"></i><i style="background:linear-gradient(#06f,#06f 2px,#6f9 3px,#cf3 12px,#bf4 16px,#1fd 26px,#0df 29px,#0bf 39px,#1ee 70px,#0df 139px,#07f 159px,#08f 173px,#05f 196px,#0bf 245px,#04f 262px,#09f 275px,#1fd 277px,#6f8 279px,#7f8 280px,#5f9 284px,#1ee 287px,#6f9 292px,#2fc 295px,#0df 296px,#00e 299px,#009 300px,#008 301px,#00f 305px,#0bf 309px,#0df 312px,#0df 336px,#01f 354px,#00f 415px,#02f)"></i><i style="background:linear-gradient(#06f,#06f 2px,#0bf 3px,#2fc 5px,#7f8 8px,#8f6 11px,#7f8 14px,#2fc 17px,#0bf 19px,#00f 25px,#00a 29px,#008 35px,#008 80px,#00f 141px,#05f 209px,#0bf 243px,#0af 250px,#04f 262px,#09f 275px,#1fd 277px,#6f9 279px,#6f8 280px,#5f9 284px,#1ee 287px,#6f9 292px,#2fc 295px,#0df 296px,#00e 299px,#009 300px,#009 301px,#00e 304px,#01f 305px,#0af 308px,#0df 310px,#0df 327px,#2fd 331px,#fe0 344px,#fc0 373px,#fe0 417px,#bf3)"></i><i style="background:linear-gradient(#06f,#06f 2px,#fd0 3px,#fb0 6px,#f90 11px,#ef1 20px,#af4 29px,#bf4 106px,#7f8 124px,#9f5 142px,#6f9 158px,#1fd 168px,#0af 179px,#05f 197px,#0af 245px,#04f 261px,#09f 275px,#1fd 277px,#6f9 279px,#6f8 280px,#5fa 284px,#0ee 287px,#5fa 292px,#2fd 295px,#0cf 296px,#00e 299px,#009 300px,#009 301px,#00f 304px,#0bf 308px,#0df 312px,#0df 332px,#04f 349px,#01f)"></i><i style="background:linear-gradient(#06f,#06f 2px,#0bf 3px,#2fc 5px,#7f8 8px,#8f6 11px,#7f8 14px,#2fc 17px,#0bf 19px,#00f 25px,#00a 29px,#008 35px,#008 80px,#00f 141px,#05f 208px,#0af 243px,#09f 250px,#04f 262px,#09f 275px,#1fd 277px,#6f9 279px,#6f8 280px,#5fa 284px,#0df 287px,#4fb 291px,#3fc 294px,#0cf 296px,#00e 299px,#009 300px,#009 301px,#00f 304px,#0bf 308px,#0ef 310px,#0ee 320px,#df2 339px,#ef0 410px,#f90)"></i><i style="background:linear-gradient(#06f,#06f 2px,#af4 3px,#fe0 9px,#ef0 15px,#5fa 28px,#2fc 39px,#1fe 57px,#5fa 76px,#2fc 94px,#5fa 112px,#1fd 139px,#0df 148px,#06f 165px,#04f 181px,#05f 207px,#0af 244px,#05f 261px,#09f 274px,#0bf 276px,#1fd 277px,#6f9 279px,#6f8 280px,#5fa 284px,#1fe 286px,#0cf 287px,#3fc 291px,#1fd 294px,#0bf 296px,#00d 299px,#009 300px,#008 301px,#00f 305px,#09f 308px,#0cf 310px,#2fd 322px,#cf3 332px,#ef0 337px,#ef0 410px,#f90)"></i><i style="background:linear-gradient(#06f,#06f 2px,#0bf 3px,#2fc 5px,#7f8 8px,#8f6 11px,#7f8 14px,#2fc 17px,#0bf 19px,#00f 25px,#00a 29px,#008 35px,#008 80px,#00f 141px,#05f 207px,#0af 242px,#06f 262px,#09f 274px,#0bf 276px,#1fd 277px,#6f8 279px,#6f8 280px,#3fc 285px,#0cf 287px,#2fd 292px,#0cf 295px,#02f 298px,#00d 299px,#008 300px,#008 301px,#009 303px,#00e 305px,#01f 306px,#0af 309px,#0cf 311px,#0df 322px,#2fd 326px,#9f6 335px,#bf4 340px,#af5 407px,#df1)"></i><i style="background:linear-gradient(#06f,#06f 2px,#4fa 3px,#af5 11px,#2fd 25px,#0df 31px,#3fc 53px,#1fd 59px,#0af 72px,#1fd 89px,#3fc 107px,#1fd 115px,#0df 125px,#04f 193px,#09f 243px,#06f 261px,#0af 274px,#0cf 276px,#1fd 277px,#6f8 279px,#6f8 280px,#3fc 285px,#0ee 286px,#0af 288px,#0df 291px,#0cf 294px,#09f 296px,#01f 298px,#008 300px,#008 302px,#009 304px,#00f 306px,#09f 309px,#0cf 311px,#1fd 327px,#af5 337px,#cf2 342px,#cf2 407px,#8f6)"></i><i style="background:linear-gradient(#06f,#06f 2px,#0bf 3px,#2fc 5px,#7f8 8px,#8f6 11px,#7f8 14px,#2fc 17px,#0bf 19px,#00f 25px,#00a 29px,#008 35px,#008 80px,#00f 140px,#09f 242px,#07f 261px,#0af 275px,#0cf 276px,#2fd 277px,#6f8 279px,#6f8 280px,#2fc 285px,#0df 286px,#09f 288px,#0cf 291px,#0bf 294px,#08f 296px,#01f 298px,#00c 299px,#008 300px,#008 303px,#008 304px,#00c 306px,#01f 307px,#08f 309px,#0df 312px,#2fd 330px,#9f5 340px,#bf3 345px,#6f8)"></i><i style="background:linear-gradient(#06f,#06f 2px,#008 3px,#008 10px,#008 88px,#00f 140px,#09f 241px,#07f 261px,#0af 268px,#0af 275px,#0cf 276px,#2fd 277px,#6f8 279px,#6f8 280px,#2fc 285px,#0cf 286px,#09f 288px,#0af 292px,#08f 295px,#00f 298px,#008 300px,#008 304px,#00a 306px,#00f 307px,#08f 310px,#0cf 314px,#0df 331px,#1fd 337px,#6f9 349px,#2fc 410px,#4fb)"></i><i style="background:linear-gradient(#06f,#06f 2px,#008 3px,#008 10px,#008 88px,#00f 140px,#09f 240px,#08f 261px,#0bf 268px,#0bf 275px,#0cf 276px,#2fd 277px,#6f8 279px,#7f8 280px,#2fd 285px,#0cf 286px,#08f 288px,#09f 292px,#07f 295px,#00f 298px,#008 300px,#008 303px,#008 306px,#01f 308px,#08f 311px,#0bf 317px,#0af 336px,#00f 348px,#00c 354px,#00f 435px,#02f)"></i><i style="background:linear-gradient(#06f,#06f 2px,#008 3px,#008 10px,#008 88px,#00f 140px,#09f 239px,#08f 261px,#0bf 268px,#0bf 275px,#0cf 276px,#2fd 277px,#6f8 279px,#7f8 280px,#2fd 285px,#0cf 286px,#07f 288px,#07f 294px,#05f 296px,#00f 298px,#008 300px,#008 306px,#00f 308px,#05f 311px,#08f 317px,#0bf)"></i><i style="background:linear-gradient(#06f,#06f 2px,#008 3px,#008 11px,#008 88px,#00f 139px,#09f 238px,#08f 261px,#0bf 268px,#0bf 275px,#0cf 276px,#2fd 277px,#6f8 279px,#7f8 280px,#1fd 285px,#08f 287px,#06f 288px,#06f 295px,#00f 298px,#008 300px,#008 306px,#00e 308px,#03f 311px,#05f 327px,#0ee 343px,#0bf 389px,#1fe)"></i><i style="background:linear-gradient(#06f,#06f 2px,#008 3px,#008 11px,#008 88px,#00f 139px,#04f 170px,#09f 241px,#08f 260px,#0bf 268px,#0bf 275px,#0cf 276px,#2fd 277px,#6f8 279px,#7f8 280px,#1fd 285px,#08f 287px,#06f 288px,#07f 295px,#01f 298px,#008 301px,#008 306px,#00f 308px,#03f 311px,#02f 330px,#0df 347px,#1fd 392px,#6f9)"></i><i style="background:linear-gradient(#06f,#06f 2px,#008 3px,#008 11px,#008 88px,#00f 139px,#04f 171px,#09f 240px,#08f 260px,#0bf 268px,#0bf 275px,#0cf 276px,#2fd 277px,#6f8 279px,#7f8 280px,#1fd 285px,#08f 287px,#06f 288px,#0af 295px,#06f 297px,#00f 299px,#00a 301px,#008 305px,#00f 308px,#04f 311px,#04f 316px,#05f 396px,#09f)"></i><i style="background:linear-gradient(#06f,#06f 2px,#008 3px,#008 39px,#008 91px,#00f 138px,#05f 172px,#09f 240px,#08f 261px,#0bf 268px,#0bf 275px,#2fd 277px,#6f8 279px,#7f8 280px,#1fd 285px,#08f 287px,#07f 288px,#1fe 293px,#1fd 295px,#0cf 297px,#02f 300px,#00f 301px,#00b 305px,#01f 308px,#06f 311px,#0af 318px,#0af 338px,#00f 347px,#008 352px,#008 410px,#00d 441px,#00f)"></i><i style="background:linear-gradient(#06f,#06f 2px,#008 3px,#008 39px,#008 91px,#00f 138px,#05f 173px,#09f 239px,#08f 260px,#0bf 268px,#0bf 275px,#0df 276px,#5fa 278px,#7f8 280px,#1fd 285px,#09f 287px,#0bf 289px,#3fb 291px,#7f7 293px,#9f6 295px,#3fb 298px,#0df 299px,#05f 302px,#01f 304px,#00f 306px,#09f 310px,#2fd 314px,#3fb 326px,#2fd 330px,#0df 332px,#00f 339px,#008 344px,#008)"></i><i style="background:linear-gradient(#06f,#0bf 34px,#06f 52px,#0af 70px,#0af 88px,#07f 106px,#0df 124px,#09f 142px,#0af 160px,#07f 178px,#08f 260px,#0cf 268px,#0bf 275px,#0df 276px,#5fa 278px,#7f8 280px,#2fd 285px,#0df 286px,#0bf 287px,#0cf 288px,#2fd 289px,#df2 292px,#fd0 293px,#fb0 295px,#fe0 297px,#3fc 301px,#0bf 303px,#05f 305px,#05f 306px,#0cf 310px,#2fc 312px,#5f9 316px,#5f9 331px,#1fd 337px,#0cf 339px,#00f 347px,#00c 351px,#009 390px,#009)"></i><i style="background:linear-gradient(#06f,#06f 2px,#00f 3px,#00f 14px,#06f 41px,#01f 76px,#05f 113px,#02f 148px,#07f 197px,#09f 260px,#0cf 268px,#0bf 275px,#0df 276px,#5f9 278px,#7f8 280px,#0ee 287px,#2fc 288px,#bf3 290px,#fc0 291px,#f40 293px,#f10 295px,#f40 297px,#fe0 300px,#1fe 304px,#0bf 305px,#09f 307px,#1fd 311px,#6f9 316px,#6f9 332px,#2fc 337px,#0cf 340px,#03f 346px,#00f 351px,#00f)"></i><i style="background:linear-gradient(#06f,#06f 3px,#0df 8px,#1ee 11px,#0cf 15px,#00f 23px,#00a 28px,#008 34px,#008 80px,#009 101px,#00f 136px,#07f 174px,#09f 260px,#0cf 268px,#0cf 275px,#2fc 277px,#7f8 279px,#3fc 287px,#bf3 289px,#fc0 290px,#d00 292px,#800 293px,#800 294px,#800 297px,#b00 298px,#f10 299px,#fe0 302px,#1fe 305px,#0bf 306px,#0af 308px,#0df 310px,#2fc 312px,#5f9 315px,#6f9 324px,#af4 339px,#7f7 374px,#af5)"></i><i style="background:linear-gradient(#06f,#06f 3px,#0df 8px,#1ee 11px,#0cf 15px,#00f 23px,#00a 28px,#008 34px,#008 80px,#009 101px,#00f 136px,#07f 174px,#0af 225px,#09f 260px,#0df 276px,#7f8 279px,#4fa 286px,#6f9 287px,#fd0 289px,#d00 291px,#800 292px,#800 298px,#800 299px,#d00 300px,#fa0 302px,#df1 303px,#2fd 305px,#0bf 306px,#09f 308px,#2fd 313px,#af5 336px,#3fb)"></i><i style="background:linear-gradient(#06f,#06f 3px,#0df 8px,#1ee 11px,#0cf 15px,#00f 23px,#00a 28px,#008 34px,#008 80px,#009 101px,#00f 135px,#08f 176px,#0af 220px,#0af 260px,#0df 268px,#0cf 275px,#0ee 276px,#7f8 279px,#7f8 286px,#9f6 287px,#df1 288px,#f10 290px,#800 291px,#800 299px,#a00 300px,#f30 301px,#df1 303px,#1fd 305px,#0af 306px,#07f 308px,#0cf 312px,#2fd 314px,#4fb 329px,#bf3 345px,#bf4 389px,#6f9)"></i><i style="background:linear-gradient(#06f,#06f 2px,#cf2 3px,#fe0 12px,#7f7 45px,#8f6 64px,#6f9 148px,#1fd 180px,#0df 191px,#0af 260px,#0df 268px,#0cf 275px,#0ee 276px,#7f8 279px,#7f8 283px,#9f5 286px,#cf3 287px,#fc0 288px,#f50 289px,#b00 290px,#800 291px,#800 299px,#b00 300px,#f40 301px,#fb0 302px,#cf3 303px,#0df 305px,#09f 306px,#06f 308px,#0df 312px,#2fc 314px,#4fa 317px,#5fa 330px,#df2 344px,#ef0 352px,#ef1 377px,#9f6 428px,#8f6)"></i><i style="background:linear-gradient(#06f,#06f 2px,#4fa 3px,#7f8 12px,#0df 25px,#09f 38px,#0df 73px,#0bf 110px,#1fd 125px,#3fb 146px,#0df 166px,#0bf 188px,#0bf 260px,#0ee 268px,#0df 275px,#7f7 279px,#7f7 283px,#cf3 286px,#fe0 287px,#f10 289px,#800 290px,#800 299px,#e00 300px,#fe0 302px,#3fc 304px,#0bf 305px,#05f 307px,#07f 309px,#1fd 313px,#6f9 317px,#cf3)"></i><i style="background:linear-gradient(#06f,#06f 2px,#4fb 3px,#6f8 12px,#1fd 22px,#0df 26px,#1fd 44px,#0cf 62px,#1fd 108px,#1ee 117px,#08f 134px,#0bf 152px,#09f 170px,#0df 209px,#0cf 260px,#1ee 268px,#0df 274px,#1fd 276px,#7f7 279px,#8f6 283px,#ef1 286px,#f60 288px,#d00 289px,#800 290px,#800 298px,#a00 299px,#f30 300px,#fa0 301px,#cf3 302px,#0ee 304px,#09f 305px,#05f 307px,#0cf 311px,#2fd 313px,#6f8 318px,#6f9)"></i><i style="background:linear-gradient(#06f,#06f 2px,#2fd 3px,#5f9 12px,#1fd 22px,#0df 28px,#0af 56px,#1fd 86px,#3fb 109px,#1fd 114px,#0af 128px,#0bf 144px,#09f 168px,#0df 213px,#0df 262px,#1fd 267px,#0ee 275px,#8f7 279px,#8f6 282px,#df2 285px,#fb0 287px,#f10 289px,#900 290px,#800 291px,#800 297px,#a00 298px,#f20 299px,#ef0 301px,#2fc 303px,#0bf 304px,#05f 306px,#05f 307px,#0df 312px,#2fd 314px,#4fb 317px,#4fa 330px,#9f6 344px,#af5 357px,#8f7)"></i><i style="background:linear-gradient(#06f,#06f 3px,#0df 8px,#1ee 11px,#0cf 15px,#00f 23px,#00a 28px,#008 34px,#008 80px,#009 102px,#00f 134px,#09f 170px,#0df 194px,#0df 261px,#2fd 267px,#1fe 275px,#8f6 279px,#9f6 282px,#ef0 286px,#fd0 287px,#f20 290px,#d00 291px,#b00 294px,#f10 297px,#f40 298px,#ef0 300px,#4fb 302px,#0cf 303px,#06f 305px,#05f 306px,#1fd 316px,#6f9)"></i><i style="background:linear-gradient(#06f,#06f 2px,#3fc 3px,#6f8 12px,#1fe 29px,#0df 51px,#1fd 69px,#0cf 87px,#0df 105px,#09f 123px,#0bf 141px,#09f 159px,#1fd 212px,#1ee 261px,#2fc 267px,#1fd 275px,#9f6 279px,#df1 287px,#fb0 289px,#f70 291px,#f70 293px,#f80 296px,#fd0 298px,#3fc 301px,#0cf 302px,#06f 304px,#05f 305px,#0df 311px,#2fd 313px,#1fd)"></i><i style="background:linear-gradient(#06f,#06f 3px,#0df 8px,#1ee 11px,#0cf 15px,#00f 23px,#00a 28px,#008 34px,#008 80px,#009 102px,#00f 134px,#0af 171px,#0ee 196px,#1fd 261px,#3fc 267px,#2fc 275px,#af5 279px,#cf3 284px,#af4 287px,#ef0 291px,#bf4 296px,#4fb 299px,#0ee 300px,#0af 301px,#05f 303px,#05f 304px,#0ee 309px,#5fa 312px,#6f9 315px,#6f9 328px,#2fc 345px,#3fb 379px,#1fd 408px,#0bf)"></i><i style="background:linear-gradient(#06f,#06f 3px,#0df 8px,#1ee 11px,#0cf 15px,#00f 23px,#00a 28px,#008 34px,#008 79px,#009 101px,#00f 134px,#0af 172px,#1fd 201px,#3fc 274px,#4fa 276px,#bf3 279px,#df2 284px,#9f5 287px,#9f6 292px,#1fd 297px,#03f 302px,#05f 304px,#0df 307px,#1fd 308px,#7f7 312px,#8f7 321px,#7f8 325px,#1fd 330px,#0cf 332px,#05f 337px,#02f 341px,#00f 387px,#009 427px,#009)"></i><i style="background:linear-gradient(#06f,#06f 3px,#0df 8px,#1ee 11px,#0cf 15px,#00f 23px,#00a 28px,#008 34px,#008 80px,#009 102px,#00f 134px,#0af 172px,#1fd 200px,#2fc 261px,#4fb 275px,#df2 279px,#fd0 283px,#fe0 285px,#bf4 287px,#8f6 291px,#2fd 294px,#0df 295px,#00f 301px,#03f 303px,#0df 306px,#2fd 307px,#8f6 310px,#bf4 313px,#6f8 335px,#5fa 356px,#3fc)"></i><i style="background:linear-gradient(#06f,#06f 2px,#0ee 3px,#1fd 4px,#6f8 13px,#0df 30px,#07f 86px,#0bf 120px,#09f 162px,#1fd 202px,#3fc 261px,#5fa 275px,#fe0 279px,#f90 284px,#ef0 287px,#9f5 291px,#4fb 293px,#0ee 294px,#06f 296px,#00f 299px,#00f 302px,#02f 303px,#0af 305px,#0ee 306px,#3fb 307px,#bf4 310px,#fe0 313px,#fe0 332px,#bf3 346px,#df1 382px,#9f6 434px,#8f7)"></i><i style="background:linear-gradient(#06f,#06f 3px,#0df 8px,#1ee 11px,#0cf 15px,#00f 23px,#00a 28px,#008 34px,#008 80px,#009 102px,#00f 134px,#0af 173px,#1fd 203px,#3fb 261px,#5f9 274px,#8f7 276px,#bf3 277px,#fe0 278px,#fb0 279px,#f40 284px,#ef1 290px,#4fa 293px,#0ee 294px,#09f 295px,#00f 298px,#00c 301px,#00f 303px,#0cf 306px,#2fc 307px,#df2 311px,#fe0 313px,#fe0 336px,#bf3 339px,#3fc 344px,#0cf 346px,#04f 350px,#01f 354px,#00f 382px,#00a 422px,#00c)"></i><i style="background:linear-gradient(#06f,#06f 2px,#008 3px,#008 5px,#008 88px,#00f 135px,#0af 173px,#1fe 203px,#3fb 261px,#6f9 274px,#9f6 276px,#df2 277px,#fc0 278px,#f60 280px,#e00 284px,#fd0 290px,#df1 291px,#5f9 293px,#0ee 294px,#01f 297px,#00b 301px,#00f 303px,#0df 307px,#2fc 308px,#bf3 312px,#df1 314px,#ef0 360px,#bf4 418px,#bf4)"></i><i style="background:linear-gradient(#06f,#06f 2px,#008 3px,#008 5px,#008 88px,#00f 135px,#0ee 199px,#5f9 272px,#7f7 275px,#ef1 277px,#fa0 278px,#f40 280px,#e10 282px,#c00 284px,#d00 285px,#f20 286px,#fd0 290px,#df1 291px,#5fa 293px,#0df 294px,#03f 296px,#00f 297px,#00a 300px,#00e 303px,#01f 304px,#0bf 307px,#3fc 309px,#9f5 312px,#bf3 315px,#bf3 335px,#7f7 351px,#bf4 395px,#8f6)"></i><i style="background:linear-gradient(#06f,#06f 2px,#008 3px,#008 28px,#008 90px,#00f 136px,#09f 172px,#0ee 204px,#5f9 272px,#7f7 275px,#ef0 277px,#fa0 278px,#f30 280px,#e00 282px,#c00 284px,#e00 285px,#f70 287px,#ef0 290px,#3fc 293px,#0bf 294px,#01f 296px,#009 301px,#00d 303px,#01f 304px,#0bf 307px,#2fd 309px,#7f7 312px,#9f5 315px,#fe0)"></i><i style="background:linear-gradient(#06f,#06f 2px,#008 3px,#008 28px,#008 90px,#00f 136px,#09f 176px,#1fe 227px,#5f9 273px,#7f8 275px,#ef0 277px,#f90 278px,#f40 280px,#f10 284px,#f30 285px,#fe0 288px,#bf4 290px,#5fa 292px,#0ee 293px,#08f 294px,#03f 295px,#00f 296px,#008 301px,#00c 303px,#01f 304px,#08f 306px,#1fe 309px,#5f9 312px,#7f8 315px,#7f8 324px,#2fd 329px,#0cf 331px,#02f 337px,#00f 339px,#00d 343px,#00e)"></i><i style="background:linear-gradient(#06f,#06f 2px,#df2 3px,#fd0 6px,#fc0 10px,#fe0 14px,#2fc 26px,#1fd 32px,#2fd 62px,#5fa 81px,#5fa 114px,#0df 141px,#09f 174px,#0ee 224px,#5f9 274px,#9f6 276px,#ef1 277px,#f60 279px,#f30 283px,#f60 285px,#fb0 286px,#df1 287px,#1fd 292px,#0af 293px,#00f 295px,#00b 297px,#008 301px,#008 302px,#01f 304px,#08f 306px,#1fd 309px,#6f9 314px,#6f9 331px,#1fd 339px,#06f 346px,#03f 351px,#06f)"></i><i style="background:linear-gradient(#06f,#06f 2px,#0bf 3px,#2fc 5px,#7f8 8px,#8f6 11px,#7f8 14px,#2fc 17px,#0bf 19px,#00f 25px,#00a 29px,#008 35px,#008 80px,#00f 137px,#08f 175px,#0ee 233px,#5fa 274px,#8f6 276px,#df1 277px,#fb0 278px,#f60 280px,#f60 283px,#f70 284px,#ef1 286px,#6f9 288px,#1fe 291px,#0bf 292px,#01f 294px,#00c 295px,#008 298px,#008 301px,#008 302px,#00d 303px,#02f 304px,#0af 306px,#1fd 308px,#7f8 313px,#7f8 333px,#5f9 337px,#1fe 341px,#03f 348px,#00f 352px,#00e 405px,#008)"></i><i style="background:linear-gradient(#06f,#06f 2px,#fb0 3px,#f80 10px,#ef1 19px,#9f6 25px,#6f8 33px,#9f5 57px,#8f6 75px,#3fb 93px,#1fd 129px,#3fb 161px,#0df 174px,#0af 199px,#0df 234px,#1fd 245px,#5fa 267px,#4fb 274px,#8f7 276px,#df2 277px,#fb0 278px,#f80 279px,#f70 281px,#f80 283px,#fd0 285px,#bf4 286px,#2fc 288px,#0bf 291px,#00f 294px,#00a 295px,#008 300px,#00a 302px,#00f 303px,#0af 305px,#2fc 307px,#8f6 312px,#af5 333px,#fe0 344px,#fb0 353px,#ef1 391px,#af5)"></i><i style="background:linear-gradient(#06f,#06f 2px,#0bf 3px,#2fc 5px,#7f8 8px,#8f6 11px,#7f8 14px,#2fc 17px,#0bf 19px,#00f 25px,#00a 29px,#008 35px,#008 80px,#00f 138px,#06f 172px,#0df 241px,#4fa 267px,#4fb 274px,#7f7 276px,#df2 277px,#fb0 278px,#f80 279px,#f70 281px,#fa0 284px,#fe0 285px,#4fb 287px,#0ee 288px,#0af 291px,#00f 294px,#00b 295px,#00a 299px,#00f 302px,#0af 304px,#1ee 305px,#5f9 307px,#9f6 310px,#fe0 330px,#f40 344px,#f20 354px,#fc0 410px,#fb0)"></i><i style="background:linear-gradient(#06f,#06f 2px,#7f7 3px,#fe0 11px,#ef0 15px,#7f7 25px,#6f9 32px,#7f8 69px,#4fb 88px,#2fc 123px,#5fa 148px,#1fd 166px,#0df 173px,#09f 201px,#0bf 231px,#1fd 250px,#4fb 267px,#3fc 274px,#6f8 276px,#cf3 277px,#fc0 278px,#f80 280px,#fc0 284px,#df2 285px,#7f7 286px,#1fd 287px,#0af 288px,#06f 291px,#00f 293px,#008 295px,#008 299px,#00e 302px,#0cf 305px,#2fc 307px,#4fa 310px,#5fa 330px,#1fd 336px,#0cf 338px,#04f 345px,#01f 350px,#0af)"></i><i style="background:linear-gradient(#06f,#06f 2px,#af4 3px,#ef0 11px,#6f9 24px,#4fb 31px,#4fa 59px,#2fd 77px,#7f8 96px,#5fa 131px,#1fd 149px,#0df 160px,#08f 201px,#0af 229px,#0df 244px,#1fd 254px,#3fb 267px,#2fc 274px,#6f9 276px,#bf3 277px,#fc0 278px,#f80 280px,#fd0 284px,#cf2 285px,#0ee 287px,#09f 288px,#05f 291px,#00f 293px,#008 295px,#008 298px,#008 299px,#01f 302px,#0af 304px,#2fc 306px,#4fa 309px,#5fa 330px,#df2 347px,#fe0)"></i><i style="background:linear-gradient(#06f,#06f 2px,#02f 3px,#00f 13px,#00c 24px,#00f 33px,#05f 43px,#01f 78px,#03f 97px,#00f 116px,#05f 132px,#03f 150px,#09f 225px,#0df 249px,#3fb 267px,#2fd 274px,#6f9 276px,#bf3 277px,#fc0 278px,#f90 280px,#fd0 284px,#cf3 285px,#0df 287px,#08f 288px,#00e 293px,#008 295px,#008 299px,#00d 301px,#01f 302px,#0af 304px,#2fd 306px,#4fb 309px,#4fb 328px,#cf3 346px,#9f6 418px,#bf4)"></i><i style="background:linear-gradient(#06f,#06f 2px,#008 3px,#008 11px,#008 88px,#00f 139px,#05f 172px,#09f 230px,#0df 252px,#3fc 267px,#1fd 274px,#5f9 276px,#fd0 278px,#f90 280px,#fe0 284px,#bf3 285px,#5f9 286px,#0df 287px,#08f 288px,#00e 293px,#008 295px,#008 299px,#00f 302px,#0cf 305px,#2fc 307px,#4fb 318px,#1fd 323px,#0cf 326px,#05f 333px,#04f 337px,#00f 398px,#009 436px,#008)"></i><i style="background:linear-gradient(#06f,#06f 2px,#008 3px,#008 39px,#008 91px,#00f 138px,#05f 172px,#08f 230px,#1fd 264px,#1fe 274px,#5fa 276px,#fd0 278px,#f90 280px,#fe0 284px,#bf3 285px,#5f9 286px,#0cf 287px,#08f 288px,#00e 293px,#008 295px,#008 300px,#00c 302px,#01f 303px,#0af 305px,#2fd 308px,#4fb 333px,#df1 342px,#fd0 344px,#f80 348px,#f60 352px,#fb0 400px,#fe0)"></i><i style="background:linear-gradient(#06f,#06f 2px,#008 3px,#008 39px,#008 91px,#00f 138px,#05f 172px,#08f 230px,#1fd 265px,#1ee 274px,#5fa 276px,#fd0 278px,#fa0 280px,#fe0 284px,#5fa 286px,#0cf 287px,#07f 288px,#00e 293px,#008 295px,#008 301px,#009 302px,#00e 303px,#0bf 307px,#1fd 311px,#1fd 349px,#0bf 365px,#08f)"></i><i style="background:linear-gradient(#06f,#06f 2px,#008 3px,#008 39px,#008 91px,#00f 138px,#05f 170px,#08f 229px,#0df 260px,#1fd 266px,#0ee 274px,#4fa 276px,#fe0 278px,#fa0 280px,#ef0 284px,#5fa 286px,#0cf 287px,#07f 288px,#00e 293px,#008 295px,#008 302px,#00b 303px,#00f 304px,#09f 307px,#1fd 312px,#1fd 334px,#6f9 352px,#4fb)"></i><i style="background:linear-gradient(#06f,#06f 2px,#5f9 3px,#6f9 25px,#9f6 43px,#4fb 79px,#7f8 123px,#1fd 153px,#0df 161px,#07f 195px,#08f 231px,#0df 261px,#1fd 267px,#0ee 274px,#4fa 276px,#fe0 278px,#fb0 279px,#fb0 281px,#ef1 284px,#5fa 286px,#0cf 287px,#07f 288px,#00e 293px,#008 295px,#008 302px,#00a 303px,#00e 304px,#09f 308px,#2fd 313px,#1fd 334px,#0df 337px,#00f 347px,#00c 352px,#008 388px,#008 410px,#00d)"></i><i style="background:linear-gradient(#06f,#06f 2px,#2fc 3px,#1fd 20px,#0af 39px,#1fd 49px,#5fa 57px,#3fc 75px,#6f9 129px,#1fd 160px,#0df 170px,#07f 208px,#08f 235px,#1fe 267px,#0df 274px,#1ee 275px,#4fb 276px,#ef0 278px,#fc0 279px,#fc0 281px,#ef1 284px,#4fa 286px,#0bf 287px,#07f 288px,#00e 293px,#008 295px,#008 302px,#01f 305px,#07f 308px,#0df 315px,#0cf 332px,#05f 350px,#03f 411px,#08f)"></i><i style="background:linear-gradient(#06f,#06f 2px,#008 3px,#008 28px,#008 90px,#00f 136px,#06f 172px,#08f 231px,#1ee 267px,#0df 274px,#0ee 275px,#4fb 276px,#ef1 278px,#fc0 279px,#df1 284px,#4fa 286px,#0bf 287px,#07f 288px,#00e 293px,#008 295px,#008 302px,#01f 305px,#05f 308px,#09f 316px,#08f 331px,#00f 342px,#00b 349px,#009 384px,#00f 447px,#00f)"></i><i style="background:linear-gradient(#06f,#06f 2px,#008 3px,#008 28px,#008 90px,#00f 136px,#07f 173px,#08f 231px,#0ee 267px,#0df 274px,#0ee 275px,#3fb 276px,#ef1 278px,#fc0 279px,#df1 284px,#4fb 286px,#0bf 287px,#07f 288px,#00e 293px,#008 295px,#008 302px,#01f 305px,#05f 308px,#08f 316px,#08f 339px,#00f 350px,#00b 358px,#00d 415px,#00b)"></i><i style="background:linear-gradient(#06f,#06f 2px,#3fc 3px,#1ee 26px,#3fc 98px,#1fe 131px,#08f 194px,#08f 233px,#0df 275px,#3fc 276px,#df1 278px,#fd0 279px,#df2 284px,#4fb 286px,#0bf 287px,#07f 288px,#00e 293px,#008 295px,#008 302px,#01f 305px,#07f 309px,#0bf 316px,#0af 335px,#00f 350px,#00d)"></i><i style="background:linear-gradient(#06f,#06f 2px,#008 3px,#008 28px,#008 90px,#00f 136px,#07f 173px,#08f 234px,#0df 275px,#3fc 276px,#df1 278px,#fd0 279px,#fe0 282px,#df2 284px,#4fb 286px,#0bf 287px,#06f 288px,#00e 293px,#008 295px,#008 302px,#00f 304px,#09f 308px,#0ee 314px,#0df 331px,#06f 348px,#01f 415px,#01f)"></i><i style="background:linear-gradient(#06f,#06f 2px,#0ef 3px,#08f 28px,#0df 82px,#06f 100px,#06f 118px,#0af 136px,#07f 154px,#08f 230px,#0df 275px,#2fc 276px,#df2 278px,#fe0 279px,#fe0 282px,#cf2 284px,#4fb 286px,#0bf 287px,#06f 288px,#00e 293px,#008 295px,#008 302px,#00f 304px,#08f 307px,#0cf 313px,#0cf 333px,#00f 348px,#00d 411px,#00d)"></i><i style="background:linear-gradient(#06f,#03f 32px,#09f 50px,#0af 68px,#05f 87px,#0af 122px,#05f 141px,#08f 171px,#08f 234px,#0cf 275px,#2fc 276px,#cf2 278px,#fe0 279px,#ef0 282px,#cf2 284px,#3fb 286px,#0af 287px,#06f 288px,#00e 293px,#008 295px,#008 301px,#009 302px,#01f 304px,#08f 307px,#0bf 312px,#0af 327px,#00f 341px,#05f)"></i><i style="background:linear-gradient(#06f,#06f 2px,#008 3px,#008 28px,#008 90px,#00f 136px,#06f 173px,#07f 235px,#0cf 275px,#2fd 276px,#cf3 278px,#fe0 280px,#cf3 284px,#3fb 286px,#0af 287px,#06f 288px,#00e 293px,#008 295px,#008 301px,#00e 303px,#0af 307px,#0df 312px,#0df 328px,#03f 345px,#00f 417px,#02f)"></i><i style="background:linear-gradient(#06f,#06f 2px,#7f7 3px,#4fb 19px,#1fe 55px,#1fd 111px,#0bf 127px,#06f 171px,#07f 235px,#0bf 275px,#1fd 276px,#bf3 278px,#ef0 280px,#bf3 284px,#3fc 286px,#0af 287px,#06f 288px,#00e 293px,#008 295px,#008 301px,#00f 303px,#0bf 307px,#1ee 312px,#0ee 329px,#04f 342px,#02f 347px,#00d 402px,#00f)"></i></div>
<div class="p" style="top:1249px"><i style="background:linear-gradient(#06f,#06f 2px,#ef1 3px,#fe0 5px,#fc0 10px,#ef0 15px,#6f9 25px,#4fb 34px,#8f6 55px,#4fb 73px,#1fd 122px,#0df 142px,#0bf 173px,#0ee 260px,#2fc 268px,#bf4 280px,#9f6 284px,#2fd 289px,#0df 291px,#07f 296px,#03f 303px,#00f 305px,#008 309px,#008 317px,#00f 320px,#0cf 324px,#3fc 326px,#8f7 331px,#8f7 341px,#3fc 345px,#0bf 347px,#01f 350px,#008 354px,#009 356px,#00f 359px,#0bf 364px,#2fc 366px,#9f6 372px,#df2)"></i><i style="background:linear-gradient(#06f,#06f 2px,#0bf 3px,#2fc 5px,#7f8 8px,#8f6 11px,#7f8 14px,#2fc 17px,#0bf 19px,#00f 25px,#00a 29px,#008 35px,#008 80px,#009 102px,#00f 131px,#0df 175px,#1fd 261px,#3fb 268px,#df1 280px,#af4 284px,#1fd 290px,#0cf 292px,#07f 296px,#04f 303px,#00f 305px,#00d 306px,#008 309px,#008 316px,#009 318px,#00f 320px,#0bf 324px,#3fc 327px,#5f9 330px,#5f9 341px,#1fe 345px,#01f 350px,#008 354px,#008 362px,#00f 367px,#0df 372px,#2fc 373px,#af4 377px,#ef1 381px,#fb0)"></i><i style="background:linear-gradient(#06f,#06f 2px,#bf3 3px,#fe0 6px,#fa0 13px,#ef1 21px,#af4 28px,#3fb 70px,#3fb 88px,#8f6 106px,#8f7 118px,#0df 141px,#0df 146px,#2fc 262px,#4fa 268px,#ef0 278px,#fe0 281px,#cf2 284px,#2fc 290px,#0df 292px,#08f 296px,#04f 303px,#00f 305px,#008 309px,#008 316px,#00d 319px,#00f 320px,#09f 323px,#2fd 328px,#7f7 343px,#0ee 353px,#2fd 362px,#5fa 366px,#df1 372px,#fd0 374px,#f80 379px,#fd0 389px,#ef0 403px,#cf3)"></i><i style="background:linear-gradient(#06f,#06f 2px,#df2 3px,#fe0 5px,#fa0 12px,#ef1 21px,#bf4 28px,#bf3 38px,#5fa 56px,#8f7 74px,#8f7 144px,#1fd 164px,#1ee 220px,#3fc 263px,#6f9 269px,#fe0 277px,#fc0 280px,#fe0 283px,#2fc 291px,#0cf 294px,#05f 303px,#00e 306px,#009 308px,#008 310px,#009 316px,#00e 319px,#0af 323px,#1fd 327px,#4fb 341px,#1fd 345px,#0bf 347px,#01f 353px,#00f 362px,#03f 366px,#0cf 371px,#2fc 373px,#8f6 377px,#bf3 381px,#af5 398px,#af4)"></i><i style="background:linear-gradient(#06f,#06f 2px,#fd0 3px,#f90 10px,#ef0 20px,#9f5 31px,#bf3 87px,#5fa 105px,#6f8 141px,#1fd 219px,#4fb 263px,#7f8 269px,#fe0 276px,#fa0 280px,#fd0 284px,#ef1 285px,#2fd 293px,#0df 295px,#07f 303px,#00f 306px,#009 309px,#00b 316px,#00e 318px,#02f 319px,#0cf 322px,#2fc 324px,#6f9 328px,#9f6 341px,#7f7 344px,#1fd 348px,#0df 349px,#05f 354px,#03f 368px,#06f 371px,#0df 375px,#2fd 376px,#fe0 383px,#fa0 387px,#fc0 412px,#f70)"></i><i style="background:linear-gradient(#06f,#06f 2px,#ef1 3px,#fe0 5px,#fc0 11px,#fe0 16px,#7f8 28px,#af5 45px,#5fa 63px,#af4 99px,#6f9 135px,#bf3 153px,#3fc 179px,#1fd 217px,#4fa 263px,#7f8 268px,#df1 274px,#f80 280px,#f90 282px,#fd0 285px,#ef0 286px,#5fa 293px,#0df 301px,#0af 303px,#00f 307px,#00d 308px,#00f 313px,#03f 317px,#0bf 319px,#2fd 320px,#af4 323px,#fd0 326px,#f10 337px,#d00 339px,#900 343px,#f10 348px,#f70 354px,#f60 361px,#f80 368px,#f60 371px,#f10 374px,#d00 375px,#800 378px,#800 395px,#f10 403px,#f70 413px,#fa0 425px,#fa0)"></i><i style="background:linear-gradient(#06f,#06f 2px,#ee0 3px,#fe0 4px,#fa0 11px,#df1 20px,#9f5 28px,#7f8 52px,#9f5 70px,#6f9 88px,#9f5 106px,#4fb 124px,#0df 167px,#1fd 223px,#4fa 261px,#7f7 268px,#fe0 275px,#f80 279px,#f80 281px,#df1 287px,#2fd 298px,#0bf 302px,#00e 306px,#008 308px,#00a 316px,#00e 318px,#0df 322px,#1fd 323px,#4fa 327px,#5f9 341px,#2fd 345px,#0df 346px,#00f 352px,#00c 355px,#01f 359px,#0ee 363px,#3fb 364px,#df2 367px,#fd0 368px,#f40 371px,#d00 374px,#f10 388px,#f70)"></i><i style="background:linear-gradient(#06f,#06f 2px,#008 3px,#008 7px,#008 88px,#00f 132px,#0cf 173px,#1ee 222px,#5fa 263px,#8f6 269px,#fe0 275px,#f90 278px,#f80 281px,#fe0 286px,#1fe 299px,#08f 303px,#01f 305px,#00c 306px,#008 307px,#008 314px,#009 316px,#00e 318px,#0df 322px,#2fd 324px,#4fb 341px,#2fd 344px,#0bf 346px,#00f 351px,#00d 353px,#00f 355px,#0af 358px,#0ee 359px,#4fb 360px,#ef1 363px,#fb0 364px,#f20 367px,#d00 368px,#900 371px,#f10 402px,#f50 431px,#f60)"></i><i style="background:linear-gradient(#06f,#06f 2px,#008 3px,#008 88px,#00f 133px,#0bf 173px,#0ee 220px,#5fa 263px,#8f6 269px,#fe0 275px,#fa0 280px,#fd0 284px,#df2 286px,#2fd 296px,#08f 302px,#00e 305px,#009 306px,#008 307px,#008 315px,#00e 318px,#0bf 321px,#2fd 323px,#4fb 326px,#4fa 341px,#2fc 344px,#0cf 346px,#00f 351px,#009 355px,#00a 361px,#00f 364px,#0bf 368px,#1ee 369px,#ef0 374px,#f80 377px,#f60 379px,#f50 387px,#fb0 440px,#fc0)"></i><i style="background:linear-gradient(#06f,#06f 2px,#008 3px,#008 13px,#008 89px,#00f 134px,#09f 173px,#0ef 224px,#5fa 263px,#7f7 268px,#fe0 276px,#fd0 279px,#fe0 282px,#1fd 292px,#04f 302px,#00f 304px,#008 306px,#008 315px,#00e 318px,#02f 319px,#0bf 321px,#2fc 323px,#5fa 326px,#6f8 341px,#2fc 345px,#0cf 347px,#02f 351px,#00f 353px,#02f 362px,#0af 366px,#0ee 367px,#3fb 368px,#df1 371px,#fc0 372px,#d00 375px,#900 376px,#800 377px,#800 422px,#f10 436px,#f50)"></i><i style="background:linear-gradient(#06f,#06f 2px,#0af 3px,#09f 52px,#1fd 71px,#4fa 89px,#1fd 105px,#0cf 124px,#1fd 132px,#3fb 142px,#1fd 146px,#09f 161px,#0df 225px,#1fd 236px,#5fa 263px,#ef0 278px,#cf2 282px,#2fd 289px,#0df 291px,#08f 296px,#05f 302px,#00f 305px,#02f 315px,#08f 318px,#2fd 320px,#8f7 322px,#cf3 325px,#df1 335px,#df2 342px,#0ee 349px,#0cf 351px,#0df 353px,#3fc 355px,#ef0 360px,#fd0 361px,#f60 366px,#fb0 385px,#fe0 402px,#fd0)"></i><i style="background:linear-gradient(#06f,#06f 2px,#0af 3px,#1ee 27px,#0bf 45px,#0df 65px,#4fb 81px,#0df 110px,#09f 177px,#0df 229px,#1fd 239px,#5f9 263px,#df1 278px,#af4 282px,#2fd 288px,#0df 290px,#09f 296px,#0bf 302px,#0af 305px,#0ee 309px,#6f9 316px,#cf2 319px,#fd0 320px,#f20 323px,#c00 325px,#900 329px,#800 336px,#900 341px,#d00 344px,#f20 345px,#df1 350px,#5fa 355px,#0df 364px,#0cf 375px,#07f 387px,#05f 398px,#05f)"></i><i style="background:linear-gradient(#06f,#06f 2px,#2fd 3px,#7f8 21px,#1fe 39px,#3fc 58px,#0df 75px,#1fe 142px,#09f 183px,#0df 233px,#1fd 242px,#4fa 263px,#9f5 275px,#8f7 279px,#2fc 283px,#0bf 285px,#00f 291px,#00a 296px,#008 303px,#00f 315px,#03f 317px,#0af 319px,#1fd 320px,#9f5 322px,#fe0 324px,#f20 330px,#c00 332px,#800 335px,#800 347px,#d00 349px,#f30 350px,#fb0 353px,#df1 356px,#2fc 364px,#0df 366px,#07f 373px,#08f 383px,#06f 398px,#0bf)"></i><i style="background:linear-gradient(#06f,#06f 2px,#008 3px,#008 30px,#008 90px,#00f 137px,#06f 171px,#0df 236px,#1fd 245px,#8f7 274px,#6f9 278px,#2fc 281px,#0cf 283px,#00f 288px,#00e 289px,#008 294px,#008 311px,#009 315px,#00d 317px,#00f 318px,#0cf 321px,#3fc 322px,#9f6 325px,#df1 332px,#fd0 335px,#f70 343px,#ef1 350px,#bf3 354px,#ef0 358px,#f50 372px,#f20 380px,#f50 388px,#fe0 399px,#2fd 413px,#0df 416px,#05f 426px,#00f 436px,#00c)"></i><i style="background:linear-gradient(#06f,#06f 2px,#008 3px,#008 39px,#008 91px,#00f 138px,#06f 170px,#09f 221px,#0df 239px,#1fd 248px,#6f8 273px,#2fc 279px,#0df 281px,#00f 287px,#008 291px,#008 315px,#00f 318px,#1ee 322px,#3fc 323px,#5f9 326px,#8f6 342px,#2fd 347px,#0df 348px,#06f 351px,#03f 354px,#0bf 372px,#0df 379px,#0af 390px,#00f 411px,#008 435px,#008)"></i><i style="background:linear-gradient(#06f,#06f 2px,#008 3px,#008 39px,#008 91px,#00f 138px,#05f 172px,#09f 223px,#0df 242px,#1fd 252px,#5fa 272px,#1fd 278px,#0cf 280px,#01f 285px,#00e 286px,#008 289px,#008 290px,#008 315px,#00d 317px,#00f 318px,#0cf 321px,#1fd 322px,#5f9 326px,#5f9 341px,#2fc 344px,#0cf 346px,#00f 350px,#008 353px,#008 354px,#008)"></i><i style="background:linear-gradient(#06f,#06f 2px,#008 3px,#008 11px,#008 88px,#00f 139px,#05f 171px,#08f 224px,#1fd 255px,#4fb 271px,#2fd 276px,#0df 278px,#00f 284px,#008 288px,#008 291px,#008 315px,#00f 318px,#0ee 322px,#2fc 323px,#4fa 325px,#4fa 341px,#2fd 344px,#0df 345px,#00f 350px,#008 353px,#008 354px,#008 374px,#00a 385px,#00a)"></i><i style="background:linear-gradient(#06f,#06f 2px,#008 3px,#008 11px,#008 88px,#00f 139px,#05f 171px,#08f 225px,#1fd 257px,#2fd 274px,#0cf 277px,#00f 283px,#008 287px,#008 315px,#008 316px,#00d 318px,#00f 319px,#0bf 322px,#2fd 324px,#3fb 327px,#2fc 343px,#0cf 345px,#00f 350px,#008 353px,#008 354px,#00c)"></i><i style="background:linear-gradient(#06f,#06f 2px,#008 3px,#008 11px,#008 88px,#00f 139px,#04f 171px,#07f 224px,#0df 251px,#1fd 259px,#2fd 272px,#0cf 276px,#00f 282px,#008 286px,#008 292px,#008 317px,#00f 320px,#0cf 323px,#2fc 325px,#4fb 327px,#4fb 341px,#1fd 344px,#0df 345px,#00f 350px,#008 353px,#008 354px,#009)"></i><i style="background:linear-gradient(#06f,#06f 2px,#008 3px,#008 10px,#008 88px,#00f 140px,#04f 170px,#07f 225px,#1fd 260px,#1fd 269px,#0bf 275px,#00f 281px,#008 285px,#008 309px,#00b 317px,#00f 319px,#06f 321px,#0bf 322px,#2fc 323px,#bf3 326px,#fe0 328px,#f20 338px,#d00 340px,#c00 342px,#f10 345px,#ef1 351px,#8f6 354px,#2fd 361px,#0cf 364px,#00f 374px,#00a 383px,#00a 399px,#00f 450px,#00f)"></i><i style="background:linear-gradient(#06f,#06f 2px,#09f 3px,#05f 17px,#0df 35px,#06f 53px,#06f 71px,#0af 89px,#0df 125px,#06f 214px,#08f 234px,#1fd 264px,#0cf 273px,#00e 281px,#008 284px,#008 285px,#008 314px,#009 319px,#00d 321px,#02f 322px,#0df 325px,#2fd 326px,#6f8 330px,#cf3 342px,#9f6 345px,#2fd 349px,#0df 350px,#06f 354px,#00f 365px,#00a 376px,#00e 391px,#00d 420px,#00f)"></i><i style="background:linear-gradient(#06f,#06f 2px,#008 3px,#008 10px,#008 88px,#00f 140px,#04f 170px,#06f 227px,#1ee 263px,#0cf 272px,#00f 280px,#008 284px,#008 321px,#00f 323px,#08f 329px,#09f 341px,#00e 349px,#008 353px,#008 382px,#00a 393px,#008 407px,#008)"></i><i style="background:linear-gradient(#06f,#06f 35px,#00f 55px,#07f 89px,#02f 107px,#01f 125px,#07f 143px,#04f 169px,#06f 226px,#0ee 263px,#0bf 272px,#00f 279px,#008 283px,#008 321px,#00f 324px,#06f 330px,#06f 342px,#00e 348px,#008 353px,#008 376px,#00d 389px,#008 431px,#008)"></i><i style="background:linear-gradient(#06f,#06f 2px,#f70 3px,#f70 6px,#fa0 77px,#f80 131px,#fe0 150px,#bf3 161px,#1fd 180px,#08f 194px,#05f 206px,#07f 236px,#0ee 264px,#0af 272px,#00f 279px,#008 283px,#008 320px,#008 321px,#00e 323px,#00f 324px,#04f 329px,#05f 341px,#00f 347px,#008 355px,#008 368px,#00f 376px,#09f 385px,#0af 394px,#09f 418px,#03f)"></i><i style="background:linear-gradient(#06f,#06f 2px,#008 3px,#008 88px,#00f 141px,#03f 169px,#06f 226px,#0af 245px,#1fd 257px,#3fc 263px,#1fd 270px,#0cf 274px,#00f 282px,#00f 288px,#06f 305px,#0cf 316px,#2fd 320px,#bf3 325px,#fe0 333px,#fe0 345px,#bf4 354px,#df1 365px,#fd0 367px,#f10 371px,#a00 372px,#800 373px,#800)"></i><i style="background:linear-gradient(#06f,#06f 2px,#7f7 3px,#5fa 23px,#5f9 40px,#9f6 59px,#4fa 77px,#8f7 95px,#3fc 113px,#5f9 137px,#1fd 158px,#07f 183px,#05f 202px,#08f 241px,#1ee 262px,#0af 271px,#00f 279px,#009 283px,#00b 296px,#00f 306px,#05f 311px,#0df 316px,#1fd 317px,#8f6 321px,#fd0 323px,#f40 327px,#d00 332px,#a00 338px,#e00 344px,#f90 353px,#ef1 363px,#2fc 380px,#1ee 386px,#05f)"></i><i style="background:linear-gradient(#06f,#06f 2px,#008 3px,#008 88px,#00f 141px,#03f 170px,#06f 237px,#0df 262px,#09f 270px,#00f 277px,#008 281px,#008 321px,#00e 325px,#009 333px,#008)"></i><i style="background:linear-gradient(#06f,#06f 2px,#008 3px,#008 88px,#00f 141px,#03f 170px,#06f 239px,#0cf 261px,#09f 269px,#00f 276px,#008 281px,#008 321px,#00d 325px,#008 331px,#008)"></i><i style="background:linear-gradient(#06f,#06f 2px,#0cf 3px,#09f 17px,#0af 35px,#07f 70px,#0ee 89px,#07f 124px,#0af 151px,#05f 193px,#05f 219px,#07f 245px,#0cf 261px,#0af 267px,#00f 276px,#008 281px,#008 321px,#00d 325px,#008 331px,#008 378px,#00f 393px,#00f)"></i><i style="background:linear-gradient(#06f,#06f 2px,#5fa 3px,#3fc 35px,#8f6 53px,#2fd 67px,#0df 71px,#0df 90px,#4fa 107px,#5f9 124px,#1fd 154px,#0df 162px,#06f 191px,#04f 209px,#06f 243px,#0cf 261px,#09f 267px,#00f 275px,#008 280px,#008 321px,#00d 323px,#00f 325px,#00c 332px,#00f 336px,#0bf 349px,#0df 355px,#0bf 362px,#00f 374px,#00b 381px,#00f 389px,#06f 397px,#09f)"></i><i style="background:linear-gradient(#06f,#06f 2px,#008 3px,#008 7px,#008 88px,#00f 141px,#03f 170px,#05f 241px,#0cf 261px,#09f 267px,#00f 275px,#008 280px,#008 321px,#00c 323px,#00e 325px,#008 332px,#00d 356px,#008 387px,#00f 401px,#00f)"></i><i style="background:linear-gradient(#06f,#06f 2px,#0ee 3px,#1fd 15px,#6f9 29px,#6f8 47px,#1fd 65px,#2fc 83px,#6f9 101px,#1fd 130px,#0df 137px,#04f 183px,#05f 241px,#0cf 261px,#09f 266px,#00f 274px,#008 279px,#008 283px,#008 321px,#00e 324px,#009 332px,#00f 341px,#1ee 355px,#1fd 364px,#0df 367px,#00f 379px,#009 387px,#008 394px,#008)"></i><i style="background:linear-gradient(#06f,#06f 2px,#af5 3px,#af4 14px,#7f8 32px,#5f9 68px,#8f6 86px,#6f9 104px,#af5 122px,#1fd 150px,#0df 157px,#04f 187px,#05f 242px,#0bf 261px,#09f 266px,#00f 274px,#008 279px,#008 288px,#008 302px,#00f 316px,#04f 321px,#0cf 323px,#1fd 325px,#4fb 332px,#df2 342px,#fd0 347px,#fd0 352px,#ef0 357px,#2fd 369px,#0cf 371px,#00f 381px,#00a 389px,#008 397px,#008)"></i><i style="background:linear-gradient(#06f,#06f 2px,#008 3px,#008 7px,#008 88px,#00f 141px,#03f 170px,#05f 241px,#0bf 260px,#09f 265px,#00f 274px,#008 279px,#008 288px,#008 305px,#00d 321px,#01f 322px,#06f 325px,#03f 332px,#07f 346px,#05f 355px,#00f 366px,#008 388px,#008)"></i><i style="background:linear-gradient(#06f,#06f 2px,#08f 3px,#06f 26px,#09f 44px,#0cf 111px,#0cf 116px,#05f 135px,#03f 170px,#04f 230px,#05f 245px,#0bf 260px,#09f 265px,#00f 274px,#008 280px,#009 291px,#00f 302px,#04f 307px,#0df 313px,#2fc 315px,#9f5 320px,#fd0 322px,#f60 325px,#f20 331px,#d00 333px,#900 338px,#800 342px,#e00 351px,#fe0 363px,#df1 365px,#2fd 377px,#0cf 380px,#00f 395px,#008 420px,#008)"></i><i style="background:linear-gradient(#06f,#06f 2px,#008 3px,#008 7px,#008 88px,#00f 141px,#03f 170px,#04f 241px,#0bf 260px,#09f 265px,#00f 273px,#008 280px,#008 296px,#00f 313px,#05f 320px,#0df 323px,#1fd 325px,#1fd 343px,#0df 346px,#05f 354px,#00f 363px,#008 391px,#008)"></i><i style="background:linear-gradient(#06f,#06f 2px,#fb0 3px,#fd0 16px,#fa0 34px,#fb0 70px,#f70 88px,#f60 106px,#f90 137px,#fe0 155px,#2fd 181px,#0df 185px,#06f 197px,#03f 210px,#04f 242px,#0bf 261px,#09f 265px,#00f 273px,#008 279px,#008 285px,#008 319px,#008 320px,#00f 323px,#00f 344px,#008 352px,#008 367px,#00f 379px,#09f 389px,#0bf 394px,#09f 400px,#00f 410px,#00a 418px,#008 425px,#008)"></i><i style="background:linear-gradient(#06f,#06f 2px,#008 3px,#008 7px,#008 88px,#00f 141px,#03f 170px,#04f 240px,#0af 260px,#08f 265px,#00f 273px,#008 279px,#008 320px,#00e 322px,#01f 323px,#05f 328px,#06f 336px,#06f 342px,#00f 348px,#008 353px,#008 369px,#00f 387px,#00f 401px,#008 422px,#008)"></i><i style="background:linear-gradient(#06f,#06f 2px,#008 3px,#008 7px,#008 88px,#00f 141px,#03f 170px,#04f 240px,#0af 260px,#08f 265px,#00f 273px,#008 279px,#008 317px,#00c 320px,#01f 321px,#07f 323px,#0bf 326px,#0cf 341px,#0af 344px,#00f 350px,#00b 353px,#00a 355px,#00f 363px,#04f 367px,#1fe 375px,#6f9 383px,#2fd 391px,#0df 393px,#00f 403px,#00a 411px,#009 418px,#008)"></i><i style="background:linear-gradient(#06f,#06f 2px,#1fd 3px,#5fa 24px,#0df 42px,#3fb 78px,#4fa 140px,#1fd 154px,#09f 168px,#03f 192px,#04f 241px,#0af 260px,#08f 265px,#00f 272px,#008 279px,#008 313px,#009 315px,#00d 317px,#00f 318px,#0ee 322px,#2fd 323px,#4fa 326px,#6f8 341px,#1fd 346px,#0df 347px,#03f 351px,#00f 354px,#008 393px,#009)"></i><i style="background:linear-gradient(#06f,#06f 2px,#8f7 3px,#af4 13px,#3fc 46px,#7f8 100px,#6f9 135px,#1fd 152px,#0df 159px,#03f 197px,#04f 241px,#0af 260px,#08f 265px,#00f 272px,#008 279px,#008 302px,#00b 312px,#00e 314px,#00f 315px,#0df 319px,#8f6 323px,#ef1 332px,#fd0 334px,#f20 341px,#c00 343px,#800 352px,#800 363px,#c00 365px,#f10 366px,#fd0 370px,#df1 371px,#1fd 376px,#0df 377px,#03f 382px,#00f 385px,#00c 389px,#00f 394px,#0af 402px,#0cf 406px,#0af)"></i><i style="background:linear-gradient(#06f,#06f 2px,#7f8 3px,#7f7 13px,#3fc 30px,#5fa 66px,#1fd 138px,#0df 146px,#03f 191px,#03f 240px,#0af 260px,#08f 265px,#00f 273px,#009 280px,#00f 295px,#0df 310px,#5f9 313px,#fe0 316px,#f20 319px,#c00 320px,#800 322px,#800 350px,#800 351px,#d00 353px,#f20 355px,#ef1 366px,#1fd 376px,#0df 378px,#04f 385px,#00f 391px,#00f 415px,#008)"></i><i style="background:linear-gradient(#06f,#06f 2px,#5fa 3px,#5f9 11px,#1fd 24px,#1ee 34px,#6f8 72px,#2fd 90px,#3fb 108px,#1fd 122px,#0ee 143px,#07f 162px,#03f 191px,#03f 240px,#0af 260px,#08f 265px,#00f 272px,#008 279px,#008 283px,#00f 307px,#03f 311px,#0cf 314px,#2fc 315px,#ef1 319px,#fd0 320px,#f40 331px,#e00 341px,#f20 344px,#fe0 349px,#cf2 350px,#6f9 354px,#2fd 362px,#0cf 366px,#00f 383px,#00d 389px,#00f 393px,#0cf 401px,#2fd 404px,#3fb 407px,#1fe)"></i><i style="background:linear-gradient(#06f,#06f 2px,#af5 3px,#cf2 13px,#5fa 39px,#8f6 58px,#7f8 76px,#9f5 94px,#7f7 130px,#1fd 153px,#0df 158px,#06f 176px,#03f 195px,#03f 240px,#09f 260px,#07f 265px,#00f 272px,#008 279px,#009 297px,#00c 309px,#00e 311px,#00f 312px,#0bf 315px,#1ee 316px,#9f6 319px,#cf3 321px,#fe0 330px,#fc0 341px,#fe0 343px,#cf3 345px,#2fc 349px,#0df 350px,#05f 354px,#00f 368px,#009 388px,#00f 396px,#07f 402px,#0af 406px,#0cf)"></i><i style="background:linear-gradient(#06f,#06f 2px,#1fe 3px,#1fd 5px,#5fa 22px,#1fd 76px,#5f9 112px,#1fd 139px,#06f 165px,#03f 188px,#03f 240px,#09f 260px,#07f 265px,#00f 273px,#008 280px,#00f 301px,#06f 311px,#0bf 313px,#0ee 314px,#3fb 315px,#df2 318px,#fd0 319px,#f60 322px,#f30 334px,#f50 342px,#fd0 346px,#df1 347px,#0ef 352px,#08f 355px,#00f 369px,#008 392px,#008 401px,#00d 415px,#00f)"></i><i style="background:linear-gradient(#06f,#06f 2px,#008 3px,#008 4px,#008 88px,#00f 136px,#03f 169px,#03f 235px,#09f 260px,#07f 265px,#00f 272px,#008 279px,#008 314px,#00d 317px,#00f 318px,#0cf 322px,#0ee 324px,#1ee 341px,#0cf 344px,#00f 350px,#008 354px,#008 393px,#00f 404px,#03f)"></i><i style="background:linear-gradient(#06f,#06f 2px,#008 3px,#008 6px,#008 88px,#00f 136px,#02f 169px,#03f 234px,#09f 260px,#07f 265px,#00f 272px,#008 279px,#008 320px,#00e 322px,#00f 323px,#00d 342px,#008 352px,#008 390px,#00f 399px,#04f 405px,#05f 415px,#07f)"></i><i style="background:linear-gradient(#06f,#06f 2px,#008 3px,#008 6px,#008 88px,#00f 136px,#02f 168px,#03f 233px,#09f 260px,#07f 265px,#00f 272px,#008 279px,#008 320px,#00f 323px,#009 332px,#008 385px,#00f 398px,#06f)"></i><i style="background:linear-gradient(#06f,#06f 2px,#008 3px,#008 88px,#00f 136px,#02f 168px,#02f 232px,#08f 261px,#07f 265px,#00f 272px,#008 279px,#008 320px,#00e 322px,#00f 323px,#00f 325px,#008 332px,#008 393px,#00c 405px,#00d 417px,#00d)"></i><i style="background:linear-gradient(#06f,#06f 2px,#008 3px,#008 9px,#008 88px,#00f 136px,#02f 168px,#02f 231px,#03f 242px,#08f 261px,#07f 265px,#00f 272px,#008 278px,#008 282px,#008 320px,#00e 322px,#00f 323px,#00e 326px,#008 331px,#008 390px,#00f 399px,#05f 407px,#0af)"></i><i style="background:linear-gradient(#06f,#06f 2px,#008 3px,#008 8px,#008 88px,#00f 136px,#02f 168px,#02f 230px,#03f 242px,#08f 261px,#07f 265px,#00f 272px,#008 279px,#008 311px,#009 319px,#00a 320px,#00e 321px,#04f 324px,#00f 329px,#00f 334px,#0cf 350px,#1fd 353px,#fe0 370px,#f80 381px,#f90 393px,#f70 403px,#f80 408px,#fd0 414px,#ef1 416px,#1fd 433px,#0df 436px,#08f 450px,#06f)"></i><i style="background:linear-gradient(#06f,#06f 2px,#0ee 3px,#09f 21px,#0cf 57px,#05f 75px,#0af 93px,#07f 111px,#08f 129px,#05f 147px,#05f 164px,#02f 195px,#03f 238px,#08f 262px,#00f 272px,#008 279px,#008 320px,#00f 322px,#01f 323px,#00f 326px,#008 333px,#00d 365px,#00f 392px,#0df 402px,#1fd 404px,#3fc 408px,#1ee 434px,#0ee)"></i><i style="background:linear-gradient(#06f,#06f 2px,#0bf 3px,#09f 9px,#1fd 32px,#3fb 63px,#0ef 84px,#0cf 116px,#1fd 125px,#4fb 135px,#1fd 144px,#0df 150px,#06f 171px,#02f 196px,#03f 238px,#08f 262px,#00f 272px,#008 279px,#008 311px,#00a 319px,#00b 320px,#00f 321px,#06f 324px,#03f 332px,#0cf 344px,#1fd 348px,#4fb 358px,#1fd 372px,#04f 393px,#0af 407px,#0cf)"></i><i style="background:linear-gradient(#06f,#06f 2px,#008 3px,#008 88px,#00f 137px,#02f 168px,#02f 224px,#03f 241px,#08f 262px,#07f 265px,#00f 272px,#008 279px,#008 300px,#008 319px,#008 320px,#00f 322px,#02f 324px,#00f 328px,#00b 332px,#00f 345px,#05f 356px,#0df 364px,#2fd 366px,#df2 375px,#fd0 378px,#fb0 383px,#ef0 388px,#1fd 397px,#0bf 399px,#00f 407px,#00a 414px,#008 422px,#008)"></i><i style="background:linear-gradient(#06f,#06f 2px,#00f 3px,#00f 17px,#06f 35px,#00f 53px,#04f 72px,#00f 100px,#00d 107px,#00f 116px,#02f 126px,#02f 234px,#08f 262px,#07f 265px,#00f 272px,#008 279px,#008 320px,#00e 322px,#00f 323px,#00e 326px,#008 331px,#008)"></i><i style="background:linear-gradient(#06f,#06f 2px,#008 3px,#008 88px,#00f 137px,#02f 167px,#02f 222px,#03f 241px,#07f 262px,#07f 265px,#00f 272px,#008 279px,#008 320px,#00e 322px,#00f 323px,#00e 326px,#008 331px,#008)"></i><i style="background:linear-gradient(#06f,#06f 2px,#008 3px,#008 88px,#00f 140px,#02f 167px,#02f 235px,#07f 262px,#07f 265px,#00f 272px,#008 279px,#008 320px,#00e 322px,#00f 323px,#00e 326px,#008 331px,#008)"></i><i style="background:linear-gradient(#06f,#06f 2px,#008 3px,#008 88px,#00f 140px,#02f 167px,#02f 235px,#07f 263px,#00f 272px,#008 279px,#008 320px,#00e 322px,#00f 323px,#00e 326px,#008 331px,#008)"></i><i style="background:linear-gradient(#06f,#06f 2px,#008 3px,#008 88px,#00f 137px,#02f 167px,#02f 221px,#03f 241px,#07f 263px,#00f 272px,#008 279px,#008 320px,#00e 322px,#00f 323px,#00e 326px,#008 331px,#008)"></i><i style="background:linear-gradient(#06f,#06f 2px,#fc0 3px,#f90 39px,#f90 108px,#fe0 125px,#1fd 152px,#0df 156px,#05f 170px,#02f 182px,#02f 236px,#07f 263px,#00f 272px,#008 279px,#008 320px,#00e 322px,#00f 323px,#00e 326px,#008 331px,#008)"></i><i style="background:linear-gradient(#06f,#06f 2px,#0cf 3px,#0ee 29px,#0af 64px,#1fd 84px,#0af 101px,#0df 119px,#0af 151px,#05f 172px,#02f 194px,#02f 237px,#07f 263px,#00f 272px,#008 279px,#008 320px,#00e 322px,#00f 323px,#00e 326px,#008 331px,#008)"></i><i style="background:linear-gradient(#06f,#08f 24px,#08f 42px,#0bf 60px,#06f 96px,#0cf 114px,#02f 168px,#02f 235px,#07f 263px,#00f 272px,#008 279px,#008 320px,#00e 322px,#00f 323px,#00e 326px,#008 331px,#008)"></i><i style="background:linear-gradient(#06f,#06f 2px,#008 3px,#008 88px,#00f 137px,#02f 167px,#02f 235px,#07f 263px,#00f 272px,#008 279px,#008 296px,#009 300px,#008 304px,#008 320px,#00e 322px,#00f 323px,#00e 326px,#008 331px,#008)"></i><i style="background:linear-gradient(#06f,#06f 2px,#008 3px,#008 88px,#00f 137px,#02f 167px,#02f 235px,#07f 263px,#00f 272px,#008 279px,#008 295px,#00b 300px,#008 305px,#008 320px,#00e 322px,#00f 323px,#00e 326px,#008 331px,#008)"></i><i style="background:linear-gradient(#06f,#06f 2px,#008 3px,#008 88px,#00f 137px,#02f 167px,#02f 235px,#05f 256px,#07f 263px,#00f 272px,#008 279px,#008 294px,#00d 300px,#008 306px,#008 320px,#00e 322px,#00f 323px,#00e 326px,#008 331px,#009)"></i><i style="background:linear-gradient(#06f,#06f 2px,#008 3px,#008 88px,#00f 137px,#02f 168px,#03f 236px,#04f 256px,#07f 263px,#00f 272px,#008 279px,#008 294px,#00e 300px,#008 306px,#008 320px,#00e 322px,#00f 323px,#00e 326px,#008 331px,#008)"></i><i style="background:linear-gradient(#06f,#06f 2px,#2fc 3px,#1fd 16px,#09f 30px,#0df 48px,#0cf 116px,#02f 181px,#03f 236px,#04f 255px,#07f 263px,#00f 272px,#008 279px,#008 293px,#00f 299px,#00f 301px,#008 307px,#008 320px,#00f 322px,#01f 323px,#00f 327px,#00a 332px,#00f 348px,#00f 362px,#008 386px,#008)"></i><i style="background:linear-gradient(#06f,#03f 13px,#08f 31px,#05f 49px,#07f 85px,#01f 104px,#07f 157px,#02f 186px,#02f 233px,#04f 255px,#07f 263px,#00f 272px,#008 279px,#008 292px,#00f 299px,#00f 302px,#008 307px,#008 313px,#00b 320px,#00f 321px,#07f 324px,#05f 331px,#0af 341px,#0bf 350px,#09f 360px,#00f 375px,#008 392px,#008)"></i><i style="background:linear-gradient(#06f,#06f 2px,#008 3px,#008 88px,#00f 140px,#02f 168px,#03f 237px,#04f 255px,#07f 263px,#00f 272px,#008 279px,#008 290px,#00f 298px,#00f 302px,#009 306px,#008 309px,#008 320px,#00f 322px,#01f 324px,#00f 327px,#009 332px,#008 347px,#008)"></i><i style="background:linear-gradient(#06f,#06f 2px,#008 3px,#008 88px,#00f 136px,#02f 169px,#03f 238px,#04f 255px,#07f 263px,#00f 272px,#008 279px,#008 288px,#00f 297px,#02f 300px,#00f 303px,#00a 306px,#008 310px,#008 320px,#00e 322px,#00f 323px,#00e 326px,#008 331px,#008)"></i><i style="background:linear-gradient(#06f,#06f 2px,#008 3px,#008 88px,#00f 136px,#03f 169px,#03f 239px,#04f 255px,#07f 263px,#00f 272px,#008 279px,#008 286px,#00f 295px,#04f 299px,#00f 304px,#00b 308px,#009 313px,#00b 320px,#00f 321px,#05f 324px,#00f 332px,#04f 350px,#00f 369px,#008 393px,#008)"></i><i style="background:linear-gradient(#06f,#06f 2px,#008 3px,#008 88px,#00f 136px,#03f 169px,#04f 253px,#07f 263px,#00f 272px,#008 279px,#008 286px,#00f 293px,#05f 299px,#00f 304px,#00a 309px,#008 314px,#008 320px,#00f 322px,#02f 324px,#00f 327px,#009 333px,#00a 352px,#008 383px,#008)"></i><i style="background:linear-gradient(#06f,#06f 2px,#008 3px,#008 88px,#00f 136px,#03f 169px,#04f 253px,#07f 263px,#00f 272px,#008 278px,#008 285px,#00f 292px,#06f 299px,#00f 305px,#009 310px,#008 314px,#008 320px,#00f 322px,#00f 327px,#009 333px,#00f 357px,#02f 375px,#00f 399px,#009 428px,#008)"></i><i style="background:linear-gradient(#06f,#06f 2px,#008 3px,#008 88px,#00f 136px,#03f 170px,#04f 253px,#06f 263px,#00f 272px,#008 278px,#008 285px,#00f 292px,#05f 299px,#00f 305px,#008 313px,#008 320px,#00e 322px,#00f 323px,#00f 326px,#008 332px,#00a 396px,#008)"></i><i style="background:linear-gradient(#06f,#06f 2px,#008 3px,#008 88px,#00f 136px,#03f 170px,#04f 253px,#06f 263px,#00f 272px,#008 279px,#008 286px,#00f 293px,#04f 299px,#00f 305px,#008 313px,#008 320px,#00e 322px,#00f 323px,#00e 326px,#008 331px,#008)"></i><i style="background:linear-gradient(#06f,#07f 4px,#00f 21px,#02f 39px,#08f 57px,#03f 75px,#06f 93px,#04f 111px,#06f 129px,#03f 189px,#04f 253px,#06f 263px,#00f 272px,#008 279px,#008 286px,#00f 294px,#03f 300px,#00f 305px,#008 313px,#008 320px,#00e 322px,#00f 323px,#00e 326px,#008 331px,#008)"></i><i style="background:linear-gradient(#06f,#06f 2px,#008 3px,#008 88px,#00f 140px,#03f 171px,#04f 254px,#06f 263px,#00f 273px,#008 281px,#008 287px,#00f 297px,#00f 305px,#008 313px,#008 320px,#00e 322px,#00f 325px,#008 331px,#008)"></i><i style="background:linear-gradient(#06f,#06f 2px,#008 3px,#008 88px,#00f 136px,#03f 172px,#04f 253px,#06f 263px,#00f 274px,#008 282px,#008 288px,#00f 301px,#00f 306px,#008 314px,#008 320px,#00e 322px,#00f 323px,#00e 326px,#008 331px,#008)"></i><i style="background:linear-gradient(#06f,#06f 2px,#008 3px,#008 88px,#00f 136px,#03f 172px,#04f 254px,#06f 263px,#00f 272px,#00f 276px,#008 282px,#008 291px,#00f 302px,#00f 307px,#008 314px,#008 320px,#00e 322px,#00f 323px,#00e 326px,#008 331px,#008)"></i><i style="background:linear-gradient(#06f,#06f 2px,#008 3px,#008 88px,#00f 140px,#04f 171px,#04f 253px,#06f 263px,#01f 272px,#00f 278px,#008 282px,#008 293px,#01f 302px,#02f 305px,#00f 308px,#008 315px,#008 320px,#00e 322px,#00f 323px,#00e 326px,#008 331px,#008)"></i><i style="background:linear-gradient(#06f,#06f 2px,#008 3px,#008 88px,#00f 136px,#04f 172px,#04f 253px,#06f 263px,#01f 272px,#02f 276px,#00f 278px,#008 282px,#008 283px,#008 294px,#00f 301px,#04f 305px,#00f 309px,#008 315px,#008 320px,#00e 322px,#00f 323px,#00e 326px,#008 331px,#008)"></i><i style="background:linear-gradient(#06f,#06f 2px,#008 3px,#008 88px,#00f 140px,#04f 173px,#04f 252px,#06f 263px,#01f 272px,#02f 276px,#00f 278px,#008 282px,#008 283px,#008 294px,#00f 300px,#06f 303px,#07f 305px,#06f 307px,#00f 310px,#009 314px,#008 316px,#008 320px,#00e 322px,#00f 325px,#008 331px,#008)"></i><i style="background:linear-gradient(#06f,#06f 2px,#008 3px,#008 88px,#00f 141px,#04f 174px,#04f 252px,#06f 263px,#00f 278px,#008 282px,#008 291px,#00a 295px,#00f 298px,#0bf 303px,#0df 305px,#0cf 307px,#02f 312px,#00f 314px,#00f 320px,#07f 322px,#0af 324px,#04f 332px,#07f 353px,#00f 377px,#008 412px,#008)"></i><i style="background:linear-gradient(#06f,#06f 2px,#008 3px,#008 8px,#008 88px,#00f 135px,#05f 175px,#04f 252px,#06f 263px,#00f 277px,#009 282px,#008 284px,#00a 291px,#00f 296px,#0bf 300px,#1ee 301px,#8f6 304px,#af5 306px,#4fb 312px,#4fa 316px,#9f5 320px,#ef1 321px,#fb0 322px,#f50 325px,#f10 333px,#e00 334px,#800 340px,#800 351px,#d00 356px,#f20 358px,#ef1 368px,#1fd 379px,#0df 381px,#00f 397px,#009 420px,#008)"></i><i style="background:linear-gradient(#06f,#06f 2px,#008 3px,#008 8px,#008 88px,#00f 135px,#05f 176px,#04f 251px,#06f 263px,#00f 274px,#008 282px,#008 293px,#009 295px,#00f 298px,#0cf 302px,#1fd 303px,#3fb 305px,#2fd 307px,#0df 308px,#00f 313px,#00b 318px,#00c 320px,#01f 321px,#04f 322px,#06f 324px,#00f 331px,#00f 350px,#008 384px,#008)"></i><i style="background:linear-gradient(#06f,#06f 2px,#03f 3px,#00f 13px,#00d 23px,#00f 29px,#06f 41px,#04f 59px,#07f 131px,#04f 167px,#06f 197px,#04f 252px,#06f 264px,#00f 273px,#008 281px,#008 294px,#00f 298px,#0ee 302px,#5fa 305px,#3fc 307px,#0af 309px,#00f 312px,#009 315px,#008 317px,#008 320px,#00f 322px,#00f 323px,#00e 326px,#008 331px,#008)"></i><i style="background:linear-gradient(#06f,#06f 2px,#7f8 3px,#8f6 9px,#2fd 45px,#8f7 116px,#1fd 154px,#0af 170px,#07f 192px,#04f 248px,#06f 265px,#00f 274px,#00a 277px,#009 282px,#00b 290px,#00f 295px,#04f 297px,#0bf 299px,#1fd 300px,#bf3 303px,#ef0 305px,#df2 307px,#2fd 311px,#0df 312px,#07f 315px,#06f 319px,#07f 320px,#1ee 322px,#2fc 324px,#1fd 326px,#09f 332px,#07f 346px,#00f 365px,#008 390px,#008)"></i><i style="background:linear-gradient(#06f,#06f 2px,#008 3px,#008 88px,#00f 140px,#05f 172px,#07f 197px,#04f 247px,#06f 265px,#00f 274px,#009 277px,#009 281px,#00b 290px,#00f 295px,#05f 297px,#0cf 299px,#3fc 300px,#af4 302px,#fd0 304px,#fc0 305px,#fe0 307px,#3fc 311px,#0bf 313px,#07f 316px,#07f 319px,#08f 320px,#1fd 322px,#3fc 324px,#2fd 326px,#0af 332px,#08f 345px,#00f 366px,#00b 381px,#009 402px,#008)"></i><i style="background:linear-gradient(#06f,#06f 2px,#008 3px,#008 88px,#00f 140px,#06f 173px,#07f 197px,#04f 247px,#06f 264px,#04f 269px,#00f 273px,#008 277px,#008 293px,#009 295px,#00e 297px,#02f 298px,#1fd 301px,#7f7 303px,#af5 305px,#4fa 308px,#1ee 309px,#0af 310px,#02f 312px,#00e 313px,#009 315px,#008 317px,#008 320px,#00f 322px,#00f 323px,#00e 326px,#008 332px,#008)"></i><i style="background:linear-gradient(#06f,#06f 2px,#4fb 3px,#0ee 13px,#8f6 32px,#5fa 50px,#5f9 103px,#1fd 120px,#0df 132px,#06f 167px,#08f 202px,#04f 249px,#06f 265px,#04f 269px,#00f 273px,#008 277px,#008 293px,#009 295px,#00e 297px,#02f 298px,#0bf 300px,#2fc 301px,#8f6 303px,#af4 305px,#5fa 308px,#1fe 309px,#0af 310px,#02f 312px,#00e 313px,#009 315px,#008 317px,#008 320px,#00f 322px,#00f 323px,#00f 326px,#009 332px,#008 349px,#008)"></i><i style="background:linear-gradient(#06f,#06f 2px,#09f 3px,#09f 49px,#0df 68px,#1fe 85px,#07f 104px,#0af 122px,#05f 157px,#08f 198px,#05f 246px,#06f 264px,#05f 269px,#00f 273px,#008 277px,#008 293px,#009 295px,#00e 297px,#02f 298px,#0bf 300px,#2fc 301px,#9f6 303px,#af5 305px,#4fa 308px,#1fe 309px,#0af 310px,#02f 312px,#00e 313px,#009 315px,#008 317px,#008 320px,#00f 322px,#00f 323px,#00d 342px,#008 351px,#008 384px,#00e 389px,#0bf 397px,#0df 401px,#0bf)"></i><i style="background:linear-gradient(#06f,#06f 2px,#1fe 7px,#3fb 11px,#2fd 14px,#0df 16px,#00f 24px,#00a 29px,#008 35px,#008 80px,#00f 140px,#07f 176px,#09f 200px,#05f 246px,#06f 265px,#04f 270px,#00f 273px,#008 277px,#008 293px,#009 295px,#00e 297px,#02f 298px,#0bf 300px,#2fc 301px,#8f6 303px,#9f6 304px,#9f6 306px,#4fb 308px,#0ee 309px,#09f 310px,#01f 312px,#00e 313px,#009 315px,#008 317px,#008 320px,#00f 322px,#02f 325px,#00f 328px,#008 335px,#008 383px,#00f 388px,#0cf 395px,#2fd 398px,#0cf)"></i><i style="background:linear-gradient(#06f,#06f 2px,#1fe 7px,#3fb 11px,#2fd 14px,#0df 16px,#00f 24px,#00a 29px,#008 35px,#008 80px,#00f 140px,#07f 177px,#09f 201px,#05f 246px,#07f 266px,#05f 270px,#01f 273px,#00f 274px,#008 277px,#008 293px,#009 295px,#00e 297px,#02f 298px,#0bf 300px,#2fd 301px,#7f7 303px,#8f6 304px,#7f7 306px,#3fc 308px,#0df 309px,#01f 312px,#00e 313px,#009 315px,#008 317px,#008 320px,#00f 322px,#02f 324px,#00e 328px,#008 334px,#008 364px,#008 376px,#00f 381px,#0bf 386px,#2fc 388px,#8f7 392px,#af5 396px,#7f8)"></i><i style="background:linear-gradient(#06f,#06f 2px,#7f8 3px,#bf4 13px,#7f7 26px,#7f7 46px,#2fd 64px,#4fa 82px,#5f9 136px,#1fd 160px,#0af 182px,#0af 210px,#05f 243px,#07f 266px,#05f 270px,#00f 274px,#008 277px,#008 293px,#009 295px,#00d 297px,#02f 298px,#1fe 301px,#6f8 303px,#7f8 304px,#5f9 306px,#1fd 308px,#0bf 309px,#00f 312px,#009 315px,#008 318px,#008 319px,#01f 322px,#03f 324px,#00f 329px,#00b 334px,#00f 341px,#0ee 354px,#ef1 366px,#fa0 370px,#f10 374px,#c00 375px,#800 376px,#800 377px,#800 409px,#c00 413px,#f10 415px,#fa0 424px,#ef0 434px,#af5)"></i><i style="background:linear-gradient(#06f,#06f 2px,#6f9 3px,#bf3 12px,#af5 18px,#2fc 30px,#0df 47px,#0cf 55px,#0ee 91px,#08f 109px,#1fd 125px,#3fb 145px,#1fd 153px,#0df 160px,#0af 178px,#0af 210px,#05f 248px,#07f 266px,#06f 270px,#00f 274px,#008 277px,#008 293px,#009 295px,#00d 297px,#01f 298px,#09f 300px,#0df 301px,#3fc 302px,#5fa 304px,#2fd 307px,#0df 308px,#00f 312px,#009 315px,#008 317px,#009 320px,#00f 322px,#02f 324px,#00f 328px,#008 334px,#008 353px,#00a 377px,#00f 381px,#00f 382px,#0df 388px,#1fd 389px,#7f8 393px,#8f6 396px,#7f7)"></i><i style="background:linear-gradient(#06f,#06f 2px,#3fb 3px,#7f7 9px,#8f7 13px,#1fd 26px,#0bf 40px,#07f 112px,#0cf 148px,#08f 172px,#0bf 209px,#05f 247px,#07f 267px,#05f 271px,#00f 274px,#008 277px,#008 294px,#00a 296px,#00d 297px,#01f 298px,#1fd 302px,#3fc 304px,#1fd 305px,#0df 307px,#01f 311px,#00e 312px,#008 316px,#008 319px,#00f 322px,#02f 325px,#00f 329px,#00b 334px,#00b 343px,#008 350px,#008 396px,#00f 410px,#02f)"></i><i style="background:linear-gradient(#06f,#06f 2px,#1fe 7px,#3fb 11px,#2fd 14px,#0df 16px,#00f 24px,#00a 29px,#008 35px,#008 80px,#00f 140px,#0bf 208px,#06f 247px,#08f 267px,#06f 271px,#01f 274px,#00e 275px,#008 277px,#008 278px,#008 294px,#00a 296px,#00d 297px,#00f 298px,#0df 302px,#1ee 304px,#0af 307px,#00f 311px,#008 316px,#008 319px,#00f 322px,#03f 325px,#00f 329px,#00b 335px,#00b 343px,#008 350px,#008 381px,#00f 385px,#0df 390px,#2fd 391px,#af5 395px,#ef1 399px,#cf2)"></i><i style="background:linear-gradient(#06f,#06f 2px,#1fe 7px,#3fb 11px,#2fd 14px,#0df 16px,#00f 24px,#00a 29px,#008 35px,#008 80px,#00f 141px,#0cf 210px,#06f 248px,#08f 268px,#07f 271px,#00f 275px,#009 277px,#008 278px,#008 295px,#00d 297px,#00f 298px,#0cf 303px,#0cf 304px,#00e 311px,#009 314px,#008 316px,#008 319px,#00f 322px,#03f 325px,#00f 329px,#008 336px,#008 386px,#009 388px,#00f 391px,#0df 397px,#1fd 398px,#7f8 402px,#8f7 405px,#7f7)"></i><i style="background:linear-gradient(#06f,#06f 2px,#1fe 7px,#3fb 11px,#2fd 14px,#0df 16px,#00f 24px,#00a 29px,#008 35px,#008 79px,#00f 141px,#0cf 212px,#06f 248px,#09f 268px,#06f 272px,#00f 275px,#008 278px,#008 295px,#00f 298px,#0af 303px,#00f 310px,#008 315px,#008 319px,#00f 322px,#03f 325px,#00f 328px,#00f 329px,#008 333px,#008 345px,#00f 357px,#0df 379px,#2fd 383px,#df1 391px,#fd0 393px,#f90 398px,#ef1 412px,#bf3 427px,#bf3)"></i><i style="background:linear-gradient(#06f,#06f 2px,#008 3px,#008 7px,#008 88px,#00f 141px,#0df 213px,#07f 249px,#0af 268px,#07f 272px,#00f 275px,#008 278px,#008 295px,#00f 298px,#08f 303px,#00f 308px,#009 313px,#008 316px,#008 319px,#00f 322px,#03f 325px,#00f 329px,#008 333px,#008 345px,#00f 355px,#1fe 373px,#5fa 383px,#fe0 394px,#fc0 398px,#ef0 402px,#7f7 414px,#5fa 425px,#5f9)"></i><i style="background:linear-gradient(#06f,#06f 2px,#3fc 3px,#4fb 51px,#0df 70px,#1fd 82px,#5fa 120px,#1fd 137px,#0df 145px,#07f 175px,#0df 213px,#07f 250px,#0af 268px,#08f 272px,#00e 276px,#008 278px,#008 294px,#008 295px,#00f 298px,#01f 299px,#06f 303px,#00f 306px,#008 314px,#008 319px,#00f 322px,#03f 325px,#00e 329px,#008 334px,#008 381px,#00f 386px,#0df 393px,#2fd 395px,#4fb 399px,#3fc)"></i><i style="background:linear-gradient(#06f,#06f 2px,#ef1 3px,#fe0 4px,#fa0 11px,#ef0 19px,#af5 25px,#8f6 32px,#bf4 62px,#6f9 80px,#6f8 133px,#1fd 143px,#0cf 147px,#0af 152px,#08f 179px,#0ee 215px,#08f 250px,#0bf 268px,#08f 272px,#00f 276px,#008 278px,#008 279px,#008 294px,#00f 298px,#05f 303px,#00e 306px,#008 313px,#008 318px,#008 319px,#00f 322px,#03f 324px,#00f 329px,#009 335px,#008 351px,#009 358px,#00f 373px,#03f 378px,#0cf 384px,#2fd 386px,#7f8 390px,#9f6 394px,#3fb 415px,#2fc)"></i><i style="background:linear-gradient(#06f,#06f 2px,#fc0 3px,#f70 11px,#f90 15px,#ef0 21px,#af4 29px,#bf4 42px,#8f7 60px,#af4 78px,#9f5 96px,#ef1 132px,#2fd 161px,#0df 166px,#09f 187px,#0ee 217px,#09f 251px,#0cf 268px,#09f 272px,#00f 276px,#009 278px,#008 279px,#008 294px,#00f 298px,#04f 302px,#00f 305px,#00d 306px,#008 313px,#008 319px,#00f 322px,#02f 324px,#00f 328px,#00c 333px,#00b 343px,#008 352px,#00e 381px,#008 403px,#008)"></i><i style="background:linear-gradient(#06f,#06f 2px,#2fc 3px,#6f8 12px,#1fd 20px,#09f 28px,#1fd 45px,#0af 82px,#1fd 118px,#0df 126px,#06f 152px,#05f 173px,#1ee 222px,#0af 251px,#0cf 269px,#0af 272px,#01f 276px,#00d 277px,#008 279px,#008 294px,#00f 298px,#03f 302px,#00f 305px,#00a 307px,#008 311px,#008 319px,#00e 321px,#02f 324px,#00f 328px,#00c 333px,#00c 343px,#008 351px,#008 384px,#00f 389px,#0cf 395px,#1fd 397px,#5f9 401px,#8f7 420px,#af4)"></i><i style="background:linear-gradient(#06f,#06f 2px,#f70 3px,#f20 11px,#fc0 26px,#ef0 43px,#df2 52px,#fe0 109px,#8f6 124px,#1fd 147px,#0df 151px,#08f 160px,#05f 177px,#1ee 224px,#0af 251px,#0df 269px,#0af 273px,#00e 277px,#008 279px,#008 294px,#00f 298px,#03f 302px,#00f 305px,#009 307px,#008 311px,#008 319px,#00f 322px,#02f 324px,#00f 331px,#00e 343px,#008 352px,#008 379px,#00e 384px,#00f 385px,#0cf 391px,#2fd 394px,#3fb 397px,#4fa)"></i><i style="background:linear-gradient(#06f,#06f 2px,#0bf 3px,#2fc 5px,#7f8 8px,#8f6 11px,#7f8 14px,#2fc 17px,#0bf 19px,#00f 25px,#00a 29px,#008 35px,#008 80px,#00f 141px,#06f 184px,#1ee 220px,#0bf 252px,#1ee 268px,#0cf 272px,#00f 277px,#008 279px,#008 280px,#008 293px,#00f 298px,#02f 302px,#01f 304px,#00e 305px,#008 307px,#008 310px,#008 319px,#01f 322px,#03f 325px,#03f 341px,#00f 346px,#008 353px,#008 385px,#00d 399px,#009 435px,#009)"></i><i style="background:linear-gradient(#06f,#06f 2px,#7f8 3px,#bf3 11px,#1fd 39px,#0df 45px,#0cf 48px,#0df 53px,#4fa 66px,#1ee 84px,#1ee 102px,#0af 120px,#1fd 131px,#3fb 138px,#1fd 142px,#08f 156px,#07f 185px,#1fe 223px,#0cf 252px,#1fd 270px,#0cf 273px,#00f 277px,#00d 278px,#008 280px,#008 293px,#00e 297px,#02f 302px,#00f 304px,#008 307px,#008 319px,#01f 322px,#03f 324px,#05f 329px,#05f 341px,#00f 347px,#008 353px,#008 389px,#00f 397px,#07f 406px,#06f)"></i><i style="background:linear-gradient(#06f,#06f 2px,#6f8 3px,#bf4 12px,#2fd 29px,#0df 35px,#0af 44px,#09f 62px,#1fe 80px,#0bf 98px,#1fe 116px,#06f 184px,#1fe 225px,#0df 251px,#2fd 271px,#0bf 274px,#00e 278px,#008 280px,#008 281px,#008 292px,#00f 297px,#02f 302px,#00f 304px,#008 307px,#008 319px,#00e 321px,#01f 322px,#04f 325px,#06f 336px,#05f 342px,#00f 347px,#008 353px,#008 388px,#00a 399px,#008 419px,#008)"></i><i style="background:linear-gradient(#06f,#06f 2px,#0bf 3px,#2fc 5px,#7f8 8px,#8f6 11px,#7f8 14px,#2fc 17px,#0bf 19px,#00f 25px,#00a 29px,#008 35px,#008 80px,#00f 141px,#06f 189px,#1fd 227px,#0ee 253px,#3fb 268px,#2fd 272px,#0cf 274px,#00f 278px,#008 281px,#008 292px,#00f 297px,#02f 302px,#00f 304px,#008 307px,#008 319px,#00e 321px,#04f 325px,#08f 335px,#08f 342px,#00f 348px,#008 353px,#008 379px,#00f 384px,#1fd 392px,#4fa 399px,#1fe)"></i><i style="background:linear-gradient(#06f,#06f 2px,#6f8 3px,#af5 10px,#8f6 14px,#1fd 21px,#0df 23px,#09f 34px,#0df 61px,#1fd 67px,#5fa 77px,#2fd 82px,#0df 86px,#06f 96px,#0df 132px,#05f 181px,#07f 195px,#1fd 229px,#1fd 253px,#4fa 268px,#2fd 273px,#0bf 275px,#01f 278px,#00e 279px,#008 282px,#008 291px,#00f 297px,#02f 301px,#00f 304px,#008 307px,#008 319px,#00e 321px,#0bf 331px,#0cf 335px,#0bf 343px,#00f 349px,#008 353px,#008 379px,#00f 384px,#0cf 389px,#2fc 391px,#9f6 397px,#9f6)"></i><i style="background:linear-gradient(#06f,#06f 2px,#008 3px,#008 7px,#008 88px,#00f 141px,#06f 192px,#1fd 231px,#2fd 252px,#5fa 268px,#3fc 273px,#0cf 275px,#00f 279px,#00d 280px,#008 283px,#008 288px,#009 291px,#00f 296px,#03f 301px,#00f 304px,#008 307px,#008 319px,#00e 321px,#0cf 331px,#0df 335px,#0cf 343px,#00f 349px,#008 353px,#008 371px,#00d 374px,#00f 375px,#0bf 379px,#3fb 381px,#bf3 385px,#ee0 388px,#f90 434px,#f80)"></i><i style="background:linear-gradient(#06f,#06f 2px,#008 3px,#008 7px,#008 88px,#00f 141px,#06f 193px,#1fd 232px,#2fc 252px,#6f9 268px,#2fc 274px,#0bf 276px,#00f 280px,#00b 283px,#009 288px,#00f 295px,#03f 301px,#01f 304px,#00e 305px,#008 307px,#008 319px,#00e 321px,#0bf 332px,#0cf 341px,#09f 344px,#00f 349px,#008 353px,#008 359px,#008 378px,#00f 382px,#0bf 387px,#2fd 389px,#8f7 393px,#9f5 396px,#9f5)"></i><i style="background:linear-gradient(#06f,#06f 2px,#008 3px,#008 7px,#008 88px,#00f 141px,#05f 194px,#0df 223px,#1fd 234px,#3fc 252px,#7f8 269px,#6f9 272px,#2fd 275px,#0df 276px,#02f 280px,#00f 282px,#00b 289px,#00f 295px,#03f 301px,#01f 304px,#00e 305px,#008 307px,#008 319px,#00e 321px,#01f 322px,#0af 331px,#0af 341px,#08f 344px,#00f 349px,#009 352px,#008 354px,#008 387px,#009 397px,#008 412px,#008)"></i><i style="background:linear-gradient(#06f,#06f 2px,#008 3px,#008 7px,#008 88px,#00f 141px,#05f 195px,#0df 225px,#1fd 236px,#3fc 252px,#7f7 269px,#6f9 273px,#1fd 276px,#0df 277px,#05f 280px,#00f 283px,#00d 289px,#00f 294px,#03f 301px,#01f 304px,#00e 305px,#008 307px,#008 318px,#00c 320px,#00f 321px,#06f 323px,#0cf 327px,#2fd 329px,#fe0 341px,#fd0 343px,#ef1 346px,#0ee 354px,#00f 364px,#008 376px,#008 379px,#00f 384px,#0df 391px,#1fd 393px,#3fc 396px,#2fd)"></i><i style="background:linear-gradient(#06f,#06f 2px,#008 3px,#008 7px,#008 88px,#00f 141px,#05f 196px,#0df 226px,#1fd 237px,#8f6 269px,#7f8 273px,#1fe 277px,#04f 282px,#00f 288px,#00f 293px,#04f 300px,#01f 304px,#00e 305px,#008 307px,#008 319px,#00f 321px,#07f 324px,#0df 329px,#1fd 341px,#0df 344px,#00e 351px,#009 355px,#008 383px,#00f 390px,#09f 396px,#0cf 401px,#09f)"></i><i style="background:linear-gradient(#06f,#06f 2px,#008 3px,#008 7px,#008 88px,#00f 141px,#05f 198px,#0df 228px,#1fd 238px,#9f6 270px,#7f7 274px,#3fc 277px,#0df 279px,#06f 283px,#01f 289px,#04f 301px,#01f 304px,#00e 305px,#008 307px,#008 318px,#00f 320px,#0af 323px,#1fe 326px,#2fd 342px,#0df 344px,#00e 350px,#008 353px,#008 379px,#00f 385px,#08f 392px,#0bf 396px,#1fd)"></i><i style="background:linear-gradient(#06f,#06f 2px,#02f 3px,#07f 8px,#08f 12px,#00f 21px,#00a 27px,#008 33px,#008 79px,#00f 141px,#05f 199px,#0df 229px,#1fd 238px,#9f5 270px,#8f6 274px,#1fd 279px,#08f 284px,#03f 290px,#05f 301px,#00f 305px,#008 307px,#008 308px,#008 315px,#00e 318px,#02f 319px,#0bf 321px,#2fc 323px,#5f9 326px,#7f8 341px,#3fc 345px,#0cf 347px,#01f 351px,#00f 352px,#00b 355px,#009 385px,#00f 396px,#02f 403px,#00f 422px,#00e)"></i><i style="background:linear-gradient(#06f,#06f 2px,#0cf 3px,#1fd 10px,#0af 25px,#0af 40px,#05f 57px,#0af 76px,#03f 147px,#05f 196px,#0df 230px,#1fd 239px,#af5 271px,#9f6 275px,#2fc 280px,#0cf 283px,#05f 290px,#06f 302px,#00f 306px,#00a 308px,#00c 313px,#00f 315px,#05f 317px,#0df 319px,#7f7 321px,#cf3 323px,#fe0 328px,#f70 342px,#f90 344px,#ef0 347px,#6f8 351px,#2fc 354px,#0df 368px,#08f 378px,#0df 384px,#2fd 386px,#8f7 391px,#af4 395px,#4fa 425px,#2fd)"></i><i style="background:linear-gradient(#06f,#06f 2px,#0ee 3px,#1fd 6px,#0bf 53px,#0df 71px,#0cf 123px,#05f 152px,#03f 172px,#05f 203px,#0df 231px,#1fd 239px,#af4 272px,#9f6 276px,#2fc 282px,#0df 284px,#05f 291px,#04f 302px,#00f 305px,#008 307px,#008 314px,#00d 316px,#01f 317px,#0cf 320px,#1fd 321px,#4fa 325px,#5fa 341px,#2fd 344px,#0bf 346px,#00f 350px,#008 353px,#008 356px,#008 382px,#00f 392px,#03f 418px,#03f)"></i><i style="background:linear-gradient(#06f,#06f 2px,#8f6 3px,#9f5 8px,#5f9 22px,#6f8 34px,#3fc 52px,#5f9 70px,#1fe 88px,#1ee 106px,#3fb 124px,#1fd 134px,#06f 163px,#04f 183px,#06f 207px,#0ee 234px,#bf3 273px,#9f6 278px,#2fd 284px,#0cf 286px,#06f 291px,#05f 302px,#00f 305px,#008 307px,#008 313px,#008 314px,#00d 316px,#01f 317px,#0cf 320px,#1fd 321px,#4fa 325px,#4fa 341px,#2fd 344px,#0bf 346px,#00f 350px,#008 353px,#008 356px,#008 382px,#00f 397px,#02f)"></i><i style="background:linear-gradient(#06f,#06f 2px,#02f 3px,#07f 8px,#08f 12px,#00f 21px,#00a 27px,#008 33px,#008 79px,#00f 141px,#05f 203px,#0df 232px,#1fd 240px,#cf3 274px,#af5 279px,#2fc 285px,#0df 287px,#07f 291px,#05f 302px,#00f 305px,#008 307px,#008 314px,#00e 317px,#01f 318px,#0df 321px,#1fd 322px,#3fb 325px,#2fc 343px,#0cf 345px,#00f 350px,#008 353px,#008 354px,#008 383px,#00a 395px,#00a)"></i><i style="background:linear-gradient(#06f,#06f 2px,#008 3px,#008 7px,#008 88px,#00f 141px,#05f 204px,#0df 233px,#1fd 241px,#df2 276px,#bf4 280px,#2fc 286px,#0cf 288px,#08f 292px,#05f 302px,#00f 305px,#008 307px,#008 316px,#00d 318px,#01f 319px,#0af 321px,#1fd 323px,#3fb 326px,#2fc 343px,#0cf 345px,#00f 350px,#008 353px,#008 354px,#008)"></i><i style="background:linear-gradient(#06f,#06f 2px,#008 3px,#008 7px,#008 88px,#00f 141px,#05f 205px,#0df 234px,#1fd 241px,#ef1 277px,#bf3 281px,#2fd 287px,#0cf 289px,#08f 293px,#05f 302px,#00f 305px,#008 307px,#008 308px,#008 317px,#00e 319px,#0cf 322px,#1fe 323px,#6f9 328px,#6f9 341px,#1fd 345px,#00f 350px,#008 353px,#008 357px,#008 380px,#00f 386px,#0af 393px,#0df 397px,#1fd 416px,#6f8)"></i><i style="background:linear-gradient(#06f,#06f 2px,#008 3px,#008 7px,#008 88px,#00f 141px,#05f 207px,#0df 237px,#1fd 242px,#fe0 277px,#df1 281px,#2fc 287px,#0df 289px,#08f 294px,#05f 302px,#00f 305px,#008 307px,#008 309px,#008 318px,#00f 320px,#0ee 323px,#3fc 324px,#9f6 328px,#9f5 341px,#8f7 343px,#1fd 346px,#0cf 347px,#01f 350px,#00e 351px,#008 353px,#008 354px,#009)"></i><i style="background:linear-gradient(#06f,#06f 2px,#0bf 3px,#0df 24px,#09f 42px,#08f 78px,#06f 96px,#0af 149px,#04f 175px,#04f 193px,#06f 215px,#0df 236px,#1fd 243px,#fe0 274px,#fc0 278px,#fe0 281px,#1fd 288px,#0cf 290px,#08f 294px,#05f 302px,#00f 305px,#008 307px,#008 308px,#008 318px,#009 319px,#00e 320px,#0cf 323px,#2fd 324px,#af5 329px,#af5 341px,#8f6 343px,#2fd 346px,#0cf 347px,#01f 350px,#00e 351px,#008 353px,#008 354px,#008 387px,#00f 396px,#03f 403px,#0af)"></i><i style="background:linear-gradient(#06f,#06f 2px,#008 3px,#008 7px,#008 88px,#00f 141px,#05f 210px,#0df 239px,#2fd 244px,#ef1 272px,#fe0 274px,#fb0 278px,#fe0 282px,#2fd 288px,#0cf 290px,#08f 294px,#06f 302px,#00f 305px,#008 307px,#008 308px,#008 318px,#009 319px,#00e 320px,#0cf 323px,#3fc 325px,#8f6 329px,#8f6 341px,#7f8 343px,#1ee 346px,#01f 350px,#00d 351px,#008 353px,#008 354px,#008 383px,#00f 388px,#0cf 394px,#1fd 396px,#5fa 401px,#9f5)"></i><i style="background:linear-gradient(#06f,#06f 2px,#008 3px,#008 7px,#008 88px,#00f 141px,#05f 211px,#0df 239px,#1fd 244px,#fe0 273px,#f90 279px,#ef1 283px,#2fc 288px,#0df 290px,#08f 294px,#06f 302px,#00f 305px,#008 307px,#008 309px,#008 318px,#009 319px,#00f 320px,#0cf 323px,#3fc 325px,#7f7 329px,#7f7 341px,#2fc 345px,#0af 347px,#00f 350px,#00d 351px,#008 354px,#008 379px,#00f 386px,#08f 392px,#0bf 396px,#1fd 425px,#5fa)"></i><i style="background:linear-gradient(#06f,#06f 2px,#008 3px,#008 7px,#008 88px,#00f 141px,#05f 214px,#0df 242px,#2fd 246px,#df1 271px,#fe0 273px,#f80 279px,#f90 281px,#fe0 283px,#3fc 288px,#0df 290px,#08f 294px,#06f 302px,#00f 305px,#008 307px,#008 309px,#008 318px,#00a 319px,#00f 320px,#0cf 323px,#2fd 325px,#5f9 329px,#5f9 341px,#2fc 344px,#0cf 346px,#00f 350px,#008 353px,#008 354px,#008 377px,#00f 382px,#0df 389px,#2fc 391px,#4fa 394px,#5fa 404px,#5fa)"></i><i style="background:linear-gradient(#06f,#06f 2px,#008 3px,#008 7px,#008 88px,#00f 141px,#03f 167px,#05f 215px,#0df 243px,#2fd 247px,#ef1 271px,#fd0 273px,#f60 279px,#f80 281px,#fd0 283px,#ef1 284px,#1fd 289px,#0df 290px,#09f 294px,#06f 302px,#00f 305px,#008 307px,#008 308px,#008 318px,#009 319px,#00f 320px,#0af 323px,#2fd 327px,#2fd 343px,#0cf 345px,#00f 350px,#008 354px,#008 377px,#00e 382px,#00f 383px,#0cf 389px,#1fd 391px,#4fb 395px,#5f9)"></i><i style="background:linear-gradient(#06f,#06f 2px,#008 3px,#008 7px,#008 88px,#00f 141px,#03f 167px,#05f 218px,#08f 233px,#0ee 245px,#1fd 248px,#ef1 271px,#fd0 273px,#f50 279px,#f60 281px,#ef0 284px,#1fd 289px,#0df 290px,#09f 294px,#06f 302px,#00f 305px,#00c 306px,#009 307px,#008 308px,#00a 318px,#00c 319px,#01f 320px,#0df 323px,#1fd 324px,#ef1 334px,#fd0 336px,#f30 342px,#f10 345px,#f70 353px,#f90 358px,#fd0 362px,#df1 364px,#2fc 371px,#0df 373px,#08f 376px,#07f 380px,#0df 392px,#0af 416px,#0ee)"></i><i style="background:linear-gradient(#06f,#06f 2px,#008 3px,#008 7px,#008 88px,#00f 141px,#03f 168px,#05f 219px,#08f 233px,#0df 245px,#1fd 249px,#fe0 272px,#f40 279px,#f50 281px,#fe0 284px,#cf3 285px,#2fd 289px,#0cf 291px,#08f 295px,#06f 302px,#00f 305px,#008 307px,#008 308px,#008 319px,#00f 321px,#06f 323px,#09f 325px,#0df 329px,#1fd 333px,#4fb 342px,#2fd 345px,#0cf 347px,#03f 353px,#00f 363px,#009 380px,#00f 394px,#01f)"></i><i style="background:linear-gradient(#06f,#06f 2px,#008 3px,#008 7px,#008 88px,#00f 141px,#03f 168px,#05f 221px,#08f 235px,#0cf 246px,#1fd 250px,#fe0 272px,#f20 279px,#f30 281px,#fd0 284px,#cf2 285px,#2fd 289px,#0cf 291px,#08f 295px,#06f 302px,#00f 305px,#008 307px,#008 310px,#008 319px,#00f 321px,#05f 324px,#0af 332px,#0af 342px,#00f 349px,#008 353px,#008 387px,#00b 399px,#00f 436px,#01f)"></i><i style="background:linear-gradient(#06f,#06f 2px,#008 3px,#008 7px,#008 88px,#00f 141px,#03f 168px,#05f 225px,#08f 239px,#0ee 249px,#1fd 251px,#df1 271px,#fd0 273px,#f30 278px,#f20 280px,#f50 282px,#fc0 284px,#df2 285px,#4fb 288px,#0df 290px,#09f 294px,#05f 302px,#00f 305px,#008 307px,#008 319px,#00f 321px,#02f 322px,#05f 324px,#07f 330px,#07f 341px,#00f 348px,#008 353px,#008 386px,#00f 394px,#05f 402px,#04f 429px,#05f)"></i><i style="background:linear-gradient(#06f,#06f 2px,#008 3px,#008 7px,#008 88px,#00f 141px,#03f 169px,#05f 227px,#08f 240px,#0df 250px,#1fd 252px,#ef0 272px,#fd0 273px,#f30 278px,#f20 280px,#f50 282px,#fc0 284px,#df2 285px,#2fd 289px,#0cf 291px,#08f 295px,#05f 302px,#00f 305px,#008 307px,#008 310px,#008 319px,#00f 321px,#05f 324px,#08f 332px,#07f 342px,#00f 348px,#008 353px,#008)"></i><i style="background:linear-gradient(#06f,#06f 2px,#5fa 3px,#cf3 9px,#ef1 13px,#3fc 26px,#0ee 34px,#0ee 85px,#3fc 104px,#1fd 125px,#0df 133px,#06f 166px,#04f 184px,#06f 231px,#08f 242px,#0df 250px,#1fd 253px,#ef1 272px,#f40 278px,#f20 280px,#f60 282px,#fd0 284px,#cf2 285px,#1fd 289px,#09f 293px,#05f 302px,#00f 305px,#008 307px,#008 319px,#00f 321px,#06f 324px,#0af 330px,#0af 342px,#00f 349px,#008 353px,#008 378px,#00f 382px,#0cf 387px,#1fd 388px,#8f6 392px,#bf3 396px,#af5)"></i><i style="background:linear-gradient(#06f,#06f 2px,#0bf 3px,#2fc 5px,#7f8 8px,#8f6 11px,#7f8 14px,#2fc 17px,#0bf 19px,#00f 25px,#00a 29px,#008 35px,#008 80px,#00f 141px,#03f 169px,#05f 232px,#08f 243px,#0df 252px,#2fd 255px,#df2 272px,#fd0 274px,#f50 278px,#f40 280px,#f70 282px,#fe0 284px,#3fb 288px,#0df 290px,#08f 294px,#05f 302px,#00e 305px,#008 307px,#008 318px,#008 319px,#00d 320px,#01f 321px,#08f 324px,#0af 330px,#0af 342px,#00f 349px,#008 353px,#008 368px,#00f 372px,#0df 377px,#2fd 378px,#7f7 381px,#bf3 385px,#ef1 424px,#fb0)"></i><i style="background:linear-gradient(#06f,#06f 2px,#0bf 3px,#2fc 5px,#7f8 8px,#8f6 11px,#7f8 14px,#2fc 17px,#0bf 19px,#00f 25px,#00a 29px,#008 35px,#008 80px,#00f 141px,#03f 170px,#06f 234px,#08f 244px,#0df 253px,#1fd 255px,#9f5 269px,#fe0 274px,#f60 278px,#f60 280px,#f90 282px,#ef0 284px,#3fc 288px,#0cf 290px,#08f 294px,#04f 302px,#00e 305px,#008 307px,#008 317px,#00b 319px,#00f 320px,#06f 323px,#07f 328px,#07f 342px,#00f 348px,#008 353px,#008 373px,#00a 375px,#00f 377px,#0bf 381px,#1ee 382px,#3fb 383px,#df2 387px,#fd0 389px,#fb0 392px,#ef1 433px,#cf3)"></i><i style="background:linear-gradient(#06f,#06f 2px,#0bf 3px,#2fc 5px,#7f8 8px,#8f6 11px,#7f8 14px,#2fc 17px,#0bf 19px,#00f 25px,#00a 29px,#008 35px,#008 80px,#00f 141px,#03f 170px,#05f 235px,#08f 245px,#0df 254px,#1fd 256px,#9f6 269px,#ef0 274px,#fd0 275px,#f70 279px,#f80 281px,#fd0 283px,#df2 284px,#2fc 288px,#0cf 290px,#07f 294px,#04f 302px,#00e 305px,#008 307px,#008 315px,#01f 320px,#05f 322px,#06f 324px,#06f 341px,#00f 347px,#008 353px,#008 384px,#00f 393px,#02f 399px,#00f 417px,#008 443px,#008)"></i><i style="background:linear-gradient(#06f,#06f 2px,#cf3 3px,#fe0 7px,#fc0 11px,#fe0 16px,#9f6 24px,#7f7 30px,#6f8 89px,#2fc 107px,#3fc 130px,#1fd 141px,#0df 147px,#07f 165px,#04f 187px,#06f 238px,#08f 247px,#0df 255px,#1fd 257px,#9f6 270px,#fe0 275px,#f90 279px,#fc0 282px,#ef0 283px,#2fd 288px,#0df 289px,#07f 293px,#03f 302px,#00f 304px,#00d 305px,#008 307px,#008 313px,#00f 318px,#06f 321px,#07f 324px,#07f 342px,#00f 348px,#008 353px,#008 378px,#00f 382px,#0cf 387px,#3fc 389px,#9f5 393px,#bf4 396px,#8f6)"></i><i style="background:linear-gradient(#06f,#06f 2px,#0bf 3px,#2fc 5px,#7f8 8px,#8f6 11px,#7f8 14px,#2fc 17px,#0bf 19px,#00f 25px,#00a 29px,#008 35px,#008 80px,#00f 141px,#03f 171px,#05f 237px,#08f 246px,#0df 255px,#1fd 258px,#8f7 270px,#fe0 276px,#fb0 279px,#fe0 282px,#3fc 287px,#0cf 289px,#07f 293px,#03f 302px,#00f 304px,#008 306px,#008 307px,#008 313px,#00f 316px,#01f 317px,#07f 320px,#09f 322px,#09f 341px,#07f 344px,#00e 349px,#008 353px,#008 386px,#00d 400px,#008)"></i><i style="background:linear-gradient(#06f,#06f 2px,#0bf 3px,#2fc 5px,#7f8 8px,#8f6 11px,#7f8 14px,#2fc 17px,#0bf 19px,#00f 25px,#00a 29px,#008 35px,#008 80px,#00f 141px,#03f 171px,#06f 238px,#08f 247px,#0df 256px,#2fd 259px,#7f7 270px,#fe0 277px,#fc0 279px,#ef1 282px,#0ee 288px,#06f 293px,#00f 304px,#008 306px,#008 307px,#008 312px,#00f 316px,#09f 320px,#0af 322px,#0af 341px,#08f 344px,#00f 349px,#008 353px,#008 381px,#00f 386px,#0cf 394px,#1fe 398px,#4fb)"></i><i style="background:linear-gradient(#06f,#06f 2px,#7f7 3px,#bf4 10px,#9f6 14px,#1fd 21px,#0df 23px,#08f 28px,#0df 46px,#0df 82px,#0bf 118px,#07f 136px,#08f 154px,#04f 188px,#06f 240px,#08f 248px,#0df 256px,#1fd 259px,#6f8 270px,#fe0 279px,#cf2 282px,#1fd 287px,#0df 288px,#05f 293px,#00e 304px,#008 306px,#008 312px,#008 313px,#00f 316px,#0cf 322px,#0cf 341px,#0af 344px,#00f 349px,#008 354px,#008 392px,#00e 409px,#00c)"></i><i style="background:linear-gradient(#06f,#06f 2px,#008 3px,#008 7px,#008 88px,#00f 141px,#04f 172px,#06f 239px,#08f 248px,#0cf 256px,#1fd 260px,#6f9 270px,#df1 279px,#bf3 282px,#3fc 286px,#0cf 288px,#05f 293px,#00f 303px,#008 306px,#008 314px,#00f 317px,#0bf 321px,#0ee 324px,#3fb 341px,#2fd 344px,#0df 346px,#04f 351px,#01f 354px,#0af 378px,#0cf 381px,#1fd 383px,#df2 391px,#fd0 394px,#fc0 397px,#ef0 403px,#3fb 435px,#1fd)"></i><i style="background:linear-gradient(#06f,#06f 2px,#6f9 3px,#bf4 11px,#1fd 29px,#0df 34px,#07f 48px,#0df 66px,#1fd 112px,#07f 146px,#04f 180px,#06f 240px,#08f 248px,#0df 257px,#1fd 260px,#6f8 271px,#cf2 279px,#af5 282px,#2fd 286px,#0df 287px,#05f 292px,#00f 301px,#00f 303px,#008 306px,#008 315px,#00f 319px,#08f 322px,#0af 324px,#0bf 341px,#08f 344px,#00f 349px,#009 352px,#008 354px,#008 371px,#00f 376px,#0df 382px,#1fd 383px,#7f8 387px,#8f6 390px,#9f6)"></i><i style="background:linear-gradient(#06f,#06f 2px,#6f8 3px,#bf3 11px,#1fd 28px,#0df 36px,#08f 60px,#1fe 115px,#05f 161px,#04f 181px,#06f 240px,#08f 248px,#0df 257px,#1fd 261px,#bf3 279px,#9f6 282px,#3fb 285px,#0cf 287px,#05f 291px,#00f 298px,#00f 302px,#008 306px,#008 317px,#00e 320px,#02f 321px,#06f 323px,#08f 326px,#08f 341px,#06f 344px,#00f 348px,#008 353px,#008 361px,#008 379px,#00f 384px,#0df 390px,#2fc 392px,#6f8 397px,#6f9)"></i><i style="background:linear-gradient(#06f,#06f 2px,#0bf 3px,#2fc 5px,#7f8 8px,#8f6 11px,#7f8 14px,#2fc 17px,#0bf 19px,#00f 25px,#00a 29px,#008 35px,#008 80px,#00f 141px,#04f 172px,#06f 240px,#08f 248px,#0cf 257px,#1fd 261px,#af4 279px,#8f7 282px,#2fc 285px,#0bf 287px,#06f 290px,#00f 296px,#00e 302px,#008 305px,#008 308px,#008 318px,#01f 321px,#06f 323px,#08f 326px,#09f 341px,#06f 344px,#00f 348px,#008 352px,#008 355px,#008 378px,#00f 383px,#0cf 388px,#2fd 390px,#8f7 396px,#8f6)"></i><i style="background:linear-gradient(#06f,#06f 2px,#0bf 3px,#2fc 5px,#7f8 8px,#8f6 11px,#7f8 14px,#2fc 17px,#0bf 19px,#00f 25px,#00a 29px,#008 35px,#008 80px,#00f 141px,#04f 172px,#06f 241px,#08f 249px,#0df 258px,#2fd 262px,#9f5 279px,#7f7 282px,#2fd 285px,#0df 286px,#05f 290px,#00f 295px,#00c 302px,#008 305px,#008 308px,#008 318px,#00b 320px,#00f 321px,#05f 323px,#08f 326px,#08f 341px,#06f 344px,#00f 348px,#008 353px,#008 359px,#008 375px,#00f 379px,#0bf 383px,#3fc 385px,#df2 390px,#fe0 393px,#fe0)"></i><i style="background:linear-gradient(#06f,#06f 2px,#fc0 3px,#f70 8px,#f60 12px,#ef1 23px,#af4 31px,#bf3 85px,#7f8 121px,#8f6 139px,#1fd 163px,#0df 168px,#07f 183px,#05f 200px,#06f 242px,#0df 258px,#1fd 262px,#9f6 279px,#3fb 284px,#0cf 286px,#05f 290px,#00f 295px,#00c 302px,#008 305px,#008 308px,#008 317px,#00c 320px,#00f 321px,#06f 323px,#08f 326px,#09f 341px,#08f 344px,#00f 350px,#00a 354px,#009 371px,#00a 373px,#00f 376px,#0cf 381px,#3fc 383px,#af4 387px,#df1 391px,#8f7)"></i><i style="background:linear-gradient(#06f,#06f 2px,#0bf 3px,#2fc 5px,#7f8 8px,#8f6 11px,#7f8 14px,#2fc 17px,#0bf 19px,#00f 25px,#00a 29px,#008 35px,#008 80px,#00f 141px,#04f 173px,#06f 241px,#0df 258px,#1fd 262px,#8f6 279px,#3fc 284px,#0df 286px,#05f 290px,#00f 295px,#00e 302px,#00a 305px,#00f 317px,#04f 320px,#0cf 322px,#2fc 324px,#9f5 342px,#2fd 350px,#0df 353px,#0af 368px,#03f 385px,#06f 389px,#1fe 394px,#af5 400px,#cf2 404px,#6f9)"></i><i style="background:linear-gradient(#06f,#06f 2px,#0bf 3px,#2fc 5px,#7f8 8px,#8f6 11px,#7f8 14px,#2fc 17px,#0bf 19px,#00f 25px,#00a 29px,#008 35px,#008 80px,#00f 141px,#04f 173px,#06f 241px,#0df 258px,#1fd 262px,#8f7 279px,#2fc 284px,#0bf 286px,#03f 290px,#00f 293px,#008 304px,#009 315px,#00e 319px,#01f 320px,#0af 323px,#0ef 327px,#8f7 342px,#3fb 353px,#9f6 368px,#7f7 382px,#df1 388px,#fd0 390px,#f60 397px,#ef1 410px,#6f9 432px,#3fb)"></i><i style="background:linear-gradient(#06f,#06f 2px,#0bf 3px,#2fc 5px,#7f8 8px,#8f6 11px,#7f8 14px,#2fc 17px,#0bf 19px,#00f 25px,#00a 29px,#008 35px,#008 80px,#00f 141px,#04f 173px,#06f 242px,#0cf 258px,#1fd 262px,#7f7 279px,#2fd 284px,#0bf 286px,#00f 292px,#008 305px,#008 315px,#00f 320px,#06f 324px,#0cf 342px,#06f 353px,#0df 370px,#2fd 380px,#df2 387px,#fe0 388px,#f40 393px,#f10 397px,#ef0 422px,#9f6 442px,#7f7)"></i><i style="background:linear-gradient(#06f,#06f 2px,#bf3 3px,#fe0 7px,#fb0 12px,#fe0 18px,#7f8 26px,#3fb 34px,#1fd 53px,#4fa 89px,#1ee 107px,#0df 125px,#1fd 145px,#0af 161px,#06f 206px,#06f 243px,#0df 259px,#1fd 263px,#7f8 279px,#2fd 284px,#0df 285px,#04f 289px,#00f 292px,#009 298px,#008 304px,#008 314px,#00f 321px,#0df 338px,#1fd 340px,#4fa 345px,#7f7 361px,#2fd 376px,#0df 381px,#0af 394px,#00f 420px,#00a)"></i><i style="background:linear-gradient(#06f,#06f 2px,#0bf 3px,#2fc 5px,#7f8 8px,#8f6 11px,#7f8 14px,#2fc 17px,#0bf 19px,#00f 25px,#00a 29px,#008 35px,#008 80px,#00f 141px,#04f 173px,#06f 242px,#0df 259px,#1fd 263px,#7f8 279px,#1fd 284px,#0df 285px,#04f 289px,#00f 292px,#008 300px,#008 318px,#009 320px,#00f 322px,#03f 324px,#0cf 337px,#1fd 340px,#4fb 345px,#4fa 358px,#1fd 366px,#0af 373px,#0ee 377px,#df2 386px,#fd0 389px,#ef1 398px,#cf3)"></i><i style="background:linear-gradient(#06f,#06f 2px,#0cf 3px,#0bf 10px,#0ee 28px,#0bf 46px,#0bf 64px,#06f 82px,#04f 99px,#0af 136px,#05f 181px,#06f 238px,#08f 249px,#0df 259px,#1fd 263px,#7f8 279px,#1fd 284px,#0df 285px,#03f 289px,#00f 292px,#008 299px,#008 321px,#00b 322px,#00e 324px,#00a 331px,#00a 342px,#008 350px,#008 390px,#00e 405px,#00e)"></i><i style="background:linear-gradient(#06f,#06f 2px,#2fd 3px,#1fd 116px,#09f 148px,#05f 193px,#07f 243px,#09f 252px,#1fd 263px,#7f8 278px,#3fc 283px,#0cf 285px,#00f 291px,#008 298px,#008 321px,#00e 324px,#008 332px,#008 382px,#00e 397px,#00e)"></i><i style="background:linear-gradient(#06f,#06f 2px,#008 3px,#008 7px,#008 88px,#00f 141px,#04f 173px,#06f 243px,#0df 260px,#1fd 264px,#6f8 278px,#3fc 283px,#0cf 285px,#00f 291px,#008 297px,#008 321px,#00e 324px,#008 331px,#008)"></i><i style="background:linear-gradient(#06f,#06f 2px,#008 3px,#008 7px,#008 88px,#00f 141px,#04f 173px,#06f 243px,#09f 253px,#1fd 264px,#6f8 278px,#3fc 283px,#0cf 285px,#00f 291px,#008 296px,#008 321px,#00d 324px,#008 331px,#008 389px,#00f 399px,#02f 406px,#02f)"></i><i style="background:linear-gradient(#06f,#06f 2px,#008 3px,#008 7px,#008 88px,#00f 141px,#04f 173px,#06f 243px,#0df 261px,#2fd 265px,#6f8 278px,#3fc 283px,#0cf 285px,#03f 289px,#00f 291px,#008 296px,#008 321px,#00d 324px,#008 331px,#008 384px,#00d 397px,#00e 409px,#00b)"></i><i style="background:linear-gradient(#06f,#09f 19px,#09f 55px,#0cf 73px,#09f 91px,#0bf 109px,#08f 127px,#0af 145px,#05f 187px,#06f 239px,#08f 250px,#0df 261px,#1fd 265px,#6f9 278px,#2fc 283px,#0cf 285px,#02f 289px,#00f 291px,#008 295px,#008 296px,#008 321px,#00c 323px,#00d 325px,#008 331px,#008 383px,#00f 393px,#02f 400px,#00f)"></i><i style="background:linear-gradient(#06f,#06f 2px,#008 3px,#008 7px,#008 88px,#00f 141px,#04f 173px,#06f 244px,#09f 254px,#1fd 265px,#6f9 278px,#2fc 283px,#0cf 285px,#00f 290px,#00e 291px,#008 295px,#008 321px,#00c 323px,#00d 325px,#008 331px,#008 383px,#00c 397px,#00f)"></i><i style="background:linear-gradient(#06f,#06f 2px,#008 3px,#008 7px,#008 88px,#00f 141px,#04f 173px,#06f 244px,#09f 254px,#1fd 266px,#5f9 279px,#2fc 283px,#0cf 285px,#00f 290px,#00e 291px,#008 295px,#008 321px,#00c 323px,#00d 325px,#008 331px,#008 384px,#00d 398px,#00e)"></i><i style="background:linear-gradient(#06f,#06f 2px,#09f 3px,#0bf 72px,#09f 90px,#01f 108px,#07f 126px,#03f 162px,#06f 243px,#09f 254px,#1fd 267px,#5fa 279px,#2fd 283px,#0bf 285px,#00f 290px,#008 295px,#008 321px,#00c 323px,#00d 325px,#008 331px,#008 336px,#008 385px,#00f 397px,#00f)"></i><i style="background:linear-gradient(#06f,#06f 2px,#008 3px,#008 7px,#008 88px,#00f 141px,#04f 174px,#06f 244px,#08f 254px,#1fd 268px,#5fa 279px,#2fd 283px,#0bf 285px,#00f 290px,#008 295px,#008 321px,#00c 323px,#00d 325px,#008 331px,#008 336px,#008 385px,#00f 396px,#01f)"></i><i style="background:linear-gradient(#06f,#06f 2px,#0af 3px,#08f 27px,#0df 81px,#09f 117px,#09f 135px,#0cf 153px,#06f 168px,#05f 178px,#06f 240px,#08f 253px,#1fd 269px,#4fa 279px,#1fd 283px,#0bf 285px,#00f 290px,#008 294px,#008 295px,#008 308px,#00e 321px,#07f 325px,#08f 332px,#1fe 340px,#4fa 350px,#1fd 359px,#0df 362px,#00f 376px,#009 390px,#00a)"></i><i style="background:linear-gradient(#06f,#06f 2px,#008 3px,#008 7px,#008 88px,#00f 141px,#04f 174px,#06f 245px,#08f 255px,#1fd 270px,#4fb 279px,#2fc 282px,#0df 284px,#00f 290px,#008 294px,#008 321px,#00d 323px,#00e 325px,#008 333px,#009 351px,#008 383px,#00c 398px,#00a)"></i><i style="background:linear-gradient(#06f,#06f 2px,#008 3px,#008 7px,#008 88px,#00f 141px,#04f 174px,#06f 245px,#0df 266px,#1fd 272px,#3fc 279px,#2fd 282px,#0df 284px,#00f 290px,#008 294px,#008 321px,#00c 323px,#00d 325px,#008 331px,#008 385px,#00f 397px,#00b)"></i><i style="background:linear-gradient(#06f,#06f 2px,#09f 3px,#0af 8px,#02f 27px,#08f 45px,#02f 63px,#07f 81px,#04f 117px,#05f 241px,#07f 254px,#1fd 274px,#1fd 282px,#0df 284px,#00f 290px,#008 294px,#008 321px,#00c 323px,#00d 325px,#008 331px,#008 391px,#00f 401px,#02f 408px,#00e)"></i><i style="background:linear-gradient(#06f,#06f 2px,#008 3px,#008 7px,#008 88px,#00f 141px,#04f 174px,#05f 246px,#0df 269px,#2fd 281px,#0cf 284px,#00f 290px,#008 294px,#008 321px,#00c 323px,#00d 325px,#008 331px,#008 336px,#008 360px,#00f 386px,#07f 400px,#03f 430px,#03f)"></i><i style="background:linear-gradient(#06f,#06f 2px,#0bf 3px,#0cf 12px,#08f 30px,#0ee 66px,#0df 84px,#1fd 97px,#1fd 142px,#06f 174px,#05f 198px,#05f 247px,#1fd 280px,#0cf 284px,#00f 290px,#009 293px,#008 297px,#008 321px,#00c 323px,#00d 325px,#008 331px,#008 353px,#00f 372px,#07f 382px,#0cf 387px,#2fd 390px,#7f8 399px,#1fd 413px,#0df 417px,#06f 435px,#06f)"></i><i style="background:linear-gradient(#06f,#06f 2px,#09f 3px,#05f 9px,#09f 27px,#0bf 98px,#1ee 116px,#08f 135px,#05f 166px,#05f 242px,#06f 254px,#1ee 280px,#0cf 284px,#00f 290px,#008 294px,#008 321px,#00c 323px,#00d 325px,#008 331px,#009)"></i><i style="background:linear-gradient(#06f,#06f 2px,#008 3px,#008 7px,#008 88px,#00f 141px,#04f 174px,#05f 247px,#0df 281px,#0af 285px,#00f 290px,#008 294px,#008 321px,#00e 323px,#00f 325px,#00a 332px,#00f 347px,#00f 368px,#00b 384px,#00b 399px,#008 417px,#008)"></i><i style="background:linear-gradient(#06f,#06f 2px,#008 3px,#008 7px,#008 88px,#00f 141px,#04f 174px,#04f 247px,#0df 281px,#0af 285px,#00f 290px,#008 293px,#008 294px,#008 321px,#00d 323px,#00f 325px,#00a 333px,#00f 353px,#00f 367px,#008 399px,#008)"></i><i style="background:linear-gradient(#06f,#06f 2px,#008 3px,#008 7px,#008 88px,#00f 141px,#04f 174px,#04f 247px,#0cf 281px,#0af 285px,#00f 290px,#008 293px,#008 295px,#008 321px,#00c 323px,#00d 325px,#008 331px,#008 335px,#00f 364px,#0bf 398px,#00f 429px,#00b)"></i><i style="background:linear-gradient(#06f,#06f 2px,#008 3px,#008 7px,#008 88px,#00f 141px,#04f 175px,#04f 247px,#0bf 282px,#09f 285px,#00f 290px,#008 293px,#008 294px,#008 321px,#00c 323px,#00d 325px,#008 331px,#008 350px,#00a 374px,#00f 382px,#05f 393px,#00f 429px,#00b)"></i><i style="background:linear-gradient(#06f,#06f 2px,#008 3px,#008 7px,#008 88px,#00f 141px,#04f 175px,#03f 247px,#0bf 282px,#09f 285px,#00f 290px,#008 293px,#008 294px,#009 321px,#00e 323px,#00f 324px,#00f 327px,#00a 333px,#00b 350px,#008 377px,#00e 395px,#00b)"></i><i style="background:linear-gradient(#06f,#06f 2px,#008 3px,#008 7px,#008 88px,#00f 141px,#04f 175px,#03f 249px,#07f 275px,#0bf 283px,#08f 286px,#00f 291px,#009 294px,#00f 306px,#0df 318px,#3fc 321px,#9f6 323px,#cf2 325px,#fe0 331px,#f60 339px,#f40 345px,#f70 352px,#fe0 359px,#2fc 370px,#0cf 373px,#00f 384px,#00c 391px,#00f 399px,#02f 406px,#00f 427px,#00d)"></i><i style="background:linear-gradient(#06f,#06f 2px,#008 3px,#008 88px,#00f 136px,#04f 175px,#03f 245px,#06f 274px,#0af 283px,#07f 286px,#00f 290px,#008 293px,#008 321px,#00c 323px,#00e 325px,#008 333px,#008 387px,#00f 398px,#00d)"></i><i style="background:linear-gradient(#06f,#06f 2px,#008 3px,#008 25px,#008 90px,#00f 136px,#04f 175px,#02f 245px,#05f 274px,#09f 283px,#07f 286px,#00f 290px,#008 293px,#008 307px,#008 321px,#00c 323px,#00d 325px,#008 331px,#008 377px,#00f 382px,#1fd 391px,#2fc 394px,#1fd 407px,#05f 448px,#03f)"></i><i style="background:linear-gradient(#06f,#06f 2px,#008 3px,#008 88px,#00f 136px,#03f 175px,#02f 245px,#04f 274px,#09f 283px,#07f 286px,#00f 290px,#008 293px,#008 321px,#00c 323px,#00d 325px,#008 331px,#009)"></i><i style="background:linear-gradient(#06f,#06f 2px,#008 3px,#008 88px,#00f 136px,#03f 175px,#02f 245px,#04f 274px,#09f 283px,#07f 286px,#00f 290px,#008 294px,#008 321px,#00d 323px,#00e 325px,#008 332px,#009)"></i><i style="background:linear-gradient(#06f,#06f 2px,#2fc 3px,#5fa 20px,#1fd 39px,#4fb 74px,#0df 110px,#3fc 133px,#1fd 151px,#0df 158px,#04f 197px,#03f 234px,#05f 250px,#0ee 266px,#6f8 275px,#df1 281px,#fd0 283px,#fc0 286px,#fe0 289px,#af4 294px,#ef0 305px,#cf2 321px,#fe0 322px,#fc0 324px,#fe0 326px,#7f7 333px,#1fd 346px,#0df 350px,#03f 387px,#04f 402px,#00f 428px,#01f)"></i><i style="background:linear-gradient(#06f,#06f 2px,#8f7 3px,#9f6 53px,#cf2 71px,#cf3 89px,#9f6 107px,#af4 125px,#7f8 143px,#8f7 161px,#1fd 181px,#0df 187px,#04f 210px,#02f 232px,#05f 253px,#0df 275px,#2fd 278px,#7f7 285px,#2fd 292px,#0df 294px,#1fd 297px,#cf2 321px,#fe0 322px,#fa0 325px,#fd0 332px,#fb0 351px,#fe0 367px,#af4 381px,#ef1 385px,#f20 390px,#c00 391px,#800 393px,#800 426px,#d00 445px,#f10)"></i><i style="background:linear-gradient(#06f,#06f 2px,#9f6 3px,#8f6 19px,#cf3 37px,#6f9 73px,#4fb 126px,#5fa 144px,#1fd 153px,#0df 158px,#06f 176px,#03f 192px,#02f 272px,#07f 284px,#05f 287px,#00f 290px,#008 294px,#008 320px,#009 321px,#00f 323px,#00f 324px,#00a 333px,#00e 352px,#00f 381px,#04f 397px,#00f 410px,#00a 427px,#009)"></i><i style="background:linear-gradient(#06f,#06f 2px,#008 3px,#008 8px,#008 88px,#00f 138px,#03f 177px,#01f 272px,#06f 284px,#00f 290px,#008 293px,#008 294px,#008 318px,#009 321px,#00f 323px,#00f 334px,#0df 349px,#1fd 353px,#3fc 374px,#9f6 392px,#7f7 397px,#2fc 403px,#0cf 406px,#00f 415px,#00a 423px,#008 430px,#008)"></i><i style="background:linear-gradient(#06f,#06f 2px,#008 3px,#008 88px,#00f 140px,#03f 183px,#00f 272px,#05f 284px,#00f 290px,#008 294px,#008 321px,#00d 323px,#00e 324px,#008 331px,#008 353px,#00f 370px,#03f 382px,#00f 394px,#00a 405px,#008 414px,#008)"></i><i style="background:linear-gradient(#06f,#06f 2px,#008 3px,#008 88px,#00f 140px,#03f 177px,#01f 271px,#02f 276px,#07f 285px,#06f 288px,#00f 292px,#00b 294px,#00e 321px,#04f 324px,#00f 329px,#00b 333px,#008 360px,#008)"></i><i style="background:linear-gradient(#06f,#06f 2px,#008 3px,#008 9px,#008 88px,#00f 136px,#03f 175px,#02f 243px,#04f 272px,#1ee 286px,#0cf 290px,#06f 294px,#0bf 307px,#0df 321px,#3fb 323px,#2fc 326px,#0df 328px,#08f 332px,#00f 348px,#008 375px,#008)"></i><i style="background:linear-gradient(#06f,#06f 2px,#008 3px,#008 88px,#00f 140px,#03f 186px,#00f 274px,#07f 285px,#06f 288px,#00e 293px,#00c 294px,#009 320px,#00e 322px,#00f 326px,#008 333px,#008)"></i><i style="background:linear-gradient(#06f,#06f 2px,#008 3px,#008 11px,#008 88px,#00f 136px,#03f 187px,#00f 268px,#02f 275px,#0cf 284px,#0ee 287px,#0df 290px,#07f 294px,#07f 304px,#00f 317px,#00f 321px,#03f 324px,#00f 327px,#009 332px,#008 342px,#008 373px,#00e 378px,#00f 379px,#0cf 386px,#1fd 390px,#3fb)"></i><i style="background:linear-gradient(#06f,#06f 2px,#008 3px,#008 10px,#008 87px,#00f 136px,#01f 150px,#03f 195px,#00f 264px,#00d 272px,#00f 279px,#03f 285px,#00f 290px,#008 294px,#008 320px,#00f 323px,#00f 325px,#009 332px,#008 371px,#00f 376px,#1fd 384px,#4fa 389px,#5f9)"></i><i style="background:linear-gradient(#06f,#06f 2px,#008 3px,#008 88px,#00f 136px,#04f 192px,#00f 263px,#00d 272px,#00f 280px,#02f 285px,#00f 290px,#008 294px,#008 320px,#00f 323px,#00d 332px,#00f 343px,#00a 354px,#008 366px,#008 382px,#00a 394px,#00a)"></i><i style="background:linear-gradient(#06f,#06f 2px,#4fb 3px,#5f9 17px,#1fd 27px,#0bf 35px,#1fd 46px,#3fc 53px,#1fd 76px,#0bf 88px,#0df 107px,#08f 125px,#04f 171px,#00f 263px,#00c 272px,#02f 286px,#00f 290px,#008 295px,#008 308px,#00c 320px,#00f 321px,#06f 323px,#0df 328px,#4fa 332px,#cf3 336px,#fc0 338px,#f20 341px,#c00 342px,#800 344px,#800 357px,#b00 359px,#e10 360px,#f30 361px,#fe0 365px,#cf2 366px,#4fb 371px,#2fc 374px,#cf3 389px,#0ee 424px,#08f 447px,#06f)"></i><i style="background:linear-gradient(#06f,#06f 2px,#008 3px,#008 88px,#00f 136px,#04f 194px,#00f 262px,#00c 272px,#02f 286px,#00f 290px,#00f 291px,#008 295px,#008 304px,#00a 319px,#00b 320px,#00f 321px,#05f 323px,#07f 325px,#1fe 342px,#07f 354px,#07f 376px,#0df 392px,#02f 434px,#00f)"></i><i style="background:linear-gradient(#06f,#06f 2px,#008 3px,#008 86px,#00f 136px,#03f 172px,#04f 205px,#00f 262px,#00c 273px,#00f 281px,#01f 287px,#00f 290px,#008 295px,#008 320px,#00f 322px,#03f 325px,#04f 331px,#04f 342px,#00f 346px,#008 353px,#008 377px,#00f 382px,#0cf 390px,#1fd 393px,#0ee)"></i><i style="background:linear-gradient(#06f,#06f 2px,#008 3px,#008 5px,#008 86px,#00f 136px,#03f 164px,#04f 202px,#00f 261px,#00b 273px,#00f 282px,#00f 290px,#00f 291px,#008 295px,#008 319px,#008 320px,#00f 322px,#03f 325px,#03f 330px,#03f 342px,#00f 346px,#008 352px,#008 383px,#00f 390px,#08f 400px,#09f)"></i><i style="background:linear-gradient(#06f,#06f 2px,#0df 3px,#0bf 15px,#1fd 27px,#3fc 33px,#1fd 91px,#0af 105px,#1fd 116px,#4fb 123px,#1fd 131px,#0df 137px,#08f 155px,#05f 179px,#00f 259px,#00b 273px,#00f 282px,#00f 291px,#008 295px,#008 319px,#008 320px,#00f 322px,#03f 328px,#02f 341px,#00f 346px,#008 353px,#008 389px,#00d 403px,#00e)"></i><i style="background:linear-gradient(#06f,#06f 2px,#008 3px,#008 6px,#008 87px,#00f 136px,#02f 159px,#05f 201px,#00f 260px,#00b 273px,#00f 282px,#00f 291px,#008 295px,#008 319px,#008 320px,#00f 322px,#02f 326px,#02f 341px,#00f 345px,#008 352px,#008 385px,#00f 399px,#08f)"></i><i style="background:linear-gradient(#06f,#06f 2px,#00f 3px,#03f 11px,#00f 18px,#008 29px,#008 44px,#008 91px,#00f 141px,#05f 198px,#00f 260px,#00a 273px,#00f 283px,#00f 291px,#008 295px,#008 319px,#00f 322px,#02f 325px,#00f 344px,#008 352px,#008 376px,#00e 381px,#0cf 388px,#1fd 390px,#3fb 394px,#3fb 421px,#7f8)"></i><i style="background:linear-gradient(#06f,#06f 2px,#6f8 3px,#8f6 31px,#1fd 49px,#2fd 84px,#5fa 103px,#5f9 128px,#1fd 152px,#0df 160px,#06f 185px,#00f 258px,#00a 272px,#00f 283px,#00f 291px,#008 295px,#008 301px,#008 319px,#00f 322px,#02f 325px,#00f 345px,#008 352px,#008 383px,#00f 395px,#01f 421px,#06f)"></i><i style="background:linear-gradient(#06f,#06f 2px,#00f 3px,#03f 11px,#00f 18px,#008 29px,#008 44px,#008 91px,#00f 141px,#06f 198px,#00f 259px,#00a 272px,#00f 283px,#00f 291px,#008 296px,#008 319px,#00f 322px,#03f 324px,#04f 328px,#05f 341px,#00f 347px,#008 353px,#008 379px,#00f 385px,#09f 392px,#0bf 396px,#0af 424px,#1ee)"></i><i style="background:linear-gradient(#06f,#06f 2px,#af5 3px,#af4 4px,#9f5 11px,#4fb 22px,#3fc 27px,#4fb 58px,#1fd 73px,#0bf 112px,#1fd 127px,#1fd 139px,#06f 173px,#06f 204px,#00f 257px,#00a 272px,#00f 284px,#00f 291px,#008 296px,#008 302px,#008 319px,#00d 321px,#00f 322px,#06f 327px,#09f 333px,#08f 342px,#00f 348px,#008 353px,#008 365px,#008 385px,#00f 396px,#06f)"></i><i style="background:linear-gradient(#06f,#06f 2px,#4fa 3px,#5fa 11px,#0ee 22px,#0df 29px,#1fe 58px,#0df 94px,#3fc 112px,#1fd 118px,#0bf 130px,#1fd 140px,#3fb 148px,#1fd 154px,#0df 161px,#08f 179px,#00f 256px,#00a 272px,#00f 284px,#00f 291px,#008 296px,#008 301px,#008 319px,#00e 321px,#04f 324px,#08f 330px,#09f 341px,#07f 344px,#00f 349px,#008 354px,#008 369px,#00a 372px,#00f 375px,#0df 382px,#2fc 384px,#5f9 389px,#8f6)"></i><i style="background:linear-gradient(#06f,#06f 2px,#4fb 3px,#5f9 11px,#1fd 53px,#3fb 71px,#1fd 89px,#4fa 107px,#4fa 125px,#1fd 146px,#08f 178px,#07f 205px,#00f 256px,#009 272px,#00f 284px,#00f 292px,#00a 296px,#008 303px,#008 318px,#009 319px,#00d 320px,#01f 321px,#08f 324px,#0df 328px,#2fd 330px,#df1 340px,#fd0 342px,#f90 353px,#e00 365px,#e00 371px,#800 376px,#800 405px,#f10 415px,#f40 429px,#f20)"></i><i style="background:linear-gradient(#06f,#06f 2px,#00f 3px,#03f 11px,#00f 18px,#008 29px,#008 43px,#008 91px,#00f 141px,#07f 198px,#00f 258px,#009 272px,#00f 284px,#00f 292px,#00d 299px,#008 304px,#008 319px,#00e 321px,#04f 324px,#06f 328px,#08f 341px,#07f 344px,#00f 350px,#00b 355px,#00e 370px,#02f 372px,#0bf 375px,#1fe 376px,#df1 380px,#fd0 381px,#f40 384px,#e00 387px,#f40 420px,#f60)"></i><i style="background:linear-gradient(#06f,#06f 2px,#00f 3px,#03f 11px,#00f 19px,#00a 26px,#008 33px,#008 80px,#009 102px,#00f 136px,#07f 198px,#00f 257px,#009 272px,#00f 284px,#00f 299px,#008 305px,#008 319px,#00e 321px,#04f 325px,#05f 341px,#00f 347px,#008 353px,#008 373px,#00f 378px,#0cf 384px,#1fd 386px,#4fa 390px,#5fa 413px,#cf3)"></i><i style="background:linear-gradient(#06f,#06f 2px,#09f 3px,#0bf 13px,#06f 42px,#08f 60px,#06f 96px,#0af 114px,#03f 132px,#07f 149px,#05f 172px,#08f 199px,#00f 257px,#009 272px,#00f 284px,#01f 293px,#04f 298px,#00f 301px,#00a 303px,#008 305px,#008 319px,#00e 321px,#01f 322px,#03f 324px,#02f 341px,#00f 346px,#008 353px,#008 374px,#00f 380px,#0cf 387px,#2fd 390px,#0ef)"></i><i style="background:linear-gradient(#06f,#06f 2px,#008 3px,#008 88px,#00f 141px,#08f 198px,#00f 256px,#009 272px,#00f 284px,#01f 293px,#06f 298px,#01f 301px,#009 305px,#008 308px,#00a 318px,#00f 320px,#07f 324px,#08f 331px,#0cf 342px,#08f 354px,#0af 365px,#09f 376px,#0df 381px,#2fd 383px,#9f6 389px,#cf3 394px,#6f8 422px,#4fa)"></i><i style="background:linear-gradient(#06f,#06f 2px,#008 3px,#008 6px,#008 88px,#00f 141px,#08f 198px,#00f 256px,#009 272px,#00f 284px,#01f 293px,#05f 298px,#00f 301px,#009 304px,#008 306px,#008 319px,#00e 321px,#01f 322px,#02f 324px,#00f 329px,#00f 341px,#008 354px,#008 377px,#00e 396px,#00f 411px,#06f)"></i><i style="background:linear-gradient(#06f,#06f 2px,#0df 3px,#08f 59px,#09f 76px,#0df 94px,#05f 112px,#0bf 130px,#0bf 141px,#06f 167px,#08f 202px,#02f 231px,#00f 255px,#00a 272px,#00f 284px,#01f 294px,#03f 298px,#01f 300px,#009 304px,#008 307px,#008 319px,#00e 321px,#01f 322px,#02f 324px,#00f 327px,#00b 332px,#00b 343px,#008 351px,#008 375px,#00f 386px,#00e)"></i><i style="background:linear-gradient(#06f,#07f 5px,#04f 22px,#05f 40px,#0af 59px,#03f 112px,#06f 131px,#02f 149px,#03f 174px,#07f 203px,#00f 248px,#00f 255px,#00a 272px,#00f 284px,#00f 299px,#00a 304px,#008 310px,#008 319px,#00e 321px,#01f 322px,#02f 324px,#00f 327px,#00b 332px,#00a 343px,#008 350px,#008 379px,#00c 392px,#00b)"></i><i style="background:linear-gradient(#06f,#06f 2px,#008 3px,#008 88px,#00f 141px,#08f 198px,#00f 253px,#00a 271px,#00f 283px,#00f 292px,#008 312px,#008 319px,#00e 321px,#01f 322px,#02f 324px,#00f 328px,#00c 333px,#00c 343px,#008 351px,#008 379px,#00f 392px,#00d)"></i><i style="background:linear-gradient(#06f,#06f 2px,#008 3px,#008 6px,#008 88px,#00f 141px,#08f 198px,#00f 244px,#00f 254px,#00a 271px,#00f 283px,#00f 292px,#00a 297px,#00d 305px,#008 313px,#008 319px,#00e 321px,#01f 322px,#03f 324px,#00f 330px,#00d 343px,#008 351px,#008 377px,#00f 385px,#04f 393px,#06f)"></i><i style="background:linear-gradient(#06f,#06f 2px,#008 3px,#008 6px,#008 88px,#00f 141px,#07f 197px,#00f 251px,#00a 271px,#00f 283px,#00f 292px,#009 297px,#00f 302px,#00f 307px,#008 314px,#008 319px,#00e 321px,#01f 322px,#03f 324px,#00f 330px,#00e 342px,#008 352px,#008 379px,#00f 392px,#02f)"></i><i style="background:linear-gradient(#06f,#06f 2px,#008 3px,#008 6px,#008 88px,#00f 141px,#07f 197px,#00f 249px,#00a 271px,#00f 283px,#00f 292px,#009 297px,#00f 301px,#05f 305px,#00f 309px,#008 314px,#008 319px,#00e 321px,#01f 322px,#03f 324px,#00f 330px,#00e 342px,#008 352px,#008 385px,#00f 396px,#02f)"></i><i style="background:linear-gradient(#06f,#06f 2px,#008 3px,#008 6px,#008 88px,#00f 141px,#07f 197px,#00f 247px,#00b 271px,#00f 283px,#00f 292px,#009 297px,#00f 300px,#07f 303px,#09f 305px,#07f 307px,#00f 310px,#008 314px,#008 319px,#00e 321px,#01f 322px,#03f 324px,#00f 332px,#00f 343px,#008 352px,#008 394px,#00c 405px,#00f 424px,#03f)"></i><i style="background:linear-gradient(#06f,#06f 2px,#008 3px,#008 88px,#00f 141px,#06f 196px,#00f 246px,#00b 270px,#00f 282px,#01f 289px,#00f 292px,#00a 296px,#00a 297px,#00e 299px,#01f 300px,#0af 303px,#0df 305px,#0af 307px,#01f 310px,#00e 311px,#009 313px,#008 315px,#008 319px,#00e 321px,#01f 322px,#03f 324px,#01f 328px,#00f 344px,#008 352px,#008 387px,#00f 398px,#04f)"></i><i style="background:linear-gradient(#06f,#06f 2px,#008 3px,#008 6px,#008 88px,#00f 141px,#06f 196px,#00f 244px,#00b 270px,#00f 282px,#01f 289px,#00f 292px,#00a 296px,#00a 297px,#00f 299px,#0cf 303px,#1fd 305px,#0cf 307px,#00f 311px,#00a 313px,#008 315px,#008 319px,#00e 321px,#01f 322px,#02f 324px,#00f 328px,#00f 343px,#008 352px,#008 389px,#00a 403px,#008 436px,#008)"></i><i style="background:linear-gradient(#06f,#06f 2px,#008 3px,#008 6px,#008 88px,#00f 141px,#05f 195px,#00f 243px,#00b 270px,#00f 282px,#01f 288px,#00f 292px,#00a 296px,#00b 297px,#00f 299px,#0df 303px,#1fd 306px,#0df 307px,#00f 311px,#008 314px,#008 317px,#008 319px,#00e 321px,#01f 322px,#00f 342px,#008 352px,#008 383px,#00f 393px,#03f)"></i><i style="background:linear-gradient(#06f,#06f 2px,#4fb 3px,#5fa 11px,#0ee 29px,#0df 46px,#07f 65px,#0ee 83px,#1fd 110px,#0cf 151px,#06f 180px,#00f 236px,#00b 269px,#00f 281px,#01f 288px,#00f 292px,#00a 296px,#00f 299px,#0df 303px,#1fd 305px,#0cf 307px,#00f 311px,#00a 313px,#008 315px,#008 319px,#00e 321px,#01f 322px,#00f 343px,#008 352px,#008 388px,#00e 402px,#00c)"></i><i style="background:linear-gradient(#06f,#06f 2px,#008 3px,#008 6px,#008 88px,#00f 141px,#05f 193px,#00f 241px,#00b 268px,#00f 281px,#01f 288px,#00f 292px,#00b 296px,#00f 299px,#0bf 303px,#0df 305px,#0af 307px,#01f 310px,#00e 311px,#008 315px,#008 319px,#00f 321px,#01f 322px,#03f 324px,#00f 345px,#008 353px,#008)"></i><i style="background:linear-gradient(#06f,#06f 2px,#008 3px,#008 8px,#008 88px,#00f 141px,#04f 192px,#00f 240px,#00b 268px,#00f 281px,#02f 289px,#00f 293px,#00d 296px,#00f 298px,#0bf 302px,#2fd 304px,#2fd 307px,#0cf 309px,#08f 313px,#0df 318px,#df1 322px,#fd0 323px,#f10 330px,#c00 332px,#800 337px,#800 342px,#d00 346px,#f10 347px,#ef1 354px,#2fd 365px,#0df 368px,#02f 383px,#05f 398px,#03f 416px,#01f)"></i><i style="background:linear-gradient(#06f,#06f 2px,#008 3px,#008 6px,#008 88px,#00f 136px,#04f 191px,#00f 239px,#00b 267px,#00f 281px,#02f 288px,#00f 292px,#00c 296px,#00f 299px,#09f 303px,#0af 305px,#00f 310px,#00a 315px,#00d 319px,#00f 320px,#09f 323px,#0df 328px,#1fd 332px,#9f6 343px,#9f6 353px,#ef1 361px,#fe0 367px,#cf2 375px,#1fd 388px,#0df 390px,#00f 404px,#009 423px,#009)"></i><i style="background:linear-gradient(#06f,#05f 3px,#0cf 31px,#02f 49px,#07f 67px,#09f 85px,#06f 103px,#07f 121px,#02f 139px,#05f 157px,#00f 238px,#00b 266px,#00f 280px,#02f 288px,#00f 292px,#00c 296px,#00e 298px,#08f 304px,#07f 306px,#00f 309px,#008 314px,#008 319px,#00e 321px,#01f 322px,#03f 325px,#04f 341px,#00f 347px,#008 353px,#008 384px,#00f 393px,#04f 401px,#02f)"></i><i style="background:linear-gradient(#06f,#06f 2px,#008 3px,#008 88px,#00f 136px,#04f 187px,#00f 237px,#00b 265px,#00f 280px,#02f 288px,#00d 296px,#00f 298px,#08f 302px,#09f 304px,#07f 306px,#00f 309px,#008 314px,#008 319px,#00e 321px,#01f 322px,#03f 325px,#05f 341px,#00f 347px,#008 353px,#009)"></i><i style="background:linear-gradient(#06f,#06f 2px,#0ee 3px,#1fe 11px,#0bf 30px,#1fd 97px,#1fd 131px,#06f 164px,#00f 230px,#00b 264px,#00f 280px,#02f 289px,#00f 297px,#0af 301px,#0cf 303px,#0bf 305px,#00f 309px,#00e 310px,#008 314px,#008 319px,#00e 321px,#01f 322px,#03f 325px,#04f 341px,#00f 347px,#008 353px,#008 372px,#00d 385px,#00f 412px,#00d)"></i><i style="background:linear-gradient(#06f,#06f 2px,#008 3px,#008 8px,#008 88px,#00f 136px,#03f 182px,#00f 236px,#00b 263px,#00f 280px,#02f 289px,#00f 296px,#0df 301px,#2fd 304px,#0bf 306px,#00f 310px,#008 314px,#008 319px,#00e 321px,#01f 322px,#03f 325px,#02f 342px,#00f 345px,#008 352px,#008 380px,#00f 394px,#02f)"></i><i style="background:linear-gradient(#06f,#06f 2px,#008 3px,#008 19px,#008 89px,#00f 136px,#03f 178px,#00f 235px,#00b 262px,#00f 279px,#02f 289px,#00f 294px,#03f 297px,#0ee 300px,#6f9 303px,#4fb 305px,#1fd 306px,#00f 310px,#009 313px,#008 315px,#008 319px,#00e 321px,#01f 322px,#03f 325px,#02f 341px,#00f 346px,#008 353px,#008)"></i><i style="background:linear-gradient(#06f,#06f 2px,#008 3px,#008 13px,#008 89px,#00f 136px,#03f 177px,#00f 234px,#00b 261px,#00f 281px,#01f 295px,#05f 297px,#0df 299px,#3fb 300px,#af4 303px,#af5 304px,#4fa 306px,#0ee 307px,#09f 308px,#01f 310px,#00e 311px,#009 313px,#008 315px,#008 319px,#00e 321px,#01f 322px,#03f 325px,#02f 341px,#00f 346px,#008 353px,#008 392px,#00f 399px,#06f 409px,#00f 438px,#00c)"></i><i style="background:linear-gradient(#06f,#06f 2px,#008 3px,#008 13px,#008 89px,#00f 136px,#03f 176px,#00f 234px,#00b 260px,#00f 281px,#01f 294px,#04f 296px,#0af 298px,#1fd 299px,#df2 302px,#fe0 303px,#cf2 305px,#3fc 307px,#0bf 308px,#02f 310px,#00e 311px,#008 314px,#008 318px,#008 319px,#00e 321px,#01f 322px,#03f 324px,#00f 345px,#00a 353px,#00f 361px,#08f 370px,#0af 375px,#00f 394px,#02f)"></i><i style="background:linear-gradient(#06f,#06f 2px,#008 3px,#008 13px,#008 89px,#00f 136px,#03f 176px,#00f 233px,#00b 260px,#00f 281px,#01f 294px,#04f 296px,#0bf 298px,#2fd 299px,#fe0 302px,#fb0 303px,#fa0 304px,#fe0 305px,#4fa 307px,#0cf 308px,#02f 310px,#00f 311px,#00a 313px,#008 315px,#008 319px,#00e 321px,#01f 322px,#00f 343px,#008 352px,#009)"></i><i style="background:linear-gradient(#06f,#04f 8px,#06f 26px,#03f 44px,#08f 62px,#05f 80px,#08f 98px,#04f 116px,#07f 149px,#03f 170px,#00f 233px,#00a 260px,#00f 281px,#01f 294px,#04f 296px,#0bf 298px,#2fd 299px,#ef0 302px,#fc0 303px,#fc0 304px,#ef0 305px,#4fb 307px,#0cf 308px,#02f 310px,#00e 311px,#00a 313px,#008 315px,#008 319px,#00e 321px,#01f 322px,#00f 343px,#008 352px,#009)"></i><i style="background:linear-gradient(#06f,#06f 2px,#008 3px,#008 13px,#008 89px,#00f 136px,#03f 176px,#00f 233px,#00a 261px,#00f 281px,#02f 288px,#01f 294px,#03f 296px,#09f 298px,#0ee 299px,#8f7 301px,#cf2 303px,#af5 305px,#2fd 307px,#0af 308px,#01f 310px,#00e 311px,#009 313px,#008 315px,#008 319px,#00e 321px,#01f 322px,#03f 324px,#00f 345px,#008 352px,#008 382px,#00e 396px,#00b 426px,#00a)"></i><i style="background:linear-gradient(#06f,#06f 2px,#008 3px,#008 13px,#008 89px,#00f 136px,#03f 176px,#00f 232px,#00a 260px,#00f 281px,#02f 288px,#01f 295px,#05f 297px,#0cf 299px,#2fd 300px,#7f7 303px,#7f7 304px,#2fc 306px,#0cf 307px,#00f 310px,#00d 311px,#008 315px,#008 319px,#00f 321px,#03f 323px,#04f 326px,#04f 342px,#00f 347px,#008 353px,#008 384px,#00f 398px,#00f)"></i><i style="background:linear-gradient(#06f,#06f 11px,#03f 29px,#03f 82px,#01f 100px,#03f 118px,#02f 136px,#05f 154px,#00f 232px,#00a 259px,#00f 280px,#03f 288px,#01f 295px,#05f 298px,#1fd 301px,#3fb 303px,#1fd 305px,#0cf 306px,#00f 310px,#00a 313px,#008 316px,#008 318px,#00d 320px,#01f 321px,#06f 323px,#07f 325px,#0df 341px,#0df 344px,#03f 354px,#09f 370px,#0bf 384px,#2fd 392px,#4fa 400px,#1fd 411px,#0df 417px,#08f 437px,#05f)"></i><i style="background:linear-gradient(#06f,#06f 2px,#08f 3px,#05f 51px,#07f 105px,#02f 123px,#04f 170px,#00f 232px,#00a 259px,#00f 280px,#04f 288px,#00f 295px,#03f 298px,#0af 301px,#0cf 303px,#0af 305px,#00f 309px,#008 314px,#008 319px,#00f 321px,#04f 323px,#07f 327px,#08f 341px,#06f 344px,#00f 348px,#008 354px,#008 369px,#008 390px,#00f 399px,#07f 408px,#06f)"></i><i style="background:linear-gradient(#06f,#0af 19px,#06f 38px,#0cf 56px,#09f 74px,#07f 127px,#04f 145px,#06f 163px,#00f 223px,#00f 233px,#009 259px,#00f 280px,#06f 288px,#00f 294px,#00f 297px,#07f 303px,#06f 305px,#00f 308px,#009 312px,#008 314px,#008 319px,#00f 321px,#04f 323px,#07f 327px,#08f 341px,#06f 344px,#00f 348px,#008 353px,#008 390px,#00d 405px,#00d)"></i><i style="background:linear-gradient(#06f,#06f 2px,#7f7 3px,#3fb 23px,#6f9 41px,#0ee 59px,#9f5 77px,#5f9 95px,#bf4 113px,#1fd 164px,#0df 170px,#04f 194px,#00f 223px,#00f 233px,#009 259px,#00f 279px,#08f 288px,#07f 290px,#00f 295px,#00f 299px,#03f 303px,#00f 307px,#008 313px,#008 319px,#00f 321px,#05f 324px,#06f 330px,#06f 342px,#00f 347px,#008 352px,#008 357px,#008 379px,#00f 386px,#06f 395px,#01f 437px,#00f)"></i><i style="background:linear-gradient(#06f,#06f 2px,#6f8 3px,#6f8 29px,#2fc 48px,#4fa 66px,#af4 84px,#3fb 102px,#6f9 137px,#1fd 154px,#0df 162px,#04f 192px,#00f 223px,#00f 233px,#009 260px,#00f 279px,#0af 288px,#09f 290px,#00f 295px,#00c 298px,#00f 301px,#00f 305px,#008 312px,#008 319px,#00f 321px,#03f 325px,#03f 341px,#00f 346px,#008 353px,#009)"></i><i style="background:linear-gradient(#06f,#06f 2px,#5fa 3px,#4fb 36px,#6f8 54px,#2fc 90px,#6f8 108px,#5f9 126px,#1fd 145px,#05f 180px,#00f 224px,#00f 233px,#009 260px,#00f 279px,#0cf 288px,#0bf 290px,#00f 295px,#00a 298px,#00c 304px,#008 311px,#008 318px,#008 319px,#00f 321px,#04f 324px,#05f 330px,#05f 342px,#00f 347px,#008 353px,#008 369px,#008 394px,#00f 402px,#06f 410px,#04f)"></i><i style="background:linear-gradient(#06f,#06f 2px,#008 3px,#008 15px,#008 89px,#00f 136px,#03f 176px,#00f 232px,#009 260px,#00f 279px,#0df 288px,#0cf 290px,#00f 295px,#009 298px,#00a 304px,#008 311px,#008 318px,#008 319px,#00d 320px,#01f 321px,#06f 324px,#08f 329px,#08f 342px,#00f 348px,#008 353px,#008 365px,#008 389px,#00f 397px,#06f 406px,#05f)"></i><i style="background:linear-gradient(#06f,#06f 2px,#bf4 3px,#9f5 24px,#fe0 58px,#bf4 78px,#cf3 126px,#3fc 149px,#0df 165px,#04f 185px,#00f 224px,#00f 234px,#009 260px,#00f 279px,#0df 288px,#0bf 290px,#00f 295px,#009 298px,#008 309px,#008 319px,#00f 321px,#05f 323px,#07f 327px,#08f 341px,#06f 344px,#00f 348px,#008 353px,#008 386px,#00f 399px,#00e)"></i><i style="background:linear-gradient(#06f,#06f 2px,#008 3px,#008 15px,#008 89px,#00f 136px,#03f 176px,#00f 233px,#009 260px,#00f 279px,#0bf 288px,#0af 290px,#00f 295px,#008 299px,#008 318px,#008 319px,#00f 321px,#04f 323px,#07f 327px,#08f 341px,#07f 344px,#00f 350px,#00c 354px,#00f 363px,#00f 376px,#00d 384px,#00f 393px,#02f 400px,#00f 432px,#00b)"></i><i style="background:linear-gradient(#06f,#06f 2px,#008 3px,#008 15px,#008 89px,#00f 136px,#03f 176px,#00f 233px,#009 261px,#00f 279px,#09f 288px,#08f 290px,#00e 295px,#009 298px,#00a 304px,#008 309px,#008 319px,#00f 321px,#04f 324px,#07f 328px,#08f 341px,#07f 344px,#00f 350px,#00d 354px,#00f 359px,#0df 377px,#1ee 395px,#06f 418px,#03f)"></i><i style="background:linear-gradient(#06f,#06f 2px,#008 3px,#008 6px,#008 87px,#00f 136px,#01f 152px,#03f 181px,#00f 233px,#008 260px,#00f 280px,#07f 288px,#05f 291px,#00f 294px,#00a 298px,#00c 303px,#008 310px,#008 319px,#00e 321px,#05f 325px,#09f 333px,#09f 342px,#00e 349px,#008 353px,#008 367px,#00a 388px,#00f 397px,#02f 405px,#01f)"></i><i style="background:linear-gradient(#06f,#06f 2px,#4fa 3px,#1ee 14px,#5f9 32px,#6f9 68px,#3fc 86px,#6f8 104px,#8f7 140px,#1fd 164px,#0df 171px,#05f 191px,#02f 206px,#00f 234px,#008 260px,#00f 281px,#04f 288px,#00f 294px,#00c 298px,#00f 304px,#008 311px,#008 319px,#00e 321px,#0ee 331px,#1ee 341px,#0cf 344px,#00f 349px,#00e 350px,#008 353px,#008 388px,#00f 397px,#03f 405px,#00f)"></i><i style="background:linear-gradient(#06f,#06f 2px,#0ee 3px,#1fd 6px,#5f9 36px,#3fc 54px,#4fb 72px,#0ee 107px,#4fb 137px,#2fd 148px,#0df 153px,#09f 162px,#03f 194px,#00f 235px,#008 260px,#00f 280px,#03f 289px,#00f 294px,#00f 299px,#03f 303px,#00f 306px,#008 312px,#008 319px,#00e 321px,#1ee 329px,#4fa 333px,#4fa 341px,#2fd 344px,#0df 345px,#00f 350px,#008 353px,#008 354px,#00a)"></i><i style="background:linear-gradient(#06f,#06f 2px,#008 3px,#008 11px,#008 88px,#00f 136px,#03f 175px,#00f 235px,#008 261px,#00f 281px,#02f 289px,#00f 297px,#08f 303px,#06f 305px,#00f 308px,#009 313px,#00b 318px,#00d 319px,#01f 320px,#0df 324px,#2fd 325px,#cf2 330px,#fd0 332px,#fa0 340px,#fb0 342px,#fe0 344px,#2fd 349px,#0cf 350px,#03f 353px,#00f 356px,#008 370px,#008 384px,#00d 398px,#00d)"></i><i style="background:linear-gradient(#06f,#06f 2px,#bf4 3px,#8f7 25px,#7f8 62px,#9f5 97px,#8f7 115px,#cf2 133px,#4fa 151px,#1fd 172px,#0df 178px,#03f 204px,#00f 229px,#00f 237px,#008 260px,#00f 281px,#01f 289px,#00f 295px,#02f 298px,#09f 301px,#0bf 303px,#09f 305px,#00f 309px,#009 313px,#00b 318px,#00d 319px,#01f 320px,#0df 324px,#ef1 330px,#fd0 331px,#fa0 334px,#f80 341px,#fa0 343px,#ef0 345px,#3fc 349px,#0df 350px,#04f 353px,#00f 356px,#008 370px,#008 389px,#00f 399px,#00e)"></i><i style="background:linear-gradient(#06f,#06f 2px,#af4 3px,#8f6 29px,#bf4 65px,#9f6 83px,#af4 146px,#9f6 155px,#2fd 173px,#0df 179px,#03f 203px,#00f 229px,#00f 237px,#008 260px,#00f 281px,#00f 294px,#03f 298px,#0af 301px,#0df 303px,#0af 305px,#01f 308px,#00e 309px,#008 312px,#008 318px,#008 319px,#00e 321px,#0df 327px,#1fd 328px,#7f8 333px,#6f8 342px,#2fd 345px,#0af 347px,#00f 350px,#00d 351px,#008 354px,#008 382px,#00f 392px,#03f 398px,#04f 415px,#05f)"></i><i style="background:linear-gradient(#06f,#06f 2px,#f50 3px,#f90 79px,#f70 129px,#fe0 145px,#1fd 169px,#0df 173px,#03f 193px,#00f 230px,#00f 237px,#008 260px,#00f 281px,#00f 294px,#04f 299px,#0af 301px,#0cf 303px,#0af 305px,#01f 308px,#00e 309px,#008 312px,#008 319px,#00e 321px,#0bf 326px,#1fd 328px,#6f9 332px,#6f9 341px,#3fc 344px,#0cf 346px,#00f 350px,#008 353px,#008 354px,#008 384px,#00b 397px,#008 429px,#008)"></i><i style="background:linear-gradient(#06f,#06f 2px,#008 3px,#008 6px,#008 88px,#00f 136px,#03f 175px,#00f 237px,#008 261px,#00f 284px,#01f 296px,#03f 299px,#08f 301px,#0af 303px,#08f 305px,#00f 308px,#009 311px,#008 313px,#008 319px,#00f 321px,#1ee 328px,#3fb 332px,#2fc 343px,#0cf 345px,#00f 350px,#008 353px,#008 354px,#008 383px,#00f 391px,#05f 399px,#01f)"></i><i style="background:linear-gradient(#06f,#06f 2px,#008 3px,#008 88px,#00f 138px,#03f 175px,#00f 237px,#008 260px,#00f 281px,#01f 294px,#02f 299px,#06f 303px,#00f 307px,#008 312px,#008 318px,#008 319px,#00f 321px,#08f 324px,#1fd 329px,#2fd 342px,#0df 344px,#00e 350px,#008 353px,#008 354px,#008 387px,#00a 400px,#00a)"></i><i style="background:linear-gradient(#06f,#06f 2px,#008 3px,#008 88px,#00f 138px,#03f 175px,#00f 238px,#008 260px,#00f 281px,#02f 299px,#04f 302px,#00f 306px,#008 311px,#008 318px,#008 319px,#00f 321px,#09f 325px,#1fe 331px,#1ee 342px,#0af 345px,#00f 349px,#00e 350px,#008 353px,#008 383px,#00f 391px,#07f 400px,#07f)"></i><i style="background:linear-gradient(#06f,#06f 2px,#008 3px,#008 88px,#00f 138px,#03f 174px,#00f 238px,#009 260px,#00f 285px,#04f 297px,#00f 304px,#008 310px,#008 318px,#008 319px,#00f 321px,#06f 324px,#0bf 329px,#0cf 341px,#0af 344px,#00f 349px,#008 353px,#009)"></i><i style="background:linear-gradient(#06f,#06f 2px,#008 3px,#008 6px,#008 88px,#00f 137px,#03f 174px,#00f 239px,#009 260px,#00e 276px,#00f 285px,#02f 292px,#07f 297px,#00f 304px,#009 307px,#008 310px,#008 319px,#00f 321px,#08f 326px,#0cf 332px,#0cf 342px,#00f 349px,#008 353px,#008 375px,#00f 383px,#05f 388px,#07f 392px,#05f)"></i><i style="background:linear-gradient(#06f,#06f 2px,#008 3px,#008 6px,#008 88px,#00f 137px,#02f 173px,#00f 239px,#009 260px,#00e 275px,#00f 285px,#03f 292px,#0af 297px,#0af 298px,#00e 304px,#008 308px,#008 318px,#008 319px,#00e 321px,#05f 324px,#0cf 330px,#0df 341px,#0af 344px,#00f 349px,#008 353px,#008 389px,#00a 400px,#00d)"></i><i style="background:linear-gradient(#06f,#06f 2px,#7f8 3px,#7f8 33px,#3fb 51px,#4fa 105px,#8f7 136px,#1fd 155px,#0df 160px,#02f 199px,#00f 235px,#009 260px,#00e 275px,#00f 285px,#04f 292px,#0cf 297px,#0af 299px,#00e 304px,#009 306px,#008 308px,#008 318px,#008 319px,#00e 321px,#01f 322px,#0af 331px,#0af 341px,#08f 344px,#00f 349px,#008 353px,#008 394px,#00c 406px,#00e 420px,#00f)"></i><i style="background:linear-gradient(#06f,#06f 2px,#6f9 3px,#8f7 9px,#1fd 63px,#2fd 98px,#5f9 117px,#1fd 140px,#0df 148px,#02f 192px,#00f 240px,#009 260px,#00e 274px,#00f 284px,#04f 291px,#0df 297px,#0af 299px,#00f 303px,#009 306px,#008 309px,#008 318px,#008 319px,#00f 321px,#05f 324px,#1fd 335px,#7f8 344px,#2fd 353px,#1fd 358px,#0cf 363px,#00f 376px,#00b 382px,#00a 388px,#00e)"></i><i style="background:linear-gradient(#06f,#06f 2px,#2fd 3px,#0cf 13px,#1fd 21px,#4fa 31px,#0ee 66px,#1fd 120px,#09f 138px,#02f 189px,#00f 241px,#009 260px,#00f 274px,#00f 284px,#03f 289px,#0cf 297px,#00e 303px,#008 307px,#008 318px,#008 319px,#00e 321px,#01f 322px,#06f 330px,#09f 341px,#08f 344px,#00f 350px,#00c 354px,#008 382px,#00f 401px,#00d)"></i><i style="background:linear-gradient(#06f,#06f 2px,#3fc 3px,#1fd 10px,#0af 23px,#1fd 53px,#0cf 113px,#1fd 131px,#01f 200px,#00f 241px,#009 260px,#00f 273px,#00f 283px,#02f 287px,#0bf 296px,#09f 298px,#02f 300px,#00e 302px,#008 306px,#008 318px,#008 319px,#00e 321px,#01f 322px,#07f 331px,#07f 341px,#00f 348px,#008 353px,#008 362px,#00a 367px,#00f 372px,#0df 379px,#1fd 380px,#8f6 385px,#bf3 390px,#9f5 395px,#2fd 402px,#0df 404px,#05f 411px,#02f 418px,#04f)"></i><i style="background:linear-gradient(#06f,#06f 2px,#008 3px,#008 5px,#008 88px,#00f 137px,#02f 170px,#00f 241px,#00a 260px,#00f 272px,#00f 282px,#01f 286px,#0bf 292px,#0df 295px,#0af 297px,#00f 300px,#008 306px,#008 319px,#00e 321px,#01f 322px,#03f 324px,#06f 331px,#06f 341px,#00f 348px,#008 353px,#008 374px,#00b 385px,#00f 392px,#03f 401px,#00f 419px,#00d)"></i><i style="background:linear-gradient(#06f,#06f 2px,#008 3px,#008 5px,#008 88px,#00f 137px,#02f 170px,#00f 242px,#00a 260px,#00f 271px,#00f 282px,#02f 286px,#0df 292px,#1fd 294px,#0df 296px,#00e 300px,#008 305px,#008 319px,#00e 321px,#01f 322px,#03f 324px,#05f 329px,#05f 341px,#00f 347px,#008 353px,#008 392px,#009 404px,#008)"></i><i style="background:linear-gradient(#06f,#06f 2px,#008 3px,#008 39px,#008 91px,#00f 137px,#02f 169px,#00f 242px,#00a 260px,#00f 272px,#01f 284px,#04f 287px,#1ee 291px,#4fb 294px,#2fd 296px,#0cf 297px,#03f 299px,#00e 300px,#008 304px,#008 319px,#00e 321px,#01f 322px,#04f 325px,#06f 335px,#06f 342px,#00f 348px,#008 353px,#008 383px,#00f 390px,#07f 396px,#0af 400px,#0af)"></i><i style="background:linear-gradient(#06f,#06f 2px,#008 3px,#008 5px,#008 88px,#00f 137px,#02f 169px,#00f 243px,#00a 260px,#00f 271px,#01f 284px,#05f 287px,#0df 290px,#2fc 291px,#6f9 294px,#3fc 296px,#0df 297px,#03f 299px,#00e 300px,#008 304px,#008 319px,#00e 321px,#01f 322px,#04f 325px,#08f 333px,#07f 342px,#00f 348px,#008 353px,#008 358px,#008 378px,#00f 388px,#00f)"></i><i style="background:linear-gradient(#06f,#06f 2px,#008 3px,#008 5px,#008 88px,#00f 137px,#02f 168px,#00f 243px,#00b 260px,#00f 269px,#02f 284px,#05f 287px,#0ee 290px,#7f8 293px,#4fb 296px,#0ee 297px,#03f 299px,#00f 300px,#008 304px,#008 319px,#00f 321px,#04f 324px,#09f 333px,#09f 342px,#00e 349px,#008 354px,#008 387px,#00f 397px,#02f 403px,#03f 413px,#01f)"></i><i style="background:linear-gradient(#06f,#06f 2px,#008 3px,#008 6px,#008 88px,#00f 137px,#02f 168px,#00f 245px,#00c 258px,#00f 266px,#04f 272px,#07f 283px,#0cf 287px,#1fe 288px,#cf3 292px,#ef0 294px,#cf3 296px,#5fa 298px,#0ee 299px,#0bf 300px,#08f 302px,#07f 305px,#0df 318px,#0ee 319px,#bf4 323px,#fd0 328px,#fa0 332px,#fa0 338px,#fa0 342px,#fe0 345px,#3fc 352px,#0df 356px,#00f 381px,#00b 396px,#009 415px,#008)"></i><i style="background:linear-gradient(#06f,#06f 2px,#008 3px,#008 6px,#008 88px,#00f 137px,#02f 168px,#00f 245px,#00b 259px,#00f 266px,#05f 284px,#0bf 288px,#3fb 290px,#8f6 292px,#af4 294px,#8f7 296px,#1fd 298px,#0af 299px,#05f 303px,#0df 313px,#1fd 315px,#5f9 319px,#fd0 322px,#f10 327px,#c00 328px,#800 330px,#800 352px,#e00 363px,#fe0 377px,#df1 379px,#5f9 388px,#1fd 398px,#0cf 402px,#05f 413px,#00f 427px,#00a)"></i><i style="background:linear-gradient(#06f,#06f 2px,#008 3px,#008 68px,#008 97px,#00f 136px,#02f 168px,#00f 245px,#00b 259px,#00f 267px,#02f 273px,#03f 285px,#06f 288px,#0ee 291px,#3fc 293px,#2fc 295px,#0ee 296px,#01f 299px,#00f 300px,#00a 305px,#00e 319px,#0af 323px,#1fe 326px,#9f6 333px,#af5 341px,#8f6 344px,#1fd 348px,#0df 349px,#04f 354px,#00f 371px,#00b 387px,#00f 400px,#00f)"></i><i style="background:linear-gradient(#06f,#06f 2px,#0bf 3px,#0bf 26px,#1fe 44px,#1fd 66px,#0cf 80px,#1fd 98px,#0bf 116px,#0cf 134px,#07f 152px,#01f 188px,#00f 245px,#00c 259px,#00f 267px,#02f 273px,#02f 286px,#0cf 293px,#0bf 295px,#01f 298px,#00c 299px,#008 303px,#008 319px,#00e 321px,#0af 331px,#0df 335px,#3fb 343px,#2fc 352px,#fe0 363px,#df1 369px,#1fd 378px,#0cf 380px,#05f 387px,#01f 401px,#01f)"></i><i style="background:linear-gradient(#06f,#06f 2px,#008 3px,#008 6px,#008 88px,#00f 136px,#02f 168px,#00f 246px,#00c 259px,#00f 266px,#04f 278px,#02f 287px,#09f 293px,#07f 295px,#00e 298px,#00b 299px,#008 302px,#008 319px,#00d 321px,#00f 322px,#04f 324px,#09f 332px,#0bf 342px,#00f 352px,#02f 365px,#00f 383px,#00b 394px,#00a 407px,#00b)"></i><i style="background:linear-gradient(#06f,#06f 2px,#00e 3px,#02f 55px,#00f 87px,#06f 127px,#00f 140px,#02f 171px,#00f 247px,#00c 259px,#00f 266px,#04f 278px,#02f 287px,#06f 293px,#04f 295px,#00f 297px,#009 299px,#008 302px,#008 319px,#00d 321px,#00f 322px,#04f 324px,#09f 331px,#0af 341px,#08f 344px,#00e 349px,#008 353px,#008 380px,#00f 390px,#00f)"></i><i style="background:linear-gradient(#06f,#06f 2px,#008 3px,#008 6px,#008 87px,#00f 135px,#01f 152px,#00f 248px,#00c 259px,#00f 265px,#05f 279px,#02f 287px,#04f 293px,#00f 296px,#009 298px,#008 300px,#008 319px,#00d 321px,#01f 322px,#08f 329px,#0af 334px,#09f 342px,#00e 349px,#008 353px,#008 382px,#00f 392px,#03f 399px,#06f)"></i><i style="background:linear-gradient(#06f,#06f 2px,#008 3px,#008 5px,#008 88px,#00f 136px,#02f 169px,#00f 249px,#00d 259px,#00f 264px,#08f 279px,#05f 287px,#08f 293px,#06f 296px,#01f 298px,#00f 300px,#07f 319px,#0df 321px,#6f8 325px,#bf3 334px,#bf4 342px,#2fd 348px,#0bf 350px,#05f 354px,#00f 365px,#00c 376px,#00f 383px,#06f 393px,#05f 415px,#09f)"></i><i style="background:linear-gradient(#06f,#06f 2px,#6f9 3px,#6f8 19px,#4fb 38px,#6f9 73px,#3fc 91px,#3fb 119px,#1fd 130px,#08f 145px,#03f 176px,#00f 250px,#00d 259px,#00f 264px,#08f 279px,#05f 287px,#07f 294px,#05f 296px,#00f 298px,#00f 301px,#07f 319px,#0df 321px,#5f9 324px,#df1 334px,#cf2 342px,#3fc 348px,#0cf 350px,#05f 354px,#00f 365px,#00a 381px,#00f 388px,#08f 396px,#09f 400px,#01f)"></i><i style="background:linear-gradient(#06f,#06f 2px,#008 3px,#008 87px,#00f 134px,#01f 149px,#03f 172px,#00f 251px,#00d 259px,#00f 264px,#07f 279px,#01f 287px,#00f 295px,#008 298px,#008 316px,#008 319px,#00f 321px,#04f 323px,#0df 333px,#1ee 341px,#0cf 344px,#00f 350px,#00e 351px,#00a 355px,#009 386px,#00f 395px,#03f 403px,#00f 425px,#00c)"></i><i style="background:linear-gradient(#06f,#06f 2px,#bf4 3px,#bf4 66px,#fe0 81px,#af4 127px,#5f9 154px,#1fd 164px,#0df 169px,#05f 185px,#02f 199px,#00f 263px,#08f 279px,#04f 287px,#05f 294px,#00f 298px,#00f 301px,#0df 316px,#2fc 319px,#cf2 322px,#fd0 324px,#e00 334px,#800 342px,#f20 349px,#f50 354px,#d00 361px,#900 369px,#d00 377px,#f20 379px,#fd0 387px,#df1 389px,#0ee 404px,#06f 413px,#04f 422px,#05f)"></i><i style="background:linear-gradient(#06f,#06f 2px,#008 3px,#008 13px,#008 89px,#00f 134px,#04f 172px,#00f 263px,#08f 279px,#06f 284px,#02f 288px,#00f 296px,#008 299px,#00a 319px,#00d 320px,#06f 323px,#1fd 337px,#0df 343px,#00f 350px,#009 355px,#008)"></i><i style="background:linear-gradient(#06f,#06f 2px,#008 3px,#008 13px,#008 86px,#00f 133px,#04f 173px,#00f 263px,#04f 269px,#05f 275px,#09f 279px,#06f 284px,#01f 288px,#00f 295px,#008 298px,#008 299px,#008 319px,#00d 321px,#00f 322px,#0af 335px,#0bf 341px,#09f 344px,#00f 349px,#008 353px,#009)"></i><i style="background:linear-gradient(#06f,#06f 2px,#008 3px,#008 88px,#00f 137px,#05f 175px,#03f 235px,#00f 262px,#05f 269px,#05f 275px,#0af 279px,#07f 284px,#01f 288px,#00f 295px,#008 299px,#008 319px,#00d 321px,#00f 322px,#03f 324px,#08f 338px,#07f 343px,#00f 348px,#008 352px,#008 356px,#008 388px,#00f 394px,#0cf 401px,#1fd 405px,#2fc)"></i><i style="background:linear-gradient(#06f,#06f 2px,#008 3px,#008 88px,#00f 136px,#06f 176px,#04f 235px,#00f 261px,#05f 269px,#06f 275px,#0af 279px,#08f 284px,#02f 288px,#00f 296px,#008 299px,#008 319px,#00f 322px,#03f 325px,#06f 341px,#00f 347px,#008 353px,#008 379px,#00f 383px,#0df 389px,#1fd 390px,#8f7 396px,#9f6)"></i><i style="background:linear-gradient(#06f,#06f 2px,#1fe 7px,#3fb 11px,#2fd 14px,#0df 16px,#00f 24px,#00a 29px,#008 35px,#008 80px,#009 101px,#00f 136px,#06f 177px,#04f 235px,#00f 260px,#05f 269px,#06f 275px,#0bf 279px,#08f 284px,#02f 288px,#03f 293px,#00f 297px,#008 299px,#008 303px,#008 319px,#00d 321px,#02f 323px,#06f 333px,#06f 341px,#00f 348px,#008 353px,#008 371px,#00f 377px,#0df 384px,#1fd 386px,#3fc 397px,#0df)"></i><i style="background:linear-gradient(#06f,#06f 2px,#1fe 7px,#3fb 11px,#2fd 14px,#0df 16px,#00f 24px,#00a 29px,#008 35px,#008 80px,#009 101px,#00f 135px,#06f 163px,#07f 181px,#05f 235px,#01f 260px,#06f 269px,#06f 275px,#0cf 279px,#09f 284px,#03f 287px,#05f 294px,#00f 298px,#00b 300px,#008 307px,#008 319px,#00d 321px,#00f 322px,#09f 331px,#0af 335px,#0af 342px,#00f 349px,#008 353px,#008 374px,#00f 383px,#04f 390px,#05f 400px,#03f)"></i><i style="background:linear-gradient(#06f,#06f 2px,#1fe 7px,#3fb 11px,#2fd 14px,#0df 16px,#00f 24px,#00a 29px,#008 35px,#008 80px,#009 102px,#00f 134px,#07f 165px,#08f 185px,#06f 236px,#02f 260px,#06f 269px,#07f 275px,#0df 279px,#0af 284px,#05f 287px,#09f 292px,#09f 295px,#00f 300px,#008 306px,#008 319px,#00e 321px,#01f 322px,#1ee 330px,#3fc 333px,#2fd 343px,#0cf 345px,#00f 350px,#008 353px,#008 354px,#008 375px,#00f 390px,#00e)"></i><i style="background:linear-gradient(#06f,#06f 2px,#fa0 3px,#f60 10px,#f80 15px,#ef0 22px,#af4 30px,#8f7 64px,#bf4 83px,#af5 150px,#1fd 178px,#0af 200px,#07f 239px,#03f 260px,#07f 269px,#07f 275px,#0ee 279px,#0bf 284px,#06f 287px,#1fd 292px,#1fd 296px,#01f 302px,#008 307px,#008 319px,#00e 321px,#0cf 326px,#1fd 327px,#8f7 332px,#7f7 342px,#3fc 345px,#0bf 347px,#01f 350px,#00d 351px,#008 354px,#008 383px,#00b 396px,#008)"></i><i style="background:linear-gradient(#06f,#06f 2px,#df2 3px,#fe0 6px,#fc0 11px,#fe0 16px,#8f7 25px,#5fa 32px,#8f6 67px,#6f9 86px,#8f6 103px,#6f9 121px,#7f8 143px,#1fd 170px,#0df 182px,#08f 239px,#04f 260px,#08f 269px,#08f 275px,#1fe 279px,#0cf 283px,#08f 287px,#0df 289px,#2fc 290px,#7f8 292px,#9f6 294px,#7f7 297px,#3fb 299px,#0ee 300px,#0af 301px,#00f 304px,#00a 306px,#008 308px,#008 319px,#00f 321px,#0df 325px,#2fc 326px,#bf4 331px,#cf3 341px,#9f6 344px,#1fd 347px,#0cf 348px,#01f 351px,#00f 352px,#00a 355px,#00c 379px,#00f 383px,#0cf 389px,#3fc 391px,#9f6 395px,#bf4 398px,#3fc)"></i><i style="background:linear-gradient(#06f,#06f 2px,#3fb 3px,#8f6 12px,#1fd 29px,#0df 35px,#09f 63px,#1ee 82px,#07f 117px,#0df 136px,#0bf 168px,#0cf 207px,#0af 240px,#05f 260px,#08f 269px,#08f 275px,#2fd 279px,#0af 286px,#0af 287px,#0cf 288px,#3fc 289px,#df1 292px,#fd0 293px,#fc0 295px,#fe0 298px,#af5 300px,#2fd 302px,#0af 303px,#02f 305px,#00f 306px,#00d 308px,#00b 318px,#00c 319px,#00f 320px,#0df 323px,#2fc 324px,#ef1 328px,#f90 331px,#e00 342px,#f30 345px,#fe0 350px,#bf4 353px,#df1 357px,#fe0 359px,#f30 374px,#c00 376px,#800 378px,#800 408px,#d00 412px,#f20 415px,#f80 424px,#fc0 434px,#fe0)"></i><i style="background:linear-gradient(#06f,#06f 2px,#cf2 3px,#fe0 7px,#fd0 11px,#ef0 16px,#6f8 30px,#3fc 44px,#2fd 98px,#4fa 136px,#0ee 178px,#0df 207px,#0bf 240px,#06f 260px,#09f 268px,#09f 275px,#1fd 278px,#2fc 280px,#0cf 287px,#1fd 288px,#bf3 290px,#fd0 291px,#f40 294px,#f20 297px,#f40 299px,#ef1 302px,#3fb 304px,#0df 305px,#07f 308px,#04f 313px,#00f 316px,#00c 319px,#00e 320px,#0af 323px,#0ee 324px,#3fc 325px,#df1 329px,#fd0 331px,#f40 342px,#f60 345px,#df1 350px,#bf4 353px,#ef0 356px,#f80 361px,#f50 366px,#f70 370px,#fe0 375px,#4fa 382px,#2fd 386px,#9f6 399px,#6f8 416px,#af5)"></i><i style="background:linear-gradient(#06f,#06f 2px,#bf4 3px,#fe0 10px,#fe0 15px,#7f7 30px,#8f6 54px,#4fb 72px,#9f5 109px,#8f6 144px,#0ee 175px,#0df 233px,#07f 261px,#0af 268px,#0af 275px,#0df 277px,#2fd 278px,#3fc 280px,#0df 286px,#0ee 287px,#9f5 289px,#fe0 290px,#f20 292px,#b00 293px,#800 294px,#800 295px,#800 301px,#900 302px,#f20 303px,#ef0 305px,#9f5 307px,#6f8 312px,#0ee 315px,#01f 319px,#04f 321px,#0ee 324px,#cf3 328px,#fe0 330px,#fc0 341px,#fe0 343px,#4fa 347px,#1fe 348px,#0bf 349px,#00f 352px,#00b 355px,#00c 372px,#00f 376px,#0cf 385px,#2fd 389px,#1ee)"></i><i style="background:linear-gradient(#06f,#06f 2px,#9f5 3px,#cf3 10px,#5f9 26px,#0ee 47px,#4fb 65px,#1fd 73px,#0bf 83px,#0df 86px,#1fd 89px,#9f6 102px,#0ee 120px,#0bf 161px,#1fd 198px,#1ee 227px,#0df 244px,#09f 261px,#0bf 276px,#0ee 277px,#4fb 279px,#0ee 286px,#1fd 287px,#bf3 289px,#fa0 290px,#f30 291px,#a00 292px,#800 293px,#800 304px,#b00 305px,#f20 306px,#fc0 313px,#ef1 314px,#1fd 317px,#0af 318px,#06f 319px,#05f 320px,#0ee 324px,#df1 329px,#fd0 331px,#fd0 341px,#ef1 343px,#3fc 347px,#0cf 348px,#00f 351px,#008 354px,#008 369px,#00f 373px,#0cf 380px,#1fd 382px,#3fb 386px,#2fc)"></i><i style="background:linear-gradient(#06f,#06f 2px,#0ee 3px,#1fd 4px,#6f9 12px,#1fd 20px,#0df 23px,#03f 47px,#09f 65px,#03f 101px,#0af 119px,#04f 135px,#04f 143px,#1fd 193px,#1fd 239px,#0af 261px,#0cf 276px,#1fd 277px,#5fa 279px,#1fe 286px,#2fc 287px,#df1 289px,#f80 290px,#e00 291px,#800 292px,#800 306px,#c00 311px,#f40 313px,#fc0 315px,#bf3 316px,#1fe 318px,#0af 319px,#09f 321px,#0df 323px,#2fd 324px,#df1 328px,#fd0 329px,#f90 331px,#f30 342px,#f60 344px,#fe0 347px,#3fc 351px,#0bf 353px,#03f 366px,#05f 370px,#0df 375px,#2fc 377px,#8f7 384px,#4fb)"></i><i style="background:linear-gradient(#06f,#06f 2px,#1fe 7px,#3fb 11px,#2fd 14px,#0df 16px,#00f 24px,#00a 29px,#008 35px,#008 80px,#009 102px,#00f 133px,#0cf 171px,#1fd 190px,#1fd 247px,#0bf 261px,#0df 276px,#2fd 277px,#5f9 279px,#2fd 286px,#3fc 287px,#ef0 289px,#f60 290px,#b00 291px,#800 292px,#800 309px,#b00 312px,#e10 313px,#ef0 316px,#4fb 318px,#0df 320px,#3fb 323px,#fd0 327px,#e00 331px,#800 334px,#800 350px,#d00 352px,#f10 353px,#fe0 363px,#ef1 364px,#1fd 372px,#0cf 374px,#0bf 377px,#0df 381px,#2fd 383px,#7f7 391px,#2fd 431px,#0ee)"></i><i style="background:linear-gradient(#06f,#06f 2px,#6f9 3px,#8f7 11px,#1fd 23px,#0df 30px,#0df 36px,#09f 54px,#0cf 72px,#0af 90px,#0df 108px,#09f 126px,#08f 141px,#0df 178px,#1fd 191px,#3fc 238px,#1fd 252px,#0df 258px,#0ee 268px,#0cf 275px,#0ee 276px,#6f9 279px,#2fd 286px,#3fb 287px,#fe0 289px,#f60 290px,#a00 291px,#800 292px,#800 307px,#a00 310px,#d00 312px,#fc0 315px,#bf3 316px,#0ee 318px,#09f 319px,#07f 321px,#0df 325px,#2fd 326px,#af4 331px,#cf3 341px,#9f5 344px,#2fc 347px,#0df 348px,#02f 352px,#00f 354px,#09f 377px,#0ee 381px,#cf2 389px,#fe0 392px,#fe0 398px,#5fa 416px,#0ee 430px,#0af)"></i><i style="background:linear-gradient(#06f,#06f 2px,#1fe 7px,#3fb 11px,#2fd 14px,#0df 16px,#00f 24px,#00a 29px,#008 35px,#008 80px,#009 102px,#00f 133px,#0bf 172px,#1fd 192px,#3fb 240px,#0ee 259px,#1fe 268px,#0df 275px,#7f8 279px,#2fc 286px,#4fb 287px,#fe0 289px,#f50 290px,#a00 291px,#800 292px,#800 305px,#e00 308px,#f40 312px,#df1 315px,#4fb 317px,#0cf 318px,#08f 319px,#06f 321px,#0cf 325px,#3fc 327px,#9f6 331px,#9f6 341px,#7f7 343px,#1fd 346px,#01f 350px,#00e 351px,#008 354px,#008 378px,#009 380px,#00f 383px,#0cf 388px,#2fc 390px,#8f6 394px,#af5 397px,#7f8)"></i><i style="background:linear-gradient(#06f,#06f 2px,#008 3px,#008 13px,#008 89px,#00f 134px,#0bf 172px,#1fd 195px,#4fb 241px,#0ee 261px,#1fd 270px,#0df 275px,#7f7 279px,#3fc 286px,#4fa 287px,#fd0 289px,#f50 290px,#a00 291px,#800 292px,#800 304px,#f20 305px,#f90 306px,#fb0 307px,#df1 312px,#2fc 316px,#0bf 317px,#07f 318px,#03f 320px,#06f 322px,#1ee 326px,#7f8 329px,#9f5 332px,#9f6 342px,#1fd 346px,#0cf 347px,#01f 350px,#00e 351px,#008 353px,#008 354px,#008 381px,#00f 386px,#0cf 391px,#3fc 393px,#9f6 399px,#9f5)"></i><i style="background:linear-gradient(#06f,#06f 2px,#00e 3px,#04f 18px,#00f 30px,#00c 37px,#00f 47px,#04f 72px,#01f 91px,#01f 108px,#05f 127px,#01f 145px,#04f 162px,#1fd 203px,#4fa 243px,#0ee 275px,#8f7 279px,#3fb 286px,#4fa 287px,#fd0 289px,#f50 290px,#a00 291px,#800 292px,#800 302px,#f30 303px,#fb0 304px,#af4 305px,#5fa 306px,#1fd 308px,#0bf 313px,#00f 318px,#00f 320px,#0cf 325px,#3fc 327px,#8f6 331px,#9f6 341px,#7f7 343px,#1fe 346px,#01f 350px,#00e 351px,#008 353px,#008 354px,#008 384px,#00f 393px,#03f 400px,#00f 426px,#00e)"></i><i style="background:linear-gradient(#06f,#06f 2px,#0cf 3px,#0cf 28px,#1fe 46px,#06f 65px,#0cf 101px,#08f 137px,#1fd 154px,#0bf 173px,#1fd 207px,#4fa 243px,#1ee 275px,#8f6 279px,#4fb 286px,#5fa 287px,#fe0 289px,#f50 290px,#b00 291px,#800 292px,#800 300px,#d00 301px,#f70 302px,#ef1 303px,#0df 305px,#07f 306px,#03f 308px,#00f 316px,#00d 318px,#01f 320px,#0df 324px,#2fd 325px,#bf4 331px,#cf3 341px,#9f6 344px,#2fd 347px,#0cf 348px,#00f 352px,#00e 353px,#00c 355px,#009 377px,#00b 393px,#00a)"></i><i style="background:linear-gradient(#06f,#06f 2px,#008 3px,#008 28px,#008 90px,#00f 136px,#09f 174px,#1fd 215px,#4fa 245px,#1fe 275px,#8f6 279px,#5fa 287px,#fe0 289px,#e00 291px,#800 292px,#800 298px,#800 299px,#e00 300px,#fe0 302px,#8f6 303px,#1fd 304px,#07f 305px,#02f 306px,#00f 307px,#00f 318px,#01f 319px,#0cf 322px,#2fd 323px,#fe0 330px,#fc0 340px,#fe0 343px,#cf3 345px,#2fd 349px,#0cf 350px,#03f 354px,#00f 364px,#00c 378px,#00f 387px,#02f 394px,#01f 416px,#03f)"></i><i style="background:linear-gradient(#06f,#04f 33px,#09f 69px,#07f 87px,#00f 105px,#09f 123px,#04f 156px,#1fd 222px,#4fa 246px,#1fe 275px,#8f6 279px,#3fb 287px,#cf3 289px,#fb0 290px,#e00 292px,#800 294px,#b00 297px,#e10 298px,#ef1 301px,#2fd 303px,#07f 304px,#00f 305px,#008 308px,#008 318px,#008 319px,#00f 321px,#1fe 326px,#7f7 331px,#7f7 341px,#2fc 345px,#0af 347px,#00f 350px,#00d 351px,#008 354px,#008 369px,#00f 383px,#0af 392px,#0cf 397px,#03f 414px,#00f 422px,#00f)"></i><i style="background:linear-gradient(#06f,#06f 2px,#008 3px,#008 30px,#008 90px,#00f 137px,#08f 173px,#1fd 227px,#4fb 247px,#1fe 275px,#8f6 279px,#3fc 287px,#5f9 288px,#ef0 290px,#fa0 291px,#f30 293px,#f30 295px,#f50 297px,#fc0 299px,#cf2 300px,#3fc 302px,#0bf 303px,#04f 304px,#00e 305px,#008 307px,#008 308px,#008 318px,#008 319px,#00f 321px,#0df 325px,#1fd 326px,#8f6 331px,#8f6 341px,#3fc 345px,#0bf 347px,#01f 350px,#00d 351px,#008 354px,#008 368px,#00a 374px,#00f 380px,#07f 389px,#08f 395px,#00f 410px,#00a 426px,#009)"></i><i style="background:linear-gradient(#06f,#06f 2px,#008 3px,#008 39px,#008 91px,#00f 138px,#07f 171px,#0df 221px,#1fd 231px,#3fb 247px,#2fc 274px,#3fb 276px,#af4 279px,#9f6 284px,#5f9 287px,#fe0 290px,#f60 292px,#f30 294px,#f60 297px,#fc0 299px,#df2 300px,#2fd 303px,#0af 304px,#05f 306px,#04f 309px,#07f 318px,#0cf 320px,#2fd 321px,#ef0 326px,#f70 330px,#f60 333px,#f70 342px,#fe0 345px,#4fb 349px,#1ee 350px,#0bf 351px,#04f 354px,#00f 363px,#00b 378px,#00f 432px,#05f)"></i><i style="background:linear-gradient(#06f,#06f 2px,#008 3px,#008 39px,#008 91px,#00f 138px,#0df 225px,#1fd 235px,#3fc 248px,#1fd 274px,#2fc 276px,#8f7 278px,#af5 280px,#7f7 284px,#3fc 287px,#fe0 292px,#fd0 294px,#ef0 296px,#3fb 300px,#0ee 301px,#0af 302px,#01f 305px,#00e 309px,#00f 318px,#0bf 322px,#2fc 324px,#cf2 330px,#ef1 333px,#df1 342px,#9f6 345px,#2fd 348px,#0cf 349px,#04f 352px,#01f 355px,#06f 380px,#02f 400px,#04f)"></i><i style="background:linear-gradient(#06f,#07f 33px,#03f 51px,#03f 105px,#07f 141px,#02f 159px,#05f 173px,#0df 229px,#1fd 238px,#2fc 249px,#0ee 275px,#7f8 278px,#8f6 280px,#6f9 284px,#0ee 287px,#9f6 293px,#4fb 297px,#1ee 298px,#0af 299px,#00f 302px,#008 306px,#008 318px,#008 319px,#00f 321px,#0df 329px,#1fd 331px,#2fd 343px,#0df 345px,#00f 352px,#00f 356px,#08f 366px,#0af 371px,#08f 377px,#00f 387px,#00a 395px,#009 404px,#00e)"></i><i style="background:linear-gradient(#06f,#06f 2px,#008 3px,#008 11px,#008 88px,#00f 139px,#09f 214px,#1fd 242px,#0df 274px,#1fe 276px,#6f8 278px,#8f6 280px,#6f9 284px,#0ee 287px,#6f8 292px,#3fc 296px,#09f 298px,#01f 300px,#00e 301px,#008 305px,#008 318px,#008 319px,#00f 321px,#0cf 331px,#0df 341px,#0af 344px,#00f 349px,#008 353px,#008 381px,#00a 393px,#00a)"></i><i style="background:linear-gradient(#06f,#06f 2px,#008 3px,#008 10px,#008 88px,#00f 140px,#08f 213px,#1fe 245px,#0bf 261px,#0df 275px,#1ee 276px,#6f8 278px,#8f7 280px,#6f9 284px,#0ee 287px,#5f9 292px,#3fc 295px,#0bf 297px,#02f 299px,#00e 300px,#00a 301px,#008 304px,#008 318px,#008 319px,#00f 321px,#0cf 331px,#0df 341px,#0bf 344px,#00f 349px,#008 353px,#008 354px,#008 375px,#00f 379px,#0cf 384px,#3fc 386px,#9f5 390px,#bf4 393px,#af4)"></i><i style="background:linear-gradient(#06f,#06f 2px,#008 3px,#008 10px,#008 88px,#00f 140px,#07f 212px,#0ee 244px,#0af 261px,#0cf 275px,#0ee 276px,#3fc 277px,#7f7 279px,#8f7 280px,#6f9 284px,#0ee 287px,#5fa 292px,#2fd 295px,#09f 297px,#00f 299px,#009 301px,#008 303px,#008 318px,#008 319px,#00f 321px,#0ee 331px,#1fe 341px,#0cf 344px,#00f 349px,#00e 350px,#008 353px,#008 372px,#00f 376px,#0df 381px,#1fd 382px,#9f6 386px,#bf3 390px,#bf3)"></i><i style="background:linear-gradient(#06f,#06f 2px,#008 3px,#008 10px,#008 88px,#00f 140px,#07f 211px,#0df 244px,#0cf 251px,#08f 262px,#0bf 274px,#0df 276px,#5f9 278px,#7f7 280px,#6f9 284px,#1ee 287px,#5f9 292px,#2fd 295px,#0df 296px,#00f 299px,#00a 300px,#008 302px,#008 318px,#008 319px,#00f 321px,#07f 324px,#1fd 329px,#2fd 343px,#0cf 345px,#00f 350px,#008 353px,#008 354px,#008 380px,#00f 384px,#0cf 389px,#3fc 391px,#9f6 395px,#af4 398px,#5fa)"></i><i style="background:linear-gradient(#06f,#06f 2px,#7f7 3px,#bf4 10px,#2fc 26px,#1fd 42px,#0df 52px,#5fa 72px,#2fd 90px,#3fb 108px,#1fd 119px,#0df 130px,#05f 188px,#07f 214px,#0cf 245px,#07f 262px,#0af 274px,#0cf 276px,#2fd 277px,#7f8 279px,#7f8 280px,#5f9 284px,#1ee 287px,#6f9 292px,#2fc 295px,#0df 296px,#00f 299px,#00a 300px,#008 302px,#008 318px,#009 319px,#00d 320px,#01f 321px,#0cf 325px,#2fc 327px,#5fa 330px,#7f8 341px,#2fd 346px,#0df 347px,#04f 351px,#01f 354px,#0df 372px,#1fd 375px,#ef1 397px,#bf4 405px,#2fd 418px,#0df 421px,#00f 439px,#00a 454px,#008)"></i><i style="background:linear-gradient(#06f,#06f 2px,#df2 3px,#fe0 5px,#fa0 11px,#df1 19px,#6f9 31px,#1fd 47px,#1fd 65px,#5fa 83px,#1fd 101px,#5f9 127px,#5fa 136px,#1fd 144px,#0df 149px,#04f 186px,#06f 212px,#0cf 245px,#05f 262px,#09f 274px,#0cf 276px,#2fd 277px,#6f8 279px,#7f8 280px,#5f9 284px,#1fe 287px,#6f9 292px,#2fc 295px,#0df 296px,#00e 299px,#00a 300px,#008 302px,#008 318px,#00e 320px,#09f 323px,#1fd 327px,#4fa 341px,#1fe 345px,#00f 352px,#00e 354px,#00f 360px,#09f 379px,#0df 382px,#1fd 383px,#df1 388px,#fd0 389px,#f20 393px,#c00 395px,#800 398px,#f10 413px,#fa0 438px,#fc0)"></i><i style="background:linear-gradient(#06f,#06f 2px,#6f9 3px,#cf3 12px,#bf4 16px,#1fd 26px,#0df 29px,#0bf 39px,#1ee 70px,#0df 139px,#07f 159px,#08f 173px,#05f 196px,#0bf 245px,#04f 262px,#09f 275px,#1fd 277px,#6f8 279px,#7f8 280px,#5f9 284px,#1ee 287px,#6f9 292px,#2fc 295px,#0df 296px,#00e 299px,#009 300px,#008 301px,#008 318px,#00f 320px,#09f 323px,#0ee 327px,#1ee 341px,#0cf 344px,#00f 349px,#00e 350px,#008 353px,#008 385px,#00f 399px,#01f)"></i><i style="background:linear-gradient(#06f,#06f 2px,#0bf 3px,#2fc 5px,#7f8 8px,#8f6 11px,#7f8 14px,#2fc 17px,#0bf 19px,#00f 25px,#00a 29px,#008 35px,#008 80px,#00f 141px,#05f 209px,#0bf 243px,#0af 250px,#04f 262px,#09f 275px,#1fd 277px,#6f9 279px,#6f8 280px,#5f9 284px,#1ee 287px,#6f9 292px,#2fc 295px,#0df 296px,#00e 299px,#009 300px,#008 301px,#008 318px,#00f 320px,#09f 323px,#0ee 327px,#1ee 341px,#0bf 344px,#00f 349px,#008 353px,#008 358px,#008 374px,#00f 378px,#0bf 382px,#1fe 383px,#3fb 384px,#cf3 388px,#fe0 391px,#af4)"></i><i style="background:linear-gradient(#06f,#06f 2px,#fd0 3px,#fb0 6px,#f90 11px,#ef1 20px,#af4 29px,#bf4 106px,#7f8 124px,#9f5 142px,#6f9 158px,#1fd 168px,#0af 179px,#05f 197px,#0af 245px,#04f 261px,#09f 275px,#1fd 277px,#6f9 279px,#6f8 280px,#5fa 284px,#0ee 287px,#5fa 292px,#2fd 295px,#0cf 296px,#00e 299px,#009 300px,#008 301px,#008 317px,#008 318px,#00c 319px,#01f 320px,#0af 323px,#0ee 326px,#1fe 341px,#0cf 344px,#00f 349px,#00e 350px,#008 353px,#008 379px,#00f 388px,#03f 396px,#00f)"></i><i style="background:linear-gradient(#06f,#06f 2px,#0bf 3px,#2fc 5px,#7f8 8px,#8f6 11px,#7f8 14px,#2fc 17px,#0bf 19px,#00f 25px,#00a 29px,#008 35px,#008 80px,#00f 141px,#05f 208px,#0af 243px,#09f 250px,#04f 262px,#09f 275px,#1fd 277px,#6f9 279px,#6f8 280px,#5fa 284px,#0df 287px,#4fb 291px,#3fc 294px,#0cf 296px,#00e 299px,#009 300px,#008 301px,#008 318px,#00c 319px,#00f 320px,#0af 323px,#1fe 327px,#1fd 341px,#0cf 344px,#01f 349px,#00e 350px,#008 353px,#008 368px,#00e 372px,#01f 373px,#0bf 377px,#2fc 379px,#9f5 383px,#cf3 386px,#ef0 419px,#fa0)"></i><i style="background:linear-gradient(#06f,#06f 2px,#af4 3px,#fe0 9px,#ef0 15px,#5fa 28px,#2fc 39px,#1fe 57px,#5fa 76px,#2fc 94px,#5fa 112px,#1fd 139px,#0df 148px,#06f 165px,#04f 181px,#05f 207px,#0af 244px,#05f 261px,#09f 274px,#0bf 276px,#1fd 277px,#6f9 279px,#6f8 280px,#5fa 284px,#1fe 286px,#0cf 287px,#3fc 291px,#1fd 294px,#0bf 296px,#00d 299px,#009 300px,#008 301px,#008 318px,#00f 320px,#0af 324px,#1ee 329px,#0ee 342px,#00e 350px,#008 353px,#008 365px,#00f 369px,#0df 374px,#2fd 375px,#af5 379px,#ef1 383px,#ef1 422px,#fa0)"></i><i style="background:linear-gradient(#06f,#06f 2px,#0bf 3px,#2fc 5px,#7f8 8px,#8f6 11px,#7f8 14px,#2fc 17px,#0bf 19px,#00f 25px,#00a 29px,#008 35px,#008 80px,#00f 141px,#05f 207px,#0af 242px,#06f 262px,#09f 274px,#0cf 276px,#1fd 277px,#6f8 279px,#7f8 280px,#5fa 284px,#1fe 286px,#0cf 287px,#2fd 293px,#0bf 296px,#00f 299px,#00a 300px,#009 303px,#00e 318px,#01f 319px,#0af 321px,#2fc 323px,#9f5 329px,#ef1 341px,#bf3 345px,#1fd 351px,#0cf 353px,#08f 367px,#0df 372px,#2fc 374px,#cf3 380px,#fe0 383px,#af5 414px,#df2)"></i><i style="background:linear-gradient(#06f,#06f 2px,#4fa 3px,#af5 11px,#2fd 25px,#0df 31px,#3fc 53px,#1fd 59px,#0af 72px,#1fd 89px,#3fc 107px,#1fd 115px,#0df 125px,#04f 193px,#09f 243px,#06f 261px,#0af 274px,#0cf 276px,#2fd 277px,#7f8 279px,#7f8 280px,#5f9 284px,#1fd 286px,#0cf 287px,#2fd 294px,#0cf 296px,#02f 299px,#00e 300px,#00f 306px,#09f 317px,#0df 319px,#3fb 320px,#df1 323px,#fd0 324px,#f50 328px,#e00 332px,#800 341px,#800 343px,#d00 346px,#f20 347px,#fd0 352px,#df1 354px,#2fc 371px,#4fa 375px,#fe0 383px,#fa0 388px,#ef1 401px,#7f7)"></i><i style="background:linear-gradient(#06f,#06f 2px,#0bf 3px,#2fc 5px,#7f8 8px,#8f6 11px,#7f8 14px,#2fc 17px,#0bf 19px,#00f 25px,#00a 29px,#008 35px,#008 80px,#00f 140px,#09f 242px,#07f 261px,#0af 275px,#0cf 276px,#2fd 277px,#6f8 279px,#6f8 280px,#2fc 285px,#0df 286px,#0af 288px,#0cf 291px,#0bf 294px,#08f 296px,#01f 298px,#00c 299px,#008 300px,#008 301px,#008 318px,#00c 320px,#00f 321px,#08f 324px,#1fd 330px,#1fd 342px,#0bf 345px,#00f 350px,#008 354px,#008 374px,#00e 378px,#01f 379px,#0cf 384px,#2fc 386px,#8f7 392px,#4fb)"></i><i style="background:linear-gradient(#06f,#06f 2px,#008 3px,#008 10px,#008 88px,#00f 140px,#09f 241px,#07f 261px,#0af 268px,#0af 275px,#0cf 276px,#2fd 277px,#6f8 279px,#6f8 280px,#2fc 285px,#0cf 286px,#09f 288px,#0af 294px,#07f 296px,#00f 298px,#00c 299px,#008 300px,#008 318px,#009 319px,#00f 321px,#06f 324px,#0df 330px,#0ee 341px,#0bf 344px,#00f 349px,#00e 350px,#008 354px,#008 381px,#00b 399px,#009)"></i><i style="background:linear-gradient(#06f,#06f 2px,#008 3px,#008 10px,#008 88px,#00f 140px,#09f 240px,#08f 261px,#0bf 268px,#0bf 275px,#0cf 276px,#2fd 277px,#6f8 279px,#7f8 280px,#2fd 285px,#0cf 286px,#08f 288px,#09f 292px,#07f 295px,#00f 298px,#008 300px,#008 301px,#008 318px,#00f 321px,#0cf 331px,#0df 341px,#0bf 344px,#00f 350px,#00b 354px,#00f 365px,#1fe 398px,#02f 435px,#00f)"></i><i style="background:linear-gradient(#06f,#06f 2px,#008 3px,#008 10px,#008 88px,#00f 140px,#09f 239px,#08f 261px,#0bf 268px,#0bf 275px,#0cf 276px,#2fd 277px,#6f8 279px,#7f8 280px,#2fd 285px,#0cf 286px,#07f 288px,#07f 294px,#05f 296px,#00f 298px,#008 300px,#008 302px,#008 318px,#00f 321px,#09f 332px,#09f 341px,#07f 344px,#00e 349px,#009 352px,#008 354px,#008 379px,#00a 394px,#009)"></i><i style="background:linear-gradient(#06f,#06f 2px,#008 3px,#008 11px,#008 88px,#00f 139px,#09f 238px,#08f 261px,#0bf 268px,#0bf 275px,#0cf 276px,#2fd 277px,#6f8 279px,#7f8 280px,#1fd 285px,#08f 287px,#06f 288px,#06f 295px,#00f 298px,#008 300px,#008 301px,#008 317px,#009 318px,#00e 320px,#06f 324px,#0cf 341px,#0bf 344px,#02f 354px,#0df 390px,#00f 425px,#00b 445px,#00a)"></i><i style="background:linear-gradient(#06f,#06f 2px,#008 3px,#008 11px,#008 88px,#00f 139px,#04f 170px,#09f 241px,#08f 260px,#0bf 268px,#0bf 275px,#0cf 276px,#2fd 277px,#6f8 279px,#7f8 280px,#1fd 285px,#08f 287px,#06f 288px,#07f 295px,#00d 299px,#008 301px,#008 305px,#00b 316px,#00f 319px,#0bf 323px,#0df 326px,#4fb 339px,#2fd 345px,#0df 347px,#04f 353px,#00f 359px,#009 378px,#00f 392px,#04f)"></i><i style="background:linear-gradient(#06f,#06f 2px,#008 3px,#008 11px,#008 88px,#00f 139px,#04f 171px,#09f 240px,#08f 260px,#0bf 268px,#0bf 275px,#0cf 276px,#2fd 277px,#6f8 279px,#7f8 280px,#1fd 285px,#08f 287px,#06f 288px,#0af 295px,#06f 297px,#00f 299px,#00a 301px,#008 306px,#008 318px,#00f 321px,#03f 324px,#05f 341px,#00f 347px,#008 353px,#008 384px,#00f 391px,#07f 401px,#0bf)"></i><i style="background:linear-gradient(#06f,#06f 2px,#008 3px,#008 39px,#008 91px,#00f 138px,#05f 172px,#09f 240px,#08f 261px,#0bf 268px,#0bf 275px,#2fd 277px,#6f8 279px,#7f8 280px,#1fd 285px,#08f 287px,#07f 288px,#1fe 293px,#1fd 295px,#0cf 297px,#01f 300px,#00f 301px,#008 308px,#008 318px,#00f 321px,#0af 333px,#0bf 341px,#09f 344px,#00e 350px,#00a 354px,#00f 362px,#08f 376px,#06f 382px,#00f 390px,#00a 405px,#00f 437px,#01f)"></i><i style="background:linear-gradient(#06f,#06f 2px,#008 3px,#008 39px,#008 91px,#00f 138px,#05f 173px,#09f 239px,#08f 260px,#0bf 268px,#0bf 275px,#0df 276px,#5fa 278px,#7f8 280px,#1fd 285px,#09f 287px,#0bf 289px,#3fb 291px,#7f7 293px,#9f6 295px,#3fb 298px,#0df 299px,#07f 301px,#00f 304px,#009 308px,#008 310px,#008 318px,#00e 320px,#0df 327px,#1fd 328px,#af5 333px,#ef1 341px,#bf3 344px,#3fc 348px,#0af 350px,#01f 354px,#00f 357px,#02f 375px,#00f 384px,#008 400px,#008)"></i><i style="background:linear-gradient(#06f,#0bf 34px,#06f 52px,#0af 70px,#0af 88px,#07f 106px,#0df 124px,#09f 142px,#0af 160px,#07f 178px,#08f 260px,#0cf 268px,#0bf 275px,#0df 276px,#5fa 278px,#7f8 280px,#2fd 285px,#0df 286px,#0bf 287px,#0cf 288px,#2fd 289px,#df2 292px,#fd0 293px,#fb0 295px,#fe0 297px,#3fc 301px,#0af 303px,#00f 306px,#008 310px,#008 318px,#00f 321px,#0cf 327px,#3fc 329px,#8f6 333px,#af5 341px,#8f6 343px,#3fc 346px,#0bf 348px,#01f 351px,#00e 352px,#009 355px,#008 363px,#008 383px,#00c 396px,#00b)"></i><i style="background:linear-gradient(#06f,#06f 2px,#00f 3px,#00f 14px,#06f 41px,#01f 76px,#05f 113px,#02f 148px,#07f 197px,#09f 260px,#0cf 268px,#0bf 275px,#0df 276px,#5f9 278px,#7f8 280px,#0ee 287px,#2fc 288px,#cf3 290px,#fc0 291px,#f30 293px,#e10 295px,#f30 297px,#fe0 300px,#9f6 302px,#0ee 304px,#00f 307px,#00d 308px,#00a 310px,#009 312px,#00a 317px,#00e 319px,#0bf 324px,#2fd 326px,#ef0 333px,#fb0 341px,#fc0 344px,#df2 346px,#2fc 351px,#0cf 353px,#0af 366px,#05f 381px,#06f 394px,#02f 414px,#01f)"></i><i style="background:linear-gradient(#06f,#06f 3px,#0df 8px,#1ee 11px,#0cf 15px,#00f 23px,#00a 28px,#008 34px,#008 80px,#009 101px,#00f 136px,#07f 173px,#09f 260px,#0df 276px,#7f8 279px,#3fc 287px,#bf3 289px,#fb0 290px,#d00 292px,#800 293px,#800 294px,#800 297px,#b00 298px,#f10 299px,#fe0 302px,#4fa 304px,#0bf 305px,#01f 307px,#009 310px,#008 312px,#009 317px,#00f 320px,#0bf 325px,#2fd 327px,#cf3 333px,#ee0 341px,#df2 344px,#2fc 349px,#0bf 351px,#07f 354px,#04f 374px,#06f 389px,#03f 410px,#03f)"></i><i style="background:linear-gradient(#06f,#06f 3px,#0df 8px,#1ee 11px,#0cf 15px,#00f 23px,#00a 28px,#008 34px,#008 80px,#009 101px,#00f 136px,#07f 174px,#0af 225px,#09f 260px,#0df 276px,#7f8 279px,#4fa 286px,#6f9 287px,#fd0 289px,#d00 291px,#800 292px,#800 298px,#800 299px,#d00 300px,#fa0 302px,#cf2 303px,#5f9 304px,#0bf 305px,#00f 307px,#009 309px,#008 310px,#008 318px,#00f 321px,#0cf 329px,#1fd 331px,#4fb 334px,#4fb 341px,#1fd 344px,#0df 345px,#00f 350px,#008 353px,#008 357px,#008 366px,#00f 371px,#0cf 377px,#1fd 379px,#5fa 384px,#0ee)"></i><i style="background:linear-gradient(#06f,#06f 3px,#0df 8px,#1ee 11px,#0cf 15px,#00f 23px,#00a 28px,#008 34px,#008 80px,#009 101px,#00f 135px,#08f 176px,#0af 220px,#0af 260px,#0df 268px,#0cf 275px,#0ee 276px,#7f8 279px,#7f8 286px,#9f6 287px,#df1 288px,#f90 289px,#f10 290px,#800 291px,#800 299px,#a00 300px,#f30 301px,#f90 302px,#df2 303px,#5f9 304px,#0bf 305px,#03f 306px,#00e 307px,#008 309px,#008 318px,#00f 321px,#0cf 330px,#2fd 332px,#3fb 341px,#1ee 344px,#00f 350px,#008 353px,#008 354px,#008 374px,#00e 378px,#00f 379px,#0cf 384px,#2fc 386px,#8f7 392px,#3fc)"></i><i style="background:linear-gradient(#06f,#06f 2px,#cf2 3px,#fe0 12px,#7f7 45px,#8f6 64px,#6f9 148px,#1fd 180px,#0df 191px,#0af 260px,#0df 268px,#0cf 275px,#0ee 276px,#7f8 279px,#7f8 283px,#9f5 286px,#cf3 287px,#fc0 288px,#f50 289px,#b00 290px,#800 291px,#800 299px,#b00 300px,#f40 301px,#fb0 302px,#bf4 303px,#3fb 304px,#09f 305px,#01f 306px,#00c 307px,#008 309px,#008 318px,#00f 321px,#06f 326px,#0df 330px,#2fd 332px,#4fa 335px,#4fa 341px,#2fd 344px,#0df 345px,#00f 350px,#008 353px,#008 354px,#008 381px,#00f 390px,#02f 397px,#00f 410px,#00e)"></i><i style="background:linear-gradient(#06f,#06f 2px,#4fa 3px,#7f8 12px,#0df 25px,#09f 38px,#0df 73px,#0bf 110px,#1fd 125px,#3fb 146px,#0df 166px,#0bf 188px,#0bf 260px,#0ee 268px,#0df 275px,#7f7 279px,#7f7 283px,#fe0 287px,#f10 289px,#800 290px,#800 299px,#d00 300px,#fe0 302px,#8f6 303px,#1fd 304px,#00f 306px,#008 308px,#008 310px,#008 318px,#00f 321px,#0cf 329px,#2fc 331px,#6f8 335px,#7f8 341px,#2fd 345px,#0af 347px,#01f 350px,#00e 351px,#009 353px,#008 355px,#008 379px,#00f 384px,#0bf 390px,#1fd 392px,#5f9 397px,#9f6)"></i><i style="background:linear-gradient(#06f,#06f 2px,#4fb 3px,#6f8 12px,#1fd 22px,#0df 26px,#1fd 44px,#0cf 62px,#1fd 108px,#1ee 117px,#08f 134px,#0bf 152px,#09f 170px,#0df 209px,#0cf 260px,#1ee 268px,#0ef 275px,#8f7 279px,#8f7 282px,#cf2 285px,#ef0 286px,#fb0 287px,#f50 288px,#c00 289px,#800 290px,#800 299px,#f10 300px,#ef1 302px,#1fd 304px,#08f 305px,#02f 306px,#00e 307px,#00d 309px,#00f 316px,#02f 318px,#1ee 322px,#df2 329px,#fd0 330px,#f30 335px,#d00 342px,#f20 344px,#fb0 348px,#cf2 350px,#5f9 354px,#2fd 364px,#0df 368px,#08f 375px,#1fe 382px,#8f6 391px,#4fa 413px,#3fc)"></i><i style="background:linear-gradient(#06f,#06f 2px,#2fd 3px,#5f9 12px,#1fd 22px,#0df 28px,#0af 56px,#1fd 86px,#3fb 109px,#1fd 114px,#0af 128px,#0bf 144px,#09f 163px,#0df 209px,#0ee 274px,#1fd 276px,#8f7 279px,#8f6 282px,#df2 285px,#fb0 287px,#f10 289px,#900 290px,#800 291px,#800 297px,#a00 298px,#f20 299px,#ef0 301px,#2fd 303px,#09f 304px,#03f 305px,#00d 306px,#008 308px,#008 317px,#008 318px,#00f 321px,#0bf 329px,#1fd 331px,#4fa 335px,#5fa 341px,#2fc 344px,#0bf 346px,#00f 350px,#009 353px,#008 355px,#008 374px,#00e 378px,#00f 379px,#0bf 384px,#2fd 386px,#7f7 392px,#5fa)"></i><i style="background:linear-gradient(#06f,#06f 3px,#0df 8px,#1ee 11px,#0cf 15px,#00f 23px,#00a 28px,#008 34px,#008 80px,#009 102px,#00f 134px,#09f 170px,#0df 194px,#0df 261px,#2fd 267px,#1fe 275px,#8f6 279px,#9f6 282px,#ef0 286px,#fd0 287px,#f20 290px,#d00 291px,#b00 294px,#f10 297px,#f40 298px,#ef0 300px,#3fb 302px,#0cf 303px,#01f 305px,#00c 306px,#008 308px,#008 318px,#00f 321px,#1ee 333px,#1fd 341px,#0cf 344px,#01f 349px,#00e 350px,#008 353px,#008 375px,#00f 380px,#0bf 385px,#2fd 387px,#8f7 393px,#af5)"></i><i style="background:linear-gradient(#06f,#06f 2px,#3fc 3px,#6f8 12px,#1fe 29px,#0df 51px,#1fd 69px,#0cf 87px,#0df 105px,#09f 123px,#0bf 141px,#09f 159px,#1fd 212px,#1ee 261px,#2fc 267px,#1fd 275px,#9f6 279px,#df1 287px,#fb0 289px,#f70 291px,#f70 293px,#f80 296px,#fd0 298px,#3fc 301px,#0cf 302px,#00f 305px,#008 308px,#008 318px,#00f 321px,#0df 329px,#2fd 331px,#2fd 343px,#0cf 345px,#00f 350px,#008 354px,#008 377px,#00e 381px,#01f 382px,#0cf 387px,#2fd 389px,#7f8 395px,#5f9)"></i><i style="background:linear-gradient(#06f,#06f 3px,#0df 8px,#1ee 11px,#0cf 15px,#00f 23px,#00a 28px,#008 34px,#008 80px,#009 102px,#00f 134px,#0af 171px,#0ee 196px,#1fd 261px,#3fc 267px,#2fc 275px,#af5 279px,#cf3 284px,#af4 287px,#ef0 291px,#bf4 296px,#4fb 299px,#0ee 300px,#0af 301px,#00f 305px,#008 308px,#008 318px,#00d 320px,#00f 321px,#0bf 325px,#2fd 327px,#8f7 331px,#ef0 342px,#cf2 345px,#3fb 351px,#1fd 354px,#4fb 363px,#0df 371px,#0df 376px,#2fd 379px,#af5 389px,#5fa 416px,#2fc)"></i><i style="background:linear-gradient(#06f,#06f 3px,#0df 8px,#1ee 11px,#0cf 15px,#00f 23px,#00a 28px,#008 34px,#008 79px,#009 101px,#00f 134px,#0af 172px,#1fd 201px,#3fc 274px,#4fa 276px,#bf3 279px,#df2 284px,#9f5 287px,#9f6 292px,#3fc 296px,#0cf 298px,#04f 301px,#00f 304px,#008 308px,#008 318px,#00d 320px,#01f 321px,#0df 325px,#1fd 326px,#8f6 331px,#9f6 341px,#7f7 343px,#2fd 346px,#0cf 347px,#00f 351px,#009 355px,#00a 370px,#00f 382px,#00f 389px,#009 426px,#009)"></i><i style="background:linear-gradient(#06f,#06f 3px,#0df 8px,#1ee 11px,#0cf 15px,#00f 23px,#00a 28px,#008 34px,#008 80px,#009 102px,#00f 134px,#0af 172px,#1fd 200px,#2fc 261px,#4fb 275px,#df2 279px,#fd0 283px,#fe0 285px,#bf4 287px,#8f6 291px,#2fd 294px,#0df 295px,#02f 300px,#00f 302px,#00e 305px,#008 308px,#008 318px,#00d 320px,#02f 321px,#0df 324px,#2fd 325px,#8f6 328px,#bf4 331px,#bf4 342px,#3fc 346px,#0df 347px,#02f 350px,#00e 351px,#008 353px,#008 354px,#008 370px,#00f 382px,#00e)"></i><i style="background:linear-gradient(#06f,#06f 2px,#0ee 3px,#1fd 4px,#6f8 13px,#0df 30px,#07f 86px,#0bf 120px,#09f 162px,#1fd 202px,#3fc 261px,#5fa 275px,#fe0 279px,#f90 284px,#ef0 287px,#9f5 291px,#4fb 293px,#0ee 294px,#0af 295px,#00f 299px,#00f 304px,#008 308px,#008 318px,#00d 320px,#02f 321px,#0ee 324px,#bf4 328px,#fe0 331px,#ef0 342px,#bf4 344px,#2fd 347px,#0cf 348px,#00f 351px,#008 354px,#008 379px,#00f 383px,#0cf 388px,#3fc 390px,#af5 396px,#6f9 434px,#5f9)"></i><i style="background:linear-gradient(#06f,#06f 3px,#0df 8px,#1ee 11px,#0cf 15px,#00f 23px,#00a 28px,#008 34px,#008 80px,#009 102px,#00f 134px,#0af 173px,#1fd 203px,#3fb 261px,#5f9 274px,#8f7 276px,#bf3 277px,#fe0 278px,#fb0 279px,#f40 284px,#ef1 290px,#8f6 292px,#0ee 294px,#09f 295px,#00f 298px,#00c 301px,#00e 305px,#008 309px,#008 317px,#00f 320px,#0bf 323px,#1fd 324px,#ef1 328px,#fc0 329px,#f80 331px,#f10 342px,#f50 345px,#fe0 348px,#cf2 349px,#6f9 352px,#4fa 354px,#af4 364px,#cf3 371px,#1fd 393px,#0df 396px,#00f 412px,#00b 430px,#00c)"></i><i style="background:linear-gradient(#06f,#06f 2px,#008 3px,#008 5px,#008 88px,#00f 135px,#0af 173px,#1fe 203px,#3fb 261px,#6f9 274px,#9f6 276px,#df2 277px,#fc0 278px,#f60 280px,#e00 284px,#fd0 290px,#df1 291px,#5f9 293px,#0ee 294px,#04f 296px,#00f 298px,#00b 301px,#00e 305px,#008 309px,#008 317px,#00e 320px,#01f 321px,#0bf 324px,#3fb 326px,#ef0 331px,#fb0 341px,#fd0 343px,#cf2 345px,#1ee 349px,#05f 352px,#02f 355px,#05f 375px,#0ee 381px,#cf3 388px,#fe0 392px,#8f6 420px,#8f7)"></i><i style="background:linear-gradient(#06f,#06f 2px,#008 3px,#008 5px,#008 88px,#00f 135px,#0ee 199px,#5f9 272px,#7f7 275px,#ef1 277px,#fa0 278px,#f40 280px,#e10 282px,#c00 284px,#d00 285px,#f20 286px,#fd0 290px,#df1 291px,#5fa 293px,#0df 294px,#07f 295px,#00f 297px,#00a 300px,#00e 305px,#008 309px,#008 318px,#00f 321px,#0bf 325px,#2fc 327px,#bf3 332px,#bf3 341px,#af5 343px,#3fc 346px,#0df 347px,#02f 350px,#00e 351px,#008 353px,#008 354px,#008 389px,#00f 401px,#00c)"></i><i style="background:linear-gradient(#06f,#06f 2px,#008 3px,#008 28px,#008 90px,#00f 136px,#09f 172px,#0ee 204px,#5f9 272px,#7f7 275px,#ef0 277px,#fa0 278px,#f30 280px,#e00 282px,#c00 284px,#e00 285px,#f70 287px,#ef0 290px,#3fc 293px,#0bf 294px,#01f 296px,#00e 297px,#009 301px,#00d 305px,#008 308px,#008 317px,#008 318px,#00f 321px,#0cf 326px,#3fb 328px,#9f5 332px,#9f5 341px,#8f7 343px,#1fd 346px,#0cf 347px,#01f 350px,#00e 351px,#008 353px,#008 354px,#009)"></i><i style="background:linear-gradient(#06f,#06f 2px,#008 3px,#008 28px,#008 90px,#00f 136px,#09f 176px,#1fe 227px,#5f9 273px,#7f8 275px,#ef0 277px,#f90 278px,#f40 280px,#f10 284px,#f30 285px,#fe0 288px,#bf4 290px,#5fa 292px,#0ee 293px,#08f 294px,#03f 295px,#00f 296px,#008 301px,#00d 305px,#008 309px,#008 318px,#00f 321px,#0bf 326px,#2fd 328px,#7f8 333px,#6f8 342px,#2fd 345px,#0af 347px,#00f 350px,#00d 351px,#008 354px,#009)"></i><i style="background:linear-gradient(#06f,#06f 2px,#df2 3px,#fd0 6px,#fc0 10px,#fe0 14px,#2fc 26px,#1fd 32px,#2fd 62px,#5fa 81px,#5fa 114px,#0df 141px,#09f 174px,#0ee 224px,#5f9 274px,#9f6 276px,#ef1 277px,#f60 279px,#f30 283px,#f60 285px,#fb0 286px,#df1 287px,#1fd 292px,#0af 293px,#00f 295px,#00b 297px,#008 300px,#008 302px,#00d 305px,#008 309px,#008 318px,#00f 321px,#0bf 326px,#2fd 328px,#6f9 332px,#6f9 341px,#1fd 345px,#0cf 346px,#00f 350px,#008 353px,#008 354px,#00a)"></i><i style="background:linear-gradient(#06f,#06f 2px,#0bf 3px,#2fc 5px,#7f8 8px,#8f6 11px,#7f8 14px,#2fc 17px,#0bf 19px,#00f 25px,#00a 29px,#008 35px,#008 80px,#00f 137px,#08f 175px,#0ee 233px,#5fa 274px,#8f6 276px,#df1 277px,#fb0 278px,#f60 280px,#f60 283px,#f70 284px,#ef1 286px,#6f9 288px,#1fe 291px,#0bf 292px,#01f 294px,#00c 295px,#008 300px,#008 302px,#00d 305px,#008 309px,#008 317px,#008 318px,#00f 321px,#0df 326px,#1fd 327px,#7f8 332px,#6f8 342px,#2fd 345px,#0af 347px,#00f 350px,#00d 351px,#008 354px,#008 386px,#00a 401px,#009)"></i><i style="background:linear-gradient(#06f,#06f 2px,#fb0 3px,#f80 10px,#ef1 19px,#9f6 25px,#6f8 33px,#9f5 57px,#8f6 75px,#3fb 93px,#1fd 129px,#3fb 161px,#0df 174px,#0af 199px,#0df 234px,#1fd 245px,#5fa 267px,#4fb 274px,#8f7 276px,#df2 277px,#fb0 278px,#f80 279px,#f70 281px,#f80 283px,#fd0 285px,#bf4 286px,#2fc 288px,#0bf 291px,#00f 294px,#00b 295px,#009 296px,#008 301px,#008 302px,#00e 305px,#008 310px,#009 316px,#00d 319px,#01f 320px,#0bf 323px,#2fc 325px,#af4 330px,#df2 341px,#bf4 344px,#3fc 348px,#0bf 350px,#05f 354px,#0df 367px,#1fd 370px,#6f9 381px,#9f6 396px,#7f7 403px,#1fd 413px,#0df 416px,#00f 436px,#00b 452px,#009)"></i><i style="background:linear-gradient(#06f,#06f 2px,#0bf 3px,#2fc 5px,#7f8 8px,#8f6 11px,#7f8 14px,#2fc 17px,#0bf 19px,#00f 25px,#00a 29px,#008 35px,#008 80px,#00f 138px,#06f 172px,#0df 241px,#4fa 267px,#4fb 274px,#7f7 276px,#df2 277px,#fb0 278px,#f80 279px,#f70 281px,#fa0 284px,#fe0 285px,#4fb 287px,#0ee 288px,#0cf 289px,#0af 291px,#00f 294px,#00b 295px,#00a 299px,#00a 302px,#00f 304px,#00f 307px,#00c 310px,#00f 317px,#03f 319px,#0cf 321px,#2fd 322px,#df2 328px,#fe0 333px,#fc0 341px,#fe0 344px,#2fc 350px,#0cf 352px,#08f 355px,#05f 377px,#07f 380px,#0df 384px,#1fe 385px,#cf3 392px,#ef0 396px,#bf3 422px,#bf3)"></i><i style="background:linear-gradient(#06f,#06f 2px,#7f7 3px,#fe0 11px,#ef0 15px,#7f7 25px,#6f9 32px,#7f8 69px,#4fb 88px,#2fc 123px,#5fa 148px,#1fd 166px,#0df 173px,#09f 201px,#0bf 231px,#1fd 250px,#4fb 267px,#3fc 274px,#6f8 276px,#cf3 277px,#fc0 278px,#f80 280px,#fc0 284px,#df2 285px,#7f7 286px,#1fd 287px,#0bf 288px,#06f 291px,#00f 293px,#008 295px,#008 302px,#00d 305px,#008 309px,#008 316px,#00a 318px,#00e 319px,#0df 323px,#3fc 325px,#6f8 329px,#9f5 341px,#7f7 344px,#2fc 347px,#0bf 349px,#05f 352px,#03f 354px,#0df 382px,#1fd 386px,#5f9 396px,#1fd 409px,#0df 415px,#09f 435px,#09f)"></i><i style="background:linear-gradient(#06f,#06f 2px,#af4 3px,#ef0 11px,#4fb 29px,#4fa 59px,#2fd 77px,#7f8 96px,#5fa 131px,#1fd 149px,#0df 160px,#08f 201px,#0af 230px,#0df 247px,#3fb 267px,#2fc 274px,#6f9 276px,#bf3 277px,#fc0 278px,#f80 280px,#fd0 284px,#cf2 285px,#6f8 286px,#0ee 287px,#09f 288px,#05f 291px,#00f 293px,#008 295px,#008 302px,#00c 305px,#008 309px,#008 317px,#00e 319px,#0df 323px,#1fd 324px,#5f9 328px,#6f8 341px,#2fc 345px,#0bf 347px,#00f 351px,#00e 352px,#00b 355px,#00f 379px,#04f 382px,#0cf 386px,#3fc 388px,#bf4 393px,#df1 397px,#af5 428px,#9f5)"></i><i style="background:linear-gradient(#06f,#06f 2px,#02f 3px,#00f 13px,#00c 24px,#00f 33px,#05f 43px,#01f 78px,#03f 97px,#00f 116px,#05f 132px,#03f 150px,#09f 225px,#0df 249px,#3fb 267px,#2fd 274px,#6f9 276px,#bf3 277px,#fc0 278px,#f80 280px,#fd0 284px,#cf3 285px,#0df 287px,#09f 288px,#05f 291px,#00f 293px,#008 295px,#008 302px,#00d 305px,#008 309px,#008 315px,#009 317px,#00f 319px,#0bf 322px,#2fd 324px,#5fa 328px,#5f9 341px,#1fe 345px,#0cf 346px,#00f 351px,#00a 353px,#009 355px,#008 375px,#00a 378px,#00f 381px,#0df 388px,#2fc 390px,#5f9 395px,#3fb 424px,#5fa)"></i><i style="background:linear-gradient(#06f,#06f 2px,#008 3px,#008 11px,#008 88px,#00f 139px,#05f 172px,#09f 230px,#0df 250px,#4fa 267px,#4fb 274px,#5fa 275px,#ef1 277px,#f90 278px,#f60 279px,#f50 281px,#f90 284px,#fd0 285px,#af4 286px,#1fe 288px,#0cf 291px,#01f 295px,#05f 302px,#0cf 305px,#0af 310px,#0df 315px,#4fb 318px,#bf4 320px,#fe0 321px,#fa0 322px,#f30 325px,#d00 327px,#800 333px,#800 345px,#c00 347px,#f10 348px,#fa0 352px,#fc0 355px,#ef0 382px,#1fd 402px,#0cf 405px,#00f 425px,#009 447px,#008)"></i><i style="background:linear-gradient(#06f,#06f 2px,#008 3px,#008 39px,#008 91px,#00f 138px,#05f 172px,#08f 230px,#0ee 254px,#3fc 267px,#2fd 274px,#3fc 275px,#cf3 277px,#fc0 278px,#f80 280px,#fc0 284px,#df2 285px,#1fe 287px,#0af 288px,#07f 291px,#00d 294px,#00a 295px,#00c 302px,#01f 304px,#00f 316px,#02f 318px,#0df 321px,#3fc 322px,#cf2 328px,#fe0 338px,#fd0 342px,#ef1 344px,#1fe 351px,#0cf 353px,#1fd 365px,#6f9 382px,#df1 388px,#fe0 389px,#f30 395px,#d00 399px,#f20 402px,#ef0 422px,#af4 440px,#9f6)"></i><i style="background:linear-gradient(#06f,#06f 2px,#008 3px,#008 39px,#008 91px,#00f 138px,#05f 172px,#08f 230px,#1fd 265px,#1ee 274px,#5fa 276px,#fd0 278px,#fa0 280px,#fe0 284px,#5fa 286px,#0cf 287px,#07f 288px,#00e 293px,#008 295px,#008 302px,#00c 305px,#008 309px,#008 317px,#00e 320px,#0af 325px,#2fd 330px,#1ee 343px,#00f 350px,#008 354px,#008 363px,#009 393px,#00f 399px,#1fd 410px,#0ee)"></i><i style="background:linear-gradient(#06f,#06f 2px,#008 3px,#008 39px,#008 91px,#00f 138px,#05f 170px,#08f 229px,#0df 260px,#1fd 266px,#0ee 274px,#4fa 276px,#fe0 278px,#fa0 280px,#fe0 284px,#5f9 286px,#0cf 287px,#08f 288px,#05f 291px,#00f 293px,#008 295px,#00a 302px,#00f 304px,#00f 314px,#04f 318px,#0df 321px,#2fd 322px,#ef1 329px,#fc0 332px,#fa0 339px,#fa0 342px,#fe0 345px,#3fc 351px,#0cf 353px,#00f 373px,#00a 386px,#00f 397px,#02f 404px,#00f)"></i><i style="background:linear-gradient(#06f,#06f 2px,#5f9 3px,#6f9 25px,#9f6 43px,#4fb 79px,#7f8 123px,#1fd 153px,#0df 161px,#07f 195px,#08f 231px,#0df 261px,#1fd 267px,#0ee 274px,#1fe 275px,#af5 277px,#fe0 278px,#fb0 279px,#fb0 281px,#ef0 284px,#5fa 286px,#0cf 287px,#07f 288px,#00e 293px,#008 295px,#008 296px,#008 302px,#00f 305px,#00b 310px,#00f 317px,#00f 318px,#0cf 323px,#2fd 325px,#bf4 332px,#df2 341px,#af4 344px,#3fc 348px,#0bf 350px,#04f 354px,#00f 364px,#009 384px,#00b 398px,#00a)"></i><i style="background:linear-gradient(#06f,#06f 2px,#2fc 3px,#1fd 20px,#0af 39px,#1fd 49px,#5fa 57px,#3fc 75px,#6f9 129px,#1fd 160px,#0df 170px,#07f 208px,#08f 235px,#1fe 267px,#0df 274px,#1ee 275px,#4fb 276px,#ef0 278px,#fc0 279px,#fc0 281px,#ef1 284px,#4fa 286px,#0bf 287px,#07f 288px,#00e 293px,#008 295px,#008 302px,#00c 305px,#008 309px,#008 317px,#00f 321px,#0af 330px,#0df 334px,#0cf 342px,#08f 345px,#00f 349px,#008 353px,#008 384px,#00f 398px,#00f 427px,#03f)"></i><i style="background:linear-gradient(#06f,#06f 2px,#008 3px,#008 28px,#008 90px,#00f 136px,#06f 172px,#08f 231px,#1ee 267px,#0df 274px,#0ee 275px,#4fb 276px,#ef1 278px,#fc0 279px,#df1 284px,#4fa 286px,#0bf 287px,#07f 288px,#00e 293px,#008 295px,#008 302px,#00c 305px,#008 309px,#008 316px,#009 318px,#00f 321px,#03f 323px,#08f 332px,#09f 341px,#07f 344px,#00f 348px,#008 353px,#008 365px,#008 386px,#00f 447px,#00f)"></i><i style="background:linear-gradient(#06f,#06f 2px,#008 3px,#008 28px,#008 90px,#00f 136px,#07f 173px,#08f 231px,#0ee 267px,#0df 274px,#0ee 275px,#3fb 276px,#ef1 278px,#fc0 279px,#df1 284px,#4fb 286px,#0bf 287px,#07f 288px,#00e 293px,#008 295px,#008 302px,#00c 305px,#008 309px,#008 316px,#009 318px,#00f 321px,#04f 324px,#08f 335px,#08f 342px,#00f 348px,#008 353px,#008 392px,#00d 406px,#00b)"></i><i style="background:linear-gradient(#06f,#06f 2px,#3fc 3px,#1ee 26px,#3fc 98px,#1fe 131px,#08f 194px,#08f 233px,#0df 275px,#3fc 276px,#df1 278px,#fd0 279px,#df2 284px,#4fb 286px,#0bf 287px,#07f 288px,#00e 293px,#008 295px,#008 302px,#00c 305px,#008 309px,#008 316px,#009 318px,#00f 321px,#09f 330px,#0bf 335px,#0af 342px,#00f 349px,#008 353px,#008 386px,#00d 401px,#00d)"></i><i style="background:linear-gradient(#06f,#06f 2px,#008 3px,#008 28px,#008 90px,#00f 136px,#07f 173px,#08f 234px,#0df 275px,#3fc 276px,#df1 278px,#fd0 279px,#fe0 282px,#df2 284px,#4fb 286px,#0bf 287px,#06f 288px,#00e 293px,#008 295px,#008 302px,#00c 305px,#008 309px,#008 316px,#009 318px,#00f 321px,#0bf 329px,#0ee 333px,#0df 342px,#09f 345px,#00f 349px,#00e 350px,#008 353px,#008 380px,#00f 389px,#02f 396px,#01f)"></i><i style="background:linear-gradient(#06f,#06f 2px,#0ef 3px,#08f 28px,#0df 82px,#06f 100px,#06f 118px,#0af 136px,#07f 154px,#08f 230px,#0df 275px,#2fc 276px,#df2 278px,#fe0 279px,#fe0 282px,#cf2 284px,#4fb 286px,#0bf 287px,#06f 288px,#00e 293px,#008 295px,#008 302px,#00c 305px,#008 309px,#008 316px,#009 318px,#00f 321px,#08f 326px,#0cf 332px,#0cf 342px,#00f 349px,#008 353px,#008 384px,#00d 398px,#00d)"></i><i style="background:linear-gradient(#06f,#03f 32px,#09f 50px,#0af 68px,#05f 87px,#0af 122px,#05f 141px,#08f 171px,#08f 234px,#0cf 275px,#2fc 276px,#cf2 278px,#fe0 279px,#ef0 282px,#cf2 284px,#3fb 286px,#0af 287px,#06f 288px,#00e 293px,#008 295px,#008 302px,#00c 305px,#008 310px,#008 316px,#009 318px,#00e 320px,#07f 325px,#0bf 331px,#0bf 342px,#00f 349px,#008 353px,#008 376px,#00f 387px,#05f)"></i><i style="background:linear-gradient(#06f,#06f 2px,#008 3px,#008 28px,#008 90px,#00f 136px,#06f 173px,#07f 235px,#0cf 275px,#2fd 276px,#cf3 278px,#fe0 280px,#cf3 284px,#3fb 286px,#0af 287px,#06f 288px,#00e 293px,#008 295px,#008 296px,#008 302px,#00d 305px,#008 310px,#008 316px,#009 318px,#00e 320px,#0af 326px,#0df 331px,#0df 342px,#09f 345px,#00f 349px,#008 353px,#008 354px,#008 378px,#00f 388px,#02f)"></i><i style="background:linear-gradient(#06f,#06f 2px,#7f7 3px,#4fb 19px,#1fe 55px,#1fd 111px,#0bf 127px,#06f 171px,#07f 235px,#0bf 275px,#1fd 276px,#bf3 278px,#ef0 280px,#bf3 284px,#3fc 286px,#0af 287px,#06f 288px,#00e 293px,#008 295px,#008 296px,#008 302px,#00d 305px,#008 310px,#008 316px,#009 318px,#00e 320px,#0bf 326px,#1ee 331px,#0ee 342px,#0af 345px,#00f 349px,#00e 350px,#008 353px,#008 380px,#00d 394px,#00f)"></i></div>
<svg width="1052" height="1806" viewBox="0 0 1052 1806" font-family="Liberation Sans, sans-serif" style="position:absolute;left:0;top:0;will-change:transform">
<defs><linearGradient id="jet" x1="0" y1="0" x2="0" y2="1"><stop offset="0.0000" stop-color="#800000"/><stop offset="0.0312" stop-color="#a40000"/><stop offset="0.0625" stop-color="#c80000"/><stop offset="0.0938" stop-color="#ec0400"/><stop offset="0.1250" stop-color="#ff2100"/><stop offset="0.1562" stop-color="#ff3f00"/><stop offset="0.1875" stop-color="#ff5c00"/><stop offset="0.2188" stop-color="#ff7a00"/><stop offset="0.2500" stop-color="#ff9700"/><stop offset="0.2812" stop-color="#ffb500"/><stop offset="0.3125" stop-color="#ffd200"/><stop offset="0.3438" stop-color="#fcf000"/><stop offset="0.3750" stop-color="#e2ff15"/><stop offset="0.4062" stop-color="#c9ff2e"/><stop offset="0.4375" stop-color="#afff48"/><stop offset="0.4688" stop-color="#95ff62"/><stop offset="0.5000" stop-color="#7bff7b"/><stop offset="0.5312" stop-color="#62ff95"/><stop offset="0.5625" stop-color="#48ffaf"/><stop offset="0.5938" stop-color="#2effc9"/><stop offset="0.6250" stop-color="#15ffe2"/><stop offset="0.6562" stop-color="#00dffc"/><stop offset="0.6875" stop-color="#00bfff"/><stop offset="0.7188" stop-color="#009fff"/><stop offset="0.7500" stop-color="#0080ff"/><stop offset="0.7812" stop-color="#0060ff"/><stop offset="0.8125" stop-color="#0040ff"/><stop offset="0.8438" stop-color="#0020ff"/><stop offset="0.8750" stop-color="#0000ff"/><stop offset="0.9062" stop-color="#0000ec"/><stop offset="0.9375" stop-color="#0000c8"/><stop offset="0.9688" stop-color="#0000a4"/><stop offset="1.0000" stop-color="#000080"/></linearGradient><filter id="sp" x="0" y="0" width="100%" height="100%" color-interpolation-filters="sRGB"><feTurbulence type="fractalNoise" baseFrequency="0.9 0.5" numOctaves="1" seed="7"/><feColorMatrix values="0 0 0 0 0  0 0 0 0 0  0 0 0 0 0.5  6 0 0 0 -3.35"/></filter><filter id="gl" x="0" y="0" width="100%" height="100%" color-interpolation-filters="sRGB"><feTurbulence type="fractalNoise" baseFrequency="0.9 0.8" numOctaves="1" seed="11"/><feColorMatrix values="0 0 0 0 0.1  0 0 0 0 0.8  0 0 0 0 1  0 2.4 0 0 -1.15"/></filter><filter id="gd" x="0" y="0" width="100%" height="100%" color-interpolation-filters="sRGB"><feTurbulence type="fractalNoise" baseFrequency="0.9 0.8" numOctaves="1" seed="23"/><feColorMatrix values="0 0 0 0 0  0 0 0 0 0.1  0 0 0 0 0.85  0 0 2.4 0 -1.15"/></filter><linearGradient id="mg2" x1="0" y1="0" x2="0" y2="1"><stop offset="0" stop-color="#000"/><stop offset="0.3" stop-color="#fff"/><stop offset="0.72" stop-color="#fff"/><stop offset="0.8" stop-color="#000"/></linearGradient><linearGradient id="mg" x1="0" y1="0" x2="0" y2="1"><stop offset="0" stop-color="#fff"/><stop offset="0.55" stop-color="#fff"/><stop offset="1" stop-color="#000"/></linearGradient><mask id="mk0" maskUnits="userSpaceOnUse" x="117" y="45" width="730" height="235"><rect x="117" y="45" width="730" height="235" fill="url(#mg)"/></mask><mask id="mk1" maskUnits="userSpaceOnUse" x="117" y="647" width="730" height="235"><rect x="117" y="647" width="730" height="235" fill="url(#mg)"/></mask><mask id="mk2" maskUnits="userSpaceOnUse" x="117" y="1249" width="730" height="235"><rect x="117" y="1249" width="730" height="235" fill="url(#mg)"/></mask><mask id="mm0" maskUnits="userSpaceOnUse" x="117" y="165" width="730" height="200"><rect x="117" y="165" width="730" height="200" fill="url(#mg2)"/></mask><mask id="mm1" maskUnits="userSpaceOnUse" x="117" y="767" width="730" height="200"><rect x="117" y="767" width="730" height="200" fill="url(#mg2)"/></mask><mask id="mm2" maskUnits="userSpaceOnUse" x="117" y="1369" width="730" height="200"><rect x="117" y="1369" width="730" height="200" fill="url(#mg2)"/></mask></defs>
<path d="M123.5 48V167M457.5 48V201M460.5 48V223M554.5 48V179M616.5 48V183M667.5 48V203M731.5 48V202M791.5 65V156" stroke="#f70" stroke-width="1" stroke-dasharray="1 2 1 1" stroke-dashoffset="3.4" fill="none"/><path d="M127.5 48V212M247.5 48V176M505.5 48V224M511.5 48V168M597.5 48V196M604.5 48V220M781.5 49V164" stroke="#f00" stroke-width="1" stroke-dasharray="1 2 2 2 1 3" stroke-dashoffset="3.4" fill="none"/><path d="M128.5 48V185M172.5 48V216M181.5 48V161M196.5 48V196M525.5 48V148M602.5 91V204M681.5 60V161M728.5 48V159M744.5 54V187M814.5 48V188" stroke="#ff0" stroke-width="1" stroke-dasharray="1 1 1 2 2 1" stroke-dashoffset="6.8" fill="none"/><path d="M130.5 48V165M163.5 48V172M272.5 56V172M299.5 75V187M316.5 48V176M334.5 97V143M345.5 48V162M601.5 48V191M629.5 90V155M716.5 48V159M736.5 98V204M737.5 100V144" stroke="#8f7" stroke-width="1" stroke-dasharray="1 1 2 1 1 2" stroke-dashoffset="3.4" fill="none"/><path d="M139.5 100V162M343.5 48V190M411.5 48V211M448.5 48V158M486.5 48V158M492.5 88V166M501.5 48V216M504.5 48V184M506.5 48V200M523.5 103V166M565.5 48V194M826.5 48V184" stroke="#0ff" stroke-width="1" stroke-dasharray="2 1 1 2 3 2 1 1" stroke-dashoffset="6.8" fill="none"/><path d="M146.5 48V211M161.5 48V200M256.5 48V211M281.5 96V201M429.5 48V159M495.5 48V211M546.5 48V186M637.5 48V146M644.5 48V133M699.5 48V203M824.5 58V153" stroke="#0bf" stroke-width="1" stroke-dasharray="2 1 3 1 1 2" stroke-dashoffset="0" fill="none"/><path d="M147.5 48V154M239.5 48V141M269.5 48V187M353.5 48V180M382.5 48V166M436.5 48V166M466.5 99V149M474.5 48V164M493.5 94V190M678.5 48V179M784.5 48V176" stroke="#0ff" stroke-width="1" stroke-dasharray="2 1 1 2 3 2 1 1" stroke-dashoffset="3.4" fill="none"/><path d="M150.5 48V178M545.5 48V172M706.5 48V200M720.5 48V154" stroke="#0bf" stroke-width="1" stroke-dasharray="2 1 3 1 1 2" stroke-dashoffset="3.4" fill="none"/><path d="M155.5 48V151M175.5 48V201M298.5 48V145M344.5 80V152M354.5 48V221M388.5 48V149M398.5 48V209M417.5 48V197M622.5 88V148M673.5 48V211M730.5 103V175M772.5 48V158M787.5 48V203M788.5 91V195" stroke="#8f7" stroke-width="1" stroke-dasharray="1 1 2 1 1 2" stroke-dashoffset="6.8" fill="none"/><path d="M156.5 48V191M250.5 48V190M276.5 48V189M366.5 86V189M374.5 87V188M755.5 48V150M817.5 48V210M833.5 104V175" stroke="#0bf" stroke-width="1" stroke-dasharray="2 1 3 1 1 2" stroke-dashoffset="6.8" fill="none"/><path d="M171.5 48V182M265.5 50V220M318.5 48V162M393.5 75V206M599.5 91V173M609.5 48V161M628.5 48V214M688.5 83V212M793.5 48V217" stroke="#8f7" stroke-width="1" stroke-dasharray="1 1 2 1 1 2" stroke-dashoffset="0" fill="none"/><path d="M242.5 48V198M462.5 65V168M516.5 66V181M611.5 48V216M685.5 54V205" stroke="#ff0" stroke-width="1" stroke-dasharray="1 1 1 2 2 1" stroke-dashoffset="3.4" fill="none"/><path d="M262.5 48V220M384.5 77V224M387.5 48V219M427.5 48V163M591.5 102V216M625.5 48V225M775.5 48V158" stroke="#f00" stroke-width="1" stroke-dasharray="1 2 2 2 1 3" stroke-dashoffset="6.8" fill="none"/><path d="M297.5 48V195M359.5 67V198M468.5 48V206M508.5 53V175M510.5 106V145M519.5 48V142M571.5 48V162M619.5 67V196M831.5 48V174" stroke="#0ff" stroke-width="1" stroke-dasharray="2 1 1 2 3 2 1 1" stroke-dashoffset="0" fill="none"/><path d="M307.5 48V181M403.5 48V158M624.5 83V169" stroke="#f00" stroke-width="1" stroke-dasharray="1 2 2 2 1 3" stroke-dashoffset="0" fill="none"/><path d="M312.5 48V173M396.5 48V179M428.5 48V209M665.5 106V169M689.5 48V199M806.5 48V211" stroke="#f70" stroke-width="1" stroke-dasharray="1 2 1 1" stroke-dashoffset="0" fill="none"/><path d="M324.5 48V211M367.5 48V181M406.5 48V217M615.5 48V196M805.5 48V222M808.5 48V183M809.5 48V217" stroke="#f70" stroke-width="1" stroke-dasharray="1 2 1 1" stroke-dashoffset="6.8" fill="none"/><path d="M512.5 48V217M553.5 86V172M608.5 72V183M614.5 98V205M760.5 95V188" stroke="#ff0" stroke-width="1" stroke-dasharray="1 1 1 2 2 1" stroke-dashoffset="0" fill="none"/>
<rect x="117" y="45" width="730" height="235" filter="url(#sp)" mask="url(#mk0)"/>
<g clip-path="url(#c0)"><rect x="117" y="101.3" width="730" height="1.4" fill="#4cf" opacity="0.45"/><path d="M112 79.9h24v2.2h-24zM112 95.8h24v2.4h-24zM112 112.9h24v2.2h-24zM294 79.9h25v2.2h-25zM294 95.8h25v2.4h-25zM294 112.9h25v2.2h-25zM294 125.5h25v3h-25zM314 79.9h28v2.2h-28zM314 95.8h28v2.4h-28zM314 112.9h28v2.2h-28zM379 79.9h27v2.2h-27zM379 95.8h27v2.4h-27zM379 112.9h27v2.2h-27zM397 79.9h30v2.2h-30zM397 95.8h30v2.4h-30zM397 112.9h30v2.2h-30zM671 78.9h37v2.2h-37zM671 91.8h37v2.4h-37zM671 108.9h37v2.2h-37zM671 121.1h37v3h-37zM723 78.9h32v2.2h-32zM723 91.8h32v2.4h-32zM723 108.9h32v2.2h-32zM763 78.9h39v2.2h-39zM763 91.8h39v2.4h-39zM763 121.1h39v3h-39zM800 78.9h22v2.2h-22zM800 91.8h22v2.4h-22zM800 108.9h22v2.2h-22z" fill="#3ef" opacity="0.4"/><path d="M117 79.9h14v2.2h-14zM117 95.8h14v2.4h-14zM117 112.9h14v2.2h-14zM299 79.9h15v2.2h-15zM299 95.8h15v2.4h-15zM299 112.9h15v2.2h-15zM299 125.5h15v3h-15zM319 79.9h18v2.2h-18zM319 95.8h18v2.4h-18zM319 112.9h18v2.2h-18zM384 79.9h17v2.2h-17zM384 95.8h17v2.4h-17zM384 112.9h17v2.2h-17zM402 79.9h20v2.2h-20zM402 95.8h20v2.4h-20zM402 112.9h20v2.2h-20zM676 78.9h27v2.2h-27zM676 91.8h27v2.4h-27zM676 108.9h27v2.2h-27zM676 121.1h27v3h-27zM728 78.9h22v2.2h-22zM728 91.8h22v2.4h-22zM728 108.9h22v2.2h-22zM768 78.9h29v2.2h-29zM768 91.8h29v2.4h-29zM768 121.1h29v3h-29zM805 78.9h12v2.2h-12zM805 91.8h12v2.4h-12zM805 108.9h12v2.2h-12z" fill="#df3" opacity="0.4"/><path d="M112 102.8h24v1.4h-24zM294 102.8h25v1.4h-25zM314 102.8h28v1.4h-28zM344 79.9h20v2.2h-20zM344 95.8h20v2.4h-20zM344 102.8h20v1.4h-20zM344 112.9h20v2.2h-20zM344 125.5h20v3h-20zM379 102.8h27v1.4h-27zM397 102.8h30v1.4h-30zM671 100.8h37v1.4h-37zM723 100.8h32v1.4h-32zM763 100.8h39v1.4h-39zM763 108.9h39v2.2h-39zM800 100.8h22v1.4h-22z" fill="#3ef" opacity="0.2"/><path d="M117 102.8h14v1.4h-14zM299 102.8h15v1.4h-15zM319 102.8h18v1.4h-18zM348 79.9h10v2.2h-10zM348 95.8h10v2.4h-10zM348 102.8h10v1.4h-10zM348 112.9h10v2.2h-10zM348 125.5h10v3h-10zM384 102.8h17v1.4h-17zM402 102.8h20v1.4h-20zM676 100.8h27v1.4h-27zM728 100.8h22v1.4h-22zM768 100.8h29v1.4h-29zM768 108.9h29v2.2h-29zM805 100.8h12v1.4h-12z" fill="#df3" opacity="0.2"/><path d="M112 125.5h24v3h-24zM314 125.5h28v3h-28zM379 125.5h27v3h-27zM397 125.5h30v3h-30zM723 121.1h32v3h-32zM800 121.1h22v3h-22z" fill="#3ef" opacity="0.6"/><path d="M117 125.5h14v3h-14zM319 125.5h18v3h-18zM384 125.5h17v3h-17zM402 125.5h20v3h-20zM728 121.1h22v3h-22zM805 121.1h12v3h-12z" fill="#df3" opacity="0.6"/><path d="M117 47.5h14v19h-14z" fill="#b00" opacity="0.8"/><path d="M119 94.5h11v5h-11zM119 111.5h11v5h-11zM119 124.5h11v5h-11z" fill="#c10" opacity="0.8"/><path d="M299 48.5h15v17.5h-15zM319 48.5h18v17.5h-18zM384 48.5h17v17.5h-17zM402 48.5h20v17.5h-20zM676 48.5h27v17.5h-27zM728 48.5h22v17.5h-22zM805 48.5h12v17.5h-12z" fill="#fd0" opacity="0.4"/><path d="M297 66.0h19v1.8h-19zM674 66.0h31v1.8h-31zM766 66.0h33v1.8h-33z" fill="#e10" opacity="0.6"/><path d="M306 49.0h6v8h-6zM688 49.0h11v8h-11zM781 49.0h12v8h-12z" fill="#a00" opacity="0.6"/><path d="M317 66.0h22v1.8h-22zM382 66.0h21v1.8h-21zM400 66.0h24v1.8h-24zM726 66.0h26v1.8h-26zM803 66.0h16v1.8h-16z" fill="#e10" opacity="0.8"/><path d="M327 49.0h7v8h-7zM391 49.0h7v8h-7zM411 49.0h8v8h-8zM737 49.0h9v8h-9zM811 49.0h5v8h-5z" fill="#a00" opacity="0.8"/><path d="M348 48.5h10v17.5h-10zM768 48.5h29v17.5h-29z" fill="#fd0" opacity="0.2"/><path d="M346 66.0h14v1.8h-14z" fill="#e10" opacity="0.4"/><path d="M353 49.0h4v8h-4z" fill="#a00" opacity="0.4"/></g>
<g mask="url(#mm0)"><rect x="117" y="165" width="730" height="200" filter="url(#gl)"/><rect x="117" y="165" width="730" height="200" filter="url(#gd)"/></g>
<path d="M123.5 650V808M172.5 650V825M180.5 677V793M665.5 650V750M737.5 650V774M833.5 674V759" stroke="#f00" stroke-width="1" stroke-dasharray="1 2 2 2 1 3" stroke-dashoffset="6.8" fill="none"/><path d="M125.5 650V794M350.5 650V771M593.5 650V777M607.5 704V785M808.5 650V809" stroke="#ff0" stroke-width="1" stroke-dasharray="1 1 1 2 2 1" stroke-dashoffset="3.4" fill="none"/><path d="M129.5 650V803M156.5 650V750M181.5 650V817M262.5 650V808M746.5 658V768M832.5 650V747" stroke="#ff0" stroke-width="1" stroke-dasharray="1 1 1 2 2 1" stroke-dashoffset="0" fill="none"/><path d="M132.5 650V790M146.5 650V762M317.5 650V771M324.5 709V813M414.5 650V754M609.5 650V804M630.5 650V807M667.5 659V796M700.5 650V760M732.5 650V761M734.5 650V801M807.5 704V795M809.5 706V792" stroke="#ff0" stroke-width="1" stroke-dasharray="1 1 1 2 2 1" stroke-dashoffset="6.8" fill="none"/><path d="M135.5 650V814M206.5 686V799M221.5 650V780M252.5 650V751M289.5 672V800M382.5 650V814M388.5 650V788M391.5 652V803M396.5 650V771M402.5 650V746M410.5 661V744M418.5 650V797M468.5 709V806M501.5 650V803M584.5 650V764M596.5 650V766M653.5 673V802M708.5 650V750M839.5 650V765" stroke="#0ff" stroke-width="1" stroke-dasharray="2 1 1 2 3 2 1 1" stroke-dashoffset="3.4" fill="none"/><path d="M141.5 650V791M292.5 650V775M306.5 650V804M611.5 650V785M627.5 688V763M631.5 650V746M689.5 650V806M730.5 707V806M731.5 650V770" stroke="#8f7" stroke-width="1" stroke-dasharray="1 1 2 1 1 2" stroke-dashoffset="0" fill="none"/><path d="M161.5 705V762M182.5 650V771M314.5 650V758" stroke="#f70" stroke-width="1" stroke-dasharray="1 2 1 1" stroke-dashoffset="3.4" fill="none"/><path d="M165.5 650V741M223.5 650V813M240.5 705V803M270.5 650V808M293.5 661V777M313.5 650V759M367.5 650V788M490.5 650V742M516.5 650V822M587.5 650V799M623.5 681V812M661.5 687V750M721.5 650V800M836.5 650V781" stroke="#0ff" stroke-width="1" stroke-dasharray="2 1 1 2 3 2 1 1" stroke-dashoffset="0" fill="none"/><path d="M170.5 668V747M178.5 656V805M318.5 650V795M328.5 650V746M404.5 650V808M606.5 650V817M688.5 650V809M742.5 650V813M745.5 650V795M774.5 650V805M794.5 650V822" stroke="#8f7" stroke-width="1" stroke-dasharray="1 1 2 1 1 2" stroke-dashoffset="3.4" fill="none"/><path d="M198.5 650V816M333.5 650V802M431.5 650V785" stroke="#f00" stroke-width="1" stroke-dasharray="1 2 2 2 1 3" stroke-dashoffset="0" fill="none"/><path d="M199.5 650V787M615.5 650V821M769.5 650V790" stroke="#f00" stroke-width="1" stroke-dasharray="1 2 2 2 1 3" stroke-dashoffset="3.4" fill="none"/><path d="M217.5 680V796M540.5 696V818M589.5 650V825M604.5 650V819M620.5 650V796M633.5 650V779" stroke="#f70" stroke-width="1" stroke-dasharray="1 2 1 1" stroke-dashoffset="0" fill="none"/><path d="M218.5 650V760M222.5 650V758M360.5 650V784M380.5 658V799M575.5 650V802M821.5 650V776" stroke="#0bf" stroke-width="1" stroke-dasharray="2 1 3 1 1 2" stroke-dashoffset="6.8" fill="none"/><path d="M249.5 650V777M343.5 650V758M450.5 650V813M643.5 680V782M645.5 705V801M715.5 650V810M756.5 650V787" stroke="#0bf" stroke-width="1" stroke-dasharray="2 1 3 1 1 2" stroke-dashoffset="0" fill="none"/><path d="M266.5 709V810M281.5 650V765M372.5 650V813M764.5 675V737" stroke="#0bf" stroke-width="1" stroke-dasharray="2 1 3 1 1 2" stroke-dashoffset="3.4" fill="none"/><path d="M272.5 650V753M349.5 650V758M387.5 650V761M389.5 650V752M429.5 650V757M469.5 650V785M494.5 650V752M656.5 650V766M680.5 673V785M768.5 650V770M788.5 650V809M844.5 650V788M845.5 650V741" stroke="#0ff" stroke-width="1" stroke-dasharray="2 1 1 2 3 2 1 1" stroke-dashoffset="6.8" fill="none"/><path d="M323.5 650V798M524.5 650V753M525.5 692V816M555.5 650V797M595.5 650V822M614.5 650V774M692.5 650V783M822.5 650V757" stroke="#8f7" stroke-width="1" stroke-dasharray="1 1 2 1 1 2" stroke-dashoffset="6.8" fill="none"/><path d="M403.5 650V766M512.5 650V829M659.5 650V783M666.5 650V797" stroke="#f70" stroke-width="1" stroke-dasharray="1 2 1 1" stroke-dashoffset="6.8" fill="none"/>
<rect x="117" y="647" width="730" height="235" filter="url(#sp)" mask="url(#mk1)"/>
<g clip-path="url(#c1)"><rect x="117" y="703.4" width="730" height="1.4" fill="#4cf" opacity="0.45"/><path d="M112 682.0h24v2.2h-24zM112 697.9h24v2.4h-24zM112 715.0h24v2.2h-24zM294 682.0h25v2.2h-25zM294 697.9h25v2.4h-25zM294 715.0h25v2.2h-25zM294 727.6h25v3h-25zM314 682.0h28v2.2h-28zM314 697.9h28v2.4h-28zM314 715.0h28v2.2h-28zM379 682.0h27v2.2h-27zM379 697.9h27v2.4h-27zM379 715.0h27v2.2h-27zM397 682.0h30v2.2h-30zM397 697.9h30v2.4h-30zM397 715.0h30v2.2h-30zM671 681.0h37v2.2h-37zM671 693.9h37v2.4h-37zM671 711.0h37v2.2h-37zM671 723.2h37v3h-37zM723 681.0h32v2.2h-32zM723 693.9h32v2.4h-32zM723 711.0h32v2.2h-32zM763 681.0h39v2.2h-39zM763 693.9h39v2.4h-39zM763 723.2h39v3h-39zM800 681.0h22v2.2h-22zM800 693.9h22v2.4h-22zM800 711.0h22v2.2h-22z" fill="#3ef" opacity="0.4"/><path d="M117 682.0h14v2.2h-14zM117 697.9h14v2.4h-14zM117 715.0h14v2.2h-14zM299 682.0h15v2.2h-15zM299 697.9h15v2.4h-15zM299 715.0h15v2.2h-15zM299 727.6h15v3h-15zM319 682.0h18v2.2h-18zM319 697.9h18v2.4h-18zM319 715.0h18v2.2h-18zM384 682.0h17v2.2h-17zM384 697.9h17v2.4h-17zM384 715.0h17v2.2h-17zM402 682.0h20v2.2h-20zM402 697.9h20v2.4h-20zM402 715.0h20v2.2h-20zM676 681.0h27v2.2h-27zM676 693.9h27v2.4h-27zM676 711.0h27v2.2h-27zM676 723.2h27v3h-27zM728 681.0h22v2.2h-22zM728 693.9h22v2.4h-22zM728 711.0h22v2.2h-22zM768 681.0h29v2.2h-29zM768 693.9h29v2.4h-29zM768 723.2h29v3h-29zM805 681.0h12v2.2h-12zM805 693.9h12v2.4h-12zM805 711.0h12v2.2h-12z" fill="#df3" opacity="0.4"/><path d="M112 704.9h24v1.4h-24zM294 704.9h25v1.4h-25zM314 704.9h28v1.4h-28zM344 682.0h20v2.2h-20zM344 697.9h20v2.4h-20zM344 704.9h20v1.4h-20zM344 715.0h20v2.2h-20zM344 727.6h20v3h-20zM379 704.9h27v1.4h-27zM397 704.9h30v1.4h-30zM671 702.9h37v1.4h-37zM723 702.9h32v1.4h-32zM763 702.9h39v1.4h-39zM763 711.0h39v2.2h-39zM800 702.9h22v1.4h-22z" fill="#3ef" opacity="0.2"/><path d="M117 704.9h14v1.4h-14zM299 704.9h15v1.4h-15zM319 704.9h18v1.4h-18zM348 682.0h10v2.2h-10zM348 697.9h10v2.4h-10zM348 704.9h10v1.4h-10zM348 715.0h10v2.2h-10zM348 727.6h10v3h-10zM384 704.9h17v1.4h-17zM402 704.9h20v1.4h-20zM676 702.9h27v1.4h-27zM728 702.9h22v1.4h-22zM768 702.9h29v1.4h-29zM768 711.0h29v2.2h-29zM805 702.9h12v1.4h-12z" fill="#df3" opacity="0.2"/><path d="M112 727.6h24v3h-24zM314 727.6h28v3h-28zM379 727.6h27v3h-27zM397 727.6h30v3h-30zM723 723.2h32v3h-32zM800 723.2h22v3h-22z" fill="#3ef" opacity="0.6"/><path d="M117 727.6h14v3h-14zM319 727.6h18v3h-18zM384 727.6h17v3h-17zM402 727.6h20v3h-20zM728 723.2h22v3h-22zM805 723.2h12v3h-12z" fill="#df3" opacity="0.6"/><path d="M117 649.6h14v19h-14z" fill="#b00" opacity="0.8"/><path d="M119 696.6h11v5h-11zM119 713.6h11v5h-11zM119 726.6h11v5h-11z" fill="#c10" opacity="0.8"/><path d="M299 650.6h15v17.5h-15zM319 650.6h18v17.5h-18zM384 650.6h17v17.5h-17zM402 650.6h20v17.5h-20zM676 650.6h27v17.5h-27zM728 650.6h22v17.5h-22zM805 650.6h12v17.5h-12z" fill="#fd0" opacity="0.4"/><path d="M297 668.1h19v1.8h-19zM674 668.1h31v1.8h-31zM766 668.1h33v1.8h-33z" fill="#e10" opacity="0.6"/><path d="M306 651.1h6v8h-6zM688 651.1h11v8h-11zM781 651.1h12v8h-12z" fill="#a00" opacity="0.6"/><path d="M317 668.1h22v1.8h-22zM382 668.1h21v1.8h-21zM400 668.1h24v1.8h-24zM726 668.1h26v1.8h-26zM803 668.1h16v1.8h-16z" fill="#e10" opacity="0.8"/><path d="M327 651.1h7v8h-7zM391 651.1h7v8h-7zM411 651.1h8v8h-8zM737 651.1h9v8h-9zM811 651.1h5v8h-5z" fill="#a00" opacity="0.8"/><path d="M348 650.6h10v17.5h-10zM768 650.6h29v17.5h-29z" fill="#fd0" opacity="0.2"/><path d="M346 668.1h14v1.8h-14z" fill="#e10" opacity="0.4"/><path d="M353 651.1h4v8h-4z" fill="#a00" opacity="0.4"/></g>
<g mask="url(#mm1)"><rect x="117" y="767" width="730" height="200" filter="url(#gl)"/><rect x="117" y="767" width="730" height="200" filter="url(#gd)"/></g>
<path d="M117.5 1279V1391M122.5 1252V1363M201.5 1252V1407M764.5 1310V1383M787.5 1252V1408" stroke="#f70" stroke-width="1" stroke-dasharray="1 2 1 1" stroke-dashoffset="0" fill="none"/><path d="M123.5 1264V1391M198.5 1252V1404M662.5 1252V1393M683.5 1252V1398M738.5 1252V1418M742.5 1252V1399M743.5 1252V1380" stroke="#ff0" stroke-width="1" stroke-dasharray="1 1 1 2 2 1" stroke-dashoffset="6.8" fill="none"/><path d="M125.5 1303V1363M149.5 1271V1393M316.5 1252V1359M317.5 1263V1379M395.5 1252V1370M516.5 1252V1416M698.5 1252V1350M744.5 1292V1361" stroke="#8f7" stroke-width="1" stroke-dasharray="1 1 2 1 1 2" stroke-dashoffset="6.8" fill="none"/><path d="M128.5 1309V1373M133.5 1252V1411M425.5 1296V1400M478.5 1279V1404M674.5 1252V1417M810.5 1278V1424" stroke="#f00" stroke-width="1" stroke-dasharray="1 2 2 2 1 3" stroke-dashoffset="0" fill="none"/><path d="M145.5 1302V1378M339.5 1252V1387M345.5 1303V1366M496.5 1252V1414M500.5 1252V1372M642.5 1252V1359M714.5 1307V1346" stroke="#0bf" stroke-width="1" stroke-dasharray="2 1 3 1 1 2" stroke-dashoffset="3.4" fill="none"/><path d="M154.5 1252V1375M192.5 1270V1367M247.5 1252V1341M414.5 1252V1390M466.5 1252V1405M473.5 1252V1365M486.5 1285V1403M538.5 1286V1381M555.5 1269V1354M559.5 1252V1346M585.5 1252V1385M750.5 1275V1395M765.5 1292V1357M791.5 1300V1379" stroke="#0ff" stroke-width="1" stroke-dasharray="2 1 1 2 3 2 1 1" stroke-dashoffset="0" fill="none"/><path d="M157.5 1252V1418M191.5 1256V1367M209.5 1252V1394M237.5 1252V1343M242.5 1252V1390M293.5 1303V1387M297.5 1252V1363M321.5 1291V1380M336.5 1252V1378M418.5 1277V1390M515.5 1252V1399M588.5 1308V1401M622.5 1294V1381M670.5 1285V1379M780.5 1255V1394M794.5 1252V1362M801.5 1260V1409M822.5 1252V1346" stroke="#0ff" stroke-width="1" stroke-dasharray="2 1 1 2 3 2 1 1" stroke-dashoffset="6.8" fill="none"/><path d="M160.5 1285V1376M185.5 1266V1374M208.5 1252V1349M362.5 1252V1412M455.5 1252V1381M462.5 1252V1376M467.5 1252V1342M498.5 1252V1383M574.5 1252V1410" stroke="#0bf" stroke-width="1" stroke-dasharray="2 1 3 1 1 2" stroke-dashoffset="0" fill="none"/><path d="M187.5 1285V1367M234.5 1252V1391M258.5 1260V1371M359.5 1252V1340M454.5 1252V1377M495.5 1252V1371M564.5 1280V1375M581.5 1252V1393M797.5 1309V1381" stroke="#0bf" stroke-width="1" stroke-dasharray="2 1 3 1 1 2" stroke-dashoffset="6.8" fill="none"/><path d="M199.5 1252V1373M200.5 1252V1413M308.5 1253V1353M326.5 1252V1355M471.5 1311V1368M551.5 1252V1429M569.5 1252V1379M668.5 1252V1411M687.5 1298V1400" stroke="#f00" stroke-width="1" stroke-dasharray="1 2 2 2 1 3" stroke-dashoffset="6.8" fill="none"/><path d="M202.5 1252V1410M324.5 1266V1426M405.5 1280V1365M421.5 1252V1372M592.5 1303V1379M721.5 1252V1366" stroke="#f00" stroke-width="1" stroke-dasharray="1 2 2 2 1 3" stroke-dashoffset="3.4" fill="none"/><path d="M204.5 1252V1370M508.5 1252V1408M527.5 1252V1413M629.5 1252V1352M732.5 1252V1416" stroke="#f70" stroke-width="1" stroke-dasharray="1 2 1 1" stroke-dashoffset="3.4" fill="none"/><path d="M228.5 1252V1412M279.5 1252V1350M322.5 1265V1393M361.5 1252V1369M379.5 1252V1362M437.5 1252V1414M477.5 1252V1414M490.5 1290V1381M589.5 1252V1394M682.5 1252V1349M706.5 1252V1350M829.5 1252V1382" stroke="#0ff" stroke-width="1" stroke-dasharray="2 1 1 2 3 2 1 1" stroke-dashoffset="3.4" fill="none"/><path d="M236.5 1252V1364M305.5 1252V1386M315.5 1271V1351M502.5 1252V1403M604.5 1252V1387M729.5 1252V1392" stroke="#ff0" stroke-width="1" stroke-dasharray="1 1 1 2 2 1" stroke-dashoffset="3.4" fill="none"/><path d="M265.5 1252V1407M403.5 1252V1353M413.5 1252V1348M415.5 1267V1366M530.5 1252V1386M600.5 1252V1398M612.5 1252V1357M625.5 1252V1384M666.5 1252V1373M734.5 1252V1419" stroke="#8f7" stroke-width="1" stroke-dasharray="1 1 2 1 1 2" stroke-dashoffset="3.4" fill="none"/><path d="M314.5 1252V1409M327.5 1306V1368M792.5 1252V1361" stroke="#ff0" stroke-width="1" stroke-dasharray="1 1 1 2 2 1" stroke-dashoffset="0" fill="none"/><path d="M349.5 1252V1372M400.5 1252V1374M423.5 1252V1353M468.5 1288V1392M520.5 1252V1399M576.5 1252V1359M627.5 1252V1375M634.5 1252V1346M730.5 1289V1372M746.5 1266V1375" stroke="#8f7" stroke-width="1" stroke-dasharray="1 1 2 1 1 2" stroke-dashoffset="0" fill="none"/><path d="M521.5 1252V1352M544.5 1252V1420M610.5 1252V1427M812.5 1252V1430" stroke="#f70" stroke-width="1" stroke-dasharray="1 2 1 1" stroke-dashoffset="6.8" fill="none"/>
<rect x="117" y="1249" width="730" height="235" filter="url(#sp)" mask="url(#mk2)"/>
<g clip-path="url(#c2)"><rect x="117" y="1305.5" width="730" height="1.4" fill="#4cf" opacity="0.45"/><path d="M112 1284.5h24v3.5h-24zM112 1316.1h24v2.2h-24zM112 1329.9h24v2.6h-24zM294 1284.5h25v3.5h-25zM294 1316.1h25v2.2h-25zM314 1284.5h28v3.5h-28zM314 1316.1h28v2.2h-28zM314 1329.9h28v2.6h-28zM379 1284.5h27v3.5h-27zM379 1316.1h27v2.2h-27zM379 1329.9h27v2.6h-27zM397 1284.5h30v3.5h-30zM397 1316.1h30v2.2h-30zM397 1329.9h30v2.6h-30zM671 1284.5h37v3.5h-37zM671 1313.0h37v2.4h-37zM723 1284.5h32v3.5h-32zM723 1313.0h32v2.4h-32zM723 1325.6h32v2.4h-32zM763 1284.5h39v3.5h-39zM763 1313.0h39v2.4h-39zM800 1284.5h22v3.5h-22zM800 1313.0h22v2.4h-22zM800 1325.6h22v2.4h-22z" fill="#3ef" opacity="0.4"/><path d="M117 1284.5h14v3.5h-14zM117 1316.1h14v2.2h-14zM117 1329.9h14v2.6h-14zM299 1284.5h15v3.5h-15zM299 1316.1h15v2.2h-15zM319 1284.5h18v3.5h-18zM319 1316.1h18v2.2h-18zM319 1329.9h18v2.6h-18zM384 1284.5h17v3.5h-17zM384 1316.1h17v2.2h-17zM384 1329.9h17v2.6h-17zM402 1284.5h20v3.5h-20zM402 1316.1h20v2.2h-20zM402 1329.9h20v2.6h-20zM676 1284.5h27v3.5h-27zM676 1313.0h27v2.4h-27zM728 1284.5h22v3.5h-22zM728 1313.0h22v2.4h-22zM728 1325.6h22v2.4h-22zM768 1284.5h29v3.5h-29zM768 1313.0h29v2.4h-29zM805 1284.5h12v3.5h-12zM805 1313.0h12v2.4h-12zM805 1325.6h12v2.4h-12z" fill="#df3" opacity="0.4"/><path d="M112 1307.0h24v1.4h-24zM294 1307.0h25v1.4h-25zM294 1329.9h25v2.6h-25zM314 1307.0h28v1.4h-28zM344 1284.5h20v3.5h-20zM344 1307.0h20v1.4h-20zM344 1316.1h20v2.2h-20zM344 1329.9h20v2.6h-20zM379 1307.0h27v1.4h-27zM397 1307.0h30v1.4h-30zM671 1305.0h37v1.4h-37zM671 1325.6h37v2.4h-37zM723 1305.0h32v1.4h-32zM763 1305.0h39v1.4h-39zM763 1325.6h39v2.4h-39zM800 1305.0h22v1.4h-22z" fill="#3ef" opacity="0.2"/><path d="M117 1307.0h14v1.4h-14zM299 1307.0h15v1.4h-15zM299 1329.9h15v2.6h-15zM319 1307.0h18v1.4h-18zM348 1284.5h10v3.5h-10zM348 1307.0h10v1.4h-10zM348 1316.1h10v2.2h-10zM348 1329.9h10v2.6h-10zM384 1307.0h17v1.4h-17zM402 1307.0h20v1.4h-20zM676 1305.0h27v1.4h-27zM676 1325.6h27v2.4h-27zM728 1305.0h22v1.4h-22zM768 1305.0h29v1.4h-29zM768 1325.6h29v2.4h-29zM805 1305.0h12v1.4h-12z" fill="#df3" opacity="0.2"/><path d="M117 1251.7h14v19h-14z" fill="#b00" opacity="0.8"/><path d="M119 1314.7h11v5h-11zM119 1328.7h11v5h-11z" fill="#c10" opacity="0.8"/><path d="M299 1252.7h15v17.5h-15zM319 1252.7h18v17.5h-18zM384 1252.7h17v17.5h-17zM402 1252.7h20v17.5h-20zM676 1252.7h27v17.5h-27zM728 1252.7h22v17.5h-22zM805 1252.7h12v17.5h-12z" fill="#fd0" opacity="0.4"/><path d="M297 1270.2h19v1.8h-19zM674 1270.2h31v1.8h-31zM766 1270.2h33v1.8h-33z" fill="#e10" opacity="0.6"/><path d="M306 1253.2h6v8h-6zM688 1253.2h11v8h-11zM781 1253.2h12v8h-12z" fill="#a00" opacity="0.6"/><path d="M317 1270.2h22v1.8h-22zM382 1270.2h21v1.8h-21zM400 1270.2h24v1.8h-24zM726 1270.2h26v1.8h-26zM803 1270.2h16v1.8h-16z" fill="#e10" opacity="0.8"/><path d="M327 1253.2h7v8h-7zM391 1253.2h7v8h-7zM411 1253.2h8v8h-8zM737 1253.2h9v8h-9zM811 1253.2h5v8h-5z" fill="#a00" opacity="0.8"/><path d="M348 1252.7h10v17.5h-10zM768 1252.7h29v17.5h-29z" fill="#fd0" opacity="0.2"/><path d="M346 1270.2h14v1.8h-14z" fill="#e10" opacity="0.4"/><path d="M353 1253.2h4v8h-4z" fill="#a00" opacity="0.4"/></g>
<g mask="url(#mm2)"><rect x="117" y="1369" width="730" height="200" filter="url(#gl)"/><rect x="117" y="1369" width="730" height="200" filter="url(#gd)"/></g>
<rect x="211.1" y="44.5" width="23.5" height="469.2" fill="#800000"/>
<rect x="891.9" y="44.5" width="23.4" height="469.2" fill="url(#jet)"/>
<clipPath id="c0"><rect x="117.0" y="44.5" width="729.4" height="469.2"/></clipPath>
<g clip-path="url(#c0)" fill="none" stroke-linejoin="round">
<polyline points="277.5,126.5 287.0,153.5 287.0,197.1 268.7,232.4 308.9,254.7 418.6,288.4 473.7,318.1 473.7,325.8 416.1,335.1 308.5,361.1 290.3,370.4 320.3,383.7 208.1,401.0 153.5,419.7 135.2,437.7 135.2,460.2 153.5,478.9 153.6,500.4 147.3,513.7" stroke="#c4be04" stroke-width="3.6"/>
<polyline points="835.5,126.5 792.4,166.7 696.9,185.7 627.6,232.4 788.1,311.8 799.0,321.5 766.2,337.6 675.0,349.1 627.6,383.1 492.7,396.4 565.7,513.7" stroke="#c4be04" stroke-width="3.6"/>
<polyline points="382.0,48.5 610.8,50.5 580.0,53.5 556.4,56.0 535.5,60.9 556.0,64.5 575.2,66.8 548.0,68.5 527.0,70.0 503.0,75.5 515.0,79.0 529.2,80.8 510.0,83.5 496.8,86.0 508.0,90.0 526.0,94.8 514.0,100.0 508.3,104.0 516.0,105.5 510.0,107.0 525.0,109.5 512.0,113.0 503.0,118.4 514.0,121.5 529.2,123.6 508.0,127.5 493.6,130.0 479.0,133.0 473.0,136.2 489.5,136.6 473.0,137.5 466.5,142.5 462.0,150.0 460.0,157.0 471.7,159.6 459.0,160.5 449.7,169.6 442.0,178.0 459.0,182.0 439.3,183.0 433.0,190.5 433.5,196.0 436.7,201.6 447.4,205.0 457.0,211.0 478.3,218.0 502.0,226.5 530.6,237.0 556.7,254.0 578.0,264.6 600.0,270.8 638.0,279.5 669.0,290.0 685.5,298.5 695.0,305.0 704.0,310.0 708.0,314.7 704.0,319.0 695.0,322.5 671.0,329.4 647.5,334.0 623.8,337.7 600.0,340.4 564.0,344.9 528.0,350.8 502.0,355.0 490.2,359.0 485.5,365.0 485.5,374.6 479.5,383.0 473.0,388.0 471.2,393.6 471.5,400.0 473.6,405.5 480.7,412.6 490.2,422.0 502.0,431.6 514.0,442.3 525.9,448.2 537.7,460.0 544.9,472.0 552.0,488.6 563.9,505.3 571.0,514.0" stroke="#f00" stroke-width="3.7"/>
<polyline points="382.0,48.5 610.8,50.5 580.0,53.5 556.4,56.0 535.5,60.9 556.0,64.5 575.2,66.8 548.0,68.5 527.0,70.0 503.0,75.5 515.0,79.0 529.2,80.8 510.0,83.5 496.8,86.0 508.0,90.0 526.0,94.8 514.0,100.0 508.3,104.0 516.0,105.5 510.0,107.0 525.0,109.5 512.0,113.0 503.0,118.4 514.0,121.5 529.2,123.6 508.0,127.5 493.6,130.0 479.0,133.0 473.0,136.2 489.5,136.6 473.0,137.5 466.5,142.5 462.0,150.0 460.0,157.0 471.7,159.6 459.0,160.5 449.7,169.6 442.0,178.0 459.0,182.0 439.3,183.0 433.0,190.5 433.5,196.0 436.7,201.6" stroke="#f00" stroke-width="4.8"/>
</g>
<path d="M117.0 513.7v7.3M164.1 513.7v7.3M211.1 513.7v7.3M258.2 513.7v7.3M305.2 513.7v7.3M352.3 513.7v7.3M399.4 513.7v7.3M446.4 513.7v7.3M493.5 513.7v7.3M540.5 513.7v7.3M587.6 513.7v7.3M634.7 513.7v7.3M681.7 513.7v7.3M728.8 513.7v7.3M775.8 513.7v7.3M822.9 513.7v7.3M117.0 126.5h-7.3M117.0 243.8h-7.3M117.0 361.1h-7.3M117.0 478.4h-7.3" stroke="#000" stroke-width="1.67" fill="none"/>
<path d="M117.0 513.7h-4.2M117.0 504.4h-4.2M117.0 496.6h-4.2M117.0 489.8h-4.2M117.0 483.8h-4.2M117.0 443.1h-4.2M117.0 422.4h-4.2M117.0 407.8h-4.2M117.0 396.4h-4.2M117.0 387.1h-4.2M117.0 379.3h-4.2M117.0 372.5h-4.2M117.0 366.5h-4.2M117.0 325.8h-4.2M117.0 305.1h-4.2M117.0 290.5h-4.2M117.0 279.1h-4.2M117.0 269.8h-4.2M117.0 262.0h-4.2M117.0 255.2h-4.2M117.0 249.2h-4.2M117.0 208.5h-4.2M117.0 187.8h-4.2M117.0 173.2h-4.2M117.0 161.8h-4.2M117.0 152.5h-4.2M117.0 144.7h-4.2M117.0 137.9h-4.2M117.0 131.9h-4.2M117.0 91.2h-4.2M117.0 70.5h-4.2M117.0 55.9h-4.2M117.0 44.5h-4.2" stroke="#000" stroke-width="1.25" fill="none"/>
<path d="M915.3 44.5h7.3M915.3 138.3h7.3M915.3 232.2h7.3M915.3 326.0h7.3M915.3 419.9h7.3M915.3 513.7h7.3" stroke="#000" stroke-width="1.67" fill="none"/>
<rect x="117.0" y="44.5" width="729.4" height="469.2" fill="none" stroke="#000" stroke-width="1.67"/>
<rect x="891.9" y="44.5" width="23.4" height="469.2" fill="none" stroke="#000" stroke-width="1.67"/>
<text x="117.0" y="543.9" font-size="21.6" text-anchor="middle" fill="#000" textLength="11.6" lengthAdjust="spacingAndGlyphs">1</text>
<text x="164.1" y="543.9" font-size="21.6" text-anchor="middle" fill="#000" textLength="11.6" lengthAdjust="spacingAndGlyphs">3</text>
<text x="211.1" y="543.9" font-size="21.6" text-anchor="middle" fill="#000" textLength="11.6" lengthAdjust="spacingAndGlyphs">5</text>
<text x="258.2" y="543.9" font-size="21.6" text-anchor="middle" fill="#000" textLength="11.6" lengthAdjust="spacingAndGlyphs">7</text>
<text x="305.2" y="543.9" font-size="21.6" text-anchor="middle" fill="#000" textLength="11.6" lengthAdjust="spacingAndGlyphs">9</text>
<text x="351.7" y="543.9" font-size="21.6" text-anchor="middle" fill="#000" textLength="24.6" lengthAdjust="spacingAndGlyphs">11</text>
<text x="398.8" y="543.9" font-size="21.6" text-anchor="middle" fill="#000" textLength="24.6" lengthAdjust="spacingAndGlyphs">13</text>
<text x="445.8" y="543.9" font-size="21.6" text-anchor="middle" fill="#000" textLength="24.6" lengthAdjust="spacingAndGlyphs">15</text>
<text x="492.9" y="543.9" font-size="21.6" text-anchor="middle" fill="#000" textLength="24.6" lengthAdjust="spacingAndGlyphs">17</text>
<text x="539.9" y="543.9" font-size="21.6" text-anchor="middle" fill="#000" textLength="24.6" lengthAdjust="spacingAndGlyphs">19</text>
<text x="587.0" y="543.9" font-size="21.6" text-anchor="middle" fill="#000" textLength="24.6" lengthAdjust="spacingAndGlyphs">21</text>
<text x="634.1" y="543.9" font-size="21.6" text-anchor="middle" fill="#000" textLength="24.6" lengthAdjust="spacingAndGlyphs">23</text>
<text x="681.1" y="543.9" font-size="21.6" text-anchor="middle" fill="#000" textLength="24.6" lengthAdjust="spacingAndGlyphs">25</text>
<text x="728.2" y="543.9" font-size="21.6" text-anchor="middle" fill="#000" textLength="24.6" lengthAdjust="spacingAndGlyphs">27</text>
<text x="775.2" y="543.9" font-size="21.6" text-anchor="middle" fill="#000" textLength="24.6" lengthAdjust="spacingAndGlyphs">29</text>
<text x="822.3" y="543.9" font-size="21.6" text-anchor="middle" fill="#000" textLength="24.6" lengthAdjust="spacingAndGlyphs">31</text>
<text x="478.2" y="572.3" font-size="21.6" text-anchor="middle" fill="#000" textLength="281.5" lengthAdjust="spacingAndGlyphs" xml:space="preserve">October 2024 HE HEF&#160;&#160;HHE</text>
<text x="68.2" y="135.5" font-size="21.6" text-anchor="start" fill="#000" textLength="24.2" lengthAdjust="spacingAndGlyphs">10</text>
<text x="94.4" y="127.5" font-size="15.2" text-anchor="start" fill="#000" textLength="7.4" lengthAdjust="spacingAndGlyphs">1</text>
<text x="68.2" y="252.8" font-size="21.6" text-anchor="start" fill="#000" textLength="24.2" lengthAdjust="spacingAndGlyphs">10</text>
<text x="94.4" y="244.8" font-size="15.2" text-anchor="start" fill="#000" textLength="7.4" lengthAdjust="spacingAndGlyphs">0</text>
<text x="56.4" y="370.1" font-size="21.6" text-anchor="start" fill="#000" textLength="24.2" lengthAdjust="spacingAndGlyphs">10</text>
<text x="81.3" y="362.1" font-size="15.2" text-anchor="start" fill="#000" textLength="19.8" lengthAdjust="spacingAndGlyphs">−1</text>
<text x="56.4" y="487.4" font-size="21.6" text-anchor="start" fill="#000" textLength="24.2" lengthAdjust="spacingAndGlyphs">10</text>
<text x="81.3" y="479.4" font-size="15.2" text-anchor="start" fill="#000" textLength="19.8" lengthAdjust="spacingAndGlyphs">−2</text>
<text transform="translate(40.2 279.9) rotate(-90)" font-size="21.6" text-anchor="middle" textLength="54.8" lengthAdjust="spacingAndGlyphs">f [Hz]</text>
<text x="930.6" y="52.5" font-size="21.6" text-anchor="start" fill="#000" textLength="24.6" lengthAdjust="spacingAndGlyphs">20</text>
<text x="930.6" y="146.3" font-size="21.6" text-anchor="start" fill="#000" textLength="24.6" lengthAdjust="spacingAndGlyphs">15</text>
<text x="930.6" y="240.2" font-size="21.6" text-anchor="start" fill="#000" textLength="24.6" lengthAdjust="spacingAndGlyphs">10</text>
<text x="930.6" y="334.0" font-size="21.6" text-anchor="start" fill="#000" textLength="11.6" lengthAdjust="spacingAndGlyphs">5</text>
<text x="930.6" y="427.9" font-size="21.6" text-anchor="start" fill="#000" textLength="11.6" lengthAdjust="spacingAndGlyphs">0</text>
<text x="930.6" y="521.7" font-size="21.6" text-anchor="start" fill="#000" textLength="26.9" lengthAdjust="spacingAndGlyphs">−5</text>
<text transform="translate(983.8 279.6) rotate(-90)" font-size="21.6" text-anchor="middle" textLength="342.5" lengthAdjust="spacingAndGlyphs">residual [dB] from average curve</text>
<text x="189.9" y="40.9" font-size="21.6" text-anchor="middle" fill="#f00" textLength="73.0" lengthAdjust="spacingAndGlyphs">-180dB</text>
<text x="335.8" y="40.9" font-size="21.6" text-anchor="middle" fill="#f00" textLength="73.0" lengthAdjust="spacingAndGlyphs">-160dB</text>
<text x="481.7" y="40.9" font-size="21.6" text-anchor="middle" fill="#f00" textLength="73.0" lengthAdjust="spacingAndGlyphs">-140dB</text>
<text x="627.6" y="40.9" font-size="21.6" text-anchor="middle" fill="#f00" textLength="73.0" lengthAdjust="spacingAndGlyphs">-120dB</text>
<text x="773.5" y="40.9" font-size="21.6" text-anchor="middle" fill="#f00" textLength="73.0" lengthAdjust="spacingAndGlyphs">-100dB</text>
<path d="M189.9 44.5v10.4M335.8 44.5v10.4M481.7 44.5v10.4M627.6 44.5v10.4M773.5 44.5v10.4" stroke="#f00" stroke-width="3.1" fill="none"/>
<rect x="891.9" y="646.6" width="23.4" height="469.2" fill="url(#jet)"/>
<clipPath id="c1"><rect x="117.0" y="646.6" width="729.4" height="469.2"/></clipPath>
<g clip-path="url(#c1)" fill="none" stroke-linejoin="round">
<polyline points="277.5,728.6 287.0,755.6 287.0,799.2 268.7,834.5 308.9,856.8 418.6,890.5 473.7,920.2 473.7,927.9 416.1,937.2 308.5,963.2 290.3,972.5 320.3,985.8 208.1,1003.1 153.5,1021.8 135.2,1039.8 135.2,1062.3 153.5,1081.0 153.6,1102.5 147.3,1115.8" stroke="#c4be04" stroke-width="3.6"/>
<polyline points="835.5,728.6 792.4,768.8 696.9,787.8 627.6,834.5 788.1,913.9 799.0,923.6 766.2,939.7 675.0,951.2 627.6,985.2 492.7,998.5 565.7,1115.8" stroke="#c4be04" stroke-width="3.6"/>
<polyline points="382.4,651.4 592.4,653.6 575.0,655.1 560.3,657.3 538.0,660.5 523.2,665.5 533.0,668.0 520.0,669.6 510.9,672.9 498.5,679.0 491.0,684.1 489.9,687.7 491.0,691.1 496.0,693.9 510.9,696.9 500.0,700.1 497.3,703.8 504.0,705.6 510.9,706.8 530.7,710.7 508.4,714.9 497.0,718.1 496.0,719.9 505.0,722.6 520.8,724.8 493.6,729.0 476.3,733.0 465.2,739.6 457.7,748.3 452.8,760.6 441.7,771.8 455.3,774.2 440.0,775.1 435.5,782.1 459.0,783.6 434.0,784.6 429.0,788.1 428.1,791.1 430.0,796.1 434.3,800.2 449.1,810.1 476.3,820.0 503.5,829.8 528.2,839.7 542.3,850.4 578.4,866.6 614.5,877.5 657.9,888.3 672.3,897.3 694.0,906.4 703.0,911.6 706.6,917.2 703.0,922.1 694.0,926.2 650.6,937.0 578.4,946.1 506.0,955.1 492.0,958.1 488.0,960.6 486.3,966.1 486.3,973.1 480.0,981.1 470.0,987.7 467.0,992.1 466.7,995.6 468.0,1001.1 472.0,1006.1 480.0,1011.1 488.0,1018.4 506.0,1034.6 524.0,1049.1 542.3,1063.5 547.7,1078.0 560.3,1099.7 571.0,1116.1" stroke="#f00" stroke-width="3.7"/>
<polyline points="382.4,651.4 592.4,653.6 575.0,655.1 560.3,657.3 538.0,660.5 523.2,665.5 533.0,668.0 520.0,669.6 510.9,672.9 498.5,679.0 491.0,684.1 489.9,687.7 491.0,691.1 496.0,693.9 510.9,696.9 500.0,700.1 497.3,703.8 504.0,705.6 510.9,706.8 530.7,710.7 508.4,714.9 497.0,718.1 496.0,719.9 505.0,722.6 520.8,724.8 493.6,729.0 476.3,733.0 465.2,739.6 457.7,748.3 452.8,760.6 441.7,771.8 455.3,774.2 440.0,775.1 435.5,782.1 459.0,783.6 434.0,784.6 429.0,788.1 428.1,791.1 430.0,796.1 434.3,800.2" stroke="#f00" stroke-width="4.8"/>
</g>
<path d="M117.0 1115.8v7.3M164.1 1115.8v7.3M211.1 1115.8v7.3M258.2 1115.8v7.3M305.2 1115.8v7.3M352.3 1115.8v7.3M399.4 1115.8v7.3M446.4 1115.8v7.3M493.5 1115.8v7.3M540.5 1115.8v7.3M587.6 1115.8v7.3M634.7 1115.8v7.3M681.7 1115.8v7.3M728.8 1115.8v7.3M775.8 1115.8v7.3M822.9 1115.8v7.3M117.0 728.6h-7.3M117.0 845.9h-7.3M117.0 963.2h-7.3M117.0 1080.5h-7.3" stroke="#000" stroke-width="1.67" fill="none"/>
<path d="M117.0 1115.8h-4.2M117.0 1106.5h-4.2M117.0 1098.7h-4.2M117.0 1091.9h-4.2M117.0 1085.9h-4.2M117.0 1045.2h-4.2M117.0 1024.5h-4.2M117.0 1009.9h-4.2M117.0 998.5h-4.2M117.0 989.2h-4.2M117.0 981.4h-4.2M117.0 974.6h-4.2M117.0 968.6h-4.2M117.0 927.9h-4.2M117.0 907.2h-4.2M117.0 892.6h-4.2M117.0 881.2h-4.2M117.0 871.9h-4.2M117.0 864.1h-4.2M117.0 857.3h-4.2M117.0 851.3h-4.2M117.0 810.6h-4.2M117.0 789.9h-4.2M117.0 775.3h-4.2M117.0 763.9h-4.2M117.0 754.6h-4.2M117.0 746.8h-4.2M117.0 740.0h-4.2M117.0 734.0h-4.2M117.0 693.3h-4.2M117.0 672.6h-4.2M117.0 658.0h-4.2M117.0 646.6h-4.2" stroke="#000" stroke-width="1.25" fill="none"/>
<path d="M915.3 646.6h7.3M915.3 740.4h7.3M915.3 834.3h7.3M915.3 928.1h7.3M915.3 1022.0h7.3M915.3 1115.8h7.3" stroke="#000" stroke-width="1.67" fill="none"/>
<rect x="117.0" y="646.6" width="729.4" height="469.2" fill="none" stroke="#000" stroke-width="1.67"/>
<rect x="891.9" y="646.6" width="23.4" height="469.2" fill="none" stroke="#000" stroke-width="1.67"/>
<text x="117.0" y="1146.0" font-size="21.6" text-anchor="middle" fill="#000" textLength="11.6" lengthAdjust="spacingAndGlyphs">1</text>
<text x="164.1" y="1146.0" font-size="21.6" text-anchor="middle" fill="#000" textLength="11.6" lengthAdjust="spacingAndGlyphs">3</text>
<text x="211.1" y="1146.0" font-size="21.6" text-anchor="middle" fill="#000" textLength="11.6" lengthAdjust="spacingAndGlyphs">5</text>
<text x="258.2" y="1146.0" font-size="21.6" text-anchor="middle" fill="#000" textLength="11.6" lengthAdjust="spacingAndGlyphs">7</text>
<text x="305.2" y="1146.0" font-size="21.6" text-anchor="middle" fill="#000" textLength="11.6" lengthAdjust="spacingAndGlyphs">9</text>
<text x="351.7" y="1146.0" font-size="21.6" text-anchor="middle" fill="#000" textLength="24.6" lengthAdjust="spacingAndGlyphs">11</text>
<text x="398.8" y="1146.0" font-size="21.6" text-anchor="middle" fill="#000" textLength="24.6" lengthAdjust="spacingAndGlyphs">13</text>
<text x="445.8" y="1146.0" font-size="21.6" text-anchor="middle" fill="#000" textLength="24.6" lengthAdjust="spacingAndGlyphs">15</text>
<text x="492.9" y="1146.0" font-size="21.6" text-anchor="middle" fill="#000" textLength="24.6" lengthAdjust="spacingAndGlyphs">17</text>
<text x="539.9" y="1146.0" font-size="21.6" text-anchor="middle" fill="#000" textLength="24.6" lengthAdjust="spacingAndGlyphs">19</text>
<text x="587.0" y="1146.0" font-size="21.6" text-anchor="middle" fill="#000" textLength="24.6" lengthAdjust="spacingAndGlyphs">21</text>
<text x="634.1" y="1146.0" font-size="21.6" text-anchor="middle" fill="#000" textLength="24.6" lengthAdjust="spacingAndGlyphs">23</text>
<text x="681.1" y="1146.0" font-size="21.6" text-anchor="middle" fill="#000" textLength="24.6" lengthAdjust="spacingAndGlyphs">25</text>
<text x="728.2" y="1146.0" font-size="21.6" text-anchor="middle" fill="#000" textLength="24.6" lengthAdjust="spacingAndGlyphs">27</text>
<text x="775.2" y="1146.0" font-size="21.6" text-anchor="middle" fill="#000" textLength="24.6" lengthAdjust="spacingAndGlyphs">29</text>
<text x="822.3" y="1146.0" font-size="21.6" text-anchor="middle" fill="#000" textLength="24.6" lengthAdjust="spacingAndGlyphs">31</text>
<text x="478.2" y="1174.4" font-size="21.6" text-anchor="middle" fill="#000" textLength="281.5" lengthAdjust="spacingAndGlyphs" xml:space="preserve">October 2024 HE HEF&#160;&#160;HHN</text>
<text x="68.2" y="737.6" font-size="21.6" text-anchor="start" fill="#000" textLength="24.2" lengthAdjust="spacingAndGlyphs">10</text>
<text x="94.4" y="729.6" font-size="15.2" text-anchor="start" fill="#000" textLength="7.4" lengthAdjust="spacingAndGlyphs">1</text>
<text x="68.2" y="854.9" font-size="21.6" text-anchor="start" fill="#000" textLength="24.2" lengthAdjust="spacingAndGlyphs">10</text>
<text x="94.4" y="846.9" font-size="15.2" text-anchor="start" fill="#000" textLength="7.4" lengthAdjust="spacingAndGlyphs">0</text>
<text x="56.4" y="972.2" font-size="21.6" text-anchor="start" fill="#000" textLength="24.2" lengthAdjust="spacingAndGlyphs">10</text>
<text x="81.3" y="964.2" font-size="15.2" text-anchor="start" fill="#000" textLength="19.8" lengthAdjust="spacingAndGlyphs">−1</text>
<text x="56.4" y="1089.5" font-size="21.6" text-anchor="start" fill="#000" textLength="24.2" lengthAdjust="spacingAndGlyphs">10</text>
<text x="81.3" y="1081.5" font-size="15.2" text-anchor="start" fill="#000" textLength="19.8" lengthAdjust="spacingAndGlyphs">−2</text>
<text transform="translate(40.2 882.0) rotate(-90)" font-size="21.6" text-anchor="middle" textLength="54.8" lengthAdjust="spacingAndGlyphs">f [Hz]</text>
<text x="930.6" y="654.6" font-size="21.6" text-anchor="start" fill="#000" textLength="24.6" lengthAdjust="spacingAndGlyphs">20</text>
<text x="930.6" y="748.4" font-size="21.6" text-anchor="start" fill="#000" textLength="24.6" lengthAdjust="spacingAndGlyphs">15</text>
<text x="930.6" y="842.3" font-size="21.6" text-anchor="start" fill="#000" textLength="24.6" lengthAdjust="spacingAndGlyphs">10</text>
<text x="930.6" y="936.1" font-size="21.6" text-anchor="start" fill="#000" textLength="11.6" lengthAdjust="spacingAndGlyphs">5</text>
<text x="930.6" y="1030.0" font-size="21.6" text-anchor="start" fill="#000" textLength="11.6" lengthAdjust="spacingAndGlyphs">0</text>
<text x="930.6" y="1123.8" font-size="21.6" text-anchor="start" fill="#000" textLength="26.9" lengthAdjust="spacingAndGlyphs">−5</text>
<text transform="translate(983.8 881.7) rotate(-90)" font-size="21.6" text-anchor="middle" textLength="342.5" lengthAdjust="spacingAndGlyphs">residual [dB] from average curve</text>
<text x="189.9" y="643.0" font-size="21.6" text-anchor="middle" fill="#f00" textLength="73.0" lengthAdjust="spacingAndGlyphs">-180dB</text>
<text x="335.8" y="643.0" font-size="21.6" text-anchor="middle" fill="#f00" textLength="73.0" lengthAdjust="spacingAndGlyphs">-160dB</text>
<text x="481.7" y="643.0" font-size="21.6" text-anchor="middle" fill="#f00" textLength="73.0" lengthAdjust="spacingAndGlyphs">-140dB</text>
<text x="627.6" y="643.0" font-size="21.6" text-anchor="middle" fill="#f00" textLength="73.0" lengthAdjust="spacingAndGlyphs">-120dB</text>
<text x="773.5" y="643.0" font-size="21.6" text-anchor="middle" fill="#f00" textLength="73.0" lengthAdjust="spacingAndGlyphs">-100dB</text>
<path d="M189.9 646.6v10.4M335.8 646.6v10.4M481.7 646.6v10.4M627.6 646.6v10.4M773.5 646.6v10.4" stroke="#f00" stroke-width="3.1" fill="none"/>
<rect x="891.9" y="1248.7" width="23.4" height="469.2" fill="url(#jet)"/>
<clipPath id="c2"><rect x="117.0" y="1248.7" width="729.4" height="469.2"/></clipPath>
<g clip-path="url(#c2)" fill="none" stroke-linejoin="round">
<polyline points="277.5,1330.7 287.0,1357.7 287.0,1401.3 268.7,1436.6 308.9,1458.9 418.6,1492.6 473.7,1522.3 473.7,1530.0 416.1,1539.3 308.5,1565.3 290.3,1574.6 320.3,1587.9 208.1,1605.2 153.5,1623.9 135.2,1641.9 135.2,1664.4 153.5,1683.1 153.6,1704.6 147.3,1717.9" stroke="#c4be04" stroke-width="3.6"/>
<polyline points="835.5,1330.7 792.4,1370.9 696.9,1389.9 627.6,1436.6 788.1,1516.0 799.0,1525.7 766.2,1541.8 675.0,1553.3 627.6,1587.3 492.7,1600.6 565.7,1717.9" stroke="#c4be04" stroke-width="3.6"/>
<polyline points="382.4,1252.7 592.4,1255.4 578.0,1257.7 565.3,1260.0 538.0,1267.5 508.4,1273.7 504.7,1277.4 508.0,1279.7 518.3,1281.6 540.5,1283.5 520.0,1285.7 508.4,1287.3 491.1,1291.0 486.5,1294.2 485.7,1297.1 486.0,1300.2 487.4,1303.3 498.5,1307.0 492.0,1308.7 514.6,1312.0 502.0,1315.2 493.6,1318.1 482.5,1324.3 468.9,1330.5 460.2,1336.7 457.0,1339.2 468.9,1340.4 455.0,1341.7 452.8,1347.8 449.0,1354.2 447.9,1360.2 455.3,1364.4 445.0,1365.7 441.7,1370.0 436.0,1374.7 451.6,1376.2 433.0,1377.7 430.6,1380.2 426.0,1384.2 441.7,1385.6 424.0,1387.2 421.9,1392.3 423.5,1397.2 428.1,1402.2 444.1,1409.6 468.9,1418.2 498.5,1429.4 533.1,1441.7 542.3,1448.8 578.4,1466.8 614.5,1477.7 665.0,1490.3 694.0,1501.1 710.0,1509.7 718.0,1515.7 721.0,1521.0 717.0,1525.7 708.4,1530.0 672.3,1539.0 614.5,1546.3 542.3,1553.5 500.0,1559.2 488.0,1561.0 478.0,1563.7 473.9,1566.2 472.5,1570.2 472.0,1575.2 468.0,1579.2 455.9,1584.2 425.1,1593.3 389.0,1600.5 352.9,1607.7 324.0,1613.1 306.0,1620.4 296.9,1627.6 293.3,1634.8 302.3,1638.4 303.0,1643.2 304.1,1647.5 320.4,1651.1 331.2,1656.5 334.8,1661.9 360.1,1663.7 378.2,1670.9 389.0,1680.0 407.1,1689.0 425.1,1701.6 446.8,1716.1 450.0,1718.2" stroke="#f00" stroke-width="3.7"/>
<polyline points="382.4,1252.7 592.4,1255.4 578.0,1257.7 565.3,1260.0 538.0,1267.5 508.4,1273.7 504.7,1277.4 508.0,1279.7 518.3,1281.6 540.5,1283.5 520.0,1285.7 508.4,1287.3 491.1,1291.0 486.5,1294.2 485.7,1297.1 486.0,1300.2 487.4,1303.3 498.5,1307.0 492.0,1308.7 514.6,1312.0 502.0,1315.2 493.6,1318.1 482.5,1324.3 468.9,1330.5 460.2,1336.7 457.0,1339.2 468.9,1340.4 455.0,1341.7 452.8,1347.8 449.0,1354.2 447.9,1360.2 455.3,1364.4 445.0,1365.7 441.7,1370.0 436.0,1374.7 451.6,1376.2 433.0,1377.7 430.6,1380.2 426.0,1384.2 441.7,1385.6 424.0,1387.2 421.9,1392.3 423.5,1397.2 428.1,1402.2" stroke="#f00" stroke-width="4.8"/>
</g>
<path d="M117.0 1717.9v7.3M164.1 1717.9v7.3M211.1 1717.9v7.3M258.2 1717.9v7.3M305.2 1717.9v7.3M352.3 1717.9v7.3M399.4 1717.9v7.3M446.4 1717.9v7.3M493.5 1717.9v7.3M540.5 1717.9v7.3M587.6 1717.9v7.3M634.7 1717.9v7.3M681.7 1717.9v7.3M728.8 1717.9v7.3M775.8 1717.9v7.3M822.9 1717.9v7.3M117.0 1330.7h-7.3M117.0 1448.0h-7.3M117.0 1565.3h-7.3M117.0 1682.6h-7.3" stroke="#000" stroke-width="1.67" fill="none"/>
<path d="M117.0 1717.9h-4.2M117.0 1708.6h-4.2M117.0 1700.8h-4.2M117.0 1694.0h-4.2M117.0 1688.0h-4.2M117.0 1647.3h-4.2M117.0 1626.6h-4.2M117.0 1612.0h-4.2M117.0 1600.6h-4.2M117.0 1591.3h-4.2M117.0 1583.5h-4.2M117.0 1576.7h-4.2M117.0 1570.7h-4.2M117.0 1530.0h-4.2M117.0 1509.3h-4.2M117.0 1494.7h-4.2M117.0 1483.3h-4.2M117.0 1474.0h-4.2M117.0 1466.2h-4.2M117.0 1459.4h-4.2M117.0 1453.4h-4.2M117.0 1412.7h-4.2M117.0 1392.0h-4.2M117.0 1377.4h-4.2M117.0 1366.0h-4.2M117.0 1356.7h-4.2M117.0 1348.9h-4.2M117.0 1342.1h-4.2M117.0 1336.1h-4.2M117.0 1295.4h-4.2M117.0 1274.7h-4.2M117.0 1260.1h-4.2M117.0 1248.7h-4.2" stroke="#000" stroke-width="1.25" fill="none"/>
<path d="M915.3 1248.7h7.3M915.3 1342.5h7.3M915.3 1436.4h7.3M915.3 1530.2h7.3M915.3 1624.1h7.3M915.3 1717.9h7.3" stroke="#000" stroke-width="1.67" fill="none"/>
<rect x="117.0" y="1248.7" width="729.4" height="469.2" fill="none" stroke="#000" stroke-width="1.67"/>
<rect x="891.9" y="1248.7" width="23.4" height="469.2" fill="none" stroke="#000" stroke-width="1.67"/>
<text x="117.0" y="1748.1" font-size="21.6" text-anchor="middle" fill="#000" textLength="11.6" lengthAdjust="spacingAndGlyphs">1</text>
<text x="164.1" y="1748.1" font-size="21.6" text-anchor="middle" fill="#000" textLength="11.6" lengthAdjust="spacingAndGlyphs">3</text>
<text x="211.1" y="1748.1" font-size="21.6" text-anchor="middle" fill="#000" textLength="11.6" lengthAdjust="spacingAndGlyphs">5</text>
<text x="258.2" y="1748.1" font-size="21.6" text-anchor="middle" fill="#000" textLength="11.6" lengthAdjust="spacingAndGlyphs">7</text>
<text x="305.2" y="1748.1" font-size="21.6" text-anchor="middle" fill="#000" textLength="11.6" lengthAdjust="spacingAndGlyphs">9</text>
<text x="351.7" y="1748.1" font-size="21.6" text-anchor="middle" fill="#000" textLength="24.6" lengthAdjust="spacingAndGlyphs">11</text>
<text x="398.8" y="1748.1" font-size="21.6" text-anchor="middle" fill="#000" textLength="24.6" lengthAdjust="spacingAndGlyphs">13</text>
<text x="445.8" y="1748.1" font-size="21.6" text-anchor="middle" fill="#000" textLength="24.6" lengthAdjust="spacingAndGlyphs">15</text>
<text x="492.9" y="1748.1" font-size="21.6" text-anchor="middle" fill="#000" textLength="24.6" lengthAdjust="spacingAndGlyphs">17</text>
<text x="539.9" y="1748.1" font-size="21.6" text-anchor="middle" fill="#000" textLength="24.6" lengthAdjust="spacingAndGlyphs">19</text>
<text x="587.0" y="1748.1" font-size="21.6" text-anchor="middle" fill="#000" textLength="24.6" lengthAdjust="spacingAndGlyphs">21</text>
<text x="634.1" y="1748.1" font-size="21.6" text-anchor="middle" fill="#000" textLength="24.6" lengthAdjust="spacingAndGlyphs">23</text>
<text x="681.1" y="1748.1" font-size="21.6" text-anchor="middle" fill="#000" textLength="24.6" lengthAdjust="spacingAndGlyphs">25</text>
<text x="728.2" y="1748.1" font-size="21.6" text-anchor="middle" fill="#000" textLength="24.6" lengthAdjust="spacingAndGlyphs">27</text>
<text x="775.2" y="1748.1" font-size="21.6" text-anchor="middle" fill="#000" textLength="24.6" lengthAdjust="spacingAndGlyphs">29</text>
<text x="822.3" y="1748.1" font-size="21.6" text-anchor="middle" fill="#000" textLength="24.6" lengthAdjust="spacingAndGlyphs">31</text>
<text x="478.2" y="1776.5" font-size="21.6" text-anchor="middle" fill="#000" textLength="281.5" lengthAdjust="spacingAndGlyphs" xml:space="preserve">October 2024 HE HEF&#160;&#160;HHZ</text>
<text x="68.2" y="1339.7" font-size="21.6" text-anchor="start" fill="#000" textLength="24.2" lengthAdjust="spacingAndGlyphs">10</text>
<text x="94.4" y="1331.7" font-size="15.2" text-anchor="start" fill="#000" textLength="7.4" lengthAdjust="spacingAndGlyphs">1</text>
<text x="68.2" y="1457.0" font-size="21.6" text-anchor="start" fill="#000" textLength="24.2" lengthAdjust="spacingAndGlyphs">10</text>
<text x="94.4" y="1449.0" font-size="15.2" text-anchor="start" fill="#000" textLength="7.4" lengthAdjust="spacingAndGlyphs">0</text>
<text x="56.4" y="1574.3" font-size="21.6" text-anchor="start" fill="#000" textLength="24.2" lengthAdjust="spacingAndGlyphs">10</text>
<text x="81.3" y="1566.3" font-size="15.2" text-anchor="start" fill="#000" textLength="19.8" lengthAdjust="spacingAndGlyphs">−1</text>
<text x="56.4" y="1691.6" font-size="21.6" text-anchor="start" fill="#000" textLength="24.2" lengthAdjust="spacingAndGlyphs">10</text>
<text x="81.3" y="1683.6" font-size="15.2" text-anchor="start" fill="#000" textLength="19.8" lengthAdjust="spacingAndGlyphs">−2</text>
<text transform="translate(40.2 1484.1) rotate(-90)" font-size="21.6" text-anchor="middle" textLength="54.8" lengthAdjust="spacingAndGlyphs">f [Hz]</text>
<text x="930.6" y="1256.7" font-size="21.6" text-anchor="start" fill="#000" textLength="24.6" lengthAdjust="spacingAndGlyphs">20</text>
<text x="930.6" y="1350.5" font-size="21.6" text-anchor="start" fill="#000" textLength="24.6" lengthAdjust="spacingAndGlyphs">15</text>
<text x="930.6" y="1444.4" font-size="21.6" text-anchor="start" fill="#000" textLength="24.6" lengthAdjust="spacingAndGlyphs">10</text>
<text x="930.6" y="1538.2" font-size="21.6" text-anchor="start" fill="#000" textLength="11.6" lengthAdjust="spacingAndGlyphs">5</text>
<text x="930.6" y="1632.1" font-size="21.6" text-anchor="start" fill="#000" textLength="11.6" lengthAdjust="spacingAndGlyphs">0</text>
<text x="930.6" y="1725.9" font-size="21.6" text-anchor="start" fill="#000" textLength="26.9" lengthAdjust="spacingAndGlyphs">−5</text>
<text transform="translate(983.8 1483.8) rotate(-90)" font-size="21.6" text-anchor="middle" textLength="342.5" lengthAdjust="spacingAndGlyphs">residual [dB] from average curve</text>
<text x="189.9" y="1245.1" font-size="21.6" text-anchor="middle" fill="#f00" textLength="73.0" lengthAdjust="spacingAndGlyphs">-180dB</text>
<text x="335.8" y="1245.1" font-size="21.6" text-anchor="middle" fill="#f00" textLength="73.0" lengthAdjust="spacingAndGlyphs">-160dB</text>
<text x="481.7" y="1245.1" font-size="21.6" text-anchor="middle" fill="#f00" textLength="73.0" lengthAdjust="spacingAndGlyphs">-140dB</text>
<text x="627.6" y="1245.1" font-size="21.6" text-anchor="middle" fill="#f00" textLength="73.0" lengthAdjust="spacingAndGlyphs">-120dB</text>
<text x="773.5" y="1245.1" font-size="21.6" text-anchor="middle" fill="#f00" textLength="73.0" lengthAdjust="spacingAndGlyphs">-100dB</text>
<path d="M189.9 1248.7v10.4M335.8 1248.7v10.4M481.7 1248.7v10.4M627.6 1248.7v10.4M773.5 1248.7v10.4" stroke="#f00" stroke-width="3.1" fill="none"/>
</svg></body></html>
